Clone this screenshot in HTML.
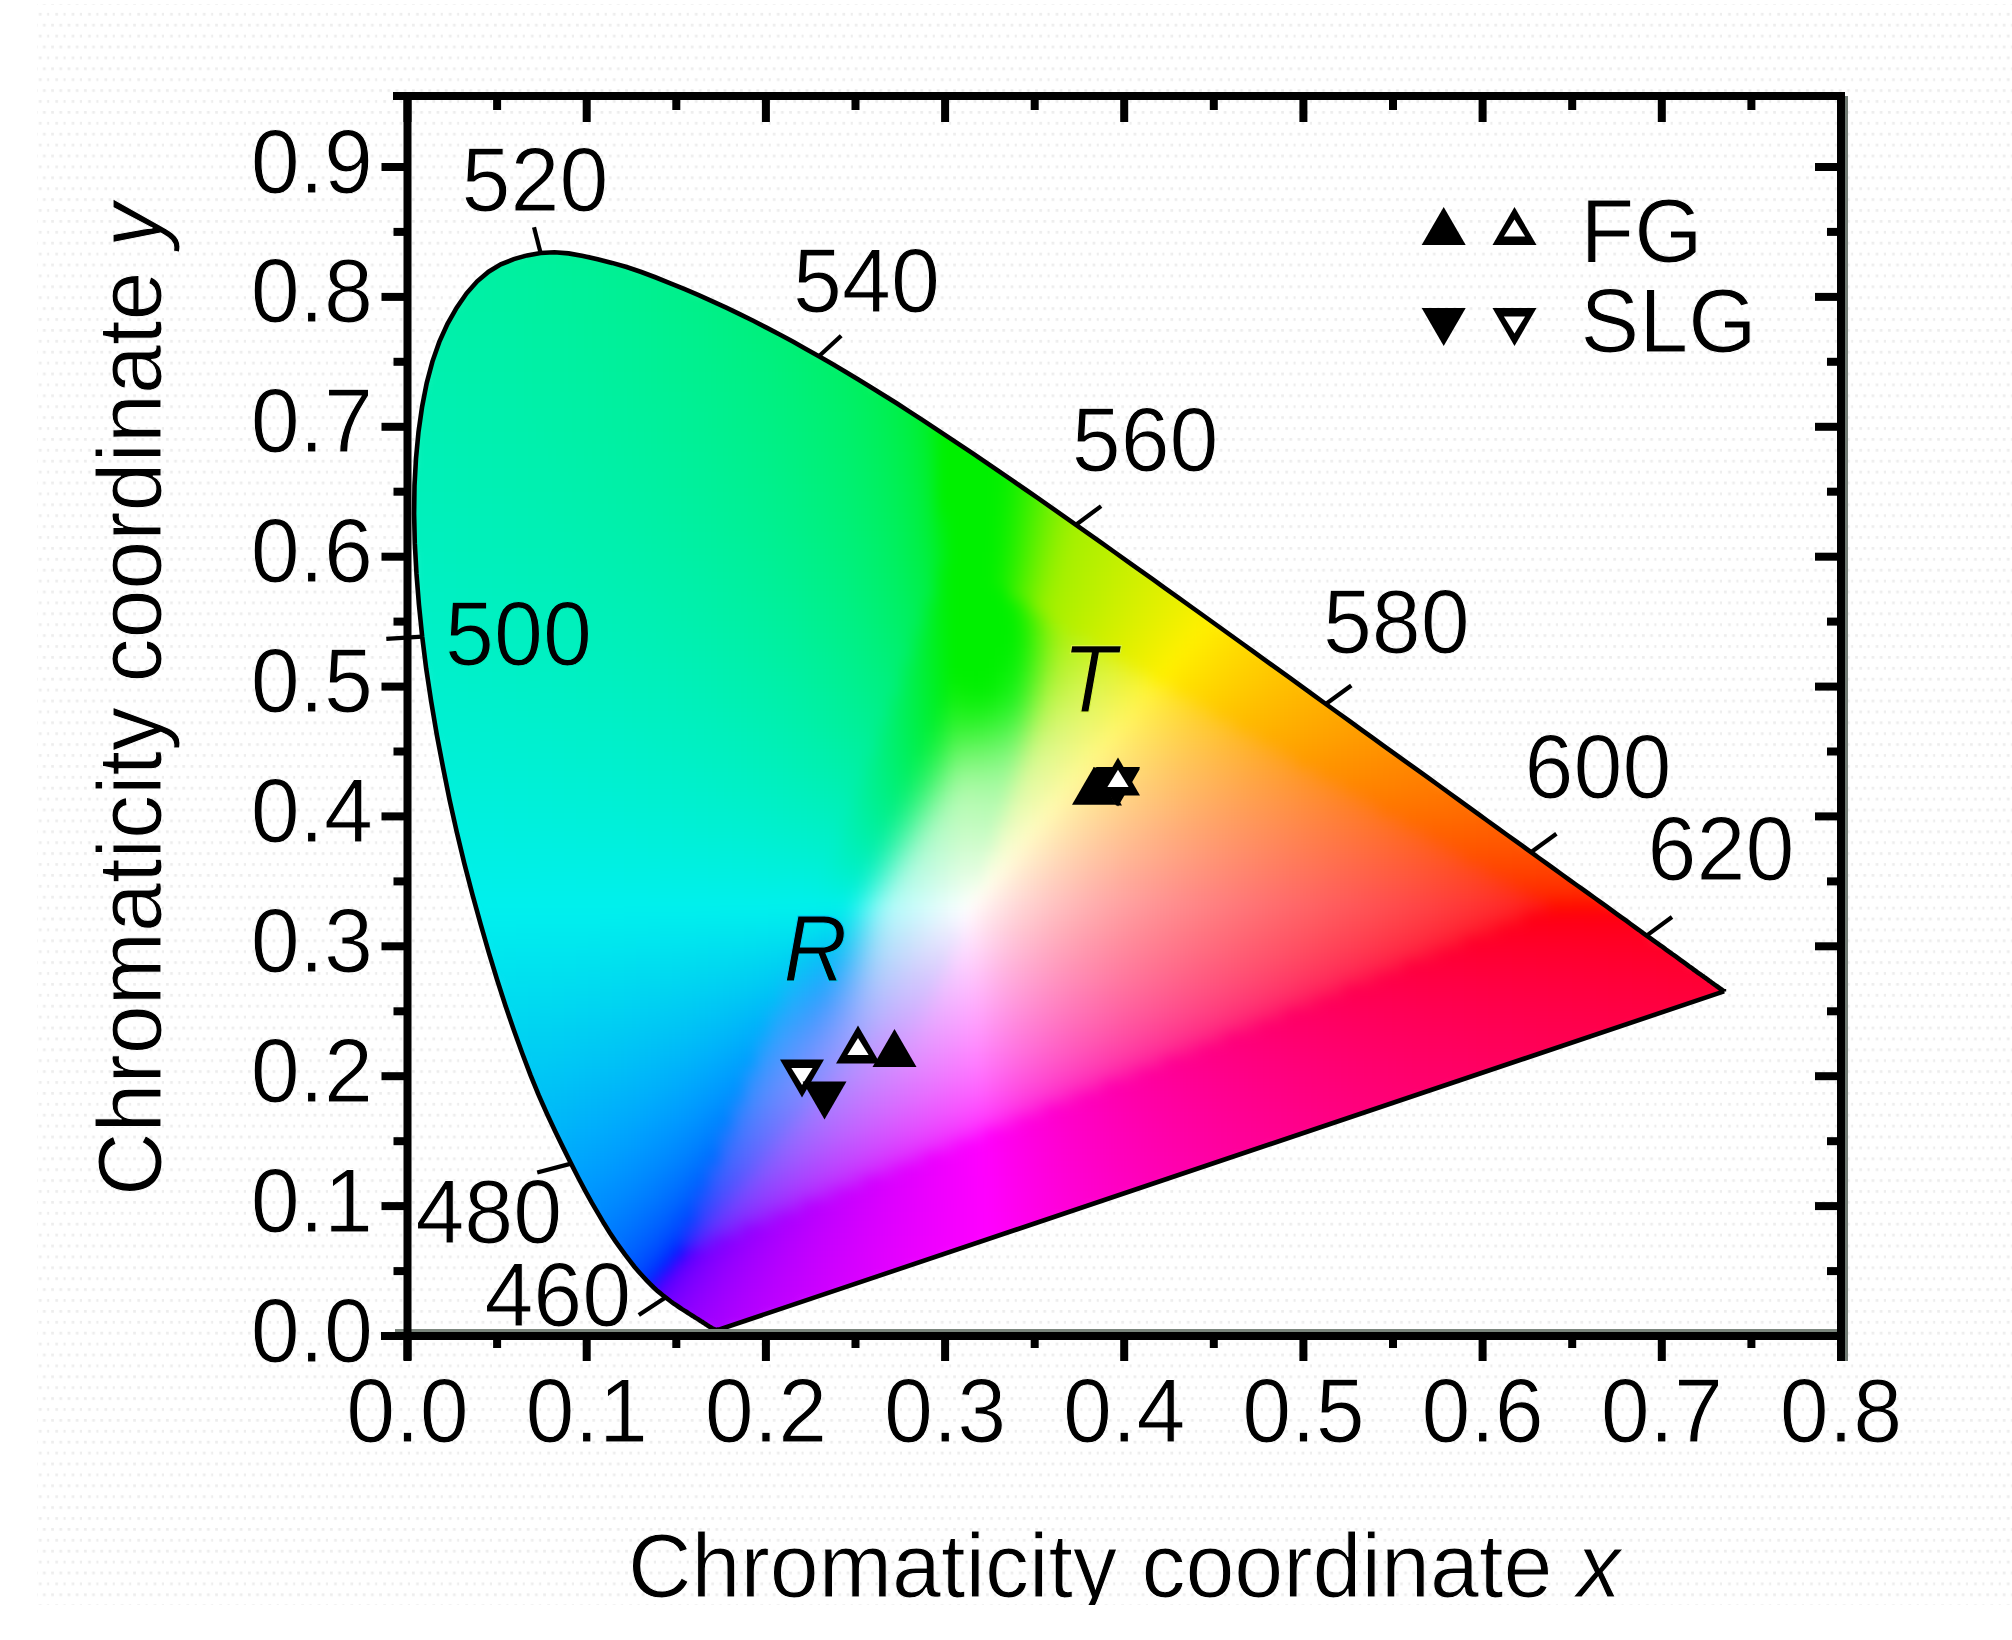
<!DOCTYPE html>
<html><head><meta charset="utf-8"><title>CIE chromaticity diagram</title>
<style>
html,body{margin:0;padding:0;background:#fff}
svg{display:block}
text{font-family:"Liberation Sans",sans-serif;font-size:88px;fill:#000}
.i{font-style:italic}
.t{stroke:#fff;stroke-width:1px}
</style></head><body>
<svg width="2012" height="1640" viewBox="0 0 2012 1640">
<defs>
<pattern id="dots" width="16.4" height="21.8" patternUnits="userSpaceOnUse"><rect x="2" y="2" width="2.7" height="2.7" fill="#ededed"/><rect x="10.2" y="2" width="2.7" height="2.7" fill="#ededed"/><rect x="6.1" y="12.9" width="2.7" height="2.7" fill="#ededed"/><rect x="14.3" y="12.9" width="2.7" height="2.7" fill="#ededed"/></pattern>
<clipPath id="lc"><path d="M719.5 1329.5 719.4 1329.5 719.4 1329.5 719.4 1329.5 719.3 1329.5 719.3 1329.5 719.2 1329.5 719.2 1329.6 719.1 1329.6 719.0 1329.6 718.9 1329.6 718.9 1329.6 718.8 1329.6 718.7 1329.6 718.7 1329.6 718.6 1329.6 718.5 1329.7 718.4 1329.7 718.3 1329.7 718.1 1329.7 718.0 1329.8 717.9 1329.8 717.8 1329.8 717.7 1329.8 717.6 1329.8 717.5 1329.8 717.4 1329.8 717.2 1329.8 717.1 1329.8 716.9 1329.8 716.8 1329.8 716.6 1329.8 716.4 1329.8 716.3 1329.8 716.1 1329.8 715.9 1329.8 715.7 1329.7 715.4 1329.7 715.2 1329.6 714.9 1329.5 714.6 1329.4 714.3 1329.2 713.9 1329.1 713.5 1328.9 713.1 1328.7 712.7 1328.5 712.2 1328.2 711.7 1328.0 711.3 1327.7 710.7 1327.4 710.1 1327.0 709.5 1326.7 708.8 1326.2 708.1 1325.8 707.4 1325.3 706.6 1324.8 705.7 1324.3 704.9 1323.7 704.0 1323.1 703.1 1322.5 702.1 1321.8 701.0 1321.2 699.9 1320.5 698.8 1319.7 697.5 1318.9 696.2 1318.1 694.7 1317.2 693.2 1316.2 691.6 1315.2 689.9 1314.1 688.1 1313.0 686.3 1311.8 684.4 1310.6 682.4 1309.4 680.3 1308.0 678.1 1306.5 675.8 1304.9 673.4 1303.3 670.9 1301.5 668.3 1299.5 665.5 1297.4 662.7 1295.2 659.9 1292.9 656.9 1290.4 653.7 1287.5 650.3 1284.2 646.6 1280.4 642.8 1276.3 638.7 1271.7 634.4 1266.7 629.9 1260.9 625.1 1254.7 620.2 1247.9 615.0 1240.6 609.6 1232.4 603.9 1223.3 597.9 1213.2 591.6 1202.4 585.1 1190.6 578.3 1177.7 571.1 1163.6 563.5 1148.4 555.5 1132.0 547.3 1114.5 538.9 1095.6 530.6 1075.3 522.3 1053.5 513.9 1030.2 505.4 1005.6 497.1 979.8 488.9 952.8 480.7 924.4 472.4 894.4 464.3 863.3 456.7 831.7 449.6 799.9 443.1 767.8 436.8 734.8 431.2 701.6 426.2 668.7 422.2 636.7 419.0 605.2 416.5 574.0 414.8 543.4 414.1 513.8 414.5 485.5 416.0 458.3 418.5 431.9 422.1 406.7 426.7 383.1 432.4 361.6 439.3 341.9 447.5 323.8 456.7 307.6 466.6 293.3 477.2 281.3 488.6 271.7 500.8 264.4 513.8 259.1 527.1 255.4 540.6 253.0 554.4 252.3 568.6 253.4 583.1 255.9 597.6 259.2 612.1 262.9 626.6 267.0 641.3 272.0 655.9 277.5 670.4 283.4 684.7 289.2 698.7 295.1 712.5 301.3 726.2 307.6 739.7 314.1 753.2 320.8 766.5 327.6 779.7 334.5 792.8 341.6 805.9 348.9 818.9 356.2 832.0 363.8 845.0 371.5 857.9 379.3 870.9 387.2 883.8 395.2 896.7 403.3 909.5 411.6 922.3 419.9 935.1 428.3 947.9 436.8 960.7 445.3 973.5 453.9 986.3 462.6 999.1 471.4 1011.9 480.2 1024.7 489.0 1037.6 497.9 1050.4 506.9 1063.2 515.8 1076.0 524.8 1088.8 533.9 1101.6 542.9 1114.4 552.0 1127.1 561.1 1139.8 570.2 1152.6 579.2 1165.3 588.3 1178.0 597.4 1190.7 606.5 1203.3 615.5 1215.8 624.5 1228.3 633.5 1240.8 642.5 1253.1 651.4 1265.4 660.3 1277.7 669.2 1289.9 677.9 1301.9 686.7 1313.9 695.4 1325.8 704.0 1337.6 712.5 1349.3 720.9 1360.9 729.3 1372.4 737.6 1383.7 745.8 1394.9 753.8 1406.0 761.8 1416.9 769.7 1427.7 777.4 1438.2 785.0 1448.5 792.5 1458.7 799.9 1468.7 807.1 1478.4 814.2 1487.8 821.0 1497.0 827.6 1505.8 834.0 1514.4 840.2 1522.8 846.2 1531.0 852.2 1539.0 858.0 1546.9 863.6 1554.5 869.1 1561.9 874.5 1569.0 879.6 1575.8 884.5 1582.4 889.2 1588.7 893.7 1594.7 898.0 1600.5 902.2 1606.1 906.2 1611.5 910.1 1616.6 913.8 1621.5 917.3 1626.2 920.7 1630.6 924.0 1634.9 927.1 1639.0 930.0 1642.8 932.9 1646.6 935.6 1650.2 938.1 1653.6 940.6 1656.8 942.9 1659.9 945.1 1662.9 947.2 1665.7 949.3 1668.5 951.3 1671.0 953.1 1673.5 955.0 1676.0 956.7 1678.3 958.4 1680.6 960.1 1682.8 961.7 1684.9 963.2 1686.9 964.6 1688.8 966.1 1690.7 967.4 1692.5 968.7 1694.2 970.0 1695.9 971.1 1697.4 972.3 1698.9 973.3 1700.4 974.3 1701.7 975.3 1703.0 976.2 1704.2 977.1 1705.4 977.9 1706.4 978.7 1707.4 979.4 1708.4 980.1 1709.3 980.8 1710.2 981.4 1711.0 982.0 1711.8 982.6 1712.5 983.1 1713.2 983.6 1713.9 984.1 1714.5 984.5 1715.0 984.9 1715.6 985.3 1716.0 985.6 1716.5 985.9 1716.8 986.2 1717.2 986.5 1717.5 986.7 1717.9 987.0 1718.2 987.2 1718.6 987.5 1718.9 987.7 1719.2 987.9 1719.4 988.1 1719.7 988.3 1719.9 988.5 1720.2 988.6 1720.4 988.8 1720.7 989.0 1720.9 989.2 1721.2 989.4 1721.4 989.5 1721.7 989.7 1721.9 989.9 1722.1 990.0 1722.3 990.2 1722.5 990.4 1722.7 990.5 1722.9 990.6 1723.1 990.7 1723.2 990.8 1723.3 990.9 1723.5 991.0 1723.6 991.1 1723.6 991.1 1723.7 991.2 1723.8 991.2 1723.8 991.3 1723.9 991.3 1723.9 991.3 1723.9 991.4 1724.0 991.4 1724.0 991.4Z"/></clipPath>
<filter id="bl" x="-5%" y="-5%" width="110%" height="110%" color-interpolation-filters="sRGB"><feGaussianBlur stdDeviation="0.55"/></filter>
</defs>
<rect x="0" y="0" width="2012" height="1640" fill="#fff"/>
<rect x="37" y="4" width="1975" height="1601" fill="url(#dots)"/>
<g clip-path="url(#lc)"><g id="cells" transform="scale(12)" filter="url(#bl)">
<path d="M43 20h1v1h-1z" fill="#00f09d"/>
<path d="M44 20h1v1h-1z" fill="#00f09c"/>
<path d="M45 20h1v1h-1z" fill="#00f09b"/>
<path d="M46 20h1v1h-1z" fill="#00f099"/>
<path d="M47 20h1v1h-1z" fill="#00f098"/>
<path d="M48 20h1v1h-1z" fill="#00f096"/>
<path d="M49 20h1v1h-1z" fill="#00f095"/>
<path d="M40 21h1v1h-1z" fill="#00f0a2"/>
<path d="M41 21h1v1h-1z" fill="#00f0a1"/>
<path d="M42 21h1v1h-1z" fill="#00f0a0"/>
<path d="M43 21h1v1h-1z" fill="#00f09e"/>
<path d="M44 21h1v1h-1z" fill="#00f09d"/>
<path d="M45 21h1v1h-1z" fill="#00f09c"/>
<path d="M46 21h1v1h-1z" fill="#00f09a"/>
<path d="M47 21h1v1h-1z" fill="#00f099"/>
<path d="M48 21h1v1h-1z" fill="#00f097"/>
<path d="M49 21h1v1h-1z" fill="#00f096"/>
<path d="M50 21h1v1h-1z" fill="#00f094"/>
<path d="M51 21h1v1h-1z" fill="#00f093"/>
<path d="M52 21h1v1h-1z" fill="#00f091"/>
<path d="M39 22h1v1h-1z" fill="#00f0a4"/>
<path d="M40 22h1v1h-1z" fill="#00f0a3"/>
<path d="M41 22h1v1h-1z" fill="#00f0a2"/>
<path d="M42 22h1v1h-1z" fill="#00f0a0"/>
<path d="M43 22h1v1h-1z" fill="#00f09f"/>
<path d="M44 22h1v1h-1z" fill="#00f09e"/>
<path d="M45 22h1v1h-1z" fill="#00f09d"/>
<path d="M46 22h1v1h-1z" fill="#00f09b"/>
<path d="M47 22h1v1h-1z" fill="#00f09a"/>
<path d="M48 22h1v1h-1z" fill="#00f098"/>
<path d="M49 22h1v1h-1z" fill="#00f097"/>
<path d="M50 22h1v1h-1z" fill="#00f095"/>
<path d="M51 22h1v1h-1z" fill="#00f093"/>
<path d="M52 22h1v1h-1z" fill="#00f092"/>
<path d="M53 22h1v1h-1z" fill="#00f090"/>
<path d="M54 22h1v1h-1z" fill="#00f08e"/>
<path d="M55 22h1v1h-1z" fill="#00f08c"/>
<path d="M38 23h1v1h-1z" fill="#00f0a6"/>
<path d="M39 23h1v1h-1z" fill="#00f0a5"/>
<path d="M40 23h1v1h-1z" fill="#00f0a4"/>
<path d="M41 23h1v1h-1z" fill="#00f0a2"/>
<path d="M42 23h1v1h-1z" fill="#00f0a1"/>
<path d="M43 23h1v1h-1z" fill="#00f0a0"/>
<path d="M44 23h1v1h-1z" fill="#00f09f"/>
<path d="M45 23h1v1h-1z" fill="#00f09d"/>
<path d="M46 23h1v1h-1z" fill="#00f09c"/>
<path d="M47 23h1v1h-1z" fill="#00f09b"/>
<path d="M48 23h1v1h-1z" fill="#00f099"/>
<path d="M49 23h1v1h-1z" fill="#00f098"/>
<path d="M50 23h1v1h-1z" fill="#00f096"/>
<path d="M51 23h1v1h-1z" fill="#00f094"/>
<path d="M52 23h1v1h-1z" fill="#00f093"/>
<path d="M53 23h1v1h-1z" fill="#00f091"/>
<path d="M54 23h1v1h-1z" fill="#00f08f"/>
<path d="M55 23h1v1h-1z" fill="#00f08d"/>
<path d="M56 23h1v1h-1z" fill="#00f08b"/>
<path d="M57 23h1v1h-1z" fill="#00f089"/>
<path d="M38 24h1v1h-1z" fill="#00f0a7"/>
<path d="M39 24h1v1h-1z" fill="#00f0a6"/>
<path d="M40 24h1v1h-1z" fill="#00f0a4"/>
<path d="M41 24h1v1h-1z" fill="#00f0a3"/>
<path d="M42 24h1v1h-1z" fill="#00f0a2"/>
<path d="M43 24h1v1h-1z" fill="#00f0a1"/>
<path d="M44 24h1v1h-1z" fill="#00f0a0"/>
<path d="M45 24h1v1h-1z" fill="#00f09e"/>
<path d="M46 24h1v1h-1z" fill="#00f09d"/>
<path d="M47 24h1v1h-1z" fill="#00f09c"/>
<path d="M48 24h1v1h-1z" fill="#00f09a"/>
<path d="M49 24h1v1h-1z" fill="#00f099"/>
<path d="M50 24h1v1h-1z" fill="#00f097"/>
<path d="M51 24h1v1h-1z" fill="#00f095"/>
<path d="M52 24h1v1h-1z" fill="#00f094"/>
<path d="M53 24h1v1h-1z" fill="#00f092"/>
<path d="M54 24h1v1h-1z" fill="#00f090"/>
<path d="M55 24h1v1h-1z" fill="#00f08e"/>
<path d="M56 24h1v1h-1z" fill="#00f08c"/>
<path d="M57 24h1v1h-1z" fill="#00f08a"/>
<path d="M58 24h1v1h-1z" fill="#00f088"/>
<path d="M59 24h1v1h-1z" fill="#00f085"/>
<path d="M60 24h1v1h-1z" fill="#00f083"/>
<path d="M37 25h1v1h-1z" fill="#00f0a9"/>
<path d="M38 25h1v1h-1z" fill="#00f0a8"/>
<path d="M39 25h1v1h-1z" fill="#00f0a6"/>
<path d="M40 25h1v1h-1z" fill="#00f0a5"/>
<path d="M41 25h1v1h-1z" fill="#00f0a4"/>
<path d="M42 25h1v1h-1z" fill="#00f0a3"/>
<path d="M43 25h1v1h-1z" fill="#00f0a2"/>
<path d="M44 25h1v1h-1z" fill="#00f0a1"/>
<path d="M45 25h1v1h-1z" fill="#00f09f"/>
<path d="M46 25h1v1h-1z" fill="#00f09e"/>
<path d="M47 25h1v1h-1z" fill="#00f09d"/>
<path d="M48 25h1v1h-1z" fill="#00f09b"/>
<path d="M49 25h1v1h-1z" fill="#00f09a"/>
<path d="M50 25h1v1h-1z" fill="#00f098"/>
<path d="M51 25h1v1h-1z" fill="#00f096"/>
<path d="M52 25h1v1h-1z" fill="#00f095"/>
<path d="M53 25h1v1h-1z" fill="#00f093"/>
<path d="M54 25h1v1h-1z" fill="#00f091"/>
<path d="M55 25h1v1h-1z" fill="#00f08f"/>
<path d="M56 25h1v1h-1z" fill="#00f08d"/>
<path d="M57 25h1v1h-1z" fill="#00f08b"/>
<path d="M58 25h1v1h-1z" fill="#00f089"/>
<path d="M59 25h1v1h-1z" fill="#00f086"/>
<path d="M60 25h1v1h-1z" fill="#00f084"/>
<path d="M61 25h1v1h-1z" fill="#00f081"/>
<path d="M62 25h1v1h-1z" fill="#00f07e"/>
<path d="M36 26h1v1h-1z" fill="#00f0aa"/>
<path d="M37 26h1v1h-1z" fill="#00f0a9"/>
<path d="M38 26h1v1h-1z" fill="#00f0a8"/>
<path d="M39 26h1v1h-1z" fill="#00f0a7"/>
<path d="M40 26h1v1h-1z" fill="#00f0a6"/>
<path d="M41 26h1v1h-1z" fill="#00f0a5"/>
<path d="M42 26h1v1h-1z" fill="#00f0a4"/>
<path d="M43 26h1v1h-1z" fill="#00f0a3"/>
<path d="M44 26h1v1h-1z" fill="#00f0a1"/>
<path d="M45 26h1v1h-1z" fill="#00f0a0"/>
<path d="M46 26h1v1h-1z" fill="#00f09f"/>
<path d="M47 26h1v1h-1z" fill="#00f09d"/>
<path d="M48 26h1v1h-1z" fill="#00f09c"/>
<path d="M49 26h1v1h-1z" fill="#00f09a"/>
<path d="M50 26h1v1h-1z" fill="#00f099"/>
<path d="M51 26h1v1h-1z" fill="#00f097"/>
<path d="M52 26h1v1h-1z" fill="#00f096"/>
<path d="M53 26h1v1h-1z" fill="#00f094"/>
<path d="M54 26h1v1h-1z" fill="#00f092"/>
<path d="M55 26h1v1h-1z" fill="#00f090"/>
<path d="M56 26h1v1h-1z" fill="#00f08e"/>
<path d="M57 26h1v1h-1z" fill="#00f08c"/>
<path d="M58 26h1v1h-1z" fill="#00f08a"/>
<path d="M59 26h1v1h-1z" fill="#00f087"/>
<path d="M60 26h1v1h-1z" fill="#00f085"/>
<path d="M61 26h1v1h-1z" fill="#00f082"/>
<path d="M62 26h1v1h-1z" fill="#00f07f"/>
<path d="M63 26h1v1h-1z" fill="#00f07c"/>
<path d="M64 26h1v1h-1z" fill="#00f079"/>
<path d="M36 27h1v1h-1z" fill="#00f0ab"/>
<path d="M37 27h1v1h-1z" fill="#00f0aa"/>
<path d="M38 27h1v1h-1z" fill="#00f0a9"/>
<path d="M39 27h1v1h-1z" fill="#00f0a8"/>
<path d="M40 27h1v1h-1z" fill="#00f0a7"/>
<path d="M41 27h1v1h-1z" fill="#00f0a6"/>
<path d="M42 27h1v1h-1z" fill="#00f0a5"/>
<path d="M43 27h1v1h-1z" fill="#00f0a4"/>
<path d="M44 27h1v1h-1z" fill="#00f0a2"/>
<path d="M45 27h1v1h-1z" fill="#00f0a1"/>
<path d="M46 27h1v1h-1z" fill="#00f0a0"/>
<path d="M47 27h1v1h-1z" fill="#00f09e"/>
<path d="M48 27h1v1h-1z" fill="#00f09d"/>
<path d="M49 27h1v1h-1z" fill="#00f09b"/>
<path d="M50 27h1v1h-1z" fill="#00f09a"/>
<path d="M51 27h1v1h-1z" fill="#00f098"/>
<path d="M52 27h1v1h-1z" fill="#00f097"/>
<path d="M53 27h1v1h-1z" fill="#00f095"/>
<path d="M54 27h1v1h-1z" fill="#00f093"/>
<path d="M55 27h1v1h-1z" fill="#00f091"/>
<path d="M56 27h1v1h-1z" fill="#00f08f"/>
<path d="M57 27h1v1h-1z" fill="#00f08d"/>
<path d="M58 27h1v1h-1z" fill="#00f08b"/>
<path d="M59 27h1v1h-1z" fill="#00f088"/>
<path d="M60 27h1v1h-1z" fill="#00f086"/>
<path d="M61 27h1v1h-1z" fill="#00f083"/>
<path d="M62 27h1v1h-1z" fill="#00f080"/>
<path d="M63 27h1v1h-1z" fill="#00f07d"/>
<path d="M64 27h1v1h-1z" fill="#00f07a"/>
<path d="M65 27h1v1h-1z" fill="#00f077"/>
<path d="M66 27h1v1h-1z" fill="#00f073"/>
<path d="M35 28h1v1h-1z" fill="#00f0ad"/>
<path d="M36 28h1v1h-1z" fill="#00f0ac"/>
<path d="M37 28h1v1h-1z" fill="#00f0ab"/>
<path d="M38 28h1v1h-1z" fill="#00f0aa"/>
<path d="M39 28h1v1h-1z" fill="#00f0a9"/>
<path d="M40 28h1v1h-1z" fill="#00f0a8"/>
<path d="M41 28h1v1h-1z" fill="#00f0a7"/>
<path d="M42 28h1v1h-1z" fill="#00f0a6"/>
<path d="M43 28h1v1h-1z" fill="#00f0a5"/>
<path d="M44 28h1v1h-1z" fill="#00f0a3"/>
<path d="M45 28h1v1h-1z" fill="#00f0a2"/>
<path d="M46 28h1v1h-1z" fill="#00f0a1"/>
<path d="M47 28h1v1h-1z" fill="#00f09f"/>
<path d="M48 28h1v1h-1z" fill="#00f09e"/>
<path d="M49 28h1v1h-1z" fill="#00f09c"/>
<path d="M50 28h1v1h-1z" fill="#00f09b"/>
<path d="M51 28h1v1h-1z" fill="#00f099"/>
<path d="M52 28h1v1h-1z" fill="#00f098"/>
<path d="M53 28h1v1h-1z" fill="#00f096"/>
<path d="M54 28h1v1h-1z" fill="#00f094"/>
<path d="M55 28h1v1h-1z" fill="#00f092"/>
<path d="M56 28h1v1h-1z" fill="#00f090"/>
<path d="M57 28h1v1h-1z" fill="#00f08e"/>
<path d="M58 28h1v1h-1z" fill="#00f08c"/>
<path d="M59 28h1v1h-1z" fill="#00f089"/>
<path d="M60 28h1v1h-1z" fill="#00f087"/>
<path d="M61 28h1v1h-1z" fill="#00f084"/>
<path d="M62 28h1v1h-1z" fill="#00f081"/>
<path d="M63 28h1v1h-1z" fill="#00f07e"/>
<path d="M64 28h1v1h-1z" fill="#00f07b"/>
<path d="M65 28h1v1h-1z" fill="#00f078"/>
<path d="M66 28h1v1h-1z" fill="#00f074"/>
<path d="M67 28h1v1h-1z" fill="#00f070"/>
<path d="M35 29h1v1h-1z" fill="#00f0ae"/>
<path d="M36 29h1v1h-1z" fill="#00f0ad"/>
<path d="M37 29h1v1h-1z" fill="#00f0ac"/>
<path d="M38 29h1v1h-1z" fill="#00f0ab"/>
<path d="M39 29h1v1h-1z" fill="#00f0aa"/>
<path d="M40 29h1v1h-1z" fill="#00f0a9"/>
<path d="M41 29h1v1h-1z" fill="#00f0a8"/>
<path d="M42 29h1v1h-1z" fill="#00f0a7"/>
<path d="M43 29h1v1h-1z" fill="#00f0a6"/>
<path d="M44 29h1v1h-1z" fill="#00f0a4"/>
<path d="M45 29h1v1h-1z" fill="#00f0a3"/>
<path d="M46 29h1v1h-1z" fill="#00f0a2"/>
<path d="M47 29h1v1h-1z" fill="#00f0a0"/>
<path d="M48 29h1v1h-1z" fill="#00f09f"/>
<path d="M49 29h1v1h-1z" fill="#00f09d"/>
<path d="M50 29h1v1h-1z" fill="#00f09c"/>
<path d="M51 29h1v1h-1z" fill="#00f09a"/>
<path d="M52 29h1v1h-1z" fill="#00f099"/>
<path d="M53 29h1v1h-1z" fill="#00f097"/>
<path d="M54 29h1v1h-1z" fill="#00f095"/>
<path d="M55 29h1v1h-1z" fill="#00f093"/>
<path d="M56 29h1v1h-1z" fill="#00f091"/>
<path d="M57 29h1v1h-1z" fill="#00f08f"/>
<path d="M58 29h1v1h-1z" fill="#00f08d"/>
<path d="M59 29h1v1h-1z" fill="#00f08a"/>
<path d="M60 29h1v1h-1z" fill="#00f088"/>
<path d="M61 29h1v1h-1z" fill="#00f085"/>
<path d="M62 29h1v1h-1z" fill="#00f083"/>
<path d="M63 29h1v1h-1z" fill="#00f080"/>
<path d="M64 29h1v1h-1z" fill="#00f07c"/>
<path d="M65 29h1v1h-1z" fill="#00f079"/>
<path d="M66 29h1v1h-1z" fill="#00f075"/>
<path d="M67 29h1v1h-1z" fill="#00f071"/>
<path d="M68 29h1v1h-1z" fill="#00f06d"/>
<path d="M69 29h1v1h-1z" fill="#00f069"/>
<path d="M35 30h1v1h-1z" fill="#00f0af"/>
<path d="M36 30h1v1h-1z" fill="#00f0ae"/>
<path d="M37 30h1v1h-1z" fill="#00f0ad"/>
<path d="M38 30h1v1h-1z" fill="#00f0ac"/>
<path d="M39 30h1v1h-1z" fill="#00f0ab"/>
<path d="M40 30h1v1h-1z" fill="#00f0aa"/>
<path d="M41 30h1v1h-1z" fill="#00f0a9"/>
<path d="M42 30h1v1h-1z" fill="#00f0a8"/>
<path d="M43 30h1v1h-1z" fill="#00f0a7"/>
<path d="M44 30h1v1h-1z" fill="#00f0a5"/>
<path d="M45 30h1v1h-1z" fill="#00f0a4"/>
<path d="M46 30h1v1h-1z" fill="#00f0a3"/>
<path d="M47 30h1v1h-1z" fill="#00f0a1"/>
<path d="M48 30h1v1h-1z" fill="#00f0a0"/>
<path d="M49 30h1v1h-1z" fill="#00f09f"/>
<path d="M50 30h1v1h-1z" fill="#00f09d"/>
<path d="M51 30h1v1h-1z" fill="#00f09b"/>
<path d="M52 30h1v1h-1z" fill="#00f09a"/>
<path d="M53 30h1v1h-1z" fill="#00f098"/>
<path d="M54 30h1v1h-1z" fill="#00f096"/>
<path d="M55 30h1v1h-1z" fill="#00f094"/>
<path d="M56 30h1v1h-1z" fill="#00f092"/>
<path d="M57 30h1v1h-1z" fill="#00f090"/>
<path d="M58 30h1v1h-1z" fill="#00f08e"/>
<path d="M59 30h1v1h-1z" fill="#00f08c"/>
<path d="M60 30h1v1h-1z" fill="#00f089"/>
<path d="M61 30h1v1h-1z" fill="#00f086"/>
<path d="M62 30h1v1h-1z" fill="#00f084"/>
<path d="M63 30h1v1h-1z" fill="#00f081"/>
<path d="M64 30h1v1h-1z" fill="#00f07e"/>
<path d="M65 30h1v1h-1z" fill="#00f07a"/>
<path d="M66 30h1v1h-1z" fill="#00f077"/>
<path d="M67 30h1v1h-1z" fill="#00f073"/>
<path d="M68 30h1v1h-1z" fill="#00f06e"/>
<path d="M69 30h1v1h-1z" fill="#00f06a"/>
<path d="M70 30h1v1h-1z" fill="#00f065"/>
<path d="M71 30h1v1h-1z" fill="#00f05f"/>
<path d="M35 31h1v1h-1z" fill="#00f0b0"/>
<path d="M36 31h1v1h-1z" fill="#00f0af"/>
<path d="M37 31h1v1h-1z" fill="#00f0ae"/>
<path d="M38 31h1v1h-1z" fill="#00f0ad"/>
<path d="M39 31h1v1h-1z" fill="#00f0ac"/>
<path d="M40 31h1v1h-1z" fill="#00f0ab"/>
<path d="M41 31h1v1h-1z" fill="#00f0aa"/>
<path d="M42 31h1v1h-1z" fill="#00f0a9"/>
<path d="M43 31h1v1h-1z" fill="#00f0a8"/>
<path d="M44 31h1v1h-1z" fill="#00f0a6"/>
<path d="M45 31h1v1h-1z" fill="#00f0a5"/>
<path d="M46 31h1v1h-1z" fill="#00f0a4"/>
<path d="M47 31h1v1h-1z" fill="#00f0a2"/>
<path d="M48 31h1v1h-1z" fill="#00f0a1"/>
<path d="M49 31h1v1h-1z" fill="#00f0a0"/>
<path d="M50 31h1v1h-1z" fill="#00f09e"/>
<path d="M51 31h1v1h-1z" fill="#00f09c"/>
<path d="M52 31h1v1h-1z" fill="#00f09b"/>
<path d="M53 31h1v1h-1z" fill="#00f099"/>
<path d="M54 31h1v1h-1z" fill="#00f097"/>
<path d="M55 31h1v1h-1z" fill="#00f095"/>
<path d="M56 31h1v1h-1z" fill="#00f093"/>
<path d="M57 31h1v1h-1z" fill="#00f091"/>
<path d="M58 31h1v1h-1z" fill="#00f08f"/>
<path d="M59 31h1v1h-1z" fill="#00f08d"/>
<path d="M60 31h1v1h-1z" fill="#00f08a"/>
<path d="M61 31h1v1h-1z" fill="#00f088"/>
<path d="M62 31h1v1h-1z" fill="#00f085"/>
<path d="M63 31h1v1h-1z" fill="#00f082"/>
<path d="M64 31h1v1h-1z" fill="#00f07f"/>
<path d="M65 31h1v1h-1z" fill="#00f07b"/>
<path d="M66 31h1v1h-1z" fill="#00f078"/>
<path d="M67 31h1v1h-1z" fill="#00f074"/>
<path d="M68 31h1v1h-1z" fill="#00f070"/>
<path d="M69 31h1v1h-1z" fill="#00f06b"/>
<path d="M70 31h1v1h-1z" fill="#00f066"/>
<path d="M71 31h1v1h-1z" fill="#00f060"/>
<path d="M72 31h1v1h-1z" fill="#00f05a"/>
<path d="M34 32h1v1h-1z" fill="#00f0b2"/>
<path d="M35 32h1v1h-1z" fill="#00f0b1"/>
<path d="M36 32h1v1h-1z" fill="#00f0b0"/>
<path d="M37 32h1v1h-1z" fill="#00f0af"/>
<path d="M38 32h1v1h-1z" fill="#00f0ae"/>
<path d="M39 32h1v1h-1z" fill="#00f0ad"/>
<path d="M40 32h1v1h-1z" fill="#00f0ac"/>
<path d="M41 32h1v1h-1z" fill="#00f0ab"/>
<path d="M42 32h1v1h-1z" fill="#00f0aa"/>
<path d="M43 32h1v1h-1z" fill="#00f0a9"/>
<path d="M44 32h1v1h-1z" fill="#00f0a7"/>
<path d="M45 32h1v1h-1z" fill="#00f0a6"/>
<path d="M46 32h1v1h-1z" fill="#00f0a5"/>
<path d="M47 32h1v1h-1z" fill="#00f0a3"/>
<path d="M48 32h1v1h-1z" fill="#00f0a2"/>
<path d="M49 32h1v1h-1z" fill="#00f0a1"/>
<path d="M50 32h1v1h-1z" fill="#00f09f"/>
<path d="M51 32h1v1h-1z" fill="#00f09e"/>
<path d="M52 32h1v1h-1z" fill="#00f09c"/>
<path d="M53 32h1v1h-1z" fill="#00f09a"/>
<path d="M54 32h1v1h-1z" fill="#00f098"/>
<path d="M55 32h1v1h-1z" fill="#00f096"/>
<path d="M56 32h1v1h-1z" fill="#00f094"/>
<path d="M57 32h1v1h-1z" fill="#00f092"/>
<path d="M58 32h1v1h-1z" fill="#00f090"/>
<path d="M59 32h1v1h-1z" fill="#00f08e"/>
<path d="M60 32h1v1h-1z" fill="#00f08b"/>
<path d="M61 32h1v1h-1z" fill="#00f089"/>
<path d="M62 32h1v1h-1z" fill="#00f086"/>
<path d="M63 32h1v1h-1z" fill="#00f083"/>
<path d="M64 32h1v1h-1z" fill="#00f080"/>
<path d="M65 32h1v1h-1z" fill="#00f07d"/>
<path d="M66 32h1v1h-1z" fill="#00f079"/>
<path d="M67 32h1v1h-1z" fill="#00f075"/>
<path d="M68 32h1v1h-1z" fill="#00f071"/>
<path d="M69 32h1v1h-1z" fill="#00f06c"/>
<path d="M70 32h1v1h-1z" fill="#00f067"/>
<path d="M71 32h1v1h-1z" fill="#00f061"/>
<path d="M72 32h1v1h-1z" fill="#00f05b"/>
<path d="M73 32h1v1h-1z" fill="#00f054"/>
<path d="M74 32h1v1h-1z" fill="#00f04b"/>
<path d="M34 33h1v1h-1z" fill="#00f0b3"/>
<path d="M35 33h1v1h-1z" fill="#00f0b2"/>
<path d="M36 33h1v1h-1z" fill="#00f0b1"/>
<path d="M37 33h1v1h-1z" fill="#00f0b0"/>
<path d="M38 33h1v1h-1z" fill="#00f0af"/>
<path d="M39 33h1v1h-1z" fill="#00f0ae"/>
<path d="M40 33h1v1h-1z" fill="#00f0ad"/>
<path d="M41 33h1v1h-1z" fill="#00f0ac"/>
<path d="M42 33h1v1h-1z" fill="#00f0ab"/>
<path d="M43 33h1v1h-1z" fill="#00f0aa"/>
<path d="M44 33h1v1h-1z" fill="#00f0a8"/>
<path d="M45 33h1v1h-1z" fill="#00f0a7"/>
<path d="M46 33h1v1h-1z" fill="#00f0a6"/>
<path d="M47 33h1v1h-1z" fill="#00f0a5"/>
<path d="M48 33h1v1h-1z" fill="#00f0a3"/>
<path d="M49 33h1v1h-1z" fill="#00f0a2"/>
<path d="M50 33h1v1h-1z" fill="#00f0a0"/>
<path d="M51 33h1v1h-1z" fill="#00f09f"/>
<path d="M52 33h1v1h-1z" fill="#00f09d"/>
<path d="M53 33h1v1h-1z" fill="#00f09b"/>
<path d="M54 33h1v1h-1z" fill="#00f099"/>
<path d="M55 33h1v1h-1z" fill="#00f098"/>
<path d="M56 33h1v1h-1z" fill="#00f096"/>
<path d="M57 33h1v1h-1z" fill="#00f094"/>
<path d="M58 33h1v1h-1z" fill="#00f091"/>
<path d="M59 33h1v1h-1z" fill="#00f08f"/>
<path d="M60 33h1v1h-1z" fill="#00f08d"/>
<path d="M61 33h1v1h-1z" fill="#00f08a"/>
<path d="M62 33h1v1h-1z" fill="#00f087"/>
<path d="M63 33h1v1h-1z" fill="#00f084"/>
<path d="M64 33h1v1h-1z" fill="#00f081"/>
<path d="M65 33h1v1h-1z" fill="#00f07e"/>
<path d="M66 33h1v1h-1z" fill="#00f07a"/>
<path d="M67 33h1v1h-1z" fill="#00f076"/>
<path d="M68 33h1v1h-1z" fill="#00f072"/>
<path d="M69 33h1v1h-1z" fill="#00f06d"/>
<path d="M70 33h1v1h-1z" fill="#00f068"/>
<path d="M71 33h1v1h-1z" fill="#00f063"/>
<path d="M72 33h1v1h-1z" fill="#00f05c"/>
<path d="M73 33h1v1h-1z" fill="#00f055"/>
<path d="M74 33h1v1h-1z" fill="#00f04d"/>
<path d="M75 33h1v1h-1z" fill="#00f042"/>
<path d="M76 33h1v1h-1z" fill="#00f035"/>
<path d="M34 34h1v1h-1z" fill="#00f0b4"/>
<path d="M35 34h1v1h-1z" fill="#00f0b3"/>
<path d="M36 34h1v1h-1z" fill="#00f0b2"/>
<path d="M37 34h1v1h-1z" fill="#00f0b1"/>
<path d="M38 34h1v1h-1z" fill="#00f0b0"/>
<path d="M39 34h1v1h-1z" fill="#00f0af"/>
<path d="M40 34h1v1h-1z" fill="#00f0ae"/>
<path d="M41 34h1v1h-1z" fill="#00f0ad"/>
<path d="M42 34h1v1h-1z" fill="#00f0ac"/>
<path d="M43 34h1v1h-1z" fill="#00f0ab"/>
<path d="M44 34h1v1h-1z" fill="#00f0a9"/>
<path d="M45 34h1v1h-1z" fill="#00f0a8"/>
<path d="M46 34h1v1h-1z" fill="#00f0a7"/>
<path d="M47 34h1v1h-1z" fill="#00f0a6"/>
<path d="M48 34h1v1h-1z" fill="#00f0a4"/>
<path d="M49 34h1v1h-1z" fill="#00f0a3"/>
<path d="M50 34h1v1h-1z" fill="#00f0a1"/>
<path d="M51 34h1v1h-1z" fill="#00f0a0"/>
<path d="M52 34h1v1h-1z" fill="#00f09e"/>
<path d="M53 34h1v1h-1z" fill="#00f09c"/>
<path d="M54 34h1v1h-1z" fill="#00f09b"/>
<path d="M55 34h1v1h-1z" fill="#00f099"/>
<path d="M56 34h1v1h-1z" fill="#00f097"/>
<path d="M57 34h1v1h-1z" fill="#00f095"/>
<path d="M58 34h1v1h-1z" fill="#00f093"/>
<path d="M59 34h1v1h-1z" fill="#00f090"/>
<path d="M60 34h1v1h-1z" fill="#00f08e"/>
<path d="M61 34h1v1h-1z" fill="#00f08b"/>
<path d="M62 34h1v1h-1z" fill="#00f088"/>
<path d="M63 34h1v1h-1z" fill="#00f086"/>
<path d="M64 34h1v1h-1z" fill="#00f082"/>
<path d="M65 34h1v1h-1z" fill="#00f07f"/>
<path d="M66 34h1v1h-1z" fill="#00f07b"/>
<path d="M67 34h1v1h-1z" fill="#00f078"/>
<path d="M68 34h1v1h-1z" fill="#00f073"/>
<path d="M69 34h1v1h-1z" fill="#00f06f"/>
<path d="M70 34h1v1h-1z" fill="#00f06a"/>
<path d="M71 34h1v1h-1z" fill="#00f064"/>
<path d="M72 34h1v1h-1z" fill="#00f05e"/>
<path d="M73 34h1v1h-1z" fill="#00f056"/>
<path d="M74 34h1v1h-1z" fill="#00f04e"/>
<path d="M75 34h1v1h-1z" fill="#00f044"/>
<path d="M76 34h1v1h-1z" fill="#00f036"/>
<path d="M77 34h1v1h-1z" fill="#00f021"/>
<path d="M34 35h1v1h-1z" fill="#00f0b5"/>
<path d="M35 35h1v1h-1z" fill="#00f0b4"/>
<path d="M36 35h1v1h-1z" fill="#00f0b3"/>
<path d="M37 35h1v1h-1z" fill="#00f0b2"/>
<path d="M38 35h1v1h-1z" fill="#00f0b1"/>
<path d="M39 35h1v1h-1z" fill="#00f0b0"/>
<path d="M40 35h1v1h-1z" fill="#00f0af"/>
<path d="M41 35h1v1h-1z" fill="#00f0ae"/>
<path d="M42 35h1v1h-1z" fill="#00f0ad"/>
<path d="M43 35h1v1h-1z" fill="#00f0ac"/>
<path d="M44 35h1v1h-1z" fill="#00f0ab"/>
<path d="M45 35h1v1h-1z" fill="#00f0a9"/>
<path d="M46 35h1v1h-1z" fill="#00f0a8"/>
<path d="M47 35h1v1h-1z" fill="#00f0a7"/>
<path d="M48 35h1v1h-1z" fill="#00f0a5"/>
<path d="M49 35h1v1h-1z" fill="#00f0a4"/>
<path d="M50 35h1v1h-1z" fill="#00f0a2"/>
<path d="M51 35h1v1h-1z" fill="#00f0a1"/>
<path d="M52 35h1v1h-1z" fill="#00f09f"/>
<path d="M53 35h1v1h-1z" fill="#00f09e"/>
<path d="M54 35h1v1h-1z" fill="#00f09c"/>
<path d="M55 35h1v1h-1z" fill="#00f09a"/>
<path d="M56 35h1v1h-1z" fill="#00f098"/>
<path d="M57 35h1v1h-1z" fill="#00f096"/>
<path d="M58 35h1v1h-1z" fill="#00f094"/>
<path d="M59 35h1v1h-1z" fill="#00f091"/>
<path d="M60 35h1v1h-1z" fill="#00f08f"/>
<path d="M61 35h1v1h-1z" fill="#00f08c"/>
<path d="M62 35h1v1h-1z" fill="#00f08a"/>
<path d="M63 35h1v1h-1z" fill="#00f087"/>
<path d="M64 35h1v1h-1z" fill="#00f084"/>
<path d="M65 35h1v1h-1z" fill="#00f080"/>
<path d="M66 35h1v1h-1z" fill="#00f07d"/>
<path d="M67 35h1v1h-1z" fill="#00f079"/>
<path d="M68 35h1v1h-1z" fill="#00f075"/>
<path d="M69 35h1v1h-1z" fill="#00f070"/>
<path d="M70 35h1v1h-1z" fill="#00f06b"/>
<path d="M71 35h1v1h-1z" fill="#00f065"/>
<path d="M72 35h1v1h-1z" fill="#00f05f"/>
<path d="M73 35h1v1h-1z" fill="#00f058"/>
<path d="M74 35h1v1h-1z" fill="#00f04f"/>
<path d="M75 35h1v1h-1z" fill="#00f045"/>
<path d="M76 35h1v1h-1z" fill="#00f038"/>
<path d="M77 35h1v1h-1z" fill="#00f023"/>
<path d="M78 35h1v1h-1z" fill="#00f000"/>
<path d="M79 35h1v1h-1z" fill="#00f000"/>
<path d="M34 36h1v1h-1z" fill="#00f0b6"/>
<path d="M35 36h1v1h-1z" fill="#00f0b5"/>
<path d="M36 36h1v1h-1z" fill="#00f0b4"/>
<path d="M37 36h1v1h-1z" fill="#00f0b3"/>
<path d="M38 36h1v1h-1z" fill="#00f0b2"/>
<path d="M39 36h1v1h-1z" fill="#00f0b1"/>
<path d="M40 36h1v1h-1z" fill="#00f0b0"/>
<path d="M41 36h1v1h-1z" fill="#00f0af"/>
<path d="M42 36h1v1h-1z" fill="#00f0ae"/>
<path d="M43 36h1v1h-1z" fill="#00f0ad"/>
<path d="M44 36h1v1h-1z" fill="#00f0ac"/>
<path d="M45 36h1v1h-1z" fill="#00f0aa"/>
<path d="M46 36h1v1h-1z" fill="#00f0a9"/>
<path d="M47 36h1v1h-1z" fill="#00f0a8"/>
<path d="M48 36h1v1h-1z" fill="#00f0a6"/>
<path d="M49 36h1v1h-1z" fill="#00f0a5"/>
<path d="M50 36h1v1h-1z" fill="#00f0a4"/>
<path d="M51 36h1v1h-1z" fill="#00f0a2"/>
<path d="M52 36h1v1h-1z" fill="#00f0a0"/>
<path d="M53 36h1v1h-1z" fill="#00f09f"/>
<path d="M54 36h1v1h-1z" fill="#00f09d"/>
<path d="M55 36h1v1h-1z" fill="#00f09b"/>
<path d="M56 36h1v1h-1z" fill="#00f099"/>
<path d="M57 36h1v1h-1z" fill="#00f097"/>
<path d="M58 36h1v1h-1z" fill="#00f095"/>
<path d="M59 36h1v1h-1z" fill="#00f093"/>
<path d="M60 36h1v1h-1z" fill="#00f090"/>
<path d="M61 36h1v1h-1z" fill="#00f08e"/>
<path d="M62 36h1v1h-1z" fill="#00f08b"/>
<path d="M63 36h1v1h-1z" fill="#00f088"/>
<path d="M64 36h1v1h-1z" fill="#00f085"/>
<path d="M65 36h1v1h-1z" fill="#00f082"/>
<path d="M66 36h1v1h-1z" fill="#00f07e"/>
<path d="M67 36h1v1h-1z" fill="#00f07a"/>
<path d="M68 36h1v1h-1z" fill="#00f076"/>
<path d="M69 36h1v1h-1z" fill="#00f071"/>
<path d="M70 36h1v1h-1z" fill="#00f06c"/>
<path d="M71 36h1v1h-1z" fill="#00f067"/>
<path d="M72 36h1v1h-1z" fill="#00f060"/>
<path d="M73 36h1v1h-1z" fill="#00f059"/>
<path d="M74 36h1v1h-1z" fill="#00f051"/>
<path d="M75 36h1v1h-1z" fill="#00f047"/>
<path d="M76 36h1v1h-1z" fill="#00f039"/>
<path d="M77 36h1v1h-1z" fill="#00f025"/>
<path d="M78 36h1v1h-1z" fill="#00f000"/>
<path d="M79 36h1v1h-1z" fill="#00f000"/>
<path d="M80 36h1v1h-1z" fill="#00f000"/>
<path d="M34 37h1v1h-1z" fill="#00f0b7"/>
<path d="M35 37h1v1h-1z" fill="#00f0b6"/>
<path d="M36 37h1v1h-1z" fill="#00f0b5"/>
<path d="M37 37h1v1h-1z" fill="#00f0b4"/>
<path d="M38 37h1v1h-1z" fill="#00f0b3"/>
<path d="M39 37h1v1h-1z" fill="#00f0b2"/>
<path d="M40 37h1v1h-1z" fill="#00f0b1"/>
<path d="M41 37h1v1h-1z" fill="#00f0b0"/>
<path d="M42 37h1v1h-1z" fill="#00f0af"/>
<path d="M43 37h1v1h-1z" fill="#00f0ae"/>
<path d="M44 37h1v1h-1z" fill="#00f0ad"/>
<path d="M45 37h1v1h-1z" fill="#00f0ac"/>
<path d="M46 37h1v1h-1z" fill="#00f0aa"/>
<path d="M47 37h1v1h-1z" fill="#00f0a9"/>
<path d="M48 37h1v1h-1z" fill="#00f0a8"/>
<path d="M49 37h1v1h-1z" fill="#00f0a6"/>
<path d="M50 37h1v1h-1z" fill="#00f0a5"/>
<path d="M51 37h1v1h-1z" fill="#00f0a3"/>
<path d="M52 37h1v1h-1z" fill="#00f0a2"/>
<path d="M53 37h1v1h-1z" fill="#00f0a0"/>
<path d="M54 37h1v1h-1z" fill="#00f09e"/>
<path d="M55 37h1v1h-1z" fill="#00f09c"/>
<path d="M56 37h1v1h-1z" fill="#00f09a"/>
<path d="M57 37h1v1h-1z" fill="#00f098"/>
<path d="M58 37h1v1h-1z" fill="#00f096"/>
<path d="M59 37h1v1h-1z" fill="#00f094"/>
<path d="M60 37h1v1h-1z" fill="#00f092"/>
<path d="M61 37h1v1h-1z" fill="#00f08f"/>
<path d="M62 37h1v1h-1z" fill="#00f08c"/>
<path d="M63 37h1v1h-1z" fill="#00f089"/>
<path d="M64 37h1v1h-1z" fill="#00f086"/>
<path d="M65 37h1v1h-1z" fill="#00f083"/>
<path d="M66 37h1v1h-1z" fill="#00f07f"/>
<path d="M67 37h1v1h-1z" fill="#00f07c"/>
<path d="M68 37h1v1h-1z" fill="#00f077"/>
<path d="M69 37h1v1h-1z" fill="#00f073"/>
<path d="M70 37h1v1h-1z" fill="#00f06e"/>
<path d="M71 37h1v1h-1z" fill="#00f068"/>
<path d="M72 37h1v1h-1z" fill="#00f062"/>
<path d="M73 37h1v1h-1z" fill="#00f05b"/>
<path d="M74 37h1v1h-1z" fill="#00f052"/>
<path d="M75 37h1v1h-1z" fill="#00f048"/>
<path d="M76 37h1v1h-1z" fill="#00f03b"/>
<path d="M77 37h1v1h-1z" fill="#00f028"/>
<path d="M78 37h1v1h-1z" fill="#00f000"/>
<path d="M79 37h1v1h-1z" fill="#00f000"/>
<path d="M80 37h1v1h-1z" fill="#00f000"/>
<path d="M81 37h1v1h-1z" fill="#00f000"/>
<path d="M82 37h1v1h-1z" fill="#00f000"/>
<path d="M34 38h1v1h-1z" fill="#00f0b8"/>
<path d="M35 38h1v1h-1z" fill="#00f0b7"/>
<path d="M36 38h1v1h-1z" fill="#00f0b6"/>
<path d="M37 38h1v1h-1z" fill="#00f0b5"/>
<path d="M38 38h1v1h-1z" fill="#00f0b4"/>
<path d="M39 38h1v1h-1z" fill="#00f0b3"/>
<path d="M40 38h1v1h-1z" fill="#00f0b2"/>
<path d="M41 38h1v1h-1z" fill="#00f0b1"/>
<path d="M42 38h1v1h-1z" fill="#00f0b0"/>
<path d="M43 38h1v1h-1z" fill="#00f0af"/>
<path d="M44 38h1v1h-1z" fill="#00f0ae"/>
<path d="M45 38h1v1h-1z" fill="#00f0ad"/>
<path d="M46 38h1v1h-1z" fill="#00f0ab"/>
<path d="M47 38h1v1h-1z" fill="#00f0aa"/>
<path d="M48 38h1v1h-1z" fill="#00f0a9"/>
<path d="M49 38h1v1h-1z" fill="#00f0a7"/>
<path d="M50 38h1v1h-1z" fill="#00f0a6"/>
<path d="M51 38h1v1h-1z" fill="#00f0a4"/>
<path d="M52 38h1v1h-1z" fill="#00f0a3"/>
<path d="M53 38h1v1h-1z" fill="#00f0a1"/>
<path d="M54 38h1v1h-1z" fill="#00f09f"/>
<path d="M55 38h1v1h-1z" fill="#00f09e"/>
<path d="M56 38h1v1h-1z" fill="#00f09c"/>
<path d="M57 38h1v1h-1z" fill="#00f09a"/>
<path d="M58 38h1v1h-1z" fill="#00f098"/>
<path d="M59 38h1v1h-1z" fill="#00f095"/>
<path d="M60 38h1v1h-1z" fill="#00f093"/>
<path d="M61 38h1v1h-1z" fill="#00f090"/>
<path d="M62 38h1v1h-1z" fill="#00f08e"/>
<path d="M63 38h1v1h-1z" fill="#00f08b"/>
<path d="M64 38h1v1h-1z" fill="#00f088"/>
<path d="M65 38h1v1h-1z" fill="#00f084"/>
<path d="M66 38h1v1h-1z" fill="#00f081"/>
<path d="M67 38h1v1h-1z" fill="#00f07d"/>
<path d="M68 38h1v1h-1z" fill="#00f079"/>
<path d="M69 38h1v1h-1z" fill="#00f074"/>
<path d="M70 38h1v1h-1z" fill="#00f06f"/>
<path d="M71 38h1v1h-1z" fill="#00f06a"/>
<path d="M72 38h1v1h-1z" fill="#00f063"/>
<path d="M73 38h1v1h-1z" fill="#00f05c"/>
<path d="M74 38h1v1h-1z" fill="#00f054"/>
<path d="M75 38h1v1h-1z" fill="#00f04a"/>
<path d="M76 38h1v1h-1z" fill="#00f03d"/>
<path d="M77 38h1v1h-1z" fill="#00f02a"/>
<path d="M78 38h1v1h-1z" fill="#00f000"/>
<path d="M79 38h1v1h-1z" fill="#00f000"/>
<path d="M80 38h1v1h-1z" fill="#00f000"/>
<path d="M81 38h1v1h-1z" fill="#00f000"/>
<path d="M82 38h1v1h-1z" fill="#00f000"/>
<path d="M83 38h1v1h-1z" fill="#04f000"/>
<path d="M33 39h1v1h-1z" fill="#00f0ba"/>
<path d="M34 39h1v1h-1z" fill="#00f0b9"/>
<path d="M35 39h1v1h-1z" fill="#00f0b8"/>
<path d="M36 39h1v1h-1z" fill="#00f0b7"/>
<path d="M37 39h1v1h-1z" fill="#00f0b6"/>
<path d="M38 39h1v1h-1z" fill="#00f0b5"/>
<path d="M39 39h1v1h-1z" fill="#00f0b4"/>
<path d="M40 39h1v1h-1z" fill="#00f0b3"/>
<path d="M41 39h1v1h-1z" fill="#00f0b2"/>
<path d="M42 39h1v1h-1z" fill="#00f0b1"/>
<path d="M43 39h1v1h-1z" fill="#00f0b0"/>
<path d="M44 39h1v1h-1z" fill="#00f0af"/>
<path d="M45 39h1v1h-1z" fill="#00f0ae"/>
<path d="M46 39h1v1h-1z" fill="#00f0ad"/>
<path d="M47 39h1v1h-1z" fill="#00f0ab"/>
<path d="M48 39h1v1h-1z" fill="#00f0aa"/>
<path d="M49 39h1v1h-1z" fill="#00f0a9"/>
<path d="M50 39h1v1h-1z" fill="#00f0a7"/>
<path d="M51 39h1v1h-1z" fill="#00f0a6"/>
<path d="M52 39h1v1h-1z" fill="#00f0a4"/>
<path d="M53 39h1v1h-1z" fill="#00f0a2"/>
<path d="M54 39h1v1h-1z" fill="#00f0a1"/>
<path d="M55 39h1v1h-1z" fill="#00f09f"/>
<path d="M56 39h1v1h-1z" fill="#00f09d"/>
<path d="M57 39h1v1h-1z" fill="#00f09b"/>
<path d="M58 39h1v1h-1z" fill="#00f099"/>
<path d="M59 39h1v1h-1z" fill="#00f097"/>
<path d="M60 39h1v1h-1z" fill="#00f094"/>
<path d="M61 39h1v1h-1z" fill="#00f092"/>
<path d="M62 39h1v1h-1z" fill="#00f08f"/>
<path d="M63 39h1v1h-1z" fill="#00f08c"/>
<path d="M64 39h1v1h-1z" fill="#00f089"/>
<path d="M65 39h1v1h-1z" fill="#00f086"/>
<path d="M66 39h1v1h-1z" fill="#00f082"/>
<path d="M67 39h1v1h-1z" fill="#00f07e"/>
<path d="M68 39h1v1h-1z" fill="#00f07a"/>
<path d="M69 39h1v1h-1z" fill="#00f076"/>
<path d="M70 39h1v1h-1z" fill="#00f071"/>
<path d="M71 39h1v1h-1z" fill="#00f06b"/>
<path d="M72 39h1v1h-1z" fill="#00f065"/>
<path d="M73 39h1v1h-1z" fill="#00f05e"/>
<path d="M74 39h1v1h-1z" fill="#00f055"/>
<path d="M75 39h1v1h-1z" fill="#00f04b"/>
<path d="M76 39h1v1h-1z" fill="#00f03e"/>
<path d="M77 39h1v1h-1z" fill="#00f02c"/>
<path d="M78 39h1v1h-1z" fill="#00f000"/>
<path d="M79 39h1v1h-1z" fill="#00f000"/>
<path d="M80 39h1v1h-1z" fill="#00f000"/>
<path d="M81 39h1v1h-1z" fill="#00f000"/>
<path d="M82 39h1v1h-1z" fill="#00f000"/>
<path d="M83 39h1v1h-1z" fill="#05f000"/>
<path d="M84 39h1v1h-1z" fill="#15f000"/>
<path d="M85 39h1v1h-1z" fill="#2cf000"/>
<path d="M33 40h1v1h-1z" fill="#00f0bb"/>
<path d="M34 40h1v1h-1z" fill="#00f0ba"/>
<path d="M35 40h1v1h-1z" fill="#00f0b9"/>
<path d="M36 40h1v1h-1z" fill="#00f0b8"/>
<path d="M37 40h1v1h-1z" fill="#00f0b7"/>
<path d="M38 40h1v1h-1z" fill="#00f0b6"/>
<path d="M39 40h1v1h-1z" fill="#00f0b5"/>
<path d="M40 40h1v1h-1z" fill="#00f0b4"/>
<path d="M41 40h1v1h-1z" fill="#00f0b3"/>
<path d="M42 40h1v1h-1z" fill="#00f0b2"/>
<path d="M43 40h1v1h-1z" fill="#00f0b1"/>
<path d="M44 40h1v1h-1z" fill="#00f0b0"/>
<path d="M45 40h1v1h-1z" fill="#00f0af"/>
<path d="M46 40h1v1h-1z" fill="#00f0ae"/>
<path d="M47 40h1v1h-1z" fill="#00f0ad"/>
<path d="M48 40h1v1h-1z" fill="#00f0ab"/>
<path d="M49 40h1v1h-1z" fill="#00f0aa"/>
<path d="M50 40h1v1h-1z" fill="#00f0a8"/>
<path d="M51 40h1v1h-1z" fill="#00f0a7"/>
<path d="M52 40h1v1h-1z" fill="#00f0a5"/>
<path d="M53 40h1v1h-1z" fill="#00f0a4"/>
<path d="M54 40h1v1h-1z" fill="#00f0a2"/>
<path d="M55 40h1v1h-1z" fill="#00f0a0"/>
<path d="M56 40h1v1h-1z" fill="#00f09e"/>
<path d="M57 40h1v1h-1z" fill="#00f09c"/>
<path d="M58 40h1v1h-1z" fill="#00f09a"/>
<path d="M59 40h1v1h-1z" fill="#00f098"/>
<path d="M60 40h1v1h-1z" fill="#00f096"/>
<path d="M61 40h1v1h-1z" fill="#00f093"/>
<path d="M62 40h1v1h-1z" fill="#00f090"/>
<path d="M63 40h1v1h-1z" fill="#00f08e"/>
<path d="M64 40h1v1h-1z" fill="#00f08b"/>
<path d="M65 40h1v1h-1z" fill="#00f087"/>
<path d="M66 40h1v1h-1z" fill="#00f084"/>
<path d="M67 40h1v1h-1z" fill="#00f080"/>
<path d="M68 40h1v1h-1z" fill="#00f07c"/>
<path d="M69 40h1v1h-1z" fill="#00f077"/>
<path d="M70 40h1v1h-1z" fill="#00f072"/>
<path d="M71 40h1v1h-1z" fill="#00f06d"/>
<path d="M72 40h1v1h-1z" fill="#00f066"/>
<path d="M73 40h1v1h-1z" fill="#00f05f"/>
<path d="M74 40h1v1h-1z" fill="#00f057"/>
<path d="M75 40h1v1h-1z" fill="#00f04d"/>
<path d="M76 40h1v1h-1z" fill="#00f040"/>
<path d="M77 40h1v1h-1z" fill="#00f02e"/>
<path d="M78 40h1v1h-1z" fill="#00f000"/>
<path d="M79 40h1v1h-1z" fill="#00f000"/>
<path d="M80 40h1v1h-1z" fill="#00f000"/>
<path d="M81 40h1v1h-1z" fill="#00f000"/>
<path d="M82 40h1v1h-1z" fill="#00f000"/>
<path d="M83 40h1v1h-1z" fill="#06f000"/>
<path d="M84 40h1v1h-1z" fill="#18f000"/>
<path d="M85 40h1v1h-1z" fill="#30f000"/>
<path d="M86 40h1v1h-1z" fill="#4bf000"/>
<path d="M33 41h1v1h-1z" fill="#00f0bc"/>
<path d="M34 41h1v1h-1z" fill="#00f0bb"/>
<path d="M35 41h1v1h-1z" fill="#00f0ba"/>
<path d="M36 41h1v1h-1z" fill="#00f0b9"/>
<path d="M37 41h1v1h-1z" fill="#00f0b8"/>
<path d="M38 41h1v1h-1z" fill="#00f0b7"/>
<path d="M39 41h1v1h-1z" fill="#00f0b6"/>
<path d="M40 41h1v1h-1z" fill="#00f0b6"/>
<path d="M41 41h1v1h-1z" fill="#00f0b5"/>
<path d="M42 41h1v1h-1z" fill="#00f0b4"/>
<path d="M43 41h1v1h-1z" fill="#00f0b2"/>
<path d="M44 41h1v1h-1z" fill="#00f0b1"/>
<path d="M45 41h1v1h-1z" fill="#00f0b0"/>
<path d="M46 41h1v1h-1z" fill="#00f0af"/>
<path d="M47 41h1v1h-1z" fill="#00f0ae"/>
<path d="M48 41h1v1h-1z" fill="#00f0ac"/>
<path d="M49 41h1v1h-1z" fill="#00f0ab"/>
<path d="M50 41h1v1h-1z" fill="#00f0aa"/>
<path d="M51 41h1v1h-1z" fill="#00f0a8"/>
<path d="M52 41h1v1h-1z" fill="#00f0a7"/>
<path d="M53 41h1v1h-1z" fill="#00f0a5"/>
<path d="M54 41h1v1h-1z" fill="#00f0a3"/>
<path d="M55 41h1v1h-1z" fill="#00f0a2"/>
<path d="M56 41h1v1h-1z" fill="#00f0a0"/>
<path d="M57 41h1v1h-1z" fill="#00f09e"/>
<path d="M58 41h1v1h-1z" fill="#00f09c"/>
<path d="M59 41h1v1h-1z" fill="#00f099"/>
<path d="M60 41h1v1h-1z" fill="#00f097"/>
<path d="M61 41h1v1h-1z" fill="#00f095"/>
<path d="M62 41h1v1h-1z" fill="#00f092"/>
<path d="M63 41h1v1h-1z" fill="#00f08f"/>
<path d="M64 41h1v1h-1z" fill="#00f08c"/>
<path d="M65 41h1v1h-1z" fill="#00f089"/>
<path d="M66 41h1v1h-1z" fill="#00f085"/>
<path d="M67 41h1v1h-1z" fill="#00f081"/>
<path d="M68 41h1v1h-1z" fill="#00f07d"/>
<path d="M69 41h1v1h-1z" fill="#00f079"/>
<path d="M70 41h1v1h-1z" fill="#00f074"/>
<path d="M71 41h1v1h-1z" fill="#00f06e"/>
<path d="M72 41h1v1h-1z" fill="#00f068"/>
<path d="M73 41h1v1h-1z" fill="#00f061"/>
<path d="M74 41h1v1h-1z" fill="#00f058"/>
<path d="M75 41h1v1h-1z" fill="#00f04e"/>
<path d="M76 41h1v1h-1z" fill="#00f042"/>
<path d="M77 41h1v1h-1z" fill="#00f030"/>
<path d="M78 41h1v1h-1z" fill="#00f000"/>
<path d="M79 41h1v1h-1z" fill="#00f000"/>
<path d="M80 41h1v1h-1z" fill="#00f000"/>
<path d="M81 41h1v1h-1z" fill="#00f000"/>
<path d="M82 41h1v1h-1z" fill="#00f000"/>
<path d="M83 41h1v1h-1z" fill="#07f000"/>
<path d="M84 41h1v1h-1z" fill="#1af000"/>
<path d="M85 41h1v1h-1z" fill="#34f000"/>
<path d="M86 41h1v1h-1z" fill="#50f000"/>
<path d="M87 41h1v1h-1z" fill="#6cf000"/>
<path d="M33 42h1v1h-1z" fill="#00f0bd"/>
<path d="M34 42h1v1h-1z" fill="#00f0bc"/>
<path d="M35 42h1v1h-1z" fill="#00f0bb"/>
<path d="M36 42h1v1h-1z" fill="#00f0ba"/>
<path d="M37 42h1v1h-1z" fill="#00f0b9"/>
<path d="M38 42h1v1h-1z" fill="#00f0b9"/>
<path d="M39 42h1v1h-1z" fill="#00f0b8"/>
<path d="M40 42h1v1h-1z" fill="#00f0b7"/>
<path d="M41 42h1v1h-1z" fill="#00f0b6"/>
<path d="M42 42h1v1h-1z" fill="#00f0b5"/>
<path d="M43 42h1v1h-1z" fill="#00f0b4"/>
<path d="M44 42h1v1h-1z" fill="#00f0b3"/>
<path d="M45 42h1v1h-1z" fill="#00f0b1"/>
<path d="M46 42h1v1h-1z" fill="#00f0b0"/>
<path d="M47 42h1v1h-1z" fill="#00f0af"/>
<path d="M48 42h1v1h-1z" fill="#00f0ae"/>
<path d="M49 42h1v1h-1z" fill="#00f0ac"/>
<path d="M50 42h1v1h-1z" fill="#00f0ab"/>
<path d="M51 42h1v1h-1z" fill="#00f0a9"/>
<path d="M52 42h1v1h-1z" fill="#00f0a8"/>
<path d="M53 42h1v1h-1z" fill="#00f0a6"/>
<path d="M54 42h1v1h-1z" fill="#00f0a5"/>
<path d="M55 42h1v1h-1z" fill="#00f0a3"/>
<path d="M56 42h1v1h-1z" fill="#00f0a1"/>
<path d="M57 42h1v1h-1z" fill="#00f09f"/>
<path d="M58 42h1v1h-1z" fill="#00f09d"/>
<path d="M59 42h1v1h-1z" fill="#00f09b"/>
<path d="M60 42h1v1h-1z" fill="#00f098"/>
<path d="M61 42h1v1h-1z" fill="#00f096"/>
<path d="M62 42h1v1h-1z" fill="#00f093"/>
<path d="M63 42h1v1h-1z" fill="#00f091"/>
<path d="M64 42h1v1h-1z" fill="#00f08d"/>
<path d="M65 42h1v1h-1z" fill="#00f08a"/>
<path d="M66 42h1v1h-1z" fill="#00f087"/>
<path d="M67 42h1v1h-1z" fill="#00f083"/>
<path d="M68 42h1v1h-1z" fill="#00f07f"/>
<path d="M69 42h1v1h-1z" fill="#00f07a"/>
<path d="M70 42h1v1h-1z" fill="#00f075"/>
<path d="M71 42h1v1h-1z" fill="#00f070"/>
<path d="M72 42h1v1h-1z" fill="#00f06a"/>
<path d="M73 42h1v1h-1z" fill="#00f062"/>
<path d="M74 42h1v1h-1z" fill="#00f05a"/>
<path d="M75 42h1v1h-1z" fill="#00f050"/>
<path d="M76 42h1v1h-1z" fill="#00f044"/>
<path d="M77 42h1v1h-1z" fill="#00f032"/>
<path d="M78 42h1v1h-1z" fill="#00f004"/>
<path d="M79 42h1v1h-1z" fill="#00f000"/>
<path d="M80 42h1v1h-1z" fill="#00f000"/>
<path d="M81 42h1v1h-1z" fill="#00f000"/>
<path d="M82 42h1v1h-1z" fill="#00f000"/>
<path d="M83 42h1v1h-1z" fill="#08f000"/>
<path d="M84 42h1v1h-1z" fill="#1df000"/>
<path d="M85 42h1v1h-1z" fill="#38f000"/>
<path d="M86 42h1v1h-1z" fill="#55f000"/>
<path d="M87 42h1v1h-1z" fill="#72f000"/>
<path d="M88 42h1v1h-1z" fill="#8bf000"/>
<path d="M89 42h1v1h-1z" fill="#9df000"/>
<path d="M33 43h1v1h-1z" fill="#00f0be"/>
<path d="M34 43h1v1h-1z" fill="#00f0bd"/>
<path d="M35 43h1v1h-1z" fill="#00f0bc"/>
<path d="M36 43h1v1h-1z" fill="#00f0bb"/>
<path d="M37 43h1v1h-1z" fill="#00f0bb"/>
<path d="M38 43h1v1h-1z" fill="#00f0ba"/>
<path d="M39 43h1v1h-1z" fill="#00f0b9"/>
<path d="M40 43h1v1h-1z" fill="#00f0b8"/>
<path d="M41 43h1v1h-1z" fill="#00f0b7"/>
<path d="M42 43h1v1h-1z" fill="#00f0b6"/>
<path d="M43 43h1v1h-1z" fill="#00f0b5"/>
<path d="M44 43h1v1h-1z" fill="#00f0b4"/>
<path d="M45 43h1v1h-1z" fill="#00f0b3"/>
<path d="M46 43h1v1h-1z" fill="#00f0b1"/>
<path d="M47 43h1v1h-1z" fill="#00f0b0"/>
<path d="M48 43h1v1h-1z" fill="#00f0af"/>
<path d="M49 43h1v1h-1z" fill="#00f0ae"/>
<path d="M50 43h1v1h-1z" fill="#00f0ac"/>
<path d="M51 43h1v1h-1z" fill="#00f0ab"/>
<path d="M52 43h1v1h-1z" fill="#00f0a9"/>
<path d="M53 43h1v1h-1z" fill="#00f0a8"/>
<path d="M54 43h1v1h-1z" fill="#00f0a6"/>
<path d="M55 43h1v1h-1z" fill="#00f0a4"/>
<path d="M56 43h1v1h-1z" fill="#00f0a2"/>
<path d="M57 43h1v1h-1z" fill="#00f0a0"/>
<path d="M58 43h1v1h-1z" fill="#00f09e"/>
<path d="M59 43h1v1h-1z" fill="#00f09c"/>
<path d="M60 43h1v1h-1z" fill="#00f09a"/>
<path d="M61 43h1v1h-1z" fill="#00f097"/>
<path d="M62 43h1v1h-1z" fill="#00f095"/>
<path d="M63 43h1v1h-1z" fill="#00f092"/>
<path d="M64 43h1v1h-1z" fill="#00f08f"/>
<path d="M65 43h1v1h-1z" fill="#00f08c"/>
<path d="M66 43h1v1h-1z" fill="#00f088"/>
<path d="M67 43h1v1h-1z" fill="#00f085"/>
<path d="M68 43h1v1h-1z" fill="#00f080"/>
<path d="M69 43h1v1h-1z" fill="#00f07c"/>
<path d="M70 43h1v1h-1z" fill="#00f077"/>
<path d="M71 43h1v1h-1z" fill="#00f071"/>
<path d="M72 43h1v1h-1z" fill="#00f06b"/>
<path d="M73 43h1v1h-1z" fill="#00f064"/>
<path d="M74 43h1v1h-1z" fill="#00f05c"/>
<path d="M75 43h1v1h-1z" fill="#00f052"/>
<path d="M76 43h1v1h-1z" fill="#00f045"/>
<path d="M77 43h1v1h-1z" fill="#00f034"/>
<path d="M78 43h1v1h-1z" fill="#00f00f"/>
<path d="M79 43h1v1h-1z" fill="#00f000"/>
<path d="M80 43h1v1h-1z" fill="#00f000"/>
<path d="M81 43h1v1h-1z" fill="#00f000"/>
<path d="M82 43h1v1h-1z" fill="#00f000"/>
<path d="M83 43h1v1h-1z" fill="#0af000"/>
<path d="M84 43h1v1h-1z" fill="#20f000"/>
<path d="M85 43h1v1h-1z" fill="#3cf000"/>
<path d="M86 43h1v1h-1z" fill="#5bf000"/>
<path d="M87 43h1v1h-1z" fill="#77f000"/>
<path d="M88 43h1v1h-1z" fill="#90f000"/>
<path d="M89 43h1v1h-1z" fill="#a1f000"/>
<path d="M90 43h1v1h-1z" fill="#aaf000"/>
<path d="M33 44h1v1h-1z" fill="#00f0bf"/>
<path d="M34 44h1v1h-1z" fill="#00f0be"/>
<path d="M35 44h1v1h-1z" fill="#00f0bd"/>
<path d="M36 44h1v1h-1z" fill="#00f0bd"/>
<path d="M37 44h1v1h-1z" fill="#00f0bc"/>
<path d="M38 44h1v1h-1z" fill="#00f0bb"/>
<path d="M39 44h1v1h-1z" fill="#00f0ba"/>
<path d="M40 44h1v1h-1z" fill="#00f0b9"/>
<path d="M41 44h1v1h-1z" fill="#00f0b8"/>
<path d="M42 44h1v1h-1z" fill="#00f0b7"/>
<path d="M43 44h1v1h-1z" fill="#00f0b6"/>
<path d="M44 44h1v1h-1z" fill="#00f0b5"/>
<path d="M45 44h1v1h-1z" fill="#00f0b4"/>
<path d="M46 44h1v1h-1z" fill="#00f0b3"/>
<path d="M47 44h1v1h-1z" fill="#00f0b2"/>
<path d="M48 44h1v1h-1z" fill="#00f0b0"/>
<path d="M49 44h1v1h-1z" fill="#00f0af"/>
<path d="M50 44h1v1h-1z" fill="#00f0ae"/>
<path d="M51 44h1v1h-1z" fill="#00f0ac"/>
<path d="M52 44h1v1h-1z" fill="#00f0ab"/>
<path d="M53 44h1v1h-1z" fill="#00f0a9"/>
<path d="M54 44h1v1h-1z" fill="#00f0a7"/>
<path d="M55 44h1v1h-1z" fill="#00f0a6"/>
<path d="M56 44h1v1h-1z" fill="#00f0a4"/>
<path d="M57 44h1v1h-1z" fill="#00f0a2"/>
<path d="M58 44h1v1h-1z" fill="#00f0a0"/>
<path d="M59 44h1v1h-1z" fill="#00f09e"/>
<path d="M60 44h1v1h-1z" fill="#00f09b"/>
<path d="M61 44h1v1h-1z" fill="#00f099"/>
<path d="M62 44h1v1h-1z" fill="#00f096"/>
<path d="M63 44h1v1h-1z" fill="#00f094"/>
<path d="M64 44h1v1h-1z" fill="#00f091"/>
<path d="M65 44h1v1h-1z" fill="#00f08d"/>
<path d="M66 44h1v1h-1z" fill="#00f08a"/>
<path d="M67 44h1v1h-1z" fill="#00f086"/>
<path d="M68 44h1v1h-1z" fill="#00f082"/>
<path d="M69 44h1v1h-1z" fill="#00f07e"/>
<path d="M70 44h1v1h-1z" fill="#00f079"/>
<path d="M71 44h1v1h-1z" fill="#00f073"/>
<path d="M72 44h1v1h-1z" fill="#00f06d"/>
<path d="M73 44h1v1h-1z" fill="#00f066"/>
<path d="M74 44h1v1h-1z" fill="#00f05e"/>
<path d="M75 44h1v1h-1z" fill="#00f054"/>
<path d="M76 44h1v1h-1z" fill="#00f047"/>
<path d="M77 44h1v1h-1z" fill="#00f036"/>
<path d="M78 44h1v1h-1z" fill="#00f015"/>
<path d="M79 44h1v1h-1z" fill="#00f000"/>
<path d="M80 44h1v1h-1z" fill="#00f000"/>
<path d="M81 44h1v1h-1z" fill="#00f000"/>
<path d="M82 44h1v1h-1z" fill="#00f000"/>
<path d="M83 44h1v1h-1z" fill="#0bf000"/>
<path d="M84 44h1v1h-1z" fill="#23f000"/>
<path d="M85 44h1v1h-1z" fill="#41f000"/>
<path d="M86 44h1v1h-1z" fill="#60f000"/>
<path d="M87 44h1v1h-1z" fill="#7df000"/>
<path d="M88 44h1v1h-1z" fill="#95f000"/>
<path d="M89 44h1v1h-1z" fill="#a5f000"/>
<path d="M90 44h1v1h-1z" fill="#acf000"/>
<path d="M91 44h1v1h-1z" fill="#b3f000"/>
<path d="M92 44h1v1h-1z" fill="#b9f000"/>
<path d="M33 45h1v1h-1z" fill="#00f0c0"/>
<path d="M34 45h1v1h-1z" fill="#00f0bf"/>
<path d="M35 45h1v1h-1z" fill="#00f0be"/>
<path d="M36 45h1v1h-1z" fill="#00f0be"/>
<path d="M37 45h1v1h-1z" fill="#00f0bd"/>
<path d="M38 45h1v1h-1z" fill="#00f0bc"/>
<path d="M39 45h1v1h-1z" fill="#00f0bb"/>
<path d="M40 45h1v1h-1z" fill="#00f0ba"/>
<path d="M41 45h1v1h-1z" fill="#00f0b9"/>
<path d="M42 45h1v1h-1z" fill="#00f0b8"/>
<path d="M43 45h1v1h-1z" fill="#00f0b7"/>
<path d="M44 45h1v1h-1z" fill="#00f0b6"/>
<path d="M45 45h1v1h-1z" fill="#00f0b5"/>
<path d="M46 45h1v1h-1z" fill="#00f0b4"/>
<path d="M47 45h1v1h-1z" fill="#00f0b3"/>
<path d="M48 45h1v1h-1z" fill="#00f0b2"/>
<path d="M49 45h1v1h-1z" fill="#00f0b0"/>
<path d="M50 45h1v1h-1z" fill="#00f0af"/>
<path d="M51 45h1v1h-1z" fill="#00f0ae"/>
<path d="M52 45h1v1h-1z" fill="#00f0ac"/>
<path d="M53 45h1v1h-1z" fill="#00f0ab"/>
<path d="M54 45h1v1h-1z" fill="#00f0a9"/>
<path d="M55 45h1v1h-1z" fill="#00f0a7"/>
<path d="M56 45h1v1h-1z" fill="#00f0a5"/>
<path d="M57 45h1v1h-1z" fill="#00f0a3"/>
<path d="M58 45h1v1h-1z" fill="#00f0a1"/>
<path d="M59 45h1v1h-1z" fill="#00f09f"/>
<path d="M60 45h1v1h-1z" fill="#00f09d"/>
<path d="M61 45h1v1h-1z" fill="#00f09b"/>
<path d="M62 45h1v1h-1z" fill="#00f098"/>
<path d="M63 45h1v1h-1z" fill="#00f095"/>
<path d="M64 45h1v1h-1z" fill="#00f092"/>
<path d="M65 45h1v1h-1z" fill="#00f08f"/>
<path d="M66 45h1v1h-1z" fill="#00f08c"/>
<path d="M67 45h1v1h-1z" fill="#00f088"/>
<path d="M68 45h1v1h-1z" fill="#00f084"/>
<path d="M69 45h1v1h-1z" fill="#00f07f"/>
<path d="M70 45h1v1h-1z" fill="#00f07a"/>
<path d="M71 45h1v1h-1z" fill="#00f075"/>
<path d="M72 45h1v1h-1z" fill="#00f06f"/>
<path d="M73 45h1v1h-1z" fill="#00f068"/>
<path d="M74 45h1v1h-1z" fill="#00f05f"/>
<path d="M75 45h1v1h-1z" fill="#00f055"/>
<path d="M76 45h1v1h-1z" fill="#00f049"/>
<path d="M77 45h1v1h-1z" fill="#00f038"/>
<path d="M78 45h1v1h-1z" fill="#00f019"/>
<path d="M79 45h1v1h-1z" fill="#00f000"/>
<path d="M80 45h1v1h-1z" fill="#00f000"/>
<path d="M81 45h1v1h-1z" fill="#00f000"/>
<path d="M82 45h1v1h-1z" fill="#00f000"/>
<path d="M83 45h1v1h-1z" fill="#0df000"/>
<path d="M84 45h1v1h-1z" fill="#26f000"/>
<path d="M85 45h1v1h-1z" fill="#46f000"/>
<path d="M86 45h1v1h-1z" fill="#66f000"/>
<path d="M87 45h1v1h-1z" fill="#83f000"/>
<path d="M88 45h1v1h-1z" fill="#9af000"/>
<path d="M89 45h1v1h-1z" fill="#a8f000"/>
<path d="M90 45h1v1h-1z" fill="#aef000"/>
<path d="M91 45h1v1h-1z" fill="#b5f000"/>
<path d="M92 45h1v1h-1z" fill="#bbf000"/>
<path d="M93 45h1v1h-1z" fill="#c1f000"/>
<path d="M34 46h1v1h-1z" fill="#00f0c0"/>
<path d="M35 46h1v1h-1z" fill="#00f0c0"/>
<path d="M36 46h1v1h-1z" fill="#00f0bf"/>
<path d="M37 46h1v1h-1z" fill="#00f0be"/>
<path d="M38 46h1v1h-1z" fill="#00f0bd"/>
<path d="M39 46h1v1h-1z" fill="#00f0bc"/>
<path d="M40 46h1v1h-1z" fill="#00f0bb"/>
<path d="M41 46h1v1h-1z" fill="#00f0bb"/>
<path d="M42 46h1v1h-1z" fill="#00f0ba"/>
<path d="M43 46h1v1h-1z" fill="#00f0b9"/>
<path d="M44 46h1v1h-1z" fill="#00f0b8"/>
<path d="M45 46h1v1h-1z" fill="#00f0b7"/>
<path d="M46 46h1v1h-1z" fill="#00f0b5"/>
<path d="M47 46h1v1h-1z" fill="#00f0b4"/>
<path d="M48 46h1v1h-1z" fill="#00f0b3"/>
<path d="M49 46h1v1h-1z" fill="#00f0b2"/>
<path d="M50 46h1v1h-1z" fill="#00f0b0"/>
<path d="M51 46h1v1h-1z" fill="#00f0af"/>
<path d="M52 46h1v1h-1z" fill="#00f0ae"/>
<path d="M53 46h1v1h-1z" fill="#00f0ac"/>
<path d="M54 46h1v1h-1z" fill="#00f0aa"/>
<path d="M55 46h1v1h-1z" fill="#00f0a9"/>
<path d="M56 46h1v1h-1z" fill="#00f0a7"/>
<path d="M57 46h1v1h-1z" fill="#00f0a5"/>
<path d="M58 46h1v1h-1z" fill="#00f0a3"/>
<path d="M59 46h1v1h-1z" fill="#00f0a1"/>
<path d="M60 46h1v1h-1z" fill="#00f09f"/>
<path d="M61 46h1v1h-1z" fill="#00f09c"/>
<path d="M62 46h1v1h-1z" fill="#00f09a"/>
<path d="M63 46h1v1h-1z" fill="#00f097"/>
<path d="M64 46h1v1h-1z" fill="#00f094"/>
<path d="M65 46h1v1h-1z" fill="#00f091"/>
<path d="M66 46h1v1h-1z" fill="#00f08d"/>
<path d="M67 46h1v1h-1z" fill="#00f08a"/>
<path d="M68 46h1v1h-1z" fill="#00f086"/>
<path d="M69 46h1v1h-1z" fill="#00f081"/>
<path d="M70 46h1v1h-1z" fill="#00f07c"/>
<path d="M71 46h1v1h-1z" fill="#00f077"/>
<path d="M72 46h1v1h-1z" fill="#00f070"/>
<path d="M73 46h1v1h-1z" fill="#00f069"/>
<path d="M74 46h1v1h-1z" fill="#00f061"/>
<path d="M75 46h1v1h-1z" fill="#00f057"/>
<path d="M76 46h1v1h-1z" fill="#00f04b"/>
<path d="M77 46h1v1h-1z" fill="#00f03b"/>
<path d="M78 46h1v1h-1z" fill="#00f01d"/>
<path d="M79 46h1v1h-1z" fill="#00f000"/>
<path d="M80 46h1v1h-1z" fill="#00f000"/>
<path d="M81 46h1v1h-1z" fill="#00f000"/>
<path d="M82 46h1v1h-1z" fill="#01f000"/>
<path d="M83 46h1v1h-1z" fill="#0ff000"/>
<path d="M84 46h1v1h-1z" fill="#2af000"/>
<path d="M85 46h1v1h-1z" fill="#4bf000"/>
<path d="M86 46h1v1h-1z" fill="#6cf000"/>
<path d="M87 46h1v1h-1z" fill="#89f000"/>
<path d="M88 46h1v1h-1z" fill="#9ff000"/>
<path d="M89 46h1v1h-1z" fill="#aaf000"/>
<path d="M90 46h1v1h-1z" fill="#b1f000"/>
<path d="M91 46h1v1h-1z" fill="#b7f000"/>
<path d="M92 46h1v1h-1z" fill="#bef000"/>
<path d="M93 46h1v1h-1z" fill="#c4f000"/>
<path d="M94 46h1v1h-1z" fill="#caf000"/>
<path d="M34 47h1v1h-1z" fill="#00f0c2"/>
<path d="M35 47h1v1h-1z" fill="#00f0c1"/>
<path d="M36 47h1v1h-1z" fill="#00f0c0"/>
<path d="M37 47h1v1h-1z" fill="#00f0bf"/>
<path d="M38 47h1v1h-1z" fill="#00f0be"/>
<path d="M39 47h1v1h-1z" fill="#00f0be"/>
<path d="M40 47h1v1h-1z" fill="#00f0bd"/>
<path d="M41 47h1v1h-1z" fill="#00f0bc"/>
<path d="M42 47h1v1h-1z" fill="#00f0bb"/>
<path d="M43 47h1v1h-1z" fill="#00f0ba"/>
<path d="M44 47h1v1h-1z" fill="#00f0b9"/>
<path d="M45 47h1v1h-1z" fill="#00f0b8"/>
<path d="M46 47h1v1h-1z" fill="#00f0b7"/>
<path d="M47 47h1v1h-1z" fill="#00f0b6"/>
<path d="M48 47h1v1h-1z" fill="#00f0b4"/>
<path d="M49 47h1v1h-1z" fill="#00f0b3"/>
<path d="M50 47h1v1h-1z" fill="#00f0b2"/>
<path d="M51 47h1v1h-1z" fill="#00f0b0"/>
<path d="M52 47h1v1h-1z" fill="#00f0af"/>
<path d="M53 47h1v1h-1z" fill="#00f0ad"/>
<path d="M54 47h1v1h-1z" fill="#00f0ac"/>
<path d="M55 47h1v1h-1z" fill="#00f0aa"/>
<path d="M56 47h1v1h-1z" fill="#00f0a8"/>
<path d="M57 47h1v1h-1z" fill="#00f0a7"/>
<path d="M58 47h1v1h-1z" fill="#00f0a5"/>
<path d="M59 47h1v1h-1z" fill="#00f0a2"/>
<path d="M60 47h1v1h-1z" fill="#00f0a0"/>
<path d="M61 47h1v1h-1z" fill="#00f09e"/>
<path d="M62 47h1v1h-1z" fill="#00f09b"/>
<path d="M63 47h1v1h-1z" fill="#00f099"/>
<path d="M64 47h1v1h-1z" fill="#00f096"/>
<path d="M65 47h1v1h-1z" fill="#00f092"/>
<path d="M66 47h1v1h-1z" fill="#00f08f"/>
<path d="M67 47h1v1h-1z" fill="#00f08b"/>
<path d="M68 47h1v1h-1z" fill="#00f087"/>
<path d="M69 47h1v1h-1z" fill="#00f083"/>
<path d="M70 47h1v1h-1z" fill="#00f07e"/>
<path d="M71 47h1v1h-1z" fill="#00f078"/>
<path d="M72 47h1v1h-1z" fill="#00f072"/>
<path d="M73 47h1v1h-1z" fill="#00f06b"/>
<path d="M74 47h1v1h-1z" fill="#00f063"/>
<path d="M75 47h1v1h-1z" fill="#00f059"/>
<path d="M76 47h1v1h-1z" fill="#00f04d"/>
<path d="M77 47h1v1h-1z" fill="#00f03d"/>
<path d="M78 47h1v1h-1z" fill="#00f012"/>
<path d="M79 47h1v1h-1z" fill="#00f000"/>
<path d="M80 47h1v1h-1z" fill="#00f000"/>
<path d="M81 47h1v1h-1z" fill="#00f000"/>
<path d="M82 47h1v1h-1z" fill="#01f000"/>
<path d="M83 47h1v1h-1z" fill="#11f000"/>
<path d="M84 47h1v1h-1z" fill="#2ff000"/>
<path d="M85 47h1v1h-1z" fill="#51f000"/>
<path d="M86 47h1v1h-1z" fill="#73f000"/>
<path d="M87 47h1v1h-1z" fill="#8ff000"/>
<path d="M88 47h1v1h-1z" fill="#a3f000"/>
<path d="M89 47h1v1h-1z" fill="#acf000"/>
<path d="M90 47h1v1h-1z" fill="#b3f000"/>
<path d="M91 47h1v1h-1z" fill="#baf000"/>
<path d="M92 47h1v1h-1z" fill="#c0f000"/>
<path d="M93 47h1v1h-1z" fill="#c7f000"/>
<path d="M94 47h1v1h-1z" fill="#cdf000"/>
<path d="M95 47h1v1h-1z" fill="#d3f000"/>
<path d="M96 47h1v1h-1z" fill="#d8f000"/>
<path d="M34 48h1v1h-1z" fill="#00f0c3"/>
<path d="M35 48h1v1h-1z" fill="#00f0c2"/>
<path d="M36 48h1v1h-1z" fill="#00f0c1"/>
<path d="M37 48h1v1h-1z" fill="#00f0c1"/>
<path d="M38 48h1v1h-1z" fill="#00f0c0"/>
<path d="M39 48h1v1h-1z" fill="#00f0bf"/>
<path d="M40 48h1v1h-1z" fill="#00f0be"/>
<path d="M41 48h1v1h-1z" fill="#00f0bd"/>
<path d="M42 48h1v1h-1z" fill="#00f0bc"/>
<path d="M43 48h1v1h-1z" fill="#00f0bb"/>
<path d="M44 48h1v1h-1z" fill="#00f0ba"/>
<path d="M45 48h1v1h-1z" fill="#00f0b9"/>
<path d="M46 48h1v1h-1z" fill="#00f0b8"/>
<path d="M47 48h1v1h-1z" fill="#00f0b7"/>
<path d="M48 48h1v1h-1z" fill="#00f0b6"/>
<path d="M49 48h1v1h-1z" fill="#00f0b5"/>
<path d="M50 48h1v1h-1z" fill="#00f0b3"/>
<path d="M51 48h1v1h-1z" fill="#00f0b2"/>
<path d="M52 48h1v1h-1z" fill="#00f0b0"/>
<path d="M53 48h1v1h-1z" fill="#00f0af"/>
<path d="M54 48h1v1h-1z" fill="#00f0ad"/>
<path d="M55 48h1v1h-1z" fill="#00f0ac"/>
<path d="M56 48h1v1h-1z" fill="#00f0aa"/>
<path d="M57 48h1v1h-1z" fill="#00f0a8"/>
<path d="M58 48h1v1h-1z" fill="#00f0a6"/>
<path d="M59 48h1v1h-1z" fill="#00f0a4"/>
<path d="M60 48h1v1h-1z" fill="#00f0a2"/>
<path d="M61 48h1v1h-1z" fill="#00f0a0"/>
<path d="M62 48h1v1h-1z" fill="#00f09d"/>
<path d="M63 48h1v1h-1z" fill="#00f09a"/>
<path d="M64 48h1v1h-1z" fill="#00f097"/>
<path d="M65 48h1v1h-1z" fill="#00f094"/>
<path d="M66 48h1v1h-1z" fill="#00f091"/>
<path d="M67 48h1v1h-1z" fill="#00f08d"/>
<path d="M68 48h1v1h-1z" fill="#00f089"/>
<path d="M69 48h1v1h-1z" fill="#00f085"/>
<path d="M70 48h1v1h-1z" fill="#00f080"/>
<path d="M71 48h1v1h-1z" fill="#00f07a"/>
<path d="M72 48h1v1h-1z" fill="#00f074"/>
<path d="M73 48h1v1h-1z" fill="#00f06d"/>
<path d="M74 48h1v1h-1z" fill="#00f065"/>
<path d="M75 48h1v1h-1z" fill="#00f05b"/>
<path d="M76 48h1v1h-1z" fill="#00f04f"/>
<path d="M77 48h1v1h-1z" fill="#00f03f"/>
<path d="M78 48h1v1h-1z" fill="#00f00f"/>
<path d="M79 48h1v1h-1z" fill="#00f000"/>
<path d="M80 48h1v1h-1z" fill="#00f000"/>
<path d="M81 48h1v1h-1z" fill="#00f000"/>
<path d="M82 48h1v1h-1z" fill="#02f000"/>
<path d="M83 48h1v1h-1z" fill="#14f000"/>
<path d="M84 48h1v1h-1z" fill="#33f000"/>
<path d="M85 48h1v1h-1z" fill="#57f000"/>
<path d="M86 48h1v1h-1z" fill="#79f000"/>
<path d="M87 48h1v1h-1z" fill="#95f000"/>
<path d="M88 48h1v1h-1z" fill="#a6f000"/>
<path d="M89 48h1v1h-1z" fill="#aef000"/>
<path d="M90 48h1v1h-1z" fill="#b6f000"/>
<path d="M91 48h1v1h-1z" fill="#bdf000"/>
<path d="M92 48h1v1h-1z" fill="#c3f000"/>
<path d="M93 48h1v1h-1z" fill="#caf000"/>
<path d="M94 48h1v1h-1z" fill="#d0f000"/>
<path d="M95 48h1v1h-1z" fill="#d6f000"/>
<path d="M96 48h1v1h-1z" fill="#dbf000"/>
<path d="M97 48h1v1h-1z" fill="#e1f000"/>
<path d="M34 49h1v1h-1z" fill="#00f0c4"/>
<path d="M35 49h1v1h-1z" fill="#00f0c3"/>
<path d="M36 49h1v1h-1z" fill="#00f0c3"/>
<path d="M37 49h1v1h-1z" fill="#00f0c2"/>
<path d="M38 49h1v1h-1z" fill="#00f0c1"/>
<path d="M39 49h1v1h-1z" fill="#00f0c0"/>
<path d="M40 49h1v1h-1z" fill="#00f0bf"/>
<path d="M41 49h1v1h-1z" fill="#00f0be"/>
<path d="M42 49h1v1h-1z" fill="#00f0be"/>
<path d="M43 49h1v1h-1z" fill="#00f0bd"/>
<path d="M44 49h1v1h-1z" fill="#00f0bc"/>
<path d="M45 49h1v1h-1z" fill="#00f0bb"/>
<path d="M46 49h1v1h-1z" fill="#00f0ba"/>
<path d="M47 49h1v1h-1z" fill="#00f0b8"/>
<path d="M48 49h1v1h-1z" fill="#00f0b7"/>
<path d="M49 49h1v1h-1z" fill="#00f0b6"/>
<path d="M50 49h1v1h-1z" fill="#00f0b5"/>
<path d="M51 49h1v1h-1z" fill="#00f0b3"/>
<path d="M52 49h1v1h-1z" fill="#00f0b2"/>
<path d="M53 49h1v1h-1z" fill="#00f0b1"/>
<path d="M54 49h1v1h-1z" fill="#00f0af"/>
<path d="M55 49h1v1h-1z" fill="#00f0ad"/>
<path d="M56 49h1v1h-1z" fill="#00f0ac"/>
<path d="M57 49h1v1h-1z" fill="#00f0aa"/>
<path d="M58 49h1v1h-1z" fill="#00f0a8"/>
<path d="M59 49h1v1h-1z" fill="#00f0a6"/>
<path d="M60 49h1v1h-1z" fill="#00f0a4"/>
<path d="M61 49h1v1h-1z" fill="#00f0a1"/>
<path d="M62 49h1v1h-1z" fill="#00f09f"/>
<path d="M63 49h1v1h-1z" fill="#00f09c"/>
<path d="M64 49h1v1h-1z" fill="#00f099"/>
<path d="M65 49h1v1h-1z" fill="#00f096"/>
<path d="M66 49h1v1h-1z" fill="#00f093"/>
<path d="M67 49h1v1h-1z" fill="#00f08f"/>
<path d="M68 49h1v1h-1z" fill="#00f08b"/>
<path d="M69 49h1v1h-1z" fill="#00f087"/>
<path d="M70 49h1v1h-1z" fill="#00f082"/>
<path d="M71 49h1v1h-1z" fill="#00f07c"/>
<path d="M72 49h1v1h-1z" fill="#00f076"/>
<path d="M73 49h1v1h-1z" fill="#00f06f"/>
<path d="M74 49h1v1h-1z" fill="#00f067"/>
<path d="M75 49h1v1h-1z" fill="#00f05d"/>
<path d="M76 49h1v1h-1z" fill="#00f051"/>
<path d="M77 49h1v1h-1z" fill="#00f041"/>
<path d="M78 49h1v1h-1z" fill="#00f00f"/>
<path d="M79 49h1v1h-1z" fill="#00f000"/>
<path d="M80 49h1v1h-1z" fill="#00f000"/>
<path d="M81 49h1v1h-1z" fill="#00f000"/>
<path d="M82 49h1v1h-1z" fill="#00f000"/>
<path d="M83 49h1v1h-1z" fill="#02f000"/>
<path d="M84 49h1v1h-1z" fill="#38f000"/>
<path d="M85 49h1v1h-1z" fill="#5ef000"/>
<path d="M86 49h1v1h-1z" fill="#80f000"/>
<path d="M87 49h1v1h-1z" fill="#9bf000"/>
<path d="M88 49h1v1h-1z" fill="#a9f000"/>
<path d="M89 49h1v1h-1z" fill="#b1f000"/>
<path d="M90 49h1v1h-1z" fill="#b8f000"/>
<path d="M91 49h1v1h-1z" fill="#bff000"/>
<path d="M92 49h1v1h-1z" fill="#c6f000"/>
<path d="M93 49h1v1h-1z" fill="#cdf000"/>
<path d="M94 49h1v1h-1z" fill="#d3f000"/>
<path d="M95 49h1v1h-1z" fill="#d9f000"/>
<path d="M96 49h1v1h-1z" fill="#dff000"/>
<path d="M97 49h1v1h-1z" fill="#e5f000"/>
<path d="M98 49h1v1h-1z" fill="#eaf000"/>
<path d="M99 49h1v1h-1z" fill="#eff000"/>
<path d="M34 50h1v1h-1z" fill="#00f0c5"/>
<path d="M35 50h1v1h-1z" fill="#00f0c5"/>
<path d="M36 50h1v1h-1z" fill="#00f0c4"/>
<path d="M37 50h1v1h-1z" fill="#00f0c3"/>
<path d="M38 50h1v1h-1z" fill="#00f0c2"/>
<path d="M39 50h1v1h-1z" fill="#00f0c1"/>
<path d="M40 50h1v1h-1z" fill="#00f0c1"/>
<path d="M41 50h1v1h-1z" fill="#00f0c0"/>
<path d="M42 50h1v1h-1z" fill="#00f0bf"/>
<path d="M43 50h1v1h-1z" fill="#00f0be"/>
<path d="M44 50h1v1h-1z" fill="#00f0bd"/>
<path d="M45 50h1v1h-1z" fill="#00f0bc"/>
<path d="M46 50h1v1h-1z" fill="#00f0bb"/>
<path d="M47 50h1v1h-1z" fill="#00f0ba"/>
<path d="M48 50h1v1h-1z" fill="#00f0b9"/>
<path d="M49 50h1v1h-1z" fill="#00f0b8"/>
<path d="M50 50h1v1h-1z" fill="#00f0b6"/>
<path d="M51 50h1v1h-1z" fill="#00f0b5"/>
<path d="M52 50h1v1h-1z" fill="#00f0b4"/>
<path d="M53 50h1v1h-1z" fill="#00f0b2"/>
<path d="M54 50h1v1h-1z" fill="#00f0b1"/>
<path d="M55 50h1v1h-1z" fill="#00f0af"/>
<path d="M56 50h1v1h-1z" fill="#00f0ad"/>
<path d="M57 50h1v1h-1z" fill="#00f0ab"/>
<path d="M58 50h1v1h-1z" fill="#00f0aa"/>
<path d="M59 50h1v1h-1z" fill="#00f0a7"/>
<path d="M60 50h1v1h-1z" fill="#00f0a5"/>
<path d="M61 50h1v1h-1z" fill="#00f0a3"/>
<path d="M62 50h1v1h-1z" fill="#00f0a1"/>
<path d="M63 50h1v1h-1z" fill="#00f09e"/>
<path d="M64 50h1v1h-1z" fill="#00f09b"/>
<path d="M65 50h1v1h-1z" fill="#00f098"/>
<path d="M66 50h1v1h-1z" fill="#00f095"/>
<path d="M67 50h1v1h-1z" fill="#00f091"/>
<path d="M68 50h1v1h-1z" fill="#00f08d"/>
<path d="M69 50h1v1h-1z" fill="#00f089"/>
<path d="M70 50h1v1h-1z" fill="#00f084"/>
<path d="M71 50h1v1h-1z" fill="#00f07e"/>
<path d="M72 50h1v1h-1z" fill="#00f078"/>
<path d="M73 50h1v1h-1z" fill="#00f071"/>
<path d="M74 50h1v1h-1z" fill="#00f069"/>
<path d="M75 50h1v1h-1z" fill="#00f060"/>
<path d="M76 50h1v1h-1z" fill="#00f054"/>
<path d="M77 50h1v1h-1z" fill="#00f030"/>
<path d="M78 50h1v1h-1z" fill="#00f00f"/>
<path d="M79 50h1v1h-1z" fill="#00f000"/>
<path d="M80 50h1v1h-1z" fill="#00f000"/>
<path d="M81 50h1v1h-1z" fill="#00f000"/>
<path d="M82 50h1v1h-1z" fill="#00f000"/>
<path d="M83 50h1v1h-1z" fill="#00f000"/>
<path d="M84 50h1v1h-1z" fill="#0ff000"/>
<path d="M85 50h1v1h-1z" fill="#45f000"/>
<path d="M86 50h1v1h-1z" fill="#87f000"/>
<path d="M87 50h1v1h-1z" fill="#a0f000"/>
<path d="M88 50h1v1h-1z" fill="#abf000"/>
<path d="M89 50h1v1h-1z" fill="#b3f000"/>
<path d="M90 50h1v1h-1z" fill="#bbf000"/>
<path d="M91 50h1v1h-1z" fill="#c2f000"/>
<path d="M92 50h1v1h-1z" fill="#c9f000"/>
<path d="M93 50h1v1h-1z" fill="#d0f000"/>
<path d="M94 50h1v1h-1z" fill="#d6f000"/>
<path d="M95 50h1v1h-1z" fill="#dcf000"/>
<path d="M96 50h1v1h-1z" fill="#e2f000"/>
<path d="M97 50h1v1h-1z" fill="#e8f000"/>
<path d="M98 50h1v1h-1z" fill="#eef000"/>
<path d="M99 50h1v1h-1z" fill="#f3f000"/>
<path d="M100 50h1v1h-1z" fill="#f9f000"/>
<path d="M34 51h1v1h-1z" fill="#00f0c6"/>
<path d="M35 51h1v1h-1z" fill="#00f0c6"/>
<path d="M36 51h1v1h-1z" fill="#00f0c5"/>
<path d="M37 51h1v1h-1z" fill="#00f0c4"/>
<path d="M38 51h1v1h-1z" fill="#00f0c4"/>
<path d="M39 51h1v1h-1z" fill="#00f0c3"/>
<path d="M40 51h1v1h-1z" fill="#00f0c2"/>
<path d="M41 51h1v1h-1z" fill="#00f0c1"/>
<path d="M42 51h1v1h-1z" fill="#00f0c0"/>
<path d="M43 51h1v1h-1z" fill="#00f0bf"/>
<path d="M44 51h1v1h-1z" fill="#00f0be"/>
<path d="M45 51h1v1h-1z" fill="#00f0bd"/>
<path d="M46 51h1v1h-1z" fill="#00f0bc"/>
<path d="M47 51h1v1h-1z" fill="#00f0bb"/>
<path d="M48 51h1v1h-1z" fill="#00f0ba"/>
<path d="M49 51h1v1h-1z" fill="#00f0b9"/>
<path d="M50 51h1v1h-1z" fill="#00f0b8"/>
<path d="M51 51h1v1h-1z" fill="#00f0b7"/>
<path d="M52 51h1v1h-1z" fill="#00f0b5"/>
<path d="M53 51h1v1h-1z" fill="#00f0b4"/>
<path d="M54 51h1v1h-1z" fill="#00f0b2"/>
<path d="M55 51h1v1h-1z" fill="#00f0b1"/>
<path d="M56 51h1v1h-1z" fill="#00f0af"/>
<path d="M57 51h1v1h-1z" fill="#00f0ad"/>
<path d="M58 51h1v1h-1z" fill="#00f0ab"/>
<path d="M59 51h1v1h-1z" fill="#00f0a9"/>
<path d="M60 51h1v1h-1z" fill="#00f0a7"/>
<path d="M61 51h1v1h-1z" fill="#00f0a5"/>
<path d="M62 51h1v1h-1z" fill="#00f0a2"/>
<path d="M63 51h1v1h-1z" fill="#00f0a0"/>
<path d="M64 51h1v1h-1z" fill="#00f09d"/>
<path d="M65 51h1v1h-1z" fill="#00f09a"/>
<path d="M66 51h1v1h-1z" fill="#00f097"/>
<path d="M67 51h1v1h-1z" fill="#00f093"/>
<path d="M68 51h1v1h-1z" fill="#00f08f"/>
<path d="M69 51h1v1h-1z" fill="#00f08b"/>
<path d="M70 51h1v1h-1z" fill="#00f086"/>
<path d="M71 51h1v1h-1z" fill="#00f081"/>
<path d="M72 51h1v1h-1z" fill="#00f07a"/>
<path d="M73 51h1v1h-1z" fill="#00f073"/>
<path d="M74 51h1v1h-1z" fill="#00f06b"/>
<path d="M75 51h1v1h-1z" fill="#00f062"/>
<path d="M76 51h1v1h-1z" fill="#00f056"/>
<path d="M77 51h1v1h-1z" fill="#00f02c"/>
<path d="M78 51h1v1h-1z" fill="#00f010"/>
<path d="M79 51h1v1h-1z" fill="#00f000"/>
<path d="M80 51h1v1h-1z" fill="#00f000"/>
<path d="M81 51h1v1h-1z" fill="#00f000"/>
<path d="M82 51h1v1h-1z" fill="#00f000"/>
<path d="M83 51h1v1h-1z" fill="#00f000"/>
<path d="M84 51h1v1h-1z" fill="#07f000"/>
<path d="M85 51h1v1h-1z" fill="#2cf001"/>
<path d="M86 51h1v1h-1z" fill="#64f003"/>
<path d="M87 51h1v1h-1z" fill="#9cf002"/>
<path d="M88 51h1v1h-1z" fill="#aef000"/>
<path d="M89 51h1v1h-1z" fill="#b6f000"/>
<path d="M90 51h1v1h-1z" fill="#bef000"/>
<path d="M91 51h1v1h-1z" fill="#c5f000"/>
<path d="M92 51h1v1h-1z" fill="#cdf000"/>
<path d="M93 51h1v1h-1z" fill="#d3f000"/>
<path d="M94 51h1v1h-1z" fill="#daf000"/>
<path d="M95 51h1v1h-1z" fill="#e0f000"/>
<path d="M96 51h1v1h-1z" fill="#e6f000"/>
<path d="M97 51h1v1h-1z" fill="#ecf000"/>
<path d="M98 51h1v1h-1z" fill="#f2f000"/>
<path d="M99 51h1v1h-1z" fill="#f8f000"/>
<path d="M100 51h1v1h-1z" fill="#fdf000"/>
<path d="M101 51h1v1h-1z" fill="#ffed00"/>
<path d="M34 52h1v1h-1z" fill="#00f0c8"/>
<path d="M35 52h1v1h-1z" fill="#00f0c7"/>
<path d="M36 52h1v1h-1z" fill="#00f0c6"/>
<path d="M37 52h1v1h-1z" fill="#00f0c6"/>
<path d="M38 52h1v1h-1z" fill="#00f0c5"/>
<path d="M39 52h1v1h-1z" fill="#00f0c4"/>
<path d="M40 52h1v1h-1z" fill="#00f0c3"/>
<path d="M41 52h1v1h-1z" fill="#00f0c3"/>
<path d="M42 52h1v1h-1z" fill="#00f0c2"/>
<path d="M43 52h1v1h-1z" fill="#00f0c1"/>
<path d="M44 52h1v1h-1z" fill="#00f0c0"/>
<path d="M45 52h1v1h-1z" fill="#00f0bf"/>
<path d="M46 52h1v1h-1z" fill="#00f0be"/>
<path d="M47 52h1v1h-1z" fill="#00f0bd"/>
<path d="M48 52h1v1h-1z" fill="#00f0bc"/>
<path d="M49 52h1v1h-1z" fill="#00f0bb"/>
<path d="M50 52h1v1h-1z" fill="#00f0b9"/>
<path d="M51 52h1v1h-1z" fill="#00f0b8"/>
<path d="M52 52h1v1h-1z" fill="#00f0b7"/>
<path d="M53 52h1v1h-1z" fill="#00f0b5"/>
<path d="M54 52h1v1h-1z" fill="#00f0b4"/>
<path d="M55 52h1v1h-1z" fill="#00f0b2"/>
<path d="M56 52h1v1h-1z" fill="#00f0b1"/>
<path d="M57 52h1v1h-1z" fill="#00f0af"/>
<path d="M58 52h1v1h-1z" fill="#00f0ad"/>
<path d="M59 52h1v1h-1z" fill="#00f0ab"/>
<path d="M60 52h1v1h-1z" fill="#00f0a9"/>
<path d="M61 52h1v1h-1z" fill="#00f0a7"/>
<path d="M62 52h1v1h-1z" fill="#00f0a4"/>
<path d="M63 52h1v1h-1z" fill="#00f0a2"/>
<path d="M64 52h1v1h-1z" fill="#00f09f"/>
<path d="M65 52h1v1h-1z" fill="#00f09c"/>
<path d="M66 52h1v1h-1z" fill="#00f099"/>
<path d="M67 52h1v1h-1z" fill="#00f095"/>
<path d="M68 52h1v1h-1z" fill="#00f091"/>
<path d="M69 52h1v1h-1z" fill="#00f08d"/>
<path d="M70 52h1v1h-1z" fill="#00f088"/>
<path d="M71 52h1v1h-1z" fill="#00f083"/>
<path d="M72 52h1v1h-1z" fill="#00f07d"/>
<path d="M73 52h1v1h-1z" fill="#00f076"/>
<path d="M74 52h1v1h-1z" fill="#00f06e"/>
<path d="M75 52h1v1h-1z" fill="#00f064"/>
<path d="M76 52h1v1h-1z" fill="#00f04e"/>
<path d="M77 52h1v1h-1z" fill="#00f02b"/>
<path d="M78 52h1v1h-1z" fill="#00f011"/>
<path d="M79 52h1v1h-1z" fill="#00f000"/>
<path d="M80 52h1v1h-1z" fill="#00f000"/>
<path d="M81 52h1v1h-1z" fill="#00f000"/>
<path d="M82 52h1v1h-1z" fill="#00f000"/>
<path d="M83 52h1v1h-1z" fill="#00f000"/>
<path d="M84 52h1v1h-1z" fill="#04f001"/>
<path d="M85 52h1v1h-1z" fill="#25f003"/>
<path d="M86 52h1v1h-1z" fill="#58f007"/>
<path d="M87 52h1v1h-1z" fill="#8bf10b"/>
<path d="M88 52h1v1h-1z" fill="#abf10b"/>
<path d="M89 52h1v1h-1z" fill="#b9f000"/>
<path d="M90 52h1v1h-1z" fill="#c1f000"/>
<path d="M91 52h1v1h-1z" fill="#c9f000"/>
<path d="M92 52h1v1h-1z" fill="#d0f000"/>
<path d="M93 52h1v1h-1z" fill="#d7f000"/>
<path d="M94 52h1v1h-1z" fill="#def000"/>
<path d="M95 52h1v1h-1z" fill="#e4f000"/>
<path d="M96 52h1v1h-1z" fill="#eaf000"/>
<path d="M97 52h1v1h-1z" fill="#f0f000"/>
<path d="M98 52h1v1h-1z" fill="#f6f000"/>
<path d="M99 52h1v1h-1z" fill="#fcf000"/>
<path d="M100 52h1v1h-1z" fill="#ffee00"/>
<path d="M101 52h1v1h-1z" fill="#ffe900"/>
<path d="M102 52h1v1h-1z" fill="#ffe400"/>
<path d="M103 52h1v1h-1z" fill="#ffe000"/>
<path d="M34 53h1v1h-1z" fill="#00f0c9"/>
<path d="M35 53h1v1h-1z" fill="#00f0c8"/>
<path d="M36 53h1v1h-1z" fill="#00f0c8"/>
<path d="M37 53h1v1h-1z" fill="#00f0c7"/>
<path d="M38 53h1v1h-1z" fill="#00f0c6"/>
<path d="M39 53h1v1h-1z" fill="#00f0c6"/>
<path d="M40 53h1v1h-1z" fill="#00f0c5"/>
<path d="M41 53h1v1h-1z" fill="#00f0c4"/>
<path d="M42 53h1v1h-1z" fill="#00f0c3"/>
<path d="M43 53h1v1h-1z" fill="#00f0c2"/>
<path d="M44 53h1v1h-1z" fill="#00f0c1"/>
<path d="M45 53h1v1h-1z" fill="#00f0c0"/>
<path d="M46 53h1v1h-1z" fill="#00f0bf"/>
<path d="M47 53h1v1h-1z" fill="#00f0be"/>
<path d="M48 53h1v1h-1z" fill="#00f0bd"/>
<path d="M49 53h1v1h-1z" fill="#00f0bc"/>
<path d="M50 53h1v1h-1z" fill="#00f0bb"/>
<path d="M51 53h1v1h-1z" fill="#00f0ba"/>
<path d="M52 53h1v1h-1z" fill="#00f0b8"/>
<path d="M53 53h1v1h-1z" fill="#00f0b7"/>
<path d="M54 53h1v1h-1z" fill="#00f0b6"/>
<path d="M55 53h1v1h-1z" fill="#00f0b4"/>
<path d="M56 53h1v1h-1z" fill="#00f0b2"/>
<path d="M57 53h1v1h-1z" fill="#00f0b1"/>
<path d="M58 53h1v1h-1z" fill="#00f0af"/>
<path d="M59 53h1v1h-1z" fill="#00f0ad"/>
<path d="M60 53h1v1h-1z" fill="#00f0ab"/>
<path d="M61 53h1v1h-1z" fill="#00f0a9"/>
<path d="M62 53h1v1h-1z" fill="#00f0a6"/>
<path d="M63 53h1v1h-1z" fill="#00f0a4"/>
<path d="M64 53h1v1h-1z" fill="#00f0a1"/>
<path d="M65 53h1v1h-1z" fill="#00f09e"/>
<path d="M66 53h1v1h-1z" fill="#00f09b"/>
<path d="M67 53h1v1h-1z" fill="#00f097"/>
<path d="M68 53h1v1h-1z" fill="#00f093"/>
<path d="M69 53h1v1h-1z" fill="#00f08f"/>
<path d="M70 53h1v1h-1z" fill="#00f08a"/>
<path d="M71 53h1v1h-1z" fill="#00f085"/>
<path d="M72 53h1v1h-1z" fill="#00f07f"/>
<path d="M73 53h1v1h-1z" fill="#00f078"/>
<path d="M74 53h1v1h-1z" fill="#00f070"/>
<path d="M75 53h1v1h-1z" fill="#00f066"/>
<path d="M76 53h1v1h-1z" fill="#00f046"/>
<path d="M77 53h1v1h-1z" fill="#00f02a"/>
<path d="M78 53h1v1h-1z" fill="#00f012"/>
<path d="M79 53h1v1h-1z" fill="#00f000"/>
<path d="M80 53h1v1h-1z" fill="#00f000"/>
<path d="M81 53h1v1h-1z" fill="#00f000"/>
<path d="M82 53h1v1h-1z" fill="#00f000"/>
<path d="M83 53h1v1h-1z" fill="#00f000"/>
<path d="M84 53h1v1h-1z" fill="#05f002"/>
<path d="M85 53h1v1h-1z" fill="#24f007"/>
<path d="M86 53h1v1h-1z" fill="#57f10d"/>
<path d="M87 53h1v1h-1z" fill="#8af112"/>
<path d="M88 53h1v1h-1z" fill="#acf116"/>
<path d="M89 53h1v1h-1z" fill="#b9f117"/>
<path d="M90 53h1v1h-1z" fill="#c3f112"/>
<path d="M91 53h1v1h-1z" fill="#ccf000"/>
<path d="M92 53h1v1h-1z" fill="#d4f000"/>
<path d="M93 53h1v1h-1z" fill="#dbf000"/>
<path d="M94 53h1v1h-1z" fill="#e2f000"/>
<path d="M95 53h1v1h-1z" fill="#e8f000"/>
<path d="M96 53h1v1h-1z" fill="#eff000"/>
<path d="M97 53h1v1h-1z" fill="#f5f000"/>
<path d="M98 53h1v1h-1z" fill="#fbf000"/>
<path d="M99 53h1v1h-1z" fill="#ffee00"/>
<path d="M100 53h1v1h-1z" fill="#ffe900"/>
<path d="M101 53h1v1h-1z" fill="#ffe400"/>
<path d="M102 53h1v1h-1z" fill="#ffe000"/>
<path d="M103 53h1v1h-1z" fill="#ffdc00"/>
<path d="M104 53h1v1h-1z" fill="#ffd800"/>
<path d="M34 54h1v1h-1z" fill="#00f0ca"/>
<path d="M35 54h1v1h-1z" fill="#00f0ca"/>
<path d="M36 54h1v1h-1z" fill="#00f0c9"/>
<path d="M37 54h1v1h-1z" fill="#00f0c8"/>
<path d="M38 54h1v1h-1z" fill="#00f0c8"/>
<path d="M39 54h1v1h-1z" fill="#00f0c7"/>
<path d="M40 54h1v1h-1z" fill="#00f0c6"/>
<path d="M41 54h1v1h-1z" fill="#00f0c5"/>
<path d="M42 54h1v1h-1z" fill="#00f0c5"/>
<path d="M43 54h1v1h-1z" fill="#00f0c4"/>
<path d="M44 54h1v1h-1z" fill="#00f0c3"/>
<path d="M45 54h1v1h-1z" fill="#00f0c2"/>
<path d="M46 54h1v1h-1z" fill="#00f0c1"/>
<path d="M47 54h1v1h-1z" fill="#00f0c0"/>
<path d="M48 54h1v1h-1z" fill="#00f0bf"/>
<path d="M49 54h1v1h-1z" fill="#00f0be"/>
<path d="M50 54h1v1h-1z" fill="#00f0bd"/>
<path d="M51 54h1v1h-1z" fill="#00f0bb"/>
<path d="M52 54h1v1h-1z" fill="#00f0ba"/>
<path d="M53 54h1v1h-1z" fill="#00f0b9"/>
<path d="M54 54h1v1h-1z" fill="#00f0b7"/>
<path d="M55 54h1v1h-1z" fill="#00f0b6"/>
<path d="M56 54h1v1h-1z" fill="#00f0b4"/>
<path d="M57 54h1v1h-1z" fill="#00f0b3"/>
<path d="M58 54h1v1h-1z" fill="#00f0b1"/>
<path d="M59 54h1v1h-1z" fill="#00f0af"/>
<path d="M60 54h1v1h-1z" fill="#00f0ad"/>
<path d="M61 54h1v1h-1z" fill="#00f0ab"/>
<path d="M62 54h1v1h-1z" fill="#00f0a8"/>
<path d="M63 54h1v1h-1z" fill="#00f0a6"/>
<path d="M64 54h1v1h-1z" fill="#00f0a3"/>
<path d="M65 54h1v1h-1z" fill="#00f0a0"/>
<path d="M66 54h1v1h-1z" fill="#00f09d"/>
<path d="M67 54h1v1h-1z" fill="#00f099"/>
<path d="M68 54h1v1h-1z" fill="#00f096"/>
<path d="M69 54h1v1h-1z" fill="#00f091"/>
<path d="M70 54h1v1h-1z" fill="#00f08d"/>
<path d="M71 54h1v1h-1z" fill="#00f087"/>
<path d="M72 54h1v1h-1z" fill="#00f081"/>
<path d="M73 54h1v1h-1z" fill="#00f07b"/>
<path d="M74 54h1v1h-1z" fill="#00f073"/>
<path d="M75 54h1v1h-1z" fill="#00f069"/>
<path d="M76 54h1v1h-1z" fill="#00f043"/>
<path d="M77 54h1v1h-1z" fill="#00f02a"/>
<path d="M78 54h1v1h-1z" fill="#00f013"/>
<path d="M79 54h1v1h-1z" fill="#00f000"/>
<path d="M80 54h1v1h-1z" fill="#00f000"/>
<path d="M81 54h1v1h-1z" fill="#00f000"/>
<path d="M82 54h1v1h-1z" fill="#00f000"/>
<path d="M83 54h1v1h-1z" fill="#01f001"/>
<path d="M84 54h1v1h-1z" fill="#08f006"/>
<path d="M85 54h1v1h-1z" fill="#28f10c"/>
<path d="M86 54h1v1h-1z" fill="#5bf114"/>
<path d="M87 54h1v1h-1z" fill="#8ef21b"/>
<path d="M88 54h1v1h-1z" fill="#b0f221"/>
<path d="M89 54h1v1h-1z" fill="#bdf224"/>
<path d="M90 54h1v1h-1z" fill="#c7f224"/>
<path d="M91 54h1v1h-1z" fill="#d0f220"/>
<path d="M92 54h1v1h-1z" fill="#d8f113"/>
<path d="M93 54h1v1h-1z" fill="#dff000"/>
<path d="M94 54h1v1h-1z" fill="#e6f000"/>
<path d="M95 54h1v1h-1z" fill="#edf000"/>
<path d="M96 54h1v1h-1z" fill="#f3f000"/>
<path d="M97 54h1v1h-1z" fill="#faf000"/>
<path d="M98 54h1v1h-1z" fill="#ffef00"/>
<path d="M99 54h1v1h-1z" fill="#ffea00"/>
<path d="M100 54h1v1h-1z" fill="#ffe500"/>
<path d="M101 54h1v1h-1z" fill="#ffe000"/>
<path d="M102 54h1v1h-1z" fill="#ffdb00"/>
<path d="M103 54h1v1h-1z" fill="#ffd700"/>
<path d="M104 54h1v1h-1z" fill="#ffd300"/>
<path d="M105 54h1v1h-1z" fill="#ffd000"/>
<path d="M106 54h1v1h-1z" fill="#ffcc00"/>
<path d="M34 55h1v1h-1z" fill="#00f0cc"/>
<path d="M35 55h1v1h-1z" fill="#00f0cb"/>
<path d="M36 55h1v1h-1z" fill="#00f0ca"/>
<path d="M37 55h1v1h-1z" fill="#00f0ca"/>
<path d="M38 55h1v1h-1z" fill="#00f0c9"/>
<path d="M39 55h1v1h-1z" fill="#00f0c8"/>
<path d="M40 55h1v1h-1z" fill="#00f0c8"/>
<path d="M41 55h1v1h-1z" fill="#00f0c7"/>
<path d="M42 55h1v1h-1z" fill="#00f0c6"/>
<path d="M43 55h1v1h-1z" fill="#00f0c5"/>
<path d="M44 55h1v1h-1z" fill="#00f0c4"/>
<path d="M45 55h1v1h-1z" fill="#00f0c4"/>
<path d="M46 55h1v1h-1z" fill="#00f0c3"/>
<path d="M47 55h1v1h-1z" fill="#00f0c2"/>
<path d="M48 55h1v1h-1z" fill="#00f0c1"/>
<path d="M49 55h1v1h-1z" fill="#00f0c0"/>
<path d="M50 55h1v1h-1z" fill="#00f0be"/>
<path d="M51 55h1v1h-1z" fill="#00f0bd"/>
<path d="M52 55h1v1h-1z" fill="#00f0bc"/>
<path d="M53 55h1v1h-1z" fill="#00f0bb"/>
<path d="M54 55h1v1h-1z" fill="#00f0b9"/>
<path d="M55 55h1v1h-1z" fill="#00f0b8"/>
<path d="M56 55h1v1h-1z" fill="#00f0b6"/>
<path d="M57 55h1v1h-1z" fill="#00f0b5"/>
<path d="M58 55h1v1h-1z" fill="#00f0b3"/>
<path d="M59 55h1v1h-1z" fill="#00f0b1"/>
<path d="M60 55h1v1h-1z" fill="#00f0af"/>
<path d="M61 55h1v1h-1z" fill="#00f0ad"/>
<path d="M62 55h1v1h-1z" fill="#00f0aa"/>
<path d="M63 55h1v1h-1z" fill="#00f0a8"/>
<path d="M64 55h1v1h-1z" fill="#00f0a5"/>
<path d="M65 55h1v1h-1z" fill="#00f0a2"/>
<path d="M66 55h1v1h-1z" fill="#00f09f"/>
<path d="M67 55h1v1h-1z" fill="#00f09c"/>
<path d="M68 55h1v1h-1z" fill="#00f098"/>
<path d="M69 55h1v1h-1z" fill="#00f094"/>
<path d="M70 55h1v1h-1z" fill="#00f08f"/>
<path d="M71 55h1v1h-1z" fill="#00f08a"/>
<path d="M72 55h1v1h-1z" fill="#00f084"/>
<path d="M73 55h1v1h-1z" fill="#00f07d"/>
<path d="M74 55h1v1h-1z" fill="#00f075"/>
<path d="M75 55h1v1h-1z" fill="#00f05d"/>
<path d="M76 55h1v1h-1z" fill="#00f041"/>
<path d="M77 55h1v1h-1z" fill="#00f02b"/>
<path d="M78 55h1v1h-1z" fill="#00f014"/>
<path d="M79 55h1v1h-1z" fill="#00f000"/>
<path d="M80 55h1v1h-1z" fill="#00f000"/>
<path d="M81 55h1v1h-1z" fill="#00f000"/>
<path d="M82 55h1v1h-1z" fill="#00f000"/>
<path d="M83 55h1v1h-1z" fill="#04f004"/>
<path d="M84 55h1v1h-1z" fill="#0df10b"/>
<path d="M85 55h1v1h-1z" fill="#2ff113"/>
<path d="M86 55h1v1h-1z" fill="#64f21d"/>
<path d="M87 55h1v1h-1z" fill="#96f226"/>
<path d="M88 55h1v1h-1z" fill="#b6f32d"/>
<path d="M89 55h1v1h-1z" fill="#c2f332"/>
<path d="M90 55h1v1h-1z" fill="#ccf334"/>
<path d="M91 55h1v1h-1z" fill="#d5f332"/>
<path d="M92 55h1v1h-1z" fill="#ddf32d"/>
<path d="M93 55h1v1h-1z" fill="#e4f222"/>
<path d="M94 55h1v1h-1z" fill="#ebf10b"/>
<path d="M95 55h1v1h-1z" fill="#f2f000"/>
<path d="M96 55h1v1h-1z" fill="#f8f000"/>
<path d="M97 55h1v1h-1z" fill="#fff000"/>
<path d="M98 55h1v1h-1z" fill="#ffea00"/>
<path d="M99 55h1v1h-1z" fill="#ffe500"/>
<path d="M100 55h1v1h-1z" fill="#ffe000"/>
<path d="M101 55h1v1h-1z" fill="#ffdb00"/>
<path d="M102 55h1v1h-1z" fill="#ffd700"/>
<path d="M103 55h1v1h-1z" fill="#ffd300"/>
<path d="M104 55h1v1h-1z" fill="#ffcf00"/>
<path d="M105 55h1v1h-1z" fill="#ffcb00"/>
<path d="M106 55h1v1h-1z" fill="#ffc800"/>
<path d="M107 55h1v1h-1z" fill="#ffc500"/>
<path d="M35 56h1v1h-1z" fill="#00f0cc"/>
<path d="M36 56h1v1h-1z" fill="#00f0cc"/>
<path d="M37 56h1v1h-1z" fill="#00f0cb"/>
<path d="M38 56h1v1h-1z" fill="#00f0cb"/>
<path d="M39 56h1v1h-1z" fill="#00f0ca"/>
<path d="M40 56h1v1h-1z" fill="#00f0c9"/>
<path d="M41 56h1v1h-1z" fill="#00f0c8"/>
<path d="M42 56h1v1h-1z" fill="#00f0c8"/>
<path d="M43 56h1v1h-1z" fill="#00f0c7"/>
<path d="M44 56h1v1h-1z" fill="#00f0c6"/>
<path d="M45 56h1v1h-1z" fill="#00f0c5"/>
<path d="M46 56h1v1h-1z" fill="#00f0c4"/>
<path d="M47 56h1v1h-1z" fill="#00f0c3"/>
<path d="M48 56h1v1h-1z" fill="#00f0c2"/>
<path d="M49 56h1v1h-1z" fill="#00f0c1"/>
<path d="M50 56h1v1h-1z" fill="#00f0c0"/>
<path d="M51 56h1v1h-1z" fill="#00f0bf"/>
<path d="M52 56h1v1h-1z" fill="#00f0be"/>
<path d="M53 56h1v1h-1z" fill="#00f0bc"/>
<path d="M54 56h1v1h-1z" fill="#00f0bb"/>
<path d="M55 56h1v1h-1z" fill="#00f0ba"/>
<path d="M56 56h1v1h-1z" fill="#00f0b8"/>
<path d="M57 56h1v1h-1z" fill="#00f0b7"/>
<path d="M58 56h1v1h-1z" fill="#00f0b5"/>
<path d="M59 56h1v1h-1z" fill="#00f0b3"/>
<path d="M60 56h1v1h-1z" fill="#00f0b1"/>
<path d="M61 56h1v1h-1z" fill="#00f0af"/>
<path d="M62 56h1v1h-1z" fill="#00f0ad"/>
<path d="M63 56h1v1h-1z" fill="#00f0aa"/>
<path d="M64 56h1v1h-1z" fill="#00f0a8"/>
<path d="M65 56h1v1h-1z" fill="#00f0a5"/>
<path d="M66 56h1v1h-1z" fill="#00f0a2"/>
<path d="M67 56h1v1h-1z" fill="#00f09e"/>
<path d="M68 56h1v1h-1z" fill="#00f09a"/>
<path d="M69 56h1v1h-1z" fill="#00f096"/>
<path d="M70 56h1v1h-1z" fill="#00f092"/>
<path d="M71 56h1v1h-1z" fill="#00f08c"/>
<path d="M72 56h1v1h-1z" fill="#00f087"/>
<path d="M73 56h1v1h-1z" fill="#00f080"/>
<path d="M74 56h1v1h-1z" fill="#00f078"/>
<path d="M75 56h1v1h-1z" fill="#00f059"/>
<path d="M76 56h1v1h-1z" fill="#00f041"/>
<path d="M77 56h1v1h-1z" fill="#00f02c"/>
<path d="M78 56h1v1h-1z" fill="#00f016"/>
<path d="M79 56h1v1h-1z" fill="#03f002"/>
<path d="M80 56h1v1h-1z" fill="#01f001"/>
<path d="M81 56h1v1h-1z" fill="#00f000"/>
<path d="M82 56h1v1h-1z" fill="#02f002"/>
<path d="M83 56h1v1h-1z" fill="#09f108"/>
<path d="M84 56h1v1h-1z" fill="#14f111"/>
<path d="M85 56h1v1h-1z" fill="#3af21c"/>
<path d="M86 56h1v1h-1z" fill="#6ff227"/>
<path d="M87 56h1v1h-1z" fill="#a1f332"/>
<path d="M88 56h1v1h-1z" fill="#bcf33a"/>
<path d="M89 56h1v1h-1z" fill="#c8f43f"/>
<path d="M90 56h1v1h-1z" fill="#d2f442"/>
<path d="M91 56h1v1h-1z" fill="#dbf441"/>
<path d="M92 56h1v1h-1z" fill="#e2f43d"/>
<path d="M93 56h1v1h-1z" fill="#e9f336"/>
<path d="M94 56h1v1h-1z" fill="#f0f32d"/>
<path d="M95 56h1v1h-1z" fill="#f7f21f"/>
<path d="M96 56h1v1h-1z" fill="#fef000"/>
<path d="M97 56h1v1h-1z" fill="#ffeb00"/>
<path d="M98 56h1v1h-1z" fill="#ffe500"/>
<path d="M99 56h1v1h-1z" fill="#ffe000"/>
<path d="M100 56h1v1h-1z" fill="#ffdb00"/>
<path d="M101 56h1v1h-1z" fill="#ffd700"/>
<path d="M102 56h1v1h-1z" fill="#ffd200"/>
<path d="M103 56h1v1h-1z" fill="#ffce00"/>
<path d="M104 56h1v1h-1z" fill="#ffcb00"/>
<path d="M105 56h1v1h-1z" fill="#ffc700"/>
<path d="M106 56h1v1h-1z" fill="#ffc400"/>
<path d="M107 56h1v1h-1z" fill="#ffc000"/>
<path d="M108 56h1v1h-1z" fill="#ffbd00"/>
<path d="M35 57h1v1h-1z" fill="#00f0ce"/>
<path d="M36 57h1v1h-1z" fill="#00f0cd"/>
<path d="M37 57h1v1h-1z" fill="#00f0cd"/>
<path d="M38 57h1v1h-1z" fill="#00f0cc"/>
<path d="M39 57h1v1h-1z" fill="#00f0cb"/>
<path d="M40 57h1v1h-1z" fill="#00f0cb"/>
<path d="M41 57h1v1h-1z" fill="#00f0ca"/>
<path d="M42 57h1v1h-1z" fill="#00f0c9"/>
<path d="M43 57h1v1h-1z" fill="#00f0c8"/>
<path d="M44 57h1v1h-1z" fill="#00f0c8"/>
<path d="M45 57h1v1h-1z" fill="#00f0c7"/>
<path d="M46 57h1v1h-1z" fill="#00f0c6"/>
<path d="M47 57h1v1h-1z" fill="#00f0c5"/>
<path d="M48 57h1v1h-1z" fill="#00f0c4"/>
<path d="M49 57h1v1h-1z" fill="#00f0c3"/>
<path d="M50 57h1v1h-1z" fill="#00f0c2"/>
<path d="M51 57h1v1h-1z" fill="#00f0c1"/>
<path d="M52 57h1v1h-1z" fill="#00f0c0"/>
<path d="M53 57h1v1h-1z" fill="#00f0be"/>
<path d="M54 57h1v1h-1z" fill="#00f0bd"/>
<path d="M55 57h1v1h-1z" fill="#00f0bc"/>
<path d="M56 57h1v1h-1z" fill="#00f0ba"/>
<path d="M57 57h1v1h-1z" fill="#00f0b9"/>
<path d="M58 57h1v1h-1z" fill="#00f0b7"/>
<path d="M59 57h1v1h-1z" fill="#00f0b5"/>
<path d="M60 57h1v1h-1z" fill="#00f0b3"/>
<path d="M61 57h1v1h-1z" fill="#00f0b1"/>
<path d="M62 57h1v1h-1z" fill="#00f0af"/>
<path d="M63 57h1v1h-1z" fill="#00f0ad"/>
<path d="M64 57h1v1h-1z" fill="#00f0aa"/>
<path d="M65 57h1v1h-1z" fill="#00f0a7"/>
<path d="M66 57h1v1h-1z" fill="#00f0a4"/>
<path d="M67 57h1v1h-1z" fill="#00f0a1"/>
<path d="M68 57h1v1h-1z" fill="#00f09d"/>
<path d="M69 57h1v1h-1z" fill="#00f099"/>
<path d="M70 57h1v1h-1z" fill="#00f094"/>
<path d="M71 57h1v1h-1z" fill="#00f08f"/>
<path d="M72 57h1v1h-1z" fill="#00f089"/>
<path d="M73 57h1v1h-1z" fill="#00f083"/>
<path d="M74 57h1v1h-1z" fill="#00f079"/>
<path d="M75 57h1v1h-1z" fill="#00f057"/>
<path d="M76 57h1v1h-1z" fill="#00f042"/>
<path d="M77 57h1v1h-1z" fill="#00f02d"/>
<path d="M78 57h1v1h-1z" fill="#00f017"/>
<path d="M79 57h1v1h-1z" fill="#0af109"/>
<path d="M80 57h1v1h-1z" fill="#07f006"/>
<path d="M81 57h1v1h-1z" fill="#04f004"/>
<path d="M82 57h1v1h-1z" fill="#07f007"/>
<path d="M83 57h1v1h-1z" fill="#10f10f"/>
<path d="M84 57h1v1h-1z" fill="#1ef21a"/>
<path d="M85 57h1v1h-1z" fill="#47f227"/>
<path d="M86 57h1v1h-1z" fill="#7ef333"/>
<path d="M87 57h1v1h-1z" fill="#adf43f"/>
<path d="M88 57h1v1h-1z" fill="#c3f447"/>
<path d="M89 57h1v1h-1z" fill="#cff54d"/>
<path d="M90 57h1v1h-1z" fill="#d8f550"/>
<path d="M91 57h1v1h-1z" fill="#e0f54f"/>
<path d="M92 57h1v1h-1z" fill="#e7f44a"/>
<path d="M93 57h1v1h-1z" fill="#eff444"/>
<path d="M94 57h1v1h-1z" fill="#f6f43d"/>
<path d="M95 57h1v1h-1z" fill="#fdf335"/>
<path d="M96 57h1v1h-1z" fill="#ffee2a"/>
<path d="M97 57h1v1h-1z" fill="#ffe71a"/>
<path d="M98 57h1v1h-1z" fill="#ffe000"/>
<path d="M99 57h1v1h-1z" fill="#ffdb00"/>
<path d="M100 57h1v1h-1z" fill="#ffd600"/>
<path d="M101 57h1v1h-1z" fill="#ffd200"/>
<path d="M102 57h1v1h-1z" fill="#ffce00"/>
<path d="M103 57h1v1h-1z" fill="#ffca00"/>
<path d="M104 57h1v1h-1z" fill="#ffc600"/>
<path d="M105 57h1v1h-1z" fill="#ffc200"/>
<path d="M106 57h1v1h-1z" fill="#ffbf00"/>
<path d="M107 57h1v1h-1z" fill="#ffbc00"/>
<path d="M108 57h1v1h-1z" fill="#ffb900"/>
<path d="M109 57h1v1h-1z" fill="#ffb600"/>
<path d="M110 57h1v1h-1z" fill="#ffb300"/>
<path d="M35 58h1v1h-1z" fill="#00f0cf"/>
<path d="M36 58h1v1h-1z" fill="#00f0cf"/>
<path d="M37 58h1v1h-1z" fill="#00f0ce"/>
<path d="M38 58h1v1h-1z" fill="#00f0ce"/>
<path d="M39 58h1v1h-1z" fill="#00f0cd"/>
<path d="M40 58h1v1h-1z" fill="#00f0cc"/>
<path d="M41 58h1v1h-1z" fill="#00f0cc"/>
<path d="M42 58h1v1h-1z" fill="#00f0cb"/>
<path d="M43 58h1v1h-1z" fill="#00f0ca"/>
<path d="M44 58h1v1h-1z" fill="#00f0c9"/>
<path d="M45 58h1v1h-1z" fill="#00f0c9"/>
<path d="M46 58h1v1h-1z" fill="#00f0c8"/>
<path d="M47 58h1v1h-1z" fill="#00f0c7"/>
<path d="M48 58h1v1h-1z" fill="#00f0c6"/>
<path d="M49 58h1v1h-1z" fill="#00f0c5"/>
<path d="M50 58h1v1h-1z" fill="#00f0c4"/>
<path d="M51 58h1v1h-1z" fill="#00f0c3"/>
<path d="M52 58h1v1h-1z" fill="#00f0c2"/>
<path d="M53 58h1v1h-1z" fill="#00f0c0"/>
<path d="M54 58h1v1h-1z" fill="#00f0bf"/>
<path d="M55 58h1v1h-1z" fill="#00f0be"/>
<path d="M56 58h1v1h-1z" fill="#00f0bc"/>
<path d="M57 58h1v1h-1z" fill="#00f0bb"/>
<path d="M58 58h1v1h-1z" fill="#00f0b9"/>
<path d="M59 58h1v1h-1z" fill="#00f0b7"/>
<path d="M60 58h1v1h-1z" fill="#00f0b5"/>
<path d="M61 58h1v1h-1z" fill="#00f0b3"/>
<path d="M62 58h1v1h-1z" fill="#00f0b1"/>
<path d="M63 58h1v1h-1z" fill="#00f0af"/>
<path d="M64 58h1v1h-1z" fill="#00f0ac"/>
<path d="M65 58h1v1h-1z" fill="#00f0aa"/>
<path d="M66 58h1v1h-1z" fill="#00f0a7"/>
<path d="M67 58h1v1h-1z" fill="#00f0a3"/>
<path d="M68 58h1v1h-1z" fill="#00f0a0"/>
<path d="M69 58h1v1h-1z" fill="#00f09c"/>
<path d="M70 58h1v1h-1z" fill="#00f097"/>
<path d="M71 58h1v1h-1z" fill="#00f092"/>
<path d="M72 58h1v1h-1z" fill="#00f08c"/>
<path d="M73 58h1v1h-1z" fill="#00f085"/>
<path d="M74 58h1v1h-1z" fill="#00f06d"/>
<path d="M75 58h1v1h-1z" fill="#00f057"/>
<path d="M76 58h1v1h-1z" fill="#00f043"/>
<path d="M77 58h1v1h-1z" fill="#00f02e"/>
<path d="M78 58h1v1h-1z" fill="#03f01b"/>
<path d="M79 58h1v1h-1z" fill="#15f114"/>
<path d="M80 58h1v1h-1z" fill="#11f110"/>
<path d="M81 58h1v1h-1z" fill="#0ff10e"/>
<path d="M82 58h1v1h-1z" fill="#14f112"/>
<path d="M83 58h1v1h-1z" fill="#1df21b"/>
<path d="M84 58h1v1h-1z" fill="#2cf227"/>
<path d="M85 58h1v1h-1z" fill="#57f334"/>
<path d="M86 58h1v1h-1z" fill="#8ef441"/>
<path d="M87 58h1v1h-1z" fill="#b9f54d"/>
<path d="M88 58h1v1h-1z" fill="#caf555"/>
<path d="M89 58h1v1h-1z" fill="#d5f55a"/>
<path d="M90 58h1v1h-1z" fill="#def55c"/>
<path d="M91 58h1v1h-1z" fill="#e6f55a"/>
<path d="M92 58h1v1h-1z" fill="#edf555"/>
<path d="M93 58h1v1h-1z" fill="#f4f550"/>
<path d="M94 58h1v1h-1z" fill="#fbf44b"/>
<path d="M95 58h1v1h-1z" fill="#fff144"/>
<path d="M96 58h1v1h-1z" fill="#ffea3b"/>
<path d="M97 58h1v1h-1z" fill="#ffe331"/>
<path d="M98 58h1v1h-1z" fill="#ffdd25"/>
<path d="M99 58h1v1h-1z" fill="#ffd713"/>
<path d="M100 58h1v1h-1z" fill="#ffd100"/>
<path d="M101 58h1v1h-1z" fill="#ffcd00"/>
<path d="M102 58h1v1h-1z" fill="#ffc900"/>
<path d="M103 58h1v1h-1z" fill="#ffc500"/>
<path d="M104 58h1v1h-1z" fill="#ffc100"/>
<path d="M105 58h1v1h-1z" fill="#ffbe00"/>
<path d="M106 58h1v1h-1z" fill="#ffba00"/>
<path d="M107 58h1v1h-1z" fill="#ffb700"/>
<path d="M108 58h1v1h-1z" fill="#ffb400"/>
<path d="M109 58h1v1h-1z" fill="#ffb200"/>
<path d="M110 58h1v1h-1z" fill="#ffaf00"/>
<path d="M111 58h1v1h-1z" fill="#ffac00"/>
<path d="M35 59h1v1h-1z" fill="#00f0d1"/>
<path d="M36 59h1v1h-1z" fill="#00f0d0"/>
<path d="M37 59h1v1h-1z" fill="#00f0d0"/>
<path d="M38 59h1v1h-1z" fill="#00f0cf"/>
<path d="M39 59h1v1h-1z" fill="#00f0cf"/>
<path d="M40 59h1v1h-1z" fill="#00f0ce"/>
<path d="M41 59h1v1h-1z" fill="#00f0cd"/>
<path d="M42 59h1v1h-1z" fill="#00f0cd"/>
<path d="M43 59h1v1h-1z" fill="#00f0cc"/>
<path d="M44 59h1v1h-1z" fill="#00f0cb"/>
<path d="M45 59h1v1h-1z" fill="#00f0ca"/>
<path d="M46 59h1v1h-1z" fill="#00f0c9"/>
<path d="M47 59h1v1h-1z" fill="#00f0c9"/>
<path d="M48 59h1v1h-1z" fill="#00f0c8"/>
<path d="M49 59h1v1h-1z" fill="#00f0c7"/>
<path d="M50 59h1v1h-1z" fill="#00f0c6"/>
<path d="M51 59h1v1h-1z" fill="#00f0c5"/>
<path d="M52 59h1v1h-1z" fill="#00f0c4"/>
<path d="M53 59h1v1h-1z" fill="#00f0c2"/>
<path d="M54 59h1v1h-1z" fill="#00f0c1"/>
<path d="M55 59h1v1h-1z" fill="#00f0c0"/>
<path d="M56 59h1v1h-1z" fill="#00f0be"/>
<path d="M57 59h1v1h-1z" fill="#00f0bd"/>
<path d="M58 59h1v1h-1z" fill="#00f0bb"/>
<path d="M59 59h1v1h-1z" fill="#00f0ba"/>
<path d="M60 59h1v1h-1z" fill="#00f0b8"/>
<path d="M61 59h1v1h-1z" fill="#00f0b6"/>
<path d="M62 59h1v1h-1z" fill="#00f0b4"/>
<path d="M63 59h1v1h-1z" fill="#00f0b1"/>
<path d="M64 59h1v1h-1z" fill="#00f0af"/>
<path d="M65 59h1v1h-1z" fill="#00f0ac"/>
<path d="M66 59h1v1h-1z" fill="#00f0a9"/>
<path d="M67 59h1v1h-1z" fill="#00f0a6"/>
<path d="M68 59h1v1h-1z" fill="#00f0a2"/>
<path d="M69 59h1v1h-1z" fill="#00f09e"/>
<path d="M70 59h1v1h-1z" fill="#00f09a"/>
<path d="M71 59h1v1h-1z" fill="#00f095"/>
<path d="M72 59h1v1h-1z" fill="#00f08f"/>
<path d="M73 59h1v1h-1z" fill="#00f089"/>
<path d="M74 59h1v1h-1z" fill="#00f06b"/>
<path d="M75 59h1v1h-1z" fill="#00f057"/>
<path d="M76 59h1v1h-1z" fill="#00f044"/>
<path d="M77 59h1v1h-1z" fill="#00f030"/>
<path d="M78 59h1v1h-1z" fill="#0af123"/>
<path d="M79 59h1v1h-1z" fill="#22f222"/>
<path d="M80 59h1v1h-1z" fill="#20f21e"/>
<path d="M81 59h1v1h-1z" fill="#20f21e"/>
<path d="M82 59h1v1h-1z" fill="#26f224"/>
<path d="M83 59h1v1h-1z" fill="#2ff32d"/>
<path d="M84 59h1v1h-1z" fill="#40f338"/>
<path d="M85 59h1v1h-1z" fill="#6cf444"/>
<path d="M86 59h1v1h-1z" fill="#a1f551"/>
<path d="M87 59h1v1h-1z" fill="#c5f55c"/>
<path d="M88 59h1v1h-1z" fill="#d2f663"/>
<path d="M89 59h1v1h-1z" fill="#dcf667"/>
<path d="M90 59h1v1h-1z" fill="#e4f667"/>
<path d="M91 59h1v1h-1z" fill="#ebf663"/>
<path d="M92 59h1v1h-1z" fill="#f3f65f"/>
<path d="M93 59h1v1h-1z" fill="#faf55b"/>
<path d="M94 59h1v1h-1z" fill="#fff356"/>
<path d="M95 59h1v1h-1z" fill="#ffec4e"/>
<path d="M96 59h1v1h-1z" fill="#ffe547"/>
<path d="M97 59h1v1h-1z" fill="#ffdf3f"/>
<path d="M98 59h1v1h-1z" fill="#ffd936"/>
<path d="M99 59h1v1h-1z" fill="#ffd32c"/>
<path d="M100 59h1v1h-1z" fill="#ffce20"/>
<path d="M101 59h1v1h-1z" fill="#ffc807"/>
<path d="M102 59h1v1h-1z" fill="#ffc300"/>
<path d="M103 59h1v1h-1z" fill="#ffc000"/>
<path d="M104 59h1v1h-1z" fill="#ffbc00"/>
<path d="M105 59h1v1h-1z" fill="#ffb900"/>
<path d="M106 59h1v1h-1z" fill="#ffb600"/>
<path d="M107 59h1v1h-1z" fill="#ffb300"/>
<path d="M108 59h1v1h-1z" fill="#ffb000"/>
<path d="M109 59h1v1h-1z" fill="#ffad00"/>
<path d="M110 59h1v1h-1z" fill="#ffaa00"/>
<path d="M111 59h1v1h-1z" fill="#ffa800"/>
<path d="M112 59h1v1h-1z" fill="#ffa600"/>
<path d="M113 59h1v1h-1z" fill="#ffa300"/>
<path d="M35 60h1v1h-1z" fill="#00f0d2"/>
<path d="M36 60h1v1h-1z" fill="#00f0d2"/>
<path d="M37 60h1v1h-1z" fill="#00f0d1"/>
<path d="M38 60h1v1h-1z" fill="#00f0d1"/>
<path d="M39 60h1v1h-1z" fill="#00f0d0"/>
<path d="M40 60h1v1h-1z" fill="#00f0d0"/>
<path d="M41 60h1v1h-1z" fill="#00f0cf"/>
<path d="M42 60h1v1h-1z" fill="#00f0ce"/>
<path d="M43 60h1v1h-1z" fill="#00f0ce"/>
<path d="M44 60h1v1h-1z" fill="#00f0cd"/>
<path d="M45 60h1v1h-1z" fill="#00f0cc"/>
<path d="M46 60h1v1h-1z" fill="#00f0cb"/>
<path d="M47 60h1v1h-1z" fill="#00f0ca"/>
<path d="M48 60h1v1h-1z" fill="#00f0ca"/>
<path d="M49 60h1v1h-1z" fill="#00f0c9"/>
<path d="M50 60h1v1h-1z" fill="#00f0c8"/>
<path d="M51 60h1v1h-1z" fill="#00f0c7"/>
<path d="M52 60h1v1h-1z" fill="#00f0c6"/>
<path d="M53 60h1v1h-1z" fill="#00f0c4"/>
<path d="M54 60h1v1h-1z" fill="#00f0c3"/>
<path d="M55 60h1v1h-1z" fill="#00f0c2"/>
<path d="M56 60h1v1h-1z" fill="#00f0c1"/>
<path d="M57 60h1v1h-1z" fill="#00f0bf"/>
<path d="M58 60h1v1h-1z" fill="#00f0be"/>
<path d="M59 60h1v1h-1z" fill="#00f0bc"/>
<path d="M60 60h1v1h-1z" fill="#00f0ba"/>
<path d="M61 60h1v1h-1z" fill="#00f0b8"/>
<path d="M62 60h1v1h-1z" fill="#00f0b6"/>
<path d="M63 60h1v1h-1z" fill="#00f0b4"/>
<path d="M64 60h1v1h-1z" fill="#00f0b2"/>
<path d="M65 60h1v1h-1z" fill="#00f0af"/>
<path d="M66 60h1v1h-1z" fill="#00f0ac"/>
<path d="M67 60h1v1h-1z" fill="#00f0a9"/>
<path d="M68 60h1v1h-1z" fill="#00f0a5"/>
<path d="M69 60h1v1h-1z" fill="#00f0a1"/>
<path d="M70 60h1v1h-1z" fill="#00f09d"/>
<path d="M71 60h1v1h-1z" fill="#00f098"/>
<path d="M72 60h1v1h-1z" fill="#00f092"/>
<path d="M73 60h1v1h-1z" fill="#00f082"/>
<path d="M74 60h1v1h-1z" fill="#00f06b"/>
<path d="M75 60h1v1h-1z" fill="#00f058"/>
<path d="M76 60h1v1h-1z" fill="#00f046"/>
<path d="M77 60h1v1h-1z" fill="#03f034"/>
<path d="M78 60h1v1h-1z" fill="#15f12e"/>
<path d="M79 60h1v1h-1z" fill="#31f332"/>
<path d="M80 60h1v1h-1z" fill="#34f331"/>
<path d="M81 60h1v1h-1z" fill="#36f333"/>
<path d="M82 60h1v1h-1z" fill="#3cf439"/>
<path d="M83 60h1v1h-1z" fill="#45f441"/>
<path d="M84 60h1v1h-1z" fill="#57f54c"/>
<path d="M85 60h1v1h-1z" fill="#83f557"/>
<path d="M86 60h1v1h-1z" fill="#b4f662"/>
<path d="M87 60h1v1h-1z" fill="#cef66b"/>
<path d="M88 60h1v1h-1z" fill="#d9f771"/>
<path d="M89 60h1v1h-1z" fill="#e2f772"/>
<path d="M90 60h1v1h-1z" fill="#eaf770"/>
<path d="M91 60h1v1h-1z" fill="#f1f66c"/>
<path d="M92 60h1v1h-1z" fill="#f9f669"/>
<path d="M93 60h1v1h-1z" fill="#fff565"/>
<path d="M94 60h1v1h-1z" fill="#ffee5e"/>
<path d="M95 60h1v1h-1z" fill="#ffe757"/>
<path d="M96 60h1v1h-1z" fill="#ffe150"/>
<path d="M97 60h1v1h-1z" fill="#ffda49"/>
<path d="M98 60h1v1h-1z" fill="#ffd542"/>
<path d="M99 60h1v1h-1z" fill="#ffcf3a"/>
<path d="M100 60h1v1h-1z" fill="#ffca32"/>
<path d="M101 60h1v1h-1z" fill="#ffc528"/>
<path d="M102 60h1v1h-1z" fill="#ffc01b"/>
<path d="M103 60h1v1h-1z" fill="#ffba00"/>
<path d="M104 60h1v1h-1z" fill="#ffb700"/>
<path d="M105 60h1v1h-1z" fill="#ffb400"/>
<path d="M106 60h1v1h-1z" fill="#ffb100"/>
<path d="M107 60h1v1h-1z" fill="#ffae00"/>
<path d="M108 60h1v1h-1z" fill="#ffab00"/>
<path d="M109 60h1v1h-1z" fill="#ffa800"/>
<path d="M110 60h1v1h-1z" fill="#ffa600"/>
<path d="M111 60h1v1h-1z" fill="#ffa300"/>
<path d="M112 60h1v1h-1z" fill="#ffa100"/>
<path d="M113 60h1v1h-1z" fill="#ff9f00"/>
<path d="M114 60h1v1h-1z" fill="#ff9d00"/>
<path d="M35 61h1v1h-1z" fill="#00f0d4"/>
<path d="M36 61h1v1h-1z" fill="#00f0d3"/>
<path d="M37 61h1v1h-1z" fill="#00f0d3"/>
<path d="M38 61h1v1h-1z" fill="#00f0d2"/>
<path d="M39 61h1v1h-1z" fill="#00f0d2"/>
<path d="M40 61h1v1h-1z" fill="#00f0d1"/>
<path d="M41 61h1v1h-1z" fill="#00f0d1"/>
<path d="M42 61h1v1h-1z" fill="#00f0d0"/>
<path d="M43 61h1v1h-1z" fill="#00f0cf"/>
<path d="M44 61h1v1h-1z" fill="#00f0cf"/>
<path d="M45 61h1v1h-1z" fill="#00f0ce"/>
<path d="M46 61h1v1h-1z" fill="#00f0cd"/>
<path d="M47 61h1v1h-1z" fill="#00f0cc"/>
<path d="M48 61h1v1h-1z" fill="#00f0cb"/>
<path d="M49 61h1v1h-1z" fill="#00f0cb"/>
<path d="M50 61h1v1h-1z" fill="#00f0ca"/>
<path d="M51 61h1v1h-1z" fill="#00f0c9"/>
<path d="M52 61h1v1h-1z" fill="#00f0c8"/>
<path d="M53 61h1v1h-1z" fill="#00f0c7"/>
<path d="M54 61h1v1h-1z" fill="#00f0c5"/>
<path d="M55 61h1v1h-1z" fill="#00f0c4"/>
<path d="M56 61h1v1h-1z" fill="#00f0c3"/>
<path d="M57 61h1v1h-1z" fill="#00f0c1"/>
<path d="M58 61h1v1h-1z" fill="#00f0c0"/>
<path d="M59 61h1v1h-1z" fill="#00f0be"/>
<path d="M60 61h1v1h-1z" fill="#00f0bd"/>
<path d="M61 61h1v1h-1z" fill="#00f0bb"/>
<path d="M62 61h1v1h-1z" fill="#00f0b9"/>
<path d="M63 61h1v1h-1z" fill="#00f0b7"/>
<path d="M64 61h1v1h-1z" fill="#00f0b4"/>
<path d="M65 61h1v1h-1z" fill="#00f0b2"/>
<path d="M66 61h1v1h-1z" fill="#00f0af"/>
<path d="M67 61h1v1h-1z" fill="#00f0ac"/>
<path d="M68 61h1v1h-1z" fill="#00f0a8"/>
<path d="M69 61h1v1h-1z" fill="#00f0a4"/>
<path d="M70 61h1v1h-1z" fill="#00f0a0"/>
<path d="M71 61h1v1h-1z" fill="#00f09b"/>
<path d="M72 61h1v1h-1z" fill="#00f096"/>
<path d="M73 61h1v1h-1z" fill="#00f07f"/>
<path d="M74 61h1v1h-1z" fill="#00f06c"/>
<path d="M75 61h1v1h-1z" fill="#00f05a"/>
<path d="M76 61h1v1h-1z" fill="#00f048"/>
<path d="M77 61h1v1h-1z" fill="#0af13c"/>
<path d="M78 61h1v1h-1z" fill="#22f23b"/>
<path d="M79 61h1v1h-1z" fill="#44f445"/>
<path d="M80 61h1v1h-1z" fill="#4cf448"/>
<path d="M81 61h1v1h-1z" fill="#4ef54a"/>
<path d="M82 61h1v1h-1z" fill="#54f550"/>
<path d="M83 61h1v1h-1z" fill="#5cf558"/>
<path d="M84 61h1v1h-1z" fill="#6ff661"/>
<path d="M85 61h1v1h-1z" fill="#9bf66a"/>
<path d="M86 61h1v1h-1z" fill="#c5f773"/>
<path d="M87 61h1v1h-1z" fill="#d6f77a"/>
<path d="M88 61h1v1h-1z" fill="#e0f77c"/>
<path d="M89 61h1v1h-1z" fill="#e8f77b"/>
<path d="M90 61h1v1h-1z" fill="#f0f778"/>
<path d="M91 61h1v1h-1z" fill="#f7f775"/>
<path d="M92 61h1v1h-1z" fill="#fff772"/>
<path d="M93 61h1v1h-1z" fill="#ffef6c"/>
<path d="M94 61h1v1h-1z" fill="#ffe865"/>
<path d="M95 61h1v1h-1z" fill="#ffe25f"/>
<path d="M96 61h1v1h-1z" fill="#ffdc58"/>
<path d="M97 61h1v1h-1z" fill="#ffd652"/>
<path d="M98 61h1v1h-1z" fill="#ffd04b"/>
<path d="M99 61h1v1h-1z" fill="#ffcb45"/>
<path d="M100 61h1v1h-1z" fill="#ffc63e"/>
<path d="M101 61h1v1h-1z" fill="#ffc136"/>
<path d="M102 61h1v1h-1z" fill="#ffbc2e"/>
<path d="M103 61h1v1h-1z" fill="#ffb724"/>
<path d="M104 61h1v1h-1z" fill="#ffb315"/>
<path d="M105 61h1v1h-1z" fill="#ffae00"/>
<path d="M106 61h1v1h-1z" fill="#ffab00"/>
<path d="M107 61h1v1h-1z" fill="#ffa900"/>
<path d="M108 61h1v1h-1z" fill="#ffa600"/>
<path d="M109 61h1v1h-1z" fill="#ffa300"/>
<path d="M110 61h1v1h-1z" fill="#ffa100"/>
<path d="M111 61h1v1h-1z" fill="#ff9f00"/>
<path d="M112 61h1v1h-1z" fill="#ff9c00"/>
<path d="M113 61h1v1h-1z" fill="#ff9a00"/>
<path d="M114 61h1v1h-1z" fill="#ff9800"/>
<path d="M115 61h1v1h-1z" fill="#ff9600"/>
<path d="M36 62h1v1h-1z" fill="#00f0d5"/>
<path d="M37 62h1v1h-1z" fill="#00f0d4"/>
<path d="M38 62h1v1h-1z" fill="#00f0d4"/>
<path d="M39 62h1v1h-1z" fill="#00f0d3"/>
<path d="M40 62h1v1h-1z" fill="#00f0d3"/>
<path d="M41 62h1v1h-1z" fill="#00f0d2"/>
<path d="M42 62h1v1h-1z" fill="#00f0d2"/>
<path d="M43 62h1v1h-1z" fill="#00f0d1"/>
<path d="M44 62h1v1h-1z" fill="#00f0d0"/>
<path d="M45 62h1v1h-1z" fill="#00f0d0"/>
<path d="M46 62h1v1h-1z" fill="#00f0cf"/>
<path d="M47 62h1v1h-1z" fill="#00f0ce"/>
<path d="M48 62h1v1h-1z" fill="#00f0cd"/>
<path d="M49 62h1v1h-1z" fill="#00f0cd"/>
<path d="M50 62h1v1h-1z" fill="#00f0cc"/>
<path d="M51 62h1v1h-1z" fill="#00f0cb"/>
<path d="M52 62h1v1h-1z" fill="#00f0ca"/>
<path d="M53 62h1v1h-1z" fill="#00f0c9"/>
<path d="M54 62h1v1h-1z" fill="#00f0c8"/>
<path d="M55 62h1v1h-1z" fill="#00f0c6"/>
<path d="M56 62h1v1h-1z" fill="#00f0c5"/>
<path d="M57 62h1v1h-1z" fill="#00f0c4"/>
<path d="M58 62h1v1h-1z" fill="#00f0c2"/>
<path d="M59 62h1v1h-1z" fill="#00f0c1"/>
<path d="M60 62h1v1h-1z" fill="#00f0bf"/>
<path d="M61 62h1v1h-1z" fill="#00f0bd"/>
<path d="M62 62h1v1h-1z" fill="#00f0bb"/>
<path d="M63 62h1v1h-1z" fill="#00f0b9"/>
<path d="M64 62h1v1h-1z" fill="#00f0b7"/>
<path d="M65 62h1v1h-1z" fill="#00f0b5"/>
<path d="M66 62h1v1h-1z" fill="#00f0b2"/>
<path d="M67 62h1v1h-1z" fill="#00f0af"/>
<path d="M68 62h1v1h-1z" fill="#00f0ac"/>
<path d="M69 62h1v1h-1z" fill="#00f0a8"/>
<path d="M70 62h1v1h-1z" fill="#00f0a4"/>
<path d="M71 62h1v1h-1z" fill="#00f09f"/>
<path d="M72 62h1v1h-1z" fill="#00f099"/>
<path d="M73 62h1v1h-1z" fill="#00f07e"/>
<path d="M74 62h1v1h-1z" fill="#00f06d"/>
<path d="M75 62h1v1h-1z" fill="#00f05d"/>
<path d="M76 62h1v1h-1z" fill="#02f04c"/>
<path d="M77 62h1v1h-1z" fill="#15f146"/>
<path d="M78 62h1v1h-1z" fill="#33f34b"/>
<path d="M79 62h1v1h-1z" fill="#59f55a"/>
<path d="M80 62h1v1h-1z" fill="#65f661"/>
<path d="M81 62h1v1h-1z" fill="#67f663"/>
<path d="M82 62h1v1h-1z" fill="#6cf668"/>
<path d="M83 62h1v1h-1z" fill="#72f76e"/>
<path d="M84 62h1v1h-1z" fill="#86f775"/>
<path d="M85 62h1v1h-1z" fill="#b1f77c"/>
<path d="M86 62h1v1h-1z" fill="#d2f883"/>
<path d="M87 62h1v1h-1z" fill="#ddf886"/>
<path d="M88 62h1v1h-1z" fill="#e6f886"/>
<path d="M89 62h1v1h-1z" fill="#eef883"/>
<path d="M90 62h1v1h-1z" fill="#f6f881"/>
<path d="M91 62h1v1h-1z" fill="#fef77e"/>
<path d="M92 62h1v1h-1z" fill="#fff178"/>
<path d="M93 62h1v1h-1z" fill="#ffea72"/>
<path d="M94 62h1v1h-1z" fill="#ffe36c"/>
<path d="M95 62h1v1h-1z" fill="#ffdd65"/>
<path d="M96 62h1v1h-1z" fill="#ffd75f"/>
<path d="M97 62h1v1h-1z" fill="#ffd159"/>
<path d="M98 62h1v1h-1z" fill="#ffcc53"/>
<path d="M99 62h1v1h-1z" fill="#ffc64d"/>
<path d="M100 62h1v1h-1z" fill="#ffc147"/>
<path d="M101 62h1v1h-1z" fill="#ffbd40"/>
<path d="M102 62h1v1h-1z" fill="#ffb83a"/>
<path d="M103 62h1v1h-1z" fill="#ffb432"/>
<path d="M104 62h1v1h-1z" fill="#ffaf2a"/>
<path d="M105 62h1v1h-1z" fill="#ffab20"/>
<path d="M106 62h1v1h-1z" fill="#ffa70f"/>
<path d="M107 62h1v1h-1z" fill="#ffa300"/>
<path d="M108 62h1v1h-1z" fill="#ffa100"/>
<path d="M109 62h1v1h-1z" fill="#ff9e00"/>
<path d="M110 62h1v1h-1z" fill="#ff9c00"/>
<path d="M111 62h1v1h-1z" fill="#ff9900"/>
<path d="M112 62h1v1h-1z" fill="#ff9700"/>
<path d="M113 62h1v1h-1z" fill="#ff9500"/>
<path d="M114 62h1v1h-1z" fill="#ff9300"/>
<path d="M115 62h1v1h-1z" fill="#ff9100"/>
<path d="M116 62h1v1h-1z" fill="#ff9000"/>
<path d="M117 62h1v1h-1z" fill="#ff8e00"/>
<path d="M36 63h1v1h-1z" fill="#00f0d7"/>
<path d="M37 63h1v1h-1z" fill="#00f0d6"/>
<path d="M38 63h1v1h-1z" fill="#00f0d6"/>
<path d="M39 63h1v1h-1z" fill="#00f0d5"/>
<path d="M40 63h1v1h-1z" fill="#00f0d5"/>
<path d="M41 63h1v1h-1z" fill="#00f0d4"/>
<path d="M42 63h1v1h-1z" fill="#00f0d3"/>
<path d="M43 63h1v1h-1z" fill="#00f0d3"/>
<path d="M44 63h1v1h-1z" fill="#00f0d2"/>
<path d="M45 63h1v1h-1z" fill="#00f0d2"/>
<path d="M46 63h1v1h-1z" fill="#00f0d1"/>
<path d="M47 63h1v1h-1z" fill="#00f0d0"/>
<path d="M48 63h1v1h-1z" fill="#00f0cf"/>
<path d="M49 63h1v1h-1z" fill="#00f0cf"/>
<path d="M50 63h1v1h-1z" fill="#00f0ce"/>
<path d="M51 63h1v1h-1z" fill="#00f0cd"/>
<path d="M52 63h1v1h-1z" fill="#00f0cc"/>
<path d="M53 63h1v1h-1z" fill="#00f0cb"/>
<path d="M54 63h1v1h-1z" fill="#00f0ca"/>
<path d="M55 63h1v1h-1z" fill="#00f0c9"/>
<path d="M56 63h1v1h-1z" fill="#00f0c8"/>
<path d="M57 63h1v1h-1z" fill="#00f0c6"/>
<path d="M58 63h1v1h-1z" fill="#00f0c5"/>
<path d="M59 63h1v1h-1z" fill="#00f0c3"/>
<path d="M60 63h1v1h-1z" fill="#00f0c2"/>
<path d="M61 63h1v1h-1z" fill="#00f0c0"/>
<path d="M62 63h1v1h-1z" fill="#00f0be"/>
<path d="M63 63h1v1h-1z" fill="#00f0bc"/>
<path d="M64 63h1v1h-1z" fill="#00f0ba"/>
<path d="M65 63h1v1h-1z" fill="#00f0b8"/>
<path d="M66 63h1v1h-1z" fill="#00f0b5"/>
<path d="M67 63h1v1h-1z" fill="#00f0b2"/>
<path d="M68 63h1v1h-1z" fill="#00f0af"/>
<path d="M69 63h1v1h-1z" fill="#00f0ab"/>
<path d="M70 63h1v1h-1z" fill="#00f0a7"/>
<path d="M71 63h1v1h-1z" fill="#00f0a2"/>
<path d="M72 63h1v1h-1z" fill="#00f092"/>
<path d="M73 63h1v1h-1z" fill="#00f07f"/>
<path d="M74 63h1v1h-1z" fill="#00f070"/>
<path d="M75 63h1v1h-1z" fill="#00f05f"/>
<path d="M76 63h1v1h-1z" fill="#09f154"/>
<path d="M77 63h1v1h-1z" fill="#23f254"/>
<path d="M78 63h1v1h-1z" fill="#46f45e"/>
<path d="M79 63h1v1h-1z" fill="#6ff771"/>
<path d="M80 63h1v1h-1z" fill="#7df779"/>
<path d="M81 63h1v1h-1z" fill="#7ff77a"/>
<path d="M82 63h1v1h-1z" fill="#82f87d"/>
<path d="M83 63h1v1h-1z" fill="#86f882"/>
<path d="M84 63h1v1h-1z" fill="#9df887"/>
<path d="M85 63h1v1h-1z" fill="#c4f88c"/>
<path d="M86 63h1v1h-1z" fill="#dbf98f"/>
<path d="M87 63h1v1h-1z" fill="#e4f990"/>
<path d="M88 63h1v1h-1z" fill="#ecf88e"/>
<path d="M89 63h1v1h-1z" fill="#f4f88c"/>
<path d="M90 63h1v1h-1z" fill="#fcf889"/>
<path d="M91 63h1v1h-1z" fill="#fff384"/>
<path d="M92 63h1v1h-1z" fill="#ffeb7e"/>
<path d="M93 63h1v1h-1z" fill="#ffe477"/>
<path d="M94 63h1v1h-1z" fill="#ffde71"/>
<path d="M95 63h1v1h-1z" fill="#ffd86b"/>
<path d="M96 63h1v1h-1z" fill="#ffd266"/>
<path d="M97 63h1v1h-1z" fill="#ffcc60"/>
<path d="M98 63h1v1h-1z" fill="#ffc75a"/>
<path d="M99 63h1v1h-1z" fill="#ffc255"/>
<path d="M100 63h1v1h-1z" fill="#ffbd4f"/>
<path d="M101 63h1v1h-1z" fill="#ffb849"/>
<path d="M102 63h1v1h-1z" fill="#ffb443"/>
<path d="M103 63h1v1h-1z" fill="#ffb03d"/>
<path d="M104 63h1v1h-1z" fill="#ffab36"/>
<path d="M105 63h1v1h-1z" fill="#ffa72f"/>
<path d="M106 63h1v1h-1z" fill="#ffa326"/>
<path d="M107 63h1v1h-1z" fill="#ff9f1c"/>
<path d="M108 63h1v1h-1z" fill="#ff9b00"/>
<path d="M109 63h1v1h-1z" fill="#ff9900"/>
<path d="M110 63h1v1h-1z" fill="#ff9600"/>
<path d="M111 63h1v1h-1z" fill="#ff9400"/>
<path d="M112 63h1v1h-1z" fill="#ff9200"/>
<path d="M113 63h1v1h-1z" fill="#ff9000"/>
<path d="M114 63h1v1h-1z" fill="#ff8e00"/>
<path d="M115 63h1v1h-1z" fill="#ff8c00"/>
<path d="M116 63h1v1h-1z" fill="#ff8b00"/>
<path d="M117 63h1v1h-1z" fill="#ff8900"/>
<path d="M118 63h1v1h-1z" fill="#ff8700"/>
<path d="M36 64h1v1h-1z" fill="#00f0d8"/>
<path d="M37 64h1v1h-1z" fill="#00f0d8"/>
<path d="M38 64h1v1h-1z" fill="#00f0d7"/>
<path d="M39 64h1v1h-1z" fill="#00f0d7"/>
<path d="M40 64h1v1h-1z" fill="#00f0d6"/>
<path d="M41 64h1v1h-1z" fill="#00f0d6"/>
<path d="M42 64h1v1h-1z" fill="#00f0d5"/>
<path d="M43 64h1v1h-1z" fill="#00f0d5"/>
<path d="M44 64h1v1h-1z" fill="#00f0d4"/>
<path d="M45 64h1v1h-1z" fill="#00f0d4"/>
<path d="M46 64h1v1h-1z" fill="#00f0d3"/>
<path d="M47 64h1v1h-1z" fill="#00f0d2"/>
<path d="M48 64h1v1h-1z" fill="#00f0d2"/>
<path d="M49 64h1v1h-1z" fill="#00f0d1"/>
<path d="M50 64h1v1h-1z" fill="#00f0d0"/>
<path d="M51 64h1v1h-1z" fill="#00f0cf"/>
<path d="M52 64h1v1h-1z" fill="#00f0ce"/>
<path d="M53 64h1v1h-1z" fill="#00f0cd"/>
<path d="M54 64h1v1h-1z" fill="#00f0cc"/>
<path d="M55 64h1v1h-1z" fill="#00f0cb"/>
<path d="M56 64h1v1h-1z" fill="#00f0ca"/>
<path d="M57 64h1v1h-1z" fill="#00f0c9"/>
<path d="M58 64h1v1h-1z" fill="#00f0c8"/>
<path d="M59 64h1v1h-1z" fill="#00f0c6"/>
<path d="M60 64h1v1h-1z" fill="#00f0c5"/>
<path d="M61 64h1v1h-1z" fill="#00f0c3"/>
<path d="M62 64h1v1h-1z" fill="#00f0c1"/>
<path d="M63 64h1v1h-1z" fill="#00f0bf"/>
<path d="M64 64h1v1h-1z" fill="#00f0bd"/>
<path d="M65 64h1v1h-1z" fill="#00f0bb"/>
<path d="M66 64h1v1h-1z" fill="#00f0b8"/>
<path d="M67 64h1v1h-1z" fill="#00f0b5"/>
<path d="M68 64h1v1h-1z" fill="#00f0b2"/>
<path d="M69 64h1v1h-1z" fill="#00f0af"/>
<path d="M70 64h1v1h-1z" fill="#00f0ab"/>
<path d="M71 64h1v1h-1z" fill="#00f0a6"/>
<path d="M72 64h1v1h-1z" fill="#00f091"/>
<path d="M73 64h1v1h-1z" fill="#00f082"/>
<path d="M74 64h1v1h-1z" fill="#00f073"/>
<path d="M75 64h1v1h-1z" fill="#02f064"/>
<path d="M76 64h1v1h-1z" fill="#15f15f"/>
<path d="M77 64h1v1h-1z" fill="#34f364"/>
<path d="M78 64h1v1h-1z" fill="#5df573"/>
<path d="M79 64h1v1h-1z" fill="#85f887"/>
<path d="M80 64h1v1h-1z" fill="#93f98f"/>
<path d="M81 64h1v1h-1z" fill="#93f98f"/>
<path d="M82 64h1v1h-1z" fill="#95f991"/>
<path d="M83 64h1v1h-1z" fill="#97f993"/>
<path d="M84 64h1v1h-1z" fill="#b1f995"/>
<path d="M85 64h1v1h-1z" fill="#d5f998"/>
<path d="M86 64h1v1h-1z" fill="#e2f999"/>
<path d="M87 64h1v1h-1z" fill="#eaf998"/>
<path d="M88 64h1v1h-1z" fill="#f3f996"/>
<path d="M89 64h1v1h-1z" fill="#fbf994"/>
<path d="M90 64h1v1h-1z" fill="#fff590"/>
<path d="M91 64h1v1h-1z" fill="#ffed89"/>
<path d="M92 64h1v1h-1z" fill="#ffe683"/>
<path d="M93 64h1v1h-1z" fill="#ffdf7c"/>
<path d="M94 64h1v1h-1z" fill="#ffd977"/>
<path d="M95 64h1v1h-1z" fill="#ffd371"/>
<path d="M96 64h1v1h-1z" fill="#ffcd6b"/>
<path d="M97 64h1v1h-1z" fill="#ffc766"/>
<path d="M98 64h1v1h-1z" fill="#ffc260"/>
<path d="M99 64h1v1h-1z" fill="#ffbd5b"/>
<path d="M100 64h1v1h-1z" fill="#ffb956"/>
<path d="M101 64h1v1h-1z" fill="#ffb450"/>
<path d="M102 64h1v1h-1z" fill="#ffb04b"/>
<path d="M103 64h1v1h-1z" fill="#ffab45"/>
<path d="M104 64h1v1h-1z" fill="#ffa73f"/>
<path d="M105 64h1v1h-1z" fill="#ffa339"/>
<path d="M106 64h1v1h-1z" fill="#ffa033"/>
<path d="M107 64h1v1h-1z" fill="#ff9c2b"/>
<path d="M108 64h1v1h-1z" fill="#ff9823"/>
<path d="M109 64h1v1h-1z" fill="#ff9417"/>
<path d="M110 64h1v1h-1z" fill="#ff9100"/>
<path d="M111 64h1v1h-1z" fill="#ff8f00"/>
<path d="M112 64h1v1h-1z" fill="#ff8d00"/>
<path d="M113 64h1v1h-1z" fill="#ff8b00"/>
<path d="M114 64h1v1h-1z" fill="#ff8900"/>
<path d="M115 64h1v1h-1z" fill="#ff8700"/>
<path d="M116 64h1v1h-1z" fill="#ff8500"/>
<path d="M117 64h1v1h-1z" fill="#ff8400"/>
<path d="M118 64h1v1h-1z" fill="#ff8200"/>
<path d="M119 64h1v1h-1z" fill="#ff8100"/>
<path d="M36 65h1v1h-1z" fill="#00f0da"/>
<path d="M37 65h1v1h-1z" fill="#00f0da"/>
<path d="M38 65h1v1h-1z" fill="#00f0d9"/>
<path d="M39 65h1v1h-1z" fill="#00f0d9"/>
<path d="M40 65h1v1h-1z" fill="#00f0d8"/>
<path d="M41 65h1v1h-1z" fill="#00f0d8"/>
<path d="M42 65h1v1h-1z" fill="#00f0d7"/>
<path d="M43 65h1v1h-1z" fill="#00f0d7"/>
<path d="M44 65h1v1h-1z" fill="#00f0d6"/>
<path d="M45 65h1v1h-1z" fill="#00f0d6"/>
<path d="M46 65h1v1h-1z" fill="#00f0d5"/>
<path d="M47 65h1v1h-1z" fill="#00f0d4"/>
<path d="M48 65h1v1h-1z" fill="#00f0d4"/>
<path d="M49 65h1v1h-1z" fill="#00f0d3"/>
<path d="M50 65h1v1h-1z" fill="#00f0d2"/>
<path d="M51 65h1v1h-1z" fill="#00f0d1"/>
<path d="M52 65h1v1h-1z" fill="#00f0d1"/>
<path d="M53 65h1v1h-1z" fill="#00f0d0"/>
<path d="M54 65h1v1h-1z" fill="#00f0cf"/>
<path d="M55 65h1v1h-1z" fill="#00f0ce"/>
<path d="M56 65h1v1h-1z" fill="#00f0cd"/>
<path d="M57 65h1v1h-1z" fill="#00f0cb"/>
<path d="M58 65h1v1h-1z" fill="#00f0ca"/>
<path d="M59 65h1v1h-1z" fill="#00f0c9"/>
<path d="M60 65h1v1h-1z" fill="#00f0c7"/>
<path d="M61 65h1v1h-1z" fill="#00f0c6"/>
<path d="M62 65h1v1h-1z" fill="#00f0c4"/>
<path d="M63 65h1v1h-1z" fill="#00f0c2"/>
<path d="M64 65h1v1h-1z" fill="#00f0c0"/>
<path d="M65 65h1v1h-1z" fill="#00f0be"/>
<path d="M66 65h1v1h-1z" fill="#00f0bc"/>
<path d="M67 65h1v1h-1z" fill="#00f0b9"/>
<path d="M68 65h1v1h-1z" fill="#00f0b6"/>
<path d="M69 65h1v1h-1z" fill="#00f0b3"/>
<path d="M70 65h1v1h-1z" fill="#00f0af"/>
<path d="M71 65h1v1h-1z" fill="#00f0a5"/>
<path d="M72 65h1v1h-1z" fill="#00f093"/>
<path d="M73 65h1v1h-1z" fill="#00f085"/>
<path d="M74 65h1v1h-1z" fill="#00f076"/>
<path d="M75 65h1v1h-1z" fill="#09f16c"/>
<path d="M76 65h1v1h-1z" fill="#24f26c"/>
<path d="M77 65h1v1h-1z" fill="#49f476"/>
<path d="M78 65h1v1h-1z" fill="#74f788"/>
<path d="M79 65h1v1h-1z" fill="#98f99b"/>
<path d="M80 65h1v1h-1z" fill="#a5faa1"/>
<path d="M81 65h1v1h-1z" fill="#a4faa0"/>
<path d="M82 65h1v1h-1z" fill="#a4faa0"/>
<path d="M83 65h1v1h-1z" fill="#a7faa0"/>
<path d="M84 65h1v1h-1z" fill="#c4faa1"/>
<path d="M85 65h1v1h-1z" fill="#e0faa2"/>
<path d="M86 65h1v1h-1z" fill="#e8faa1"/>
<path d="M87 65h1v1h-1z" fill="#f1f9a0"/>
<path d="M88 65h1v1h-1z" fill="#f9f99e"/>
<path d="M89 65h1v1h-1z" fill="#fff79b"/>
<path d="M90 65h1v1h-1z" fill="#ffef94"/>
<path d="M91 65h1v1h-1z" fill="#ffe78d"/>
<path d="M92 65h1v1h-1z" fill="#ffe087"/>
<path d="M93 65h1v1h-1z" fill="#ffd981"/>
<path d="M94 65h1v1h-1z" fill="#ffd37b"/>
<path d="M95 65h1v1h-1z" fill="#ffcd76"/>
<path d="M96 65h1v1h-1z" fill="#ffc870"/>
<path d="M97 65h1v1h-1z" fill="#ffc26b"/>
<path d="M98 65h1v1h-1z" fill="#ffbd66"/>
<path d="M99 65h1v1h-1z" fill="#ffb961"/>
<path d="M100 65h1v1h-1z" fill="#ffb45c"/>
<path d="M101 65h1v1h-1z" fill="#ffb057"/>
<path d="M102 65h1v1h-1z" fill="#ffab52"/>
<path d="M103 65h1v1h-1z" fill="#ffa74c"/>
<path d="M104 65h1v1h-1z" fill="#ffa347"/>
<path d="M105 65h1v1h-1z" fill="#ff9f42"/>
<path d="M106 65h1v1h-1z" fill="#ff9c3c"/>
<path d="M107 65h1v1h-1z" fill="#ff9836"/>
<path d="M108 65h1v1h-1z" fill="#ff9430"/>
<path d="M109 65h1v1h-1z" fill="#ff9128"/>
<path d="M110 65h1v1h-1z" fill="#ff8d1f"/>
<path d="M111 65h1v1h-1z" fill="#ff8a12"/>
<path d="M112 65h1v1h-1z" fill="#ff8700"/>
<path d="M113 65h1v1h-1z" fill="#ff8500"/>
<path d="M114 65h1v1h-1z" fill="#ff8300"/>
<path d="M115 65h1v1h-1z" fill="#ff8200"/>
<path d="M116 65h1v1h-1z" fill="#ff8000"/>
<path d="M117 65h1v1h-1z" fill="#ff7e00"/>
<path d="M118 65h1v1h-1z" fill="#ff7d00"/>
<path d="M119 65h1v1h-1z" fill="#ff7b00"/>
<path d="M120 65h1v1h-1z" fill="#ff7a00"/>
<path d="M121 65h1v1h-1z" fill="#ff7900"/>
<path d="M36 66h1v1h-1z" fill="#00f0dc"/>
<path d="M37 66h1v1h-1z" fill="#00f0db"/>
<path d="M38 66h1v1h-1z" fill="#00f0db"/>
<path d="M39 66h1v1h-1z" fill="#00f0db"/>
<path d="M40 66h1v1h-1z" fill="#00f0da"/>
<path d="M41 66h1v1h-1z" fill="#00f0da"/>
<path d="M42 66h1v1h-1z" fill="#00f0d9"/>
<path d="M43 66h1v1h-1z" fill="#00f0d9"/>
<path d="M44 66h1v1h-1z" fill="#00f0d8"/>
<path d="M45 66h1v1h-1z" fill="#00f0d8"/>
<path d="M46 66h1v1h-1z" fill="#00f0d7"/>
<path d="M47 66h1v1h-1z" fill="#00f0d6"/>
<path d="M48 66h1v1h-1z" fill="#00f0d6"/>
<path d="M49 66h1v1h-1z" fill="#00f0d5"/>
<path d="M50 66h1v1h-1z" fill="#00f0d5"/>
<path d="M51 66h1v1h-1z" fill="#00f0d4"/>
<path d="M52 66h1v1h-1z" fill="#00f0d3"/>
<path d="M53 66h1v1h-1z" fill="#00f0d2"/>
<path d="M54 66h1v1h-1z" fill="#00f0d1"/>
<path d="M55 66h1v1h-1z" fill="#00f0d0"/>
<path d="M56 66h1v1h-1z" fill="#00f0cf"/>
<path d="M57 66h1v1h-1z" fill="#00f0ce"/>
<path d="M58 66h1v1h-1z" fill="#00f0cd"/>
<path d="M59 66h1v1h-1z" fill="#00f0cc"/>
<path d="M60 66h1v1h-1z" fill="#00f0ca"/>
<path d="M61 66h1v1h-1z" fill="#00f0c9"/>
<path d="M62 66h1v1h-1z" fill="#00f0c7"/>
<path d="M63 66h1v1h-1z" fill="#00f0c6"/>
<path d="M64 66h1v1h-1z" fill="#00f0c4"/>
<path d="M65 66h1v1h-1z" fill="#00f0c2"/>
<path d="M66 66h1v1h-1z" fill="#00f0bf"/>
<path d="M67 66h1v1h-1z" fill="#00f0bd"/>
<path d="M68 66h1v1h-1z" fill="#00f0ba"/>
<path d="M69 66h1v1h-1z" fill="#00f0b7"/>
<path d="M70 66h1v1h-1z" fill="#00f0b3"/>
<path d="M71 66h1v1h-1z" fill="#00f0a4"/>
<path d="M72 66h1v1h-1z" fill="#00f095"/>
<path d="M73 66h1v1h-1z" fill="#00f088"/>
<path d="M74 66h1v1h-1z" fill="#01f07c"/>
<path d="M75 66h1v1h-1z" fill="#14f177"/>
<path d="M76 66h1v1h-1z" fill="#36f37c"/>
<path d="M77 66h1v1h-1z" fill="#61f68a"/>
<path d="M78 66h1v1h-1z" fill="#8af89d"/>
<path d="M79 66h1v1h-1z" fill="#a8faab"/>
<path d="M80 66h1v1h-1z" fill="#b2faae"/>
<path d="M81 66h1v1h-1z" fill="#b0faad"/>
<path d="M82 66h1v1h-1z" fill="#affaab"/>
<path d="M83 66h1v1h-1z" fill="#b5faab"/>
<path d="M84 66h1v1h-1z" fill="#d5faab"/>
<path d="M85 66h1v1h-1z" fill="#e6faaa"/>
<path d="M86 66h1v1h-1z" fill="#effaa9"/>
<path d="M87 66h1v1h-1z" fill="#f8faa8"/>
<path d="M88 66h1v1h-1z" fill="#fff8a6"/>
<path d="M89 66h1v1h-1z" fill="#fff09e"/>
<path d="M90 66h1v1h-1z" fill="#ffe898"/>
<path d="M91 66h1v1h-1z" fill="#ffe191"/>
<path d="M92 66h1v1h-1z" fill="#ffda8b"/>
<path d="M93 66h1v1h-1z" fill="#ffd486"/>
<path d="M94 66h1v1h-1z" fill="#ffce80"/>
<path d="M95 66h1v1h-1z" fill="#ffc87a"/>
<path d="M96 66h1v1h-1z" fill="#ffc375"/>
<path d="M97 66h1v1h-1z" fill="#ffbe70"/>
<path d="M98 66h1v1h-1z" fill="#ffb96b"/>
<path d="M99 66h1v1h-1z" fill="#ffb466"/>
<path d="M100 66h1v1h-1z" fill="#ffaf61"/>
<path d="M101 66h1v1h-1z" fill="#ffab5c"/>
<path d="M102 66h1v1h-1z" fill="#ffa758"/>
<path d="M103 66h1v1h-1z" fill="#ffa353"/>
<path d="M104 66h1v1h-1z" fill="#ff9f4e"/>
<path d="M105 66h1v1h-1z" fill="#ff9b49"/>
<path d="M106 66h1v1h-1z" fill="#ff9744"/>
<path d="M107 66h1v1h-1z" fill="#ff943f"/>
<path d="M108 66h1v1h-1z" fill="#ff9039"/>
<path d="M109 66h1v1h-1z" fill="#ff8d33"/>
<path d="M110 66h1v1h-1z" fill="#ff8a2d"/>
<path d="M111 66h1v1h-1z" fill="#ff8625"/>
<path d="M112 66h1v1h-1z" fill="#ff831c"/>
<path d="M113 66h1v1h-1z" fill="#ff800c"/>
<path d="M114 66h1v1h-1z" fill="#ff7d00"/>
<path d="M115 66h1v1h-1z" fill="#ff7c00"/>
<path d="M116 66h1v1h-1z" fill="#ff7a00"/>
<path d="M117 66h1v1h-1z" fill="#ff7900"/>
<path d="M118 66h1v1h-1z" fill="#ff7700"/>
<path d="M119 66h1v1h-1z" fill="#ff7600"/>
<path d="M120 66h1v1h-1z" fill="#ff7400"/>
<path d="M121 66h1v1h-1z" fill="#ff7300"/>
<path d="M122 66h1v1h-1z" fill="#ff7200"/>
<path d="M37 67h1v1h-1z" fill="#00f0dd"/>
<path d="M38 67h1v1h-1z" fill="#00f0dd"/>
<path d="M39 67h1v1h-1z" fill="#00f0dc"/>
<path d="M40 67h1v1h-1z" fill="#00f0dc"/>
<path d="M41 67h1v1h-1z" fill="#00f0dc"/>
<path d="M42 67h1v1h-1z" fill="#00f0db"/>
<path d="M43 67h1v1h-1z" fill="#00f0db"/>
<path d="M44 67h1v1h-1z" fill="#00f0da"/>
<path d="M45 67h1v1h-1z" fill="#00f0da"/>
<path d="M46 67h1v1h-1z" fill="#00f0d9"/>
<path d="M47 67h1v1h-1z" fill="#00f0d9"/>
<path d="M48 67h1v1h-1z" fill="#00f0d8"/>
<path d="M49 67h1v1h-1z" fill="#00f0d8"/>
<path d="M50 67h1v1h-1z" fill="#00f0d7"/>
<path d="M51 67h1v1h-1z" fill="#00f0d6"/>
<path d="M52 67h1v1h-1z" fill="#00f0d5"/>
<path d="M53 67h1v1h-1z" fill="#00f0d5"/>
<path d="M54 67h1v1h-1z" fill="#00f0d4"/>
<path d="M55 67h1v1h-1z" fill="#00f0d3"/>
<path d="M56 67h1v1h-1z" fill="#00f0d2"/>
<path d="M57 67h1v1h-1z" fill="#00f0d1"/>
<path d="M58 67h1v1h-1z" fill="#00f0d0"/>
<path d="M59 67h1v1h-1z" fill="#00f0cf"/>
<path d="M60 67h1v1h-1z" fill="#00f0ce"/>
<path d="M61 67h1v1h-1z" fill="#00f0cc"/>
<path d="M62 67h1v1h-1z" fill="#00f0cb"/>
<path d="M63 67h1v1h-1z" fill="#00f0c9"/>
<path d="M64 67h1v1h-1z" fill="#00f0c7"/>
<path d="M65 67h1v1h-1z" fill="#00f0c5"/>
<path d="M66 67h1v1h-1z" fill="#00f0c3"/>
<path d="M67 67h1v1h-1z" fill="#00f0c1"/>
<path d="M68 67h1v1h-1z" fill="#00f0be"/>
<path d="M69 67h1v1h-1z" fill="#00f0bb"/>
<path d="M70 67h1v1h-1z" fill="#00f0b8"/>
<path d="M71 67h1v1h-1z" fill="#00f0a6"/>
<path d="M72 67h1v1h-1z" fill="#00f099"/>
<path d="M73 67h1v1h-1z" fill="#00f08d"/>
<path d="M74 67h1v1h-1z" fill="#08f084"/>
<path d="M75 67h1v1h-1z" fill="#25f285"/>
<path d="M76 67h1v1h-1z" fill="#4df58e"/>
<path d="M77 67h1v1h-1z" fill="#79f79f"/>
<path d="M78 67h1v1h-1z" fill="#9ef9af"/>
<path d="M79 67h1v1h-1z" fill="#b3fbb7"/>
<path d="M80 67h1v1h-1z" fill="#bafbb7"/>
<path d="M81 67h1v1h-1z" fill="#b9fbb5"/>
<path d="M82 67h1v1h-1z" fill="#b7fbb4"/>
<path d="M83 67h1v1h-1z" fill="#c4fbb3"/>
<path d="M84 67h1v1h-1z" fill="#e3fbb3"/>
<path d="M85 67h1v1h-1z" fill="#edfbb2"/>
<path d="M86 67h1v1h-1z" fill="#f6fab1"/>
<path d="M87 67h1v1h-1z" fill="#fffab0"/>
<path d="M88 67h1v1h-1z" fill="#fff2a9"/>
<path d="M89 67h1v1h-1z" fill="#ffeaa2"/>
<path d="M90 67h1v1h-1z" fill="#ffe29b"/>
<path d="M91 67h1v1h-1z" fill="#ffdb95"/>
<path d="M92 67h1v1h-1z" fill="#ffd58f"/>
<path d="M93 67h1v1h-1z" fill="#ffce8a"/>
<path d="M94 67h1v1h-1z" fill="#ffc984"/>
<path d="M95 67h1v1h-1z" fill="#ffc37f"/>
<path d="M96 67h1v1h-1z" fill="#ffbe7a"/>
<path d="M97 67h1v1h-1z" fill="#ffb975"/>
<path d="M98 67h1v1h-1z" fill="#ffb470"/>
<path d="M99 67h1v1h-1z" fill="#ffaf6b"/>
<path d="M100 67h1v1h-1z" fill="#ffab66"/>
<path d="M101 67h1v1h-1z" fill="#ffa662"/>
<path d="M102 67h1v1h-1z" fill="#ffa25d"/>
<path d="M103 67h1v1h-1z" fill="#ff9e58"/>
<path d="M104 67h1v1h-1z" fill="#ff9a54"/>
<path d="M105 67h1v1h-1z" fill="#ff974f"/>
<path d="M106 67h1v1h-1z" fill="#ff934b"/>
<path d="M107 67h1v1h-1z" fill="#ff9046"/>
<path d="M108 67h1v1h-1z" fill="#ff8c41"/>
<path d="M109 67h1v1h-1z" fill="#ff893c"/>
<path d="M110 67h1v1h-1z" fill="#ff8536"/>
<path d="M111 67h1v1h-1z" fill="#ff8230"/>
<path d="M112 67h1v1h-1z" fill="#ff7f2a"/>
<path d="M113 67h1v1h-1z" fill="#ff7c22"/>
<path d="M114 67h1v1h-1z" fill="#ff7918"/>
<path d="M115 67h1v1h-1z" fill="#ff7500"/>
<path d="M116 67h1v1h-1z" fill="#ff7400"/>
<path d="M117 67h1v1h-1z" fill="#ff7200"/>
<path d="M118 67h1v1h-1z" fill="#ff7100"/>
<path d="M119 67h1v1h-1z" fill="#ff7000"/>
<path d="M120 67h1v1h-1z" fill="#ff6f00"/>
<path d="M121 67h1v1h-1z" fill="#ff6d00"/>
<path d="M122 67h1v1h-1z" fill="#ff6c00"/>
<path d="M123 67h1v1h-1z" fill="#ff6b00"/>
<path d="M124 67h1v1h-1z" fill="#ff6a00"/>
<path d="M37 68h1v1h-1z" fill="#00f0df"/>
<path d="M38 68h1v1h-1z" fill="#00f0df"/>
<path d="M39 68h1v1h-1z" fill="#00f0de"/>
<path d="M40 68h1v1h-1z" fill="#00f0de"/>
<path d="M41 68h1v1h-1z" fill="#00f0de"/>
<path d="M42 68h1v1h-1z" fill="#00f0dd"/>
<path d="M43 68h1v1h-1z" fill="#00f0dd"/>
<path d="M44 68h1v1h-1z" fill="#00f0dc"/>
<path d="M45 68h1v1h-1z" fill="#00f0dc"/>
<path d="M46 68h1v1h-1z" fill="#00f0db"/>
<path d="M47 68h1v1h-1z" fill="#00f0db"/>
<path d="M48 68h1v1h-1z" fill="#00f0da"/>
<path d="M49 68h1v1h-1z" fill="#00f0da"/>
<path d="M50 68h1v1h-1z" fill="#00f0d9"/>
<path d="M51 68h1v1h-1z" fill="#00f0d9"/>
<path d="M52 68h1v1h-1z" fill="#00f0d8"/>
<path d="M53 68h1v1h-1z" fill="#00f0d7"/>
<path d="M54 68h1v1h-1z" fill="#00f0d7"/>
<path d="M55 68h1v1h-1z" fill="#00f0d6"/>
<path d="M56 68h1v1h-1z" fill="#00f0d5"/>
<path d="M57 68h1v1h-1z" fill="#00f0d4"/>
<path d="M58 68h1v1h-1z" fill="#00f0d3"/>
<path d="M59 68h1v1h-1z" fill="#00f0d2"/>
<path d="M60 68h1v1h-1z" fill="#00f0d1"/>
<path d="M61 68h1v1h-1z" fill="#00f0d0"/>
<path d="M62 68h1v1h-1z" fill="#00f0ce"/>
<path d="M63 68h1v1h-1z" fill="#00f0cd"/>
<path d="M64 68h1v1h-1z" fill="#00f0cb"/>
<path d="M65 68h1v1h-1z" fill="#00f0c9"/>
<path d="M66 68h1v1h-1z" fill="#00f0c7"/>
<path d="M67 68h1v1h-1z" fill="#00f0c5"/>
<path d="M68 68h1v1h-1z" fill="#00f0c3"/>
<path d="M69 68h1v1h-1z" fill="#00f0c0"/>
<path d="M70 68h1v1h-1z" fill="#00f0b6"/>
<path d="M71 68h1v1h-1z" fill="#00f0a9"/>
<path d="M72 68h1v1h-1z" fill="#00f09e"/>
<path d="M73 68h1v1h-1z" fill="#01f093"/>
<path d="M74 68h1v1h-1z" fill="#14f190"/>
<path d="M75 68h1v1h-1z" fill="#38f395"/>
<path d="M76 68h1v1h-1z" fill="#66f6a2"/>
<path d="M77 68h1v1h-1z" fill="#90f8b2"/>
<path d="M78 68h1v1h-1z" fill="#adfabd"/>
<path d="M79 68h1v1h-1z" fill="#bbfbbf"/>
<path d="M80 68h1v1h-1z" fill="#c1fbbe"/>
<path d="M81 68h1v1h-1z" fill="#c0fbbd"/>
<path d="M82 68h1v1h-1z" fill="#bffbbc"/>
<path d="M83 68h1v1h-1z" fill="#d5fbbc"/>
<path d="M84 68h1v1h-1z" fill="#ebfbbc"/>
<path d="M85 68h1v1h-1z" fill="#f4fbbb"/>
<path d="M86 68h1v1h-1z" fill="#fdfbba"/>
<path d="M87 68h1v1h-1z" fill="#fff4b3"/>
<path d="M88 68h1v1h-1z" fill="#ffebac"/>
<path d="M89 68h1v1h-1z" fill="#ffe3a5"/>
<path d="M90 68h1v1h-1z" fill="#ffdc9f"/>
<path d="M91 68h1v1h-1z" fill="#ffd599"/>
<path d="M92 68h1v1h-1z" fill="#ffcf93"/>
<path d="M93 68h1v1h-1z" fill="#ffc98d"/>
<path d="M94 68h1v1h-1z" fill="#ffc388"/>
<path d="M95 68h1v1h-1z" fill="#ffbe83"/>
<path d="M96 68h1v1h-1z" fill="#ffb87e"/>
<path d="M97 68h1v1h-1z" fill="#ffb479"/>
<path d="M98 68h1v1h-1z" fill="#ffaf74"/>
<path d="M99 68h1v1h-1z" fill="#ffaa6f"/>
<path d="M100 68h1v1h-1z" fill="#ffa66b"/>
<path d="M101 68h1v1h-1z" fill="#ffa266"/>
<path d="M102 68h1v1h-1z" fill="#ff9e62"/>
<path d="M103 68h1v1h-1z" fill="#ff9a5e"/>
<path d="M104 68h1v1h-1z" fill="#ff9659"/>
<path d="M105 68h1v1h-1z" fill="#ff9255"/>
<path d="M106 68h1v1h-1z" fill="#ff8f50"/>
<path d="M107 68h1v1h-1z" fill="#ff8b4c"/>
<path d="M108 68h1v1h-1z" fill="#ff8847"/>
<path d="M109 68h1v1h-1z" fill="#ff8443"/>
<path d="M110 68h1v1h-1z" fill="#ff813e"/>
<path d="M111 68h1v1h-1z" fill="#ff7e39"/>
<path d="M112 68h1v1h-1z" fill="#ff7b34"/>
<path d="M113 68h1v1h-1z" fill="#ff782e"/>
<path d="M114 68h1v1h-1z" fill="#ff7527"/>
<path d="M115 68h1v1h-1z" fill="#ff721f"/>
<path d="M116 68h1v1h-1z" fill="#ff6f14"/>
<path d="M117 68h1v1h-1z" fill="#ff6c00"/>
<path d="M118 68h1v1h-1z" fill="#ff6b00"/>
<path d="M119 68h1v1h-1z" fill="#ff6900"/>
<path d="M120 68h1v1h-1z" fill="#ff6800"/>
<path d="M121 68h1v1h-1z" fill="#ff6700"/>
<path d="M122 68h1v1h-1z" fill="#ff6600"/>
<path d="M123 68h1v1h-1z" fill="#ff6500"/>
<path d="M124 68h1v1h-1z" fill="#ff6400"/>
<path d="M125 68h1v1h-1z" fill="#ff6300"/>
<path d="M37 69h1v1h-1z" fill="#00f0e1"/>
<path d="M38 69h1v1h-1z" fill="#00f0e1"/>
<path d="M39 69h1v1h-1z" fill="#00f0e0"/>
<path d="M40 69h1v1h-1z" fill="#00f0e0"/>
<path d="M41 69h1v1h-1z" fill="#00f0e0"/>
<path d="M42 69h1v1h-1z" fill="#00f0df"/>
<path d="M43 69h1v1h-1z" fill="#00f0df"/>
<path d="M44 69h1v1h-1z" fill="#00f0df"/>
<path d="M45 69h1v1h-1z" fill="#00f0de"/>
<path d="M46 69h1v1h-1z" fill="#00f0de"/>
<path d="M47 69h1v1h-1z" fill="#00f0dd"/>
<path d="M48 69h1v1h-1z" fill="#00f0dd"/>
<path d="M49 69h1v1h-1z" fill="#00f0dc"/>
<path d="M50 69h1v1h-1z" fill="#00f0dc"/>
<path d="M51 69h1v1h-1z" fill="#00f0db"/>
<path d="M52 69h1v1h-1z" fill="#00f0db"/>
<path d="M53 69h1v1h-1z" fill="#00f0da"/>
<path d="M54 69h1v1h-1z" fill="#00f0d9"/>
<path d="M55 69h1v1h-1z" fill="#00f0d9"/>
<path d="M56 69h1v1h-1z" fill="#00f0d8"/>
<path d="M57 69h1v1h-1z" fill="#00f0d7"/>
<path d="M58 69h1v1h-1z" fill="#00f0d6"/>
<path d="M59 69h1v1h-1z" fill="#00f0d5"/>
<path d="M60 69h1v1h-1z" fill="#00f0d4"/>
<path d="M61 69h1v1h-1z" fill="#00f0d3"/>
<path d="M62 69h1v1h-1z" fill="#00f0d2"/>
<path d="M63 69h1v1h-1z" fill="#00f0d1"/>
<path d="M64 69h1v1h-1z" fill="#00f0cf"/>
<path d="M65 69h1v1h-1z" fill="#00f0cd"/>
<path d="M66 69h1v1h-1z" fill="#00f0cc"/>
<path d="M67 69h1v1h-1z" fill="#00f0ca"/>
<path d="M68 69h1v1h-1z" fill="#00f0c7"/>
<path d="M69 69h1v1h-1z" fill="#00f0c5"/>
<path d="M70 69h1v1h-1z" fill="#00f0b8"/>
<path d="M71 69h1v1h-1z" fill="#00f0ae"/>
<path d="M72 69h1v1h-1z" fill="#00f0a4"/>
<path d="M73 69h1v1h-1z" fill="#08f09d"/>
<path d="M74 69h1v1h-1z" fill="#26f29e"/>
<path d="M75 69h1v1h-1z" fill="#50f5a6"/>
<path d="M76 69h1v1h-1z" fill="#7ff7b5"/>
<path d="M77 69h1v1h-1z" fill="#a3fac2"/>
<path d="M78 69h1v1h-1z" fill="#b7fbc7"/>
<path d="M79 69h1v1h-1z" fill="#c1fbc7"/>
<path d="M80 69h1v1h-1z" fill="#c9fcc6"/>
<path d="M81 69h1v1h-1z" fill="#c8fcc5"/>
<path d="M82 69h1v1h-1z" fill="#c8fcc4"/>
<path d="M83 69h1v1h-1z" fill="#e6fcc5"/>
<path d="M84 69h1v1h-1z" fill="#f2fcc4"/>
<path d="M85 69h1v1h-1z" fill="#fcfcc3"/>
<path d="M86 69h1v1h-1z" fill="#fff5be"/>
<path d="M87 69h1v1h-1z" fill="#ffedb6"/>
<path d="M88 69h1v1h-1z" fill="#ffe5af"/>
<path d="M89 69h1v1h-1z" fill="#ffdda8"/>
<path d="M90 69h1v1h-1z" fill="#ffd6a2"/>
<path d="M91 69h1v1h-1z" fill="#ffcf9c"/>
<path d="M92 69h1v1h-1z" fill="#ffc996"/>
<path d="M93 69h1v1h-1z" fill="#ffc391"/>
<path d="M94 69h1v1h-1z" fill="#ffbe8c"/>
<path d="M95 69h1v1h-1z" fill="#ffb887"/>
<path d="M96 69h1v1h-1z" fill="#ffb382"/>
<path d="M97 69h1v1h-1z" fill="#ffae7d"/>
<path d="M98 69h1v1h-1z" fill="#ffaa78"/>
<path d="M99 69h1v1h-1z" fill="#ffa574"/>
<path d="M100 69h1v1h-1z" fill="#ffa16f"/>
<path d="M101 69h1v1h-1z" fill="#ff9d6b"/>
<path d="M102 69h1v1h-1z" fill="#ff9967"/>
<path d="M103 69h1v1h-1z" fill="#ff9562"/>
<path d="M104 69h1v1h-1z" fill="#ff915e"/>
<path d="M105 69h1v1h-1z" fill="#ff8e5a"/>
<path d="M106 69h1v1h-1z" fill="#ff8a56"/>
<path d="M107 69h1v1h-1z" fill="#ff8751"/>
<path d="M108 69h1v1h-1z" fill="#ff834d"/>
<path d="M109 69h1v1h-1z" fill="#ff8049"/>
<path d="M110 69h1v1h-1z" fill="#ff7d44"/>
<path d="M111 69h1v1h-1z" fill="#ff7a40"/>
<path d="M112 69h1v1h-1z" fill="#ff773b"/>
<path d="M113 69h1v1h-1z" fill="#ff7436"/>
<path d="M114 69h1v1h-1z" fill="#ff7131"/>
<path d="M115 69h1v1h-1z" fill="#ff6e2b"/>
<path d="M116 69h1v1h-1z" fill="#ff6b24"/>
<path d="M117 69h1v1h-1z" fill="#ff681c"/>
<path d="M118 69h1v1h-1z" fill="#ff6510"/>
<path d="M119 69h1v1h-1z" fill="#ff6200"/>
<path d="M120 69h1v1h-1z" fill="#ff6100"/>
<path d="M121 69h1v1h-1z" fill="#ff6000"/>
<path d="M122 69h1v1h-1z" fill="#ff5f00"/>
<path d="M123 69h1v1h-1z" fill="#ff5e00"/>
<path d="M124 69h1v1h-1z" fill="#ff5d00"/>
<path d="M125 69h1v1h-1z" fill="#ff5c00"/>
<path d="M126 69h1v1h-1z" fill="#ff5b00"/>
<path d="M37 70h1v1h-1z" fill="#00f0e3"/>
<path d="M38 70h1v1h-1z" fill="#00f0e3"/>
<path d="M39 70h1v1h-1z" fill="#00f0e2"/>
<path d="M40 70h1v1h-1z" fill="#00f0e2"/>
<path d="M41 70h1v1h-1z" fill="#00f0e2"/>
<path d="M42 70h1v1h-1z" fill="#00f0e1"/>
<path d="M43 70h1v1h-1z" fill="#00f0e1"/>
<path d="M44 70h1v1h-1z" fill="#00f0e1"/>
<path d="M45 70h1v1h-1z" fill="#00f0e1"/>
<path d="M46 70h1v1h-1z" fill="#00f0e0"/>
<path d="M47 70h1v1h-1z" fill="#00f0e0"/>
<path d="M48 70h1v1h-1z" fill="#00f0df"/>
<path d="M49 70h1v1h-1z" fill="#00f0df"/>
<path d="M50 70h1v1h-1z" fill="#00f0de"/>
<path d="M51 70h1v1h-1z" fill="#00f0de"/>
<path d="M52 70h1v1h-1z" fill="#00f0de"/>
<path d="M53 70h1v1h-1z" fill="#00f0dd"/>
<path d="M54 70h1v1h-1z" fill="#00f0dc"/>
<path d="M55 70h1v1h-1z" fill="#00f0dc"/>
<path d="M56 70h1v1h-1z" fill="#00f0db"/>
<path d="M57 70h1v1h-1z" fill="#00f0da"/>
<path d="M58 70h1v1h-1z" fill="#00f0da"/>
<path d="M59 70h1v1h-1z" fill="#00f0d9"/>
<path d="M60 70h1v1h-1z" fill="#00f0d8"/>
<path d="M61 70h1v1h-1z" fill="#00f0d7"/>
<path d="M62 70h1v1h-1z" fill="#00f0d6"/>
<path d="M63 70h1v1h-1z" fill="#00f0d5"/>
<path d="M64 70h1v1h-1z" fill="#00f0d3"/>
<path d="M65 70h1v1h-1z" fill="#00f0d2"/>
<path d="M66 70h1v1h-1z" fill="#00f0d0"/>
<path d="M67 70h1v1h-1z" fill="#00f0ce"/>
<path d="M68 70h1v1h-1z" fill="#00f0cc"/>
<path d="M69 70h1v1h-1z" fill="#00f0ca"/>
<path d="M70 70h1v1h-1z" fill="#00f0bd"/>
<path d="M71 70h1v1h-1z" fill="#00f0b4"/>
<path d="M72 70h1v1h-1z" fill="#01f0ab"/>
<path d="M73 70h1v1h-1z" fill="#14f1a9"/>
<path d="M74 70h1v1h-1z" fill="#3bf3ad"/>
<path d="M75 70h1v1h-1z" fill="#6bf6b9"/>
<path d="M76 70h1v1h-1z" fill="#96f9c6"/>
<path d="M77 70h1v1h-1z" fill="#b1face"/>
<path d="M78 70h1v1h-1z" fill="#befbcf"/>
<path d="M79 70h1v1h-1z" fill="#c8fcce"/>
<path d="M80 70h1v1h-1z" fill="#d1fcce"/>
<path d="M81 70h1v1h-1z" fill="#d0fccd"/>
<path d="M82 70h1v1h-1z" fill="#d6fccd"/>
<path d="M83 70h1v1h-1z" fill="#f1fccd"/>
<path d="M84 70h1v1h-1z" fill="#fafccd"/>
<path d="M85 70h1v1h-1z" fill="#fff7c8"/>
<path d="M86 70h1v1h-1z" fill="#ffeec0"/>
<path d="M87 70h1v1h-1z" fill="#ffe6b9"/>
<path d="M88 70h1v1h-1z" fill="#ffdeb2"/>
<path d="M89 70h1v1h-1z" fill="#ffd7ab"/>
<path d="M90 70h1v1h-1z" fill="#ffd0a5"/>
<path d="M91 70h1v1h-1z" fill="#ffc99f"/>
<path d="M92 70h1v1h-1z" fill="#ffc39a"/>
<path d="M93 70h1v1h-1z" fill="#ffbe94"/>
<path d="M94 70h1v1h-1z" fill="#ffb88f"/>
<path d="M95 70h1v1h-1z" fill="#ffb38a"/>
<path d="M96 70h1v1h-1z" fill="#ffae85"/>
<path d="M97 70h1v1h-1z" fill="#ffa981"/>
<path d="M98 70h1v1h-1z" fill="#ffa57c"/>
<path d="M99 70h1v1h-1z" fill="#ffa078"/>
<path d="M100 70h1v1h-1z" fill="#ff9c73"/>
<path d="M101 70h1v1h-1z" fill="#ff986f"/>
<path d="M102 70h1v1h-1z" fill="#ff946b"/>
<path d="M103 70h1v1h-1z" fill="#ff9067"/>
<path d="M104 70h1v1h-1z" fill="#ff8d63"/>
<path d="M105 70h1v1h-1z" fill="#ff895f"/>
<path d="M106 70h1v1h-1z" fill="#ff855b"/>
<path d="M107 70h1v1h-1z" fill="#ff8256"/>
<path d="M108 70h1v1h-1z" fill="#ff7f52"/>
<path d="M109 70h1v1h-1z" fill="#ff7b4e"/>
<path d="M110 70h1v1h-1z" fill="#ff784a"/>
<path d="M111 70h1v1h-1z" fill="#ff7546"/>
<path d="M112 70h1v1h-1z" fill="#ff7242"/>
<path d="M113 70h1v1h-1z" fill="#ff6f3d"/>
<path d="M114 70h1v1h-1z" fill="#ff6c39"/>
<path d="M115 70h1v1h-1z" fill="#ff6934"/>
<path d="M116 70h1v1h-1z" fill="#ff662e"/>
<path d="M117 70h1v1h-1z" fill="#ff6329"/>
<path d="M118 70h1v1h-1z" fill="#ff6022"/>
<path d="M119 70h1v1h-1z" fill="#ff5d19"/>
<path d="M120 70h1v1h-1z" fill="#ff5a0a"/>
<path d="M121 70h1v1h-1z" fill="#ff5900"/>
<path d="M122 70h1v1h-1z" fill="#ff5800"/>
<path d="M123 70h1v1h-1z" fill="#ff5700"/>
<path d="M124 70h1v1h-1z" fill="#ff5600"/>
<path d="M125 70h1v1h-1z" fill="#ff5500"/>
<path d="M126 70h1v1h-1z" fill="#ff5400"/>
<path d="M127 70h1v1h-1z" fill="#ff5300"/>
<path d="M128 70h1v1h-1z" fill="#ff5300"/>
<path d="M37 71h1v1h-1z" fill="#00f0e5"/>
<path d="M38 71h1v1h-1z" fill="#00f0e5"/>
<path d="M39 71h1v1h-1z" fill="#00f0e4"/>
<path d="M40 71h1v1h-1z" fill="#00f0e4"/>
<path d="M41 71h1v1h-1z" fill="#00f0e4"/>
<path d="M42 71h1v1h-1z" fill="#00f0e4"/>
<path d="M43 71h1v1h-1z" fill="#00f0e3"/>
<path d="M44 71h1v1h-1z" fill="#00f0e3"/>
<path d="M45 71h1v1h-1z" fill="#00f0e3"/>
<path d="M46 71h1v1h-1z" fill="#00f0e3"/>
<path d="M47 71h1v1h-1z" fill="#00f0e2"/>
<path d="M48 71h1v1h-1z" fill="#00f0e2"/>
<path d="M49 71h1v1h-1z" fill="#00f0e2"/>
<path d="M50 71h1v1h-1z" fill="#00f0e1"/>
<path d="M51 71h1v1h-1z" fill="#00f0e1"/>
<path d="M52 71h1v1h-1z" fill="#00f0e0"/>
<path d="M53 71h1v1h-1z" fill="#00f0e0"/>
<path d="M54 71h1v1h-1z" fill="#00f0df"/>
<path d="M55 71h1v1h-1z" fill="#00f0df"/>
<path d="M56 71h1v1h-1z" fill="#00f0de"/>
<path d="M57 71h1v1h-1z" fill="#00f0de"/>
<path d="M58 71h1v1h-1z" fill="#00f0dd"/>
<path d="M59 71h1v1h-1z" fill="#00f0dc"/>
<path d="M60 71h1v1h-1z" fill="#00f0dc"/>
<path d="M61 71h1v1h-1z" fill="#00f0db"/>
<path d="M62 71h1v1h-1z" fill="#00f0da"/>
<path d="M63 71h1v1h-1z" fill="#00f0d9"/>
<path d="M64 71h1v1h-1z" fill="#00f0d8"/>
<path d="M65 71h1v1h-1z" fill="#00f0d6"/>
<path d="M66 71h1v1h-1z" fill="#00f0d5"/>
<path d="M67 71h1v1h-1z" fill="#00f0d3"/>
<path d="M68 71h1v1h-1z" fill="#00f0d2"/>
<path d="M69 71h1v1h-1z" fill="#00f0ca"/>
<path d="M70 71h1v1h-1z" fill="#00f0c2"/>
<path d="M71 71h1v1h-1z" fill="#00f0bb"/>
<path d="M72 71h1v1h-1z" fill="#07f0b6"/>
<path d="M73 71h1v1h-1z" fill="#27f2b7"/>
<path d="M74 71h1v1h-1z" fill="#55f5bf"/>
<path d="M75 71h1v1h-1z" fill="#86f8cb"/>
<path d="M76 71h1v1h-1z" fill="#a8fad4"/>
<path d="M77 71h1v1h-1z" fill="#bafbd7"/>
<path d="M78 71h1v1h-1z" fill="#c5fcd7"/>
<path d="M79 71h1v1h-1z" fill="#d0fcd7"/>
<path d="M80 71h1v1h-1z" fill="#d9fdd7"/>
<path d="M81 71h1v1h-1z" fill="#d8fdd6"/>
<path d="M82 71h1v1h-1z" fill="#e9fdd6"/>
<path d="M83 71h1v1h-1z" fill="#f8fdd6"/>
<path d="M84 71h1v1h-1z" fill="#fff9d3"/>
<path d="M85 71h1v1h-1z" fill="#fff0cb"/>
<path d="M86 71h1v1h-1z" fill="#ffe7c3"/>
<path d="M87 71h1v1h-1z" fill="#ffdfbc"/>
<path d="M88 71h1v1h-1z" fill="#ffd7b5"/>
<path d="M89 71h1v1h-1z" fill="#ffd0ae"/>
<path d="M90 71h1v1h-1z" fill="#ffcaa8"/>
<path d="M91 71h1v1h-1z" fill="#ffc3a2"/>
<path d="M92 71h1v1h-1z" fill="#ffbe9d"/>
<path d="M93 71h1v1h-1z" fill="#ffb897"/>
<path d="M94 71h1v1h-1z" fill="#ffb392"/>
<path d="M95 71h1v1h-1z" fill="#ffae8d"/>
<path d="M96 71h1v1h-1z" fill="#ffa989"/>
<path d="M97 71h1v1h-1z" fill="#ffa484"/>
<path d="M98 71h1v1h-1z" fill="#ffa080"/>
<path d="M99 71h1v1h-1z" fill="#ff9b7b"/>
<path d="M100 71h1v1h-1z" fill="#ff9777"/>
<path d="M101 71h1v1h-1z" fill="#ff9373"/>
<path d="M102 71h1v1h-1z" fill="#ff8f6f"/>
<path d="M103 71h1v1h-1z" fill="#ff8b6b"/>
<path d="M104 71h1v1h-1z" fill="#ff8867"/>
<path d="M105 71h1v1h-1z" fill="#ff8463"/>
<path d="M106 71h1v1h-1z" fill="#ff815f"/>
<path d="M107 71h1v1h-1z" fill="#ff7d5b"/>
<path d="M108 71h1v1h-1z" fill="#ff7a57"/>
<path d="M109 71h1v1h-1z" fill="#ff7753"/>
<path d="M110 71h1v1h-1z" fill="#ff734f"/>
<path d="M111 71h1v1h-1z" fill="#ff704c"/>
<path d="M112 71h1v1h-1z" fill="#ff6d48"/>
<path d="M113 71h1v1h-1z" fill="#ff6a43"/>
<path d="M114 71h1v1h-1z" fill="#ff673f"/>
<path d="M115 71h1v1h-1z" fill="#ff643b"/>
<path d="M116 71h1v1h-1z" fill="#ff6136"/>
<path d="M117 71h1v1h-1z" fill="#ff5e31"/>
<path d="M118 71h1v1h-1z" fill="#ff5b2c"/>
<path d="M119 71h1v1h-1z" fill="#ff5926"/>
<path d="M120 71h1v1h-1z" fill="#ff561f"/>
<path d="M121 71h1v1h-1z" fill="#ff5316"/>
<path d="M122 71h1v1h-1z" fill="#ff5000"/>
<path d="M123 71h1v1h-1z" fill="#ff4f00"/>
<path d="M124 71h1v1h-1z" fill="#ff4e00"/>
<path d="M125 71h1v1h-1z" fill="#ff4d00"/>
<path d="M126 71h1v1h-1z" fill="#ff4c00"/>
<path d="M127 71h1v1h-1z" fill="#ff4c00"/>
<path d="M128 71h1v1h-1z" fill="#ff4b00"/>
<path d="M129 71h1v1h-1z" fill="#ff4a00"/>
<path d="M38 72h1v1h-1z" fill="#00f0e7"/>
<path d="M39 72h1v1h-1z" fill="#00f0e7"/>
<path d="M40 72h1v1h-1z" fill="#00f0e6"/>
<path d="M41 72h1v1h-1z" fill="#00f0e6"/>
<path d="M42 72h1v1h-1z" fill="#00f0e6"/>
<path d="M43 72h1v1h-1z" fill="#00f0e6"/>
<path d="M44 72h1v1h-1z" fill="#00f0e6"/>
<path d="M45 72h1v1h-1z" fill="#00f0e5"/>
<path d="M46 72h1v1h-1z" fill="#00f0e5"/>
<path d="M47 72h1v1h-1z" fill="#00f0e5"/>
<path d="M48 72h1v1h-1z" fill="#00f0e5"/>
<path d="M49 72h1v1h-1z" fill="#00f0e4"/>
<path d="M50 72h1v1h-1z" fill="#00f0e4"/>
<path d="M51 72h1v1h-1z" fill="#00f0e4"/>
<path d="M52 72h1v1h-1z" fill="#00f0e3"/>
<path d="M53 72h1v1h-1z" fill="#00f0e3"/>
<path d="M54 72h1v1h-1z" fill="#00f0e3"/>
<path d="M55 72h1v1h-1z" fill="#00f0e2"/>
<path d="M56 72h1v1h-1z" fill="#00f0e2"/>
<path d="M57 72h1v1h-1z" fill="#00f0e1"/>
<path d="M58 72h1v1h-1z" fill="#00f0e1"/>
<path d="M59 72h1v1h-1z" fill="#00f0e0"/>
<path d="M60 72h1v1h-1z" fill="#00f0e0"/>
<path d="M61 72h1v1h-1z" fill="#00f0df"/>
<path d="M62 72h1v1h-1z" fill="#00f0de"/>
<path d="M63 72h1v1h-1z" fill="#00f0dd"/>
<path d="M64 72h1v1h-1z" fill="#00f0dc"/>
<path d="M65 72h1v1h-1z" fill="#00f0db"/>
<path d="M66 72h1v1h-1z" fill="#00f0da"/>
<path d="M67 72h1v1h-1z" fill="#00f0d9"/>
<path d="M68 72h1v1h-1z" fill="#00f0d7"/>
<path d="M69 72h1v1h-1z" fill="#00f0d0"/>
<path d="M70 72h1v1h-1z" fill="#00f0ca"/>
<path d="M71 72h1v1h-1z" fill="#00f0c4"/>
<path d="M72 72h1v1h-1z" fill="#14f1c3"/>
<path d="M73 72h1v1h-1z" fill="#3df4c7"/>
<path d="M74 72h1v1h-1z" fill="#71f7d0"/>
<path d="M75 72h1v1h-1z" fill="#9cf9da"/>
<path d="M76 72h1v1h-1z" fill="#b5fbdf"/>
<path d="M77 72h1v1h-1z" fill="#c1fbdf"/>
<path d="M78 72h1v1h-1z" fill="#ccfcdf"/>
<path d="M79 72h1v1h-1z" fill="#d7fddf"/>
<path d="M80 72h1v1h-1z" fill="#e1fddf"/>
<path d="M81 72h1v1h-1z" fill="#e1fddf"/>
<path d="M82 72h1v1h-1z" fill="#f6fde0"/>
<path d="M83 72h1v1h-1z" fill="#fffbde"/>
<path d="M84 72h1v1h-1z" fill="#fff2d5"/>
<path d="M85 72h1v1h-1z" fill="#ffe8cd"/>
<path d="M86 72h1v1h-1z" fill="#ffe0c5"/>
<path d="M87 72h1v1h-1z" fill="#ffd8be"/>
<path d="M88 72h1v1h-1z" fill="#ffd1b7"/>
<path d="M89 72h1v1h-1z" fill="#ffcab1"/>
<path d="M90 72h1v1h-1z" fill="#ffc4ab"/>
<path d="M91 72h1v1h-1z" fill="#ffbda5"/>
<path d="M92 72h1v1h-1z" fill="#ffb8a0"/>
<path d="M93 72h1v1h-1z" fill="#ffb29a"/>
<path d="M94 72h1v1h-1z" fill="#ffad95"/>
<path d="M95 72h1v1h-1z" fill="#ffa890"/>
<path d="M96 72h1v1h-1z" fill="#ffa38c"/>
<path d="M97 72h1v1h-1z" fill="#ff9f87"/>
<path d="M98 72h1v1h-1z" fill="#ff9a83"/>
<path d="M99 72h1v1h-1z" fill="#ff967f"/>
<path d="M100 72h1v1h-1z" fill="#ff927a"/>
<path d="M101 72h1v1h-1z" fill="#ff8e76"/>
<path d="M102 72h1v1h-1z" fill="#ff8a72"/>
<path d="M103 72h1v1h-1z" fill="#ff866f"/>
<path d="M104 72h1v1h-1z" fill="#ff836b"/>
<path d="M105 72h1v1h-1z" fill="#ff7f67"/>
<path d="M106 72h1v1h-1z" fill="#ff7c63"/>
<path d="M107 72h1v1h-1z" fill="#ff785f"/>
<path d="M108 72h1v1h-1z" fill="#ff755c"/>
<path d="M109 72h1v1h-1z" fill="#ff7258"/>
<path d="M110 72h1v1h-1z" fill="#ff6f54"/>
<path d="M111 72h1v1h-1z" fill="#ff6b50"/>
<path d="M112 72h1v1h-1z" fill="#ff684d"/>
<path d="M113 72h1v1h-1z" fill="#ff6549"/>
<path d="M114 72h1v1h-1z" fill="#ff6245"/>
<path d="M115 72h1v1h-1z" fill="#ff5f41"/>
<path d="M116 72h1v1h-1z" fill="#ff5c3d"/>
<path d="M117 72h1v1h-1z" fill="#ff5939"/>
<path d="M118 72h1v1h-1z" fill="#ff5634"/>
<path d="M119 72h1v1h-1z" fill="#ff532f"/>
<path d="M120 72h1v1h-1z" fill="#ff502a"/>
<path d="M121 72h1v1h-1z" fill="#ff4d24"/>
<path d="M122 72h1v1h-1z" fill="#ff4a1d"/>
<path d="M123 72h1v1h-1z" fill="#ff4712"/>
<path d="M124 72h1v1h-1z" fill="#ff4500"/>
<path d="M125 72h1v1h-1z" fill="#ff4400"/>
<path d="M126 72h1v1h-1z" fill="#ff4300"/>
<path d="M127 72h1v1h-1z" fill="#ff4300"/>
<path d="M128 72h1v1h-1z" fill="#ff4200"/>
<path d="M129 72h1v1h-1z" fill="#ff4100"/>
<path d="M130 72h1v1h-1z" fill="#ff4100"/>
<path d="M131 72h1v1h-1z" fill="#ff4000"/>
<path d="M38 73h1v1h-1z" fill="#00f0e9"/>
<path d="M39 73h1v1h-1z" fill="#00f0e9"/>
<path d="M40 73h1v1h-1z" fill="#00f0e9"/>
<path d="M41 73h1v1h-1z" fill="#00f0e8"/>
<path d="M42 73h1v1h-1z" fill="#00f0e8"/>
<path d="M43 73h1v1h-1z" fill="#00f0e8"/>
<path d="M44 73h1v1h-1z" fill="#00f0e8"/>
<path d="M45 73h1v1h-1z" fill="#00f0e8"/>
<path d="M46 73h1v1h-1z" fill="#00f0e8"/>
<path d="M47 73h1v1h-1z" fill="#00f0e8"/>
<path d="M48 73h1v1h-1z" fill="#00f0e7"/>
<path d="M49 73h1v1h-1z" fill="#00f0e7"/>
<path d="M50 73h1v1h-1z" fill="#00f0e7"/>
<path d="M51 73h1v1h-1z" fill="#00f0e7"/>
<path d="M52 73h1v1h-1z" fill="#00f0e6"/>
<path d="M53 73h1v1h-1z" fill="#00f0e6"/>
<path d="M54 73h1v1h-1z" fill="#00f0e6"/>
<path d="M55 73h1v1h-1z" fill="#00f0e6"/>
<path d="M56 73h1v1h-1z" fill="#00f0e5"/>
<path d="M57 73h1v1h-1z" fill="#00f0e5"/>
<path d="M58 73h1v1h-1z" fill="#00f0e5"/>
<path d="M59 73h1v1h-1z" fill="#00f0e4"/>
<path d="M60 73h1v1h-1z" fill="#00f0e4"/>
<path d="M61 73h1v1h-1z" fill="#00f0e3"/>
<path d="M62 73h1v1h-1z" fill="#00f0e3"/>
<path d="M63 73h1v1h-1z" fill="#00f0e2"/>
<path d="M64 73h1v1h-1z" fill="#00f0e1"/>
<path d="M65 73h1v1h-1z" fill="#00f0e1"/>
<path d="M66 73h1v1h-1z" fill="#00f0e0"/>
<path d="M67 73h1v1h-1z" fill="#00f0df"/>
<path d="M68 73h1v1h-1z" fill="#00f0dc"/>
<path d="M69 73h1v1h-1z" fill="#00f0d7"/>
<path d="M70 73h1v1h-1z" fill="#00f0d3"/>
<path d="M71 73h1v1h-1z" fill="#06f0d0"/>
<path d="M72 73h1v1h-1z" fill="#28f2d2"/>
<path d="M73 73h1v1h-1z" fill="#59f5d8"/>
<path d="M74 73h1v1h-1z" fill="#8cf8e0"/>
<path d="M75 73h1v1h-1z" fill="#aefae6"/>
<path d="M76 73h1v1h-1z" fill="#bdfbe7"/>
<path d="M77 73h1v1h-1z" fill="#c9fce8"/>
<path d="M78 73h1v1h-1z" fill="#d4fce8"/>
<path d="M79 73h1v1h-1z" fill="#dffde8"/>
<path d="M80 73h1v1h-1z" fill="#eafee9"/>
<path d="M81 73h1v1h-1z" fill="#eefee8"/>
<path d="M82 73h1v1h-1z" fill="#fffee9"/>
<path d="M83 73h1v1h-1z" fill="#fff3e0"/>
<path d="M84 73h1v1h-1z" fill="#ffead7"/>
<path d="M85 73h1v1h-1z" fill="#ffe1cf"/>
<path d="M86 73h1v1h-1z" fill="#ffd9c7"/>
<path d="M87 73h1v1h-1z" fill="#ffd1c0"/>
<path d="M88 73h1v1h-1z" fill="#ffcaba"/>
<path d="M89 73h1v1h-1z" fill="#ffc4b3"/>
<path d="M90 73h1v1h-1z" fill="#ffbdad"/>
<path d="M91 73h1v1h-1z" fill="#ffb7a8"/>
<path d="M92 73h1v1h-1z" fill="#ffb2a2"/>
<path d="M93 73h1v1h-1z" fill="#ffac9d"/>
<path d="M94 73h1v1h-1z" fill="#ffa798"/>
<path d="M95 73h1v1h-1z" fill="#ffa293"/>
<path d="M96 73h1v1h-1z" fill="#ff9e8f"/>
<path d="M97 73h1v1h-1z" fill="#ff998a"/>
<path d="M98 73h1v1h-1z" fill="#ff9586"/>
<path d="M99 73h1v1h-1z" fill="#ff9182"/>
<path d="M100 73h1v1h-1z" fill="#ff8d7e"/>
<path d="M101 73h1v1h-1z" fill="#ff897a"/>
<path d="M102 73h1v1h-1z" fill="#ff8576"/>
<path d="M103 73h1v1h-1z" fill="#ff8172"/>
<path d="M104 73h1v1h-1z" fill="#ff7e6e"/>
<path d="M105 73h1v1h-1z" fill="#ff7a6b"/>
<path d="M106 73h1v1h-1z" fill="#ff7767"/>
<path d="M107 73h1v1h-1z" fill="#ff7363"/>
<path d="M108 73h1v1h-1z" fill="#ff7060"/>
<path d="M109 73h1v1h-1z" fill="#ff6d5c"/>
<path d="M110 73h1v1h-1z" fill="#ff6959"/>
<path d="M111 73h1v1h-1z" fill="#ff6655"/>
<path d="M112 73h1v1h-1z" fill="#ff6351"/>
<path d="M113 73h1v1h-1z" fill="#ff604e"/>
<path d="M114 73h1v1h-1z" fill="#ff5d4a"/>
<path d="M115 73h1v1h-1z" fill="#ff5a46"/>
<path d="M116 73h1v1h-1z" fill="#ff5743"/>
<path d="M117 73h1v1h-1z" fill="#ff543f"/>
<path d="M118 73h1v1h-1z" fill="#ff513b"/>
<path d="M119 73h1v1h-1z" fill="#ff4e36"/>
<path d="M120 73h1v1h-1z" fill="#ff4b32"/>
<path d="M121 73h1v1h-1z" fill="#ff472d"/>
<path d="M122 73h1v1h-1z" fill="#ff4428"/>
<path d="M123 73h1v1h-1z" fill="#ff4121"/>
<path d="M124 73h1v1h-1z" fill="#ff3e1a"/>
<path d="M125 73h1v1h-1z" fill="#ff3a0e"/>
<path d="M126 73h1v1h-1z" fill="#ff3900"/>
<path d="M127 73h1v1h-1z" fill="#ff3800"/>
<path d="M128 73h1v1h-1z" fill="#ff3700"/>
<path d="M129 73h1v1h-1z" fill="#ff3700"/>
<path d="M130 73h1v1h-1z" fill="#ff3600"/>
<path d="M131 73h1v1h-1z" fill="#ff3600"/>
<path d="M132 73h1v1h-1z" fill="#ff3500"/>
<path d="M38 74h1v1h-1z" fill="#00f0eb"/>
<path d="M39 74h1v1h-1z" fill="#00f0eb"/>
<path d="M40 74h1v1h-1z" fill="#00f0eb"/>
<path d="M41 74h1v1h-1z" fill="#00f0eb"/>
<path d="M42 74h1v1h-1z" fill="#00f0eb"/>
<path d="M43 74h1v1h-1z" fill="#00f0eb"/>
<path d="M44 74h1v1h-1z" fill="#00f0eb"/>
<path d="M45 74h1v1h-1z" fill="#00f0ea"/>
<path d="M46 74h1v1h-1z" fill="#00f0ea"/>
<path d="M47 74h1v1h-1z" fill="#00f0ea"/>
<path d="M48 74h1v1h-1z" fill="#00f0ea"/>
<path d="M49 74h1v1h-1z" fill="#00f0ea"/>
<path d="M50 74h1v1h-1z" fill="#00f0ea"/>
<path d="M51 74h1v1h-1z" fill="#00f0ea"/>
<path d="M52 74h1v1h-1z" fill="#00f0ea"/>
<path d="M53 74h1v1h-1z" fill="#00f0ea"/>
<path d="M54 74h1v1h-1z" fill="#00f0e9"/>
<path d="M55 74h1v1h-1z" fill="#00f0e9"/>
<path d="M56 74h1v1h-1z" fill="#00f0e9"/>
<path d="M57 74h1v1h-1z" fill="#00f0e9"/>
<path d="M58 74h1v1h-1z" fill="#00f0e9"/>
<path d="M59 74h1v1h-1z" fill="#00f0e8"/>
<path d="M60 74h1v1h-1z" fill="#00f0e8"/>
<path d="M61 74h1v1h-1z" fill="#00f0e8"/>
<path d="M62 74h1v1h-1z" fill="#00f0e7"/>
<path d="M63 74h1v1h-1z" fill="#00f0e7"/>
<path d="M64 74h1v1h-1z" fill="#00f0e7"/>
<path d="M65 74h1v1h-1z" fill="#00f0e6"/>
<path d="M66 74h1v1h-1z" fill="#00f0e6"/>
<path d="M67 74h1v1h-1z" fill="#00f0e5"/>
<path d="M68 74h1v1h-1z" fill="#00f0e3"/>
<path d="M69 74h1v1h-1z" fill="#00f0e0"/>
<path d="M70 74h1v1h-1z" fill="#00f0de"/>
<path d="M71 74h1v1h-1z" fill="#14f1de"/>
<path d="M72 74h1v1h-1z" fill="#41f4e2"/>
<path d="M73 74h1v1h-1z" fill="#78f7e8"/>
<path d="M74 74h1v1h-1z" fill="#a3faed"/>
<path d="M75 74h1v1h-1z" fill="#b8fbf0"/>
<path d="M76 74h1v1h-1z" fill="#c5fcf0"/>
<path d="M77 74h1v1h-1z" fill="#d1fcf1"/>
<path d="M78 74h1v1h-1z" fill="#dcfdf1"/>
<path d="M79 74h1v1h-1z" fill="#e7fef2"/>
<path d="M80 74h1v1h-1z" fill="#f2fef2"/>
<path d="M81 74h1v1h-1z" fill="#fdfef3"/>
<path d="M82 74h1v1h-1z" fill="#fff5eb"/>
<path d="M83 74h1v1h-1z" fill="#ffebe1"/>
<path d="M84 74h1v1h-1z" fill="#ffe2d9"/>
<path d="M85 74h1v1h-1z" fill="#ffdad1"/>
<path d="M86 74h1v1h-1z" fill="#ffd2c9"/>
<path d="M87 74h1v1h-1z" fill="#ffcac2"/>
<path d="M88 74h1v1h-1z" fill="#ffc4bc"/>
<path d="M89 74h1v1h-1z" fill="#ffbdb6"/>
<path d="M90 74h1v1h-1z" fill="#ffb7b0"/>
<path d="M91 74h1v1h-1z" fill="#ffb1aa"/>
<path d="M92 74h1v1h-1z" fill="#ffaca5"/>
<path d="M93 74h1v1h-1z" fill="#ffa7a0"/>
<path d="M94 74h1v1h-1z" fill="#ffa29b"/>
<path d="M95 74h1v1h-1z" fill="#ff9d96"/>
<path d="M96 74h1v1h-1z" fill="#ff9892"/>
<path d="M97 74h1v1h-1z" fill="#ff948d"/>
<path d="M98 74h1v1h-1z" fill="#ff8f89"/>
<path d="M99 74h1v1h-1z" fill="#ff8b85"/>
<path d="M100 74h1v1h-1z" fill="#ff8781"/>
<path d="M101 74h1v1h-1z" fill="#ff837d"/>
<path d="M102 74h1v1h-1z" fill="#ff8079"/>
<path d="M103 74h1v1h-1z" fill="#ff7c75"/>
<path d="M104 74h1v1h-1z" fill="#ff7872"/>
<path d="M105 74h1v1h-1z" fill="#ff756e"/>
<path d="M106 74h1v1h-1z" fill="#ff716b"/>
<path d="M107 74h1v1h-1z" fill="#ff6e67"/>
<path d="M108 74h1v1h-1z" fill="#ff6b64"/>
<path d="M109 74h1v1h-1z" fill="#ff6760"/>
<path d="M110 74h1v1h-1z" fill="#ff645d"/>
<path d="M111 74h1v1h-1z" fill="#ff6159"/>
<path d="M112 74h1v1h-1z" fill="#ff5e56"/>
<path d="M113 74h1v1h-1z" fill="#ff5a52"/>
<path d="M114 74h1v1h-1z" fill="#ff574f"/>
<path d="M115 74h1v1h-1z" fill="#ff544b"/>
<path d="M116 74h1v1h-1z" fill="#ff5148"/>
<path d="M117 74h1v1h-1z" fill="#ff4e44"/>
<path d="M118 74h1v1h-1z" fill="#ff4b40"/>
<path d="M119 74h1v1h-1z" fill="#ff473c"/>
<path d="M120 74h1v1h-1z" fill="#ff4438"/>
<path d="M121 74h1v1h-1z" fill="#ff4134"/>
<path d="M122 74h1v1h-1z" fill="#ff3e30"/>
<path d="M123 74h1v1h-1z" fill="#ff3a2b"/>
<path d="M124 74h1v1h-1z" fill="#ff3625"/>
<path d="M125 74h1v1h-1z" fill="#ff331f"/>
<path d="M126 74h1v1h-1z" fill="#ff2f17"/>
<path d="M127 74h1v1h-1z" fill="#ff2a08"/>
<path d="M128 74h1v1h-1z" fill="#ff2a00"/>
<path d="M129 74h1v1h-1z" fill="#ff2900"/>
<path d="M130 74h1v1h-1z" fill="#ff2900"/>
<path d="M131 74h1v1h-1z" fill="#ff2800"/>
<path d="M132 74h1v1h-1z" fill="#ff2800"/>
<path d="M133 74h1v1h-1z" fill="#ff2800"/>
<path d="M38 75h1v1h-1z" fill="#00f0ed"/>
<path d="M39 75h1v1h-1z" fill="#00f0ed"/>
<path d="M40 75h1v1h-1z" fill="#00f0ed"/>
<path d="M41 75h1v1h-1z" fill="#00f0ed"/>
<path d="M42 75h1v1h-1z" fill="#00f0ed"/>
<path d="M43 75h1v1h-1z" fill="#00f0ed"/>
<path d="M44 75h1v1h-1z" fill="#00f0ed"/>
<path d="M45 75h1v1h-1z" fill="#00f0ed"/>
<path d="M46 75h1v1h-1z" fill="#00f0ed"/>
<path d="M47 75h1v1h-1z" fill="#00f0ed"/>
<path d="M48 75h1v1h-1z" fill="#00f0ed"/>
<path d="M49 75h1v1h-1z" fill="#00f0ed"/>
<path d="M50 75h1v1h-1z" fill="#00f0ed"/>
<path d="M51 75h1v1h-1z" fill="#00f0ed"/>
<path d="M52 75h1v1h-1z" fill="#00f0ed"/>
<path d="M53 75h1v1h-1z" fill="#00f0ed"/>
<path d="M54 75h1v1h-1z" fill="#00f0ed"/>
<path d="M55 75h1v1h-1z" fill="#00f0ed"/>
<path d="M56 75h1v1h-1z" fill="#00f0ed"/>
<path d="M57 75h1v1h-1z" fill="#00f0ed"/>
<path d="M58 75h1v1h-1z" fill="#00f0ed"/>
<path d="M59 75h1v1h-1z" fill="#00f0ed"/>
<path d="M60 75h1v1h-1z" fill="#00f0ed"/>
<path d="M61 75h1v1h-1z" fill="#00f0ed"/>
<path d="M62 75h1v1h-1z" fill="#00f0ed"/>
<path d="M63 75h1v1h-1z" fill="#00f0ed"/>
<path d="M64 75h1v1h-1z" fill="#00f0ec"/>
<path d="M65 75h1v1h-1z" fill="#00f0ec"/>
<path d="M66 75h1v1h-1z" fill="#00f0ec"/>
<path d="M67 75h1v1h-1z" fill="#00f0ec"/>
<path d="M68 75h1v1h-1z" fill="#00f0eb"/>
<path d="M69 75h1v1h-1z" fill="#00f0eb"/>
<path d="M70 75h1v1h-1z" fill="#06f0eb"/>
<path d="M71 75h1v1h-1z" fill="#29f2ed"/>
<path d="M72 75h1v1h-1z" fill="#5ff6f1"/>
<path d="M73 75h1v1h-1z" fill="#93f9f5"/>
<path d="M74 75h1v1h-1z" fill="#b3fbf8"/>
<path d="M75 75h1v1h-1z" fill="#c0fbf9"/>
<path d="M76 75h1v1h-1z" fill="#cdfcfa"/>
<path d="M77 75h1v1h-1z" fill="#d9fdfa"/>
<path d="M78 75h1v1h-1z" fill="#e5fdfb"/>
<path d="M79 75h1v1h-1z" fill="#f0fefc"/>
<path d="M80 75h1v1h-1z" fill="#fbfffd"/>
<path d="M81 75h1v1h-1z" fill="#fff7f6"/>
<path d="M82 75h1v1h-1z" fill="#ffedec"/>
<path d="M83 75h1v1h-1z" fill="#ffe3e3"/>
<path d="M84 75h1v1h-1z" fill="#ffdada"/>
<path d="M85 75h1v1h-1z" fill="#ffd2d2"/>
<path d="M86 75h1v1h-1z" fill="#ffcbcb"/>
<path d="M87 75h1v1h-1z" fill="#ffc4c4"/>
<path d="M88 75h1v1h-1z" fill="#ffbdbe"/>
<path d="M89 75h1v1h-1z" fill="#ffb7b8"/>
<path d="M90 75h1v1h-1z" fill="#ffb1b2"/>
<path d="M91 75h1v1h-1z" fill="#ffabad"/>
<path d="M92 75h1v1h-1z" fill="#ffa6a7"/>
<path d="M93 75h1v1h-1z" fill="#ffa1a2"/>
<path d="M94 75h1v1h-1z" fill="#ff9c9e"/>
<path d="M95 75h1v1h-1z" fill="#ff9799"/>
<path d="M96 75h1v1h-1z" fill="#ff9294"/>
<path d="M97 75h1v1h-1z" fill="#ff8e90"/>
<path d="M98 75h1v1h-1z" fill="#ff8a8c"/>
<path d="M99 75h1v1h-1z" fill="#ff8688"/>
<path d="M100 75h1v1h-1z" fill="#ff8284"/>
<path d="M101 75h1v1h-1z" fill="#ff7e80"/>
<path d="M102 75h1v1h-1z" fill="#ff7a7c"/>
<path d="M103 75h1v1h-1z" fill="#ff7679"/>
<path d="M104 75h1v1h-1z" fill="#ff7375"/>
<path d="M105 75h1v1h-1z" fill="#ff6f71"/>
<path d="M106 75h1v1h-1z" fill="#ff6c6e"/>
<path d="M107 75h1v1h-1z" fill="#ff686b"/>
<path d="M108 75h1v1h-1z" fill="#ff6567"/>
<path d="M109 75h1v1h-1z" fill="#ff6264"/>
<path d="M110 75h1v1h-1z" fill="#ff5e60"/>
<path d="M111 75h1v1h-1z" fill="#ff5b5d"/>
<path d="M112 75h1v1h-1z" fill="#ff585a"/>
<path d="M113 75h1v1h-1z" fill="#ff5556"/>
<path d="M114 75h1v1h-1z" fill="#ff5153"/>
<path d="M115 75h1v1h-1z" fill="#ff4e50"/>
<path d="M116 75h1v1h-1z" fill="#ff4b4c"/>
<path d="M117 75h1v1h-1z" fill="#ff4749"/>
<path d="M118 75h1v1h-1z" fill="#ff4445"/>
<path d="M119 75h1v1h-1z" fill="#ff4142"/>
<path d="M120 75h1v1h-1z" fill="#ff3d3e"/>
<path d="M121 75h1v1h-1z" fill="#ff393a"/>
<path d="M122 75h1v1h-1z" fill="#ff3636"/>
<path d="M123 75h1v1h-1z" fill="#ff3232"/>
<path d="M124 75h1v1h-1z" fill="#ff2e2e"/>
<path d="M125 75h1v1h-1z" fill="#ff2929"/>
<path d="M126 75h1v1h-1z" fill="#ff2423"/>
<path d="M127 75h1v1h-1z" fill="#ff1f1d"/>
<path d="M128 75h1v1h-1z" fill="#ff1714"/>
<path d="M129 75h1v1h-1z" fill="#ff0f00"/>
<path d="M130 75h1v1h-1z" fill="#ff0f00"/>
<path d="M131 75h1v1h-1z" fill="#ff0e00"/>
<path d="M132 75h1v1h-1z" fill="#ff0e00"/>
<path d="M133 75h1v1h-1z" fill="#ff0e00"/>
<path d="M134 75h1v1h-1z" fill="#ff0e00"/>
<path d="M135 75h1v1h-1z" fill="#ff0d00"/>
<path d="M39 76h1v1h-1z" fill="#00eeee"/>
<path d="M40 76h1v1h-1z" fill="#00eeee"/>
<path d="M41 76h1v1h-1z" fill="#00eeee"/>
<path d="M42 76h1v1h-1z" fill="#00eeee"/>
<path d="M43 76h1v1h-1z" fill="#00eeee"/>
<path d="M44 76h1v1h-1z" fill="#00eeee"/>
<path d="M45 76h1v1h-1z" fill="#00eeee"/>
<path d="M46 76h1v1h-1z" fill="#00eeee"/>
<path d="M47 76h1v1h-1z" fill="#00eeee"/>
<path d="M48 76h1v1h-1z" fill="#00eeee"/>
<path d="M49 76h1v1h-1z" fill="#00eeee"/>
<path d="M50 76h1v1h-1z" fill="#00eeee"/>
<path d="M51 76h1v1h-1z" fill="#00eeee"/>
<path d="M52 76h1v1h-1z" fill="#00edee"/>
<path d="M53 76h1v1h-1z" fill="#00edee"/>
<path d="M54 76h1v1h-1z" fill="#00edee"/>
<path d="M55 76h1v1h-1z" fill="#00edee"/>
<path d="M56 76h1v1h-1z" fill="#00edee"/>
<path d="M57 76h1v1h-1z" fill="#00edee"/>
<path d="M58 76h1v1h-1z" fill="#00edee"/>
<path d="M59 76h1v1h-1z" fill="#00edee"/>
<path d="M60 76h1v1h-1z" fill="#00ecee"/>
<path d="M61 76h1v1h-1z" fill="#00ecee"/>
<path d="M62 76h1v1h-1z" fill="#00ecee"/>
<path d="M63 76h1v1h-1z" fill="#00ecee"/>
<path d="M64 76h1v1h-1z" fill="#00ebee"/>
<path d="M65 76h1v1h-1z" fill="#00ebee"/>
<path d="M66 76h1v1h-1z" fill="#00ebee"/>
<path d="M67 76h1v1h-1z" fill="#00e9ee"/>
<path d="M68 76h1v1h-1z" fill="#00e8ee"/>
<path d="M69 76h1v1h-1z" fill="#00e6ee"/>
<path d="M70 76h1v1h-1z" fill="#0ee6f0"/>
<path d="M71 76h1v1h-1z" fill="#38e9f2"/>
<path d="M72 76h1v1h-1z" fill="#70edf6"/>
<path d="M73 76h1v1h-1z" fill="#9ef2f9"/>
<path d="M74 76h1v1h-1z" fill="#b7f4fa"/>
<path d="M75 76h1v1h-1z" fill="#c3f5fb"/>
<path d="M76 76h1v1h-1z" fill="#cff5fc"/>
<path d="M77 76h1v1h-1z" fill="#dbf6fd"/>
<path d="M78 76h1v1h-1z" fill="#e7f6fd"/>
<path d="M79 76h1v1h-1z" fill="#f2f7fe"/>
<path d="M80 76h1v1h-1z" fill="#fdf7ff"/>
<path d="M81 76h1v1h-1z" fill="#ffeef5"/>
<path d="M82 76h1v1h-1z" fill="#ffe4ea"/>
<path d="M83 76h1v1h-1z" fill="#ffdbe1"/>
<path d="M84 76h1v1h-1z" fill="#ffd2d8"/>
<path d="M85 76h1v1h-1z" fill="#ffcbd0"/>
<path d="M86 76h1v1h-1z" fill="#ffc3c9"/>
<path d="M87 76h1v1h-1z" fill="#ffbcc2"/>
<path d="M88 76h1v1h-1z" fill="#ffb6bc"/>
<path d="M89 76h1v1h-1z" fill="#ffb0b6"/>
<path d="M90 76h1v1h-1z" fill="#ffaab0"/>
<path d="M91 76h1v1h-1z" fill="#ffa5aa"/>
<path d="M92 76h1v1h-1z" fill="#ff9fa5"/>
<path d="M93 76h1v1h-1z" fill="#ff9aa0"/>
<path d="M94 76h1v1h-1z" fill="#ff959b"/>
<path d="M95 76h1v1h-1z" fill="#ff9197"/>
<path d="M96 76h1v1h-1z" fill="#ff8c92"/>
<path d="M97 76h1v1h-1z" fill="#ff888e"/>
<path d="M98 76h1v1h-1z" fill="#ff848a"/>
<path d="M99 76h1v1h-1z" fill="#ff8086"/>
<path d="M100 76h1v1h-1z" fill="#ff7c82"/>
<path d="M101 76h1v1h-1z" fill="#ff787e"/>
<path d="M102 76h1v1h-1z" fill="#ff747a"/>
<path d="M103 76h1v1h-1z" fill="#ff7077"/>
<path d="M104 76h1v1h-1z" fill="#ff6d73"/>
<path d="M105 76h1v1h-1z" fill="#ff696f"/>
<path d="M106 76h1v1h-1z" fill="#ff666c"/>
<path d="M107 76h1v1h-1z" fill="#ff6268"/>
<path d="M108 76h1v1h-1z" fill="#ff5f65"/>
<path d="M109 76h1v1h-1z" fill="#ff5c61"/>
<path d="M110 76h1v1h-1z" fill="#ff585e"/>
<path d="M111 76h1v1h-1z" fill="#ff555b"/>
<path d="M112 76h1v1h-1z" fill="#ff5157"/>
<path d="M113 76h1v1h-1z" fill="#ff4e54"/>
<path d="M114 76h1v1h-1z" fill="#ff4b51"/>
<path d="M115 76h1v1h-1z" fill="#ff474d"/>
<path d="M116 76h1v1h-1z" fill="#ff444a"/>
<path d="M117 76h1v1h-1z" fill="#ff4046"/>
<path d="M118 76h1v1h-1z" fill="#ff3c43"/>
<path d="M119 76h1v1h-1z" fill="#ff393f"/>
<path d="M120 76h1v1h-1z" fill="#ff353b"/>
<path d="M121 76h1v1h-1z" fill="#ff3137"/>
<path d="M122 76h1v1h-1z" fill="#ff2c33"/>
<path d="M123 76h1v1h-1z" fill="#ff272f"/>
<path d="M124 76h1v1h-1z" fill="#ff222a"/>
<path d="M125 76h1v1h-1z" fill="#ff1c24"/>
<path d="M126 76h1v1h-1z" fill="#ff131e"/>
<path d="M127 76h1v1h-1z" fill="#ff0013"/>
<path d="M128 76h1v1h-1z" fill="#ff0013"/>
<path d="M129 76h1v1h-1z" fill="#ff0012"/>
<path d="M130 76h1v1h-1z" fill="#ff0012"/>
<path d="M131 76h1v1h-1z" fill="#ff0012"/>
<path d="M132 76h1v1h-1z" fill="#ff0012"/>
<path d="M133 76h1v1h-1z" fill="#ff0012"/>
<path d="M134 76h1v1h-1z" fill="#ff0011"/>
<path d="M135 76h1v1h-1z" fill="#ff0011"/>
<path d="M136 76h1v1h-1z" fill="#ff0011"/>
<path d="M39 77h1v1h-1z" fill="#00ecee"/>
<path d="M40 77h1v1h-1z" fill="#00ecee"/>
<path d="M41 77h1v1h-1z" fill="#00ecee"/>
<path d="M42 77h1v1h-1z" fill="#00ecee"/>
<path d="M43 77h1v1h-1z" fill="#00ebee"/>
<path d="M44 77h1v1h-1z" fill="#00ebee"/>
<path d="M45 77h1v1h-1z" fill="#00ebee"/>
<path d="M46 77h1v1h-1z" fill="#00ebee"/>
<path d="M47 77h1v1h-1z" fill="#00ebee"/>
<path d="M48 77h1v1h-1z" fill="#00ebee"/>
<path d="M49 77h1v1h-1z" fill="#00ebee"/>
<path d="M50 77h1v1h-1z" fill="#00eaee"/>
<path d="M51 77h1v1h-1z" fill="#00eaee"/>
<path d="M52 77h1v1h-1z" fill="#00eaee"/>
<path d="M53 77h1v1h-1z" fill="#00eaee"/>
<path d="M54 77h1v1h-1z" fill="#00e9ee"/>
<path d="M55 77h1v1h-1z" fill="#00e9ee"/>
<path d="M56 77h1v1h-1z" fill="#00e9ee"/>
<path d="M57 77h1v1h-1z" fill="#00e9ee"/>
<path d="M58 77h1v1h-1z" fill="#00e8ee"/>
<path d="M59 77h1v1h-1z" fill="#00e8ee"/>
<path d="M60 77h1v1h-1z" fill="#00e7ee"/>
<path d="M61 77h1v1h-1z" fill="#00e7ee"/>
<path d="M62 77h1v1h-1z" fill="#00e6ee"/>
<path d="M63 77h1v1h-1z" fill="#00e6ef"/>
<path d="M64 77h1v1h-1z" fill="#00e5ef"/>
<path d="M65 77h1v1h-1z" fill="#00e4ef"/>
<path d="M66 77h1v1h-1z" fill="#00e4ef"/>
<path d="M67 77h1v1h-1z" fill="#00dfef"/>
<path d="M68 77h1v1h-1z" fill="#00dcf0"/>
<path d="M69 77h1v1h-1z" fill="#01d9f1"/>
<path d="M70 77h1v1h-1z" fill="#18d9f2"/>
<path d="M71 77h1v1h-1z" fill="#44dcf4"/>
<path d="M72 77h1v1h-1z" fill="#7be3f7"/>
<path d="M73 77h1v1h-1z" fill="#a4e9f9"/>
<path d="M74 77h1v1h-1z" fill="#b9ecfb"/>
<path d="M75 77h1v1h-1z" fill="#c5ecfb"/>
<path d="M76 77h1v1h-1z" fill="#d0ecfc"/>
<path d="M77 77h1v1h-1z" fill="#dcedfd"/>
<path d="M78 77h1v1h-1z" fill="#e7edfd"/>
<path d="M79 77h1v1h-1z" fill="#eeedfe"/>
<path d="M80 77h1v1h-1z" fill="#fdedff"/>
<path d="M81 77h1v1h-1z" fill="#ffe5f5"/>
<path d="M82 77h1v1h-1z" fill="#ffdbea"/>
<path d="M83 77h1v1h-1z" fill="#ffd2e0"/>
<path d="M84 77h1v1h-1z" fill="#ffcad7"/>
<path d="M85 77h1v1h-1z" fill="#ffc3cf"/>
<path d="M86 77h1v1h-1z" fill="#ffbcc8"/>
<path d="M87 77h1v1h-1z" fill="#ffb5c1"/>
<path d="M88 77h1v1h-1z" fill="#ffafba"/>
<path d="M89 77h1v1h-1z" fill="#ffa9b4"/>
<path d="M90 77h1v1h-1z" fill="#ffa3af"/>
<path d="M91 77h1v1h-1z" fill="#ff9ea9"/>
<path d="M92 77h1v1h-1z" fill="#ff99a4"/>
<path d="M93 77h1v1h-1z" fill="#ff949f"/>
<path d="M94 77h1v1h-1z" fill="#ff8f9a"/>
<path d="M95 77h1v1h-1z" fill="#ff8a95"/>
<path d="M96 77h1v1h-1z" fill="#ff8691"/>
<path d="M97 77h1v1h-1z" fill="#ff828d"/>
<path d="M98 77h1v1h-1z" fill="#ff7e88"/>
<path d="M99 77h1v1h-1z" fill="#ff7a84"/>
<path d="M100 77h1v1h-1z" fill="#ff7680"/>
<path d="M101 77h1v1h-1z" fill="#ff727c"/>
<path d="M102 77h1v1h-1z" fill="#ff6e79"/>
<path d="M103 77h1v1h-1z" fill="#ff6a75"/>
<path d="M104 77h1v1h-1z" fill="#ff6771"/>
<path d="M105 77h1v1h-1z" fill="#ff636e"/>
<path d="M106 77h1v1h-1z" fill="#ff5f6a"/>
<path d="M107 77h1v1h-1z" fill="#ff5c67"/>
<path d="M108 77h1v1h-1z" fill="#ff5863"/>
<path d="M109 77h1v1h-1z" fill="#ff5560"/>
<path d="M110 77h1v1h-1z" fill="#ff515c"/>
<path d="M111 77h1v1h-1z" fill="#ff4e59"/>
<path d="M112 77h1v1h-1z" fill="#ff4a56"/>
<path d="M113 77h1v1h-1z" fill="#ff4752"/>
<path d="M114 77h1v1h-1z" fill="#ff434f"/>
<path d="M115 77h1v1h-1z" fill="#ff3f4b"/>
<path d="M116 77h1v1h-1z" fill="#ff3c48"/>
<path d="M117 77h1v1h-1z" fill="#ff3844"/>
<path d="M118 77h1v1h-1z" fill="#ff3440"/>
<path d="M119 77h1v1h-1z" fill="#ff2f3d"/>
<path d="M120 77h1v1h-1z" fill="#ff2b39"/>
<path d="M121 77h1v1h-1z" fill="#ff2534"/>
<path d="M122 77h1v1h-1z" fill="#ff2030"/>
<path d="M123 77h1v1h-1z" fill="#ff182b"/>
<path d="M124 77h1v1h-1z" fill="#ff0d24"/>
<path d="M125 77h1v1h-1z" fill="#ff001f"/>
<path d="M126 77h1v1h-1z" fill="#ff001f"/>
<path d="M127 77h1v1h-1z" fill="#ff001e"/>
<path d="M128 77h1v1h-1z" fill="#ff001e"/>
<path d="M129 77h1v1h-1z" fill="#ff001d"/>
<path d="M130 77h1v1h-1z" fill="#ff001d"/>
<path d="M131 77h1v1h-1z" fill="#ff001d"/>
<path d="M132 77h1v1h-1z" fill="#ff001c"/>
<path d="M133 77h1v1h-1z" fill="#ff001c"/>
<path d="M134 77h1v1h-1z" fill="#ff001c"/>
<path d="M135 77h1v1h-1z" fill="#ff001c"/>
<path d="M136 77h1v1h-1z" fill="#ff001b"/>
<path d="M137 77h1v1h-1z" fill="#ff001b"/>
<path d="M39 78h1v1h-1z" fill="#00e9ee"/>
<path d="M40 78h1v1h-1z" fill="#00e9ee"/>
<path d="M41 78h1v1h-1z" fill="#00e9ee"/>
<path d="M42 78h1v1h-1z" fill="#00e9ee"/>
<path d="M43 78h1v1h-1z" fill="#00e9ee"/>
<path d="M44 78h1v1h-1z" fill="#00e9ee"/>
<path d="M45 78h1v1h-1z" fill="#00e8ee"/>
<path d="M46 78h1v1h-1z" fill="#00e8ee"/>
<path d="M47 78h1v1h-1z" fill="#00e8ee"/>
<path d="M48 78h1v1h-1z" fill="#00e8ee"/>
<path d="M49 78h1v1h-1z" fill="#00e7ee"/>
<path d="M50 78h1v1h-1z" fill="#00e7ee"/>
<path d="M51 78h1v1h-1z" fill="#00e7ee"/>
<path d="M52 78h1v1h-1z" fill="#00e6ee"/>
<path d="M53 78h1v1h-1z" fill="#00e6ef"/>
<path d="M54 78h1v1h-1z" fill="#00e6ef"/>
<path d="M55 78h1v1h-1z" fill="#00e5ef"/>
<path d="M56 78h1v1h-1z" fill="#00e5ef"/>
<path d="M57 78h1v1h-1z" fill="#00e4ef"/>
<path d="M58 78h1v1h-1z" fill="#00e4ef"/>
<path d="M59 78h1v1h-1z" fill="#00e3ef"/>
<path d="M60 78h1v1h-1z" fill="#00e2ef"/>
<path d="M61 78h1v1h-1z" fill="#00e2ef"/>
<path d="M62 78h1v1h-1z" fill="#00e1ef"/>
<path d="M63 78h1v1h-1z" fill="#00e0ef"/>
<path d="M64 78h1v1h-1z" fill="#00dfef"/>
<path d="M65 78h1v1h-1z" fill="#00def0"/>
<path d="M66 78h1v1h-1z" fill="#00dbf0"/>
<path d="M67 78h1v1h-1z" fill="#01d5f1"/>
<path d="M68 78h1v1h-1z" fill="#02d0f3"/>
<path d="M69 78h1v1h-1z" fill="#06cbf4"/>
<path d="M70 78h1v1h-1z" fill="#24ccf5"/>
<path d="M71 78h1v1h-1z" fill="#52d2f7"/>
<path d="M72 78h1v1h-1z" fill="#85daf9"/>
<path d="M73 78h1v1h-1z" fill="#a9e1fa"/>
<path d="M74 78h1v1h-1z" fill="#bae3fb"/>
<path d="M75 78h1v1h-1z" fill="#c6e3fc"/>
<path d="M76 78h1v1h-1z" fill="#d1e4fc"/>
<path d="M77 78h1v1h-1z" fill="#dce4fd"/>
<path d="M78 78h1v1h-1z" fill="#e5e4fe"/>
<path d="M79 78h1v1h-1z" fill="#ebe3fe"/>
<path d="M80 78h1v1h-1z" fill="#fde2ff"/>
<path d="M81 78h1v1h-1z" fill="#ffdcf6"/>
<path d="M82 78h1v1h-1z" fill="#ffd3eb"/>
<path d="M83 78h1v1h-1z" fill="#ffcae1"/>
<path d="M84 78h1v1h-1z" fill="#ffc2d8"/>
<path d="M85 78h1v1h-1z" fill="#ffbbcf"/>
<path d="M86 78h1v1h-1z" fill="#ffb4c8"/>
<path d="M87 78h1v1h-1z" fill="#ffaec1"/>
<path d="M88 78h1v1h-1z" fill="#ffa8ba"/>
<path d="M89 78h1v1h-1z" fill="#ffa2b4"/>
<path d="M90 78h1v1h-1z" fill="#ff9cae"/>
<path d="M91 78h1v1h-1z" fill="#ff97a9"/>
<path d="M92 78h1v1h-1z" fill="#ff92a3"/>
<path d="M93 78h1v1h-1z" fill="#ff8d9e"/>
<path d="M94 78h1v1h-1z" fill="#ff8899"/>
<path d="M95 78h1v1h-1z" fill="#ff8495"/>
<path d="M96 78h1v1h-1z" fill="#ff8090"/>
<path d="M97 78h1v1h-1z" fill="#ff7b8c"/>
<path d="M98 78h1v1h-1z" fill="#ff7788"/>
<path d="M99 78h1v1h-1z" fill="#ff7384"/>
<path d="M100 78h1v1h-1z" fill="#ff6f80"/>
<path d="M101 78h1v1h-1z" fill="#ff6b7c"/>
<path d="M102 78h1v1h-1z" fill="#ff6878"/>
<path d="M103 78h1v1h-1z" fill="#ff6474"/>
<path d="M104 78h1v1h-1z" fill="#ff6071"/>
<path d="M105 78h1v1h-1z" fill="#ff5c6d"/>
<path d="M106 78h1v1h-1z" fill="#ff5969"/>
<path d="M107 78h1v1h-1z" fill="#ff5566"/>
<path d="M108 78h1v1h-1z" fill="#ff5262"/>
<path d="M109 78h1v1h-1z" fill="#ff4e5f"/>
<path d="M110 78h1v1h-1z" fill="#ff4a5b"/>
<path d="M111 78h1v1h-1z" fill="#ff4658"/>
<path d="M112 78h1v1h-1z" fill="#ff4355"/>
<path d="M113 78h1v1h-1z" fill="#ff3f51"/>
<path d="M114 78h1v1h-1z" fill="#ff3b4e"/>
<path d="M115 78h1v1h-1z" fill="#ff374a"/>
<path d="M116 78h1v1h-1z" fill="#ff3246"/>
<path d="M117 78h1v1h-1z" fill="#ff2e43"/>
<path d="M118 78h1v1h-1z" fill="#ff293f"/>
<path d="M119 78h1v1h-1z" fill="#ff233b"/>
<path d="M120 78h1v1h-1z" fill="#ff1d36"/>
<path d="M121 78h1v1h-1z" fill="#ff1431"/>
<path d="M122 78h1v1h-1z" fill="#ff002a"/>
<path d="M123 78h1v1h-1z" fill="#ff0029"/>
<path d="M124 78h1v1h-1z" fill="#ff0029"/>
<path d="M125 78h1v1h-1z" fill="#ff0028"/>
<path d="M126 78h1v1h-1z" fill="#ff0028"/>
<path d="M127 78h1v1h-1z" fill="#ff0027"/>
<path d="M128 78h1v1h-1z" fill="#ff0027"/>
<path d="M129 78h1v1h-1z" fill="#ff0026"/>
<path d="M130 78h1v1h-1z" fill="#ff0026"/>
<path d="M131 78h1v1h-1z" fill="#ff0025"/>
<path d="M132 78h1v1h-1z" fill="#ff0025"/>
<path d="M133 78h1v1h-1z" fill="#ff0024"/>
<path d="M134 78h1v1h-1z" fill="#ff0024"/>
<path d="M135 78h1v1h-1z" fill="#ff0024"/>
<path d="M136 78h1v1h-1z" fill="#ff0023"/>
<path d="M137 78h1v1h-1z" fill="#ff0023"/>
<path d="M138 78h1v1h-1z" fill="#ff0023"/>
<path d="M139 78h1v1h-1z" fill="#ff0022"/>
<path d="M40 79h1v1h-1z" fill="#00e7ee"/>
<path d="M41 79h1v1h-1z" fill="#00e7ee"/>
<path d="M42 79h1v1h-1z" fill="#00e6ee"/>
<path d="M43 79h1v1h-1z" fill="#00e6ef"/>
<path d="M44 79h1v1h-1z" fill="#00e6ef"/>
<path d="M45 79h1v1h-1z" fill="#00e5ef"/>
<path d="M46 79h1v1h-1z" fill="#00e5ef"/>
<path d="M47 79h1v1h-1z" fill="#00e5ef"/>
<path d="M48 79h1v1h-1z" fill="#00e4ef"/>
<path d="M49 79h1v1h-1z" fill="#00e4ef"/>
<path d="M50 79h1v1h-1z" fill="#00e4ef"/>
<path d="M51 79h1v1h-1z" fill="#00e3ef"/>
<path d="M52 79h1v1h-1z" fill="#00e3ef"/>
<path d="M53 79h1v1h-1z" fill="#00e2ef"/>
<path d="M54 79h1v1h-1z" fill="#00e2ef"/>
<path d="M55 79h1v1h-1z" fill="#00e1ef"/>
<path d="M56 79h1v1h-1z" fill="#00e0ef"/>
<path d="M57 79h1v1h-1z" fill="#00e0ef"/>
<path d="M58 79h1v1h-1z" fill="#00dfef"/>
<path d="M59 79h1v1h-1z" fill="#00def0"/>
<path d="M60 79h1v1h-1z" fill="#00ddf0"/>
<path d="M61 79h1v1h-1z" fill="#00dcf0"/>
<path d="M62 79h1v1h-1z" fill="#00dbf0"/>
<path d="M63 79h1v1h-1z" fill="#00daf0"/>
<path d="M64 79h1v1h-1z" fill="#00d8f1"/>
<path d="M65 79h1v1h-1z" fill="#00d6f1"/>
<path d="M66 79h1v1h-1z" fill="#03d0f3"/>
<path d="M67 79h1v1h-1z" fill="#05caf4"/>
<path d="M68 79h1v1h-1z" fill="#07c4f6"/>
<path d="M69 79h1v1h-1z" fill="#12bff7"/>
<path d="M70 79h1v1h-1z" fill="#33c1f8"/>
<path d="M71 79h1v1h-1z" fill="#61c9f9"/>
<path d="M72 79h1v1h-1z" fill="#8fd3fa"/>
<path d="M73 79h1v1h-1z" fill="#addafb"/>
<path d="M74 79h1v1h-1z" fill="#bcdbfc"/>
<path d="M75 79h1v1h-1z" fill="#c7dbfc"/>
<path d="M76 79h1v1h-1z" fill="#d2dbfd"/>
<path d="M77 79h1v1h-1z" fill="#dcdbfd"/>
<path d="M78 79h1v1h-1z" fill="#dfdafd"/>
<path d="M79 79h1v1h-1z" fill="#f3d9fe"/>
<path d="M80 79h1v1h-1z" fill="#fcd9ff"/>
<path d="M81 79h1v1h-1z" fill="#ffd3f7"/>
<path d="M82 79h1v1h-1z" fill="#ffcaec"/>
<path d="M83 79h1v1h-1z" fill="#ffc2e1"/>
<path d="M84 79h1v1h-1z" fill="#ffbad8"/>
<path d="M85 79h1v1h-1z" fill="#ffb3d0"/>
<path d="M86 79h1v1h-1z" fill="#ffacc8"/>
<path d="M87 79h1v1h-1z" fill="#ffa6c1"/>
<path d="M88 79h1v1h-1z" fill="#ffa0ba"/>
<path d="M89 79h1v1h-1z" fill="#ff9bb4"/>
<path d="M90 79h1v1h-1z" fill="#ff95ae"/>
<path d="M91 79h1v1h-1z" fill="#ff90a9"/>
<path d="M92 79h1v1h-1z" fill="#ff8ba3"/>
<path d="M93 79h1v1h-1z" fill="#ff869e"/>
<path d="M94 79h1v1h-1z" fill="#ff8299"/>
<path d="M95 79h1v1h-1z" fill="#ff7d95"/>
<path d="M96 79h1v1h-1z" fill="#ff7990"/>
<path d="M97 79h1v1h-1z" fill="#ff758c"/>
<path d="M98 79h1v1h-1z" fill="#ff7188"/>
<path d="M99 79h1v1h-1z" fill="#ff6c83"/>
<path d="M100 79h1v1h-1z" fill="#ff697f"/>
<path d="M101 79h1v1h-1z" fill="#ff657c"/>
<path d="M102 79h1v1h-1z" fill="#ff6178"/>
<path d="M103 79h1v1h-1z" fill="#ff5d74"/>
<path d="M104 79h1v1h-1z" fill="#ff5970"/>
<path d="M105 79h1v1h-1z" fill="#ff556d"/>
<path d="M106 79h1v1h-1z" fill="#ff5269"/>
<path d="M107 79h1v1h-1z" fill="#ff4e65"/>
<path d="M108 79h1v1h-1z" fill="#ff4a62"/>
<path d="M109 79h1v1h-1z" fill="#ff465e"/>
<path d="M110 79h1v1h-1z" fill="#ff425b"/>
<path d="M111 79h1v1h-1z" fill="#ff3e57"/>
<path d="M112 79h1v1h-1z" fill="#ff3a54"/>
<path d="M113 79h1v1h-1z" fill="#ff3650"/>
<path d="M114 79h1v1h-1z" fill="#ff314d"/>
<path d="M115 79h1v1h-1z" fill="#ff2c49"/>
<path d="M116 79h1v1h-1z" fill="#ff2745"/>
<path d="M117 79h1v1h-1z" fill="#ff2141"/>
<path d="M118 79h1v1h-1z" fill="#ff193d"/>
<path d="M119 79h1v1h-1z" fill="#ff0d38"/>
<path d="M120 79h1v1h-1z" fill="#ff0033"/>
<path d="M121 79h1v1h-1z" fill="#ff0033"/>
<path d="M122 79h1v1h-1z" fill="#ff0032"/>
<path d="M123 79h1v1h-1z" fill="#ff0031"/>
<path d="M124 79h1v1h-1z" fill="#ff0031"/>
<path d="M125 79h1v1h-1z" fill="#ff0030"/>
<path d="M126 79h1v1h-1z" fill="#ff002f"/>
<path d="M127 79h1v1h-1z" fill="#ff002f"/>
<path d="M128 79h1v1h-1z" fill="#ff002e"/>
<path d="M129 79h1v1h-1z" fill="#ff002e"/>
<path d="M130 79h1v1h-1z" fill="#ff002d"/>
<path d="M131 79h1v1h-1z" fill="#ff002d"/>
<path d="M132 79h1v1h-1z" fill="#ff002c"/>
<path d="M133 79h1v1h-1z" fill="#ff002c"/>
<path d="M134 79h1v1h-1z" fill="#ff002b"/>
<path d="M135 79h1v1h-1z" fill="#ff002b"/>
<path d="M136 79h1v1h-1z" fill="#ff002a"/>
<path d="M137 79h1v1h-1z" fill="#ff002a"/>
<path d="M138 79h1v1h-1z" fill="#ff0029"/>
<path d="M139 79h1v1h-1z" fill="#ff0029"/>
<path d="M140 79h1v1h-1z" fill="#ff0029"/>
<path d="M40 80h1v1h-1z" fill="#00e4ef"/>
<path d="M41 80h1v1h-1z" fill="#00e4ef"/>
<path d="M42 80h1v1h-1z" fill="#00e4ef"/>
<path d="M43 80h1v1h-1z" fill="#00e3ef"/>
<path d="M44 80h1v1h-1z" fill="#00e3ef"/>
<path d="M45 80h1v1h-1z" fill="#00e3ef"/>
<path d="M46 80h1v1h-1z" fill="#00e2ef"/>
<path d="M47 80h1v1h-1z" fill="#00e2ef"/>
<path d="M48 80h1v1h-1z" fill="#00e1ef"/>
<path d="M49 80h1v1h-1z" fill="#00e1ef"/>
<path d="M50 80h1v1h-1z" fill="#00e0ef"/>
<path d="M51 80h1v1h-1z" fill="#00e0ef"/>
<path d="M52 80h1v1h-1z" fill="#00dfef"/>
<path d="M53 80h1v1h-1z" fill="#00def0"/>
<path d="M54 80h1v1h-1z" fill="#00def0"/>
<path d="M55 80h1v1h-1z" fill="#00ddf0"/>
<path d="M56 80h1v1h-1z" fill="#00dcf0"/>
<path d="M57 80h1v1h-1z" fill="#00dbf0"/>
<path d="M58 80h1v1h-1z" fill="#00daf0"/>
<path d="M59 80h1v1h-1z" fill="#00d9f0"/>
<path d="M60 80h1v1h-1z" fill="#00d8f1"/>
<path d="M61 80h1v1h-1z" fill="#00d6f1"/>
<path d="M62 80h1v1h-1z" fill="#00d5f1"/>
<path d="M63 80h1v1h-1z" fill="#00d3f2"/>
<path d="M64 80h1v1h-1z" fill="#00d1f2"/>
<path d="M65 80h1v1h-1z" fill="#00cff3"/>
<path d="M66 80h1v1h-1z" fill="#08c6f5"/>
<path d="M67 80h1v1h-1z" fill="#0cbff7"/>
<path d="M68 80h1v1h-1z" fill="#0fb8f9"/>
<path d="M69 80h1v1h-1z" fill="#21b5fa"/>
<path d="M70 80h1v1h-1z" fill="#44b9fb"/>
<path d="M71 80h1v1h-1z" fill="#6fc2fb"/>
<path d="M72 80h1v1h-1z" fill="#97ccfb"/>
<path d="M73 80h1v1h-1z" fill="#b0d2fc"/>
<path d="M74 80h1v1h-1z" fill="#bdd3fc"/>
<path d="M75 80h1v1h-1z" fill="#c8d3fd"/>
<path d="M76 80h1v1h-1z" fill="#d3d2fd"/>
<path d="M77 80h1v1h-1z" fill="#d9d2fd"/>
<path d="M78 80h1v1h-1z" fill="#ded1fe"/>
<path d="M79 80h1v1h-1z" fill="#f5d0ff"/>
<path d="M80 80h1v1h-1z" fill="#fccfff"/>
<path d="M81 80h1v1h-1z" fill="#ffcaf8"/>
<path d="M82 80h1v1h-1z" fill="#ffc1ed"/>
<path d="M83 80h1v1h-1z" fill="#ffb9e2"/>
<path d="M84 80h1v1h-1z" fill="#ffb2d9"/>
<path d="M85 80h1v1h-1z" fill="#ffabd1"/>
<path d="M86 80h1v1h-1z" fill="#ffa5c9"/>
<path d="M87 80h1v1h-1z" fill="#ff9fc2"/>
<path d="M88 80h1v1h-1z" fill="#ff99bb"/>
<path d="M89 80h1v1h-1z" fill="#ff93b5"/>
<path d="M90 80h1v1h-1z" fill="#ff8eaf"/>
<path d="M91 80h1v1h-1z" fill="#ff89a9"/>
<path d="M92 80h1v1h-1z" fill="#ff84a4"/>
<path d="M93 80h1v1h-1z" fill="#ff7f9f"/>
<path d="M94 80h1v1h-1z" fill="#ff7b9a"/>
<path d="M95 80h1v1h-1z" fill="#ff7695"/>
<path d="M96 80h1v1h-1z" fill="#ff7290"/>
<path d="M97 80h1v1h-1z" fill="#ff6e8c"/>
<path d="M98 80h1v1h-1z" fill="#ff6a88"/>
<path d="M99 80h1v1h-1z" fill="#ff6584"/>
<path d="M100 80h1v1h-1z" fill="#ff6180"/>
<path d="M101 80h1v1h-1z" fill="#ff5d7c"/>
<path d="M102 80h1v1h-1z" fill="#ff5a78"/>
<path d="M103 80h1v1h-1z" fill="#ff5674"/>
<path d="M104 80h1v1h-1z" fill="#ff5270"/>
<path d="M105 80h1v1h-1z" fill="#ff4e6d"/>
<path d="M106 80h1v1h-1z" fill="#ff4a69"/>
<path d="M107 80h1v1h-1z" fill="#ff4665"/>
<path d="M108 80h1v1h-1z" fill="#ff4262"/>
<path d="M109 80h1v1h-1z" fill="#ff3d5e"/>
<path d="M110 80h1v1h-1z" fill="#ff395b"/>
<path d="M111 80h1v1h-1z" fill="#ff3457"/>
<path d="M112 80h1v1h-1z" fill="#ff3054"/>
<path d="M113 80h1v1h-1z" fill="#ff2a50"/>
<path d="M114 80h1v1h-1z" fill="#ff254c"/>
<path d="M115 80h1v1h-1z" fill="#ff1e48"/>
<path d="M116 80h1v1h-1z" fill="#ff1444"/>
<path d="M117 80h1v1h-1z" fill="#ff003d"/>
<path d="M118 80h1v1h-1z" fill="#ff003d"/>
<path d="M119 80h1v1h-1z" fill="#ff003c"/>
<path d="M120 80h1v1h-1z" fill="#ff003b"/>
<path d="M121 80h1v1h-1z" fill="#ff003a"/>
<path d="M122 80h1v1h-1z" fill="#ff0039"/>
<path d="M123 80h1v1h-1z" fill="#ff0038"/>
<path d="M124 80h1v1h-1z" fill="#ff0038"/>
<path d="M125 80h1v1h-1z" fill="#ff0037"/>
<path d="M126 80h1v1h-1z" fill="#ff0036"/>
<path d="M127 80h1v1h-1z" fill="#ff0036"/>
<path d="M128 80h1v1h-1z" fill="#ff0035"/>
<path d="M129 80h1v1h-1z" fill="#ff0034"/>
<path d="M130 80h1v1h-1z" fill="#ff0034"/>
<path d="M131 80h1v1h-1z" fill="#ff0033"/>
<path d="M132 80h1v1h-1z" fill="#ff0033"/>
<path d="M133 80h1v1h-1z" fill="#ff0032"/>
<path d="M134 80h1v1h-1z" fill="#ff0031"/>
<path d="M135 80h1v1h-1z" fill="#ff0031"/>
<path d="M136 80h1v1h-1z" fill="#ff0030"/>
<path d="M137 80h1v1h-1z" fill="#ff0030"/>
<path d="M138 80h1v1h-1z" fill="#ff002f"/>
<path d="M139 80h1v1h-1z" fill="#ff002f"/>
<path d="M140 80h1v1h-1z" fill="#ff002f"/>
<path d="M141 80h1v1h-1z" fill="#ff002e"/>
<path d="M142 80h1v1h-1z" fill="#ff002e"/>
<path d="M40 81h1v1h-1z" fill="#00e2ef"/>
<path d="M41 81h1v1h-1z" fill="#00e1ef"/>
<path d="M42 81h1v1h-1z" fill="#00e1ef"/>
<path d="M43 81h1v1h-1z" fill="#00e0ef"/>
<path d="M44 81h1v1h-1z" fill="#00e0ef"/>
<path d="M45 81h1v1h-1z" fill="#00e0ef"/>
<path d="M46 81h1v1h-1z" fill="#00dfef"/>
<path d="M47 81h1v1h-1z" fill="#00dfef"/>
<path d="M48 81h1v1h-1z" fill="#00def0"/>
<path d="M49 81h1v1h-1z" fill="#00ddf0"/>
<path d="M50 81h1v1h-1z" fill="#00ddf0"/>
<path d="M51 81h1v1h-1z" fill="#00dcf0"/>
<path d="M52 81h1v1h-1z" fill="#00dbf0"/>
<path d="M53 81h1v1h-1z" fill="#00daf0"/>
<path d="M54 81h1v1h-1z" fill="#00daf0"/>
<path d="M55 81h1v1h-1z" fill="#00d9f1"/>
<path d="M56 81h1v1h-1z" fill="#00d8f1"/>
<path d="M57 81h1v1h-1z" fill="#00d6f1"/>
<path d="M58 81h1v1h-1z" fill="#00d5f1"/>
<path d="M59 81h1v1h-1z" fill="#00d4f2"/>
<path d="M60 81h1v1h-1z" fill="#00d2f2"/>
<path d="M61 81h1v1h-1z" fill="#00d1f2"/>
<path d="M62 81h1v1h-1z" fill="#00cff3"/>
<path d="M63 81h1v1h-1z" fill="#00cdf3"/>
<path d="M64 81h1v1h-1z" fill="#00caf4"/>
<path d="M65 81h1v1h-1z" fill="#06c4f6"/>
<path d="M66 81h1v1h-1z" fill="#0fbcf8"/>
<path d="M67 81h1v1h-1z" fill="#15b5fa"/>
<path d="M68 81h1v1h-1z" fill="#1caefc"/>
<path d="M69 81h1v1h-1z" fill="#32adfc"/>
<path d="M70 81h1v1h-1z" fill="#55b2fc"/>
<path d="M71 81h1v1h-1z" fill="#7dbcfc"/>
<path d="M72 81h1v1h-1z" fill="#9ec5fc"/>
<path d="M73 81h1v1h-1z" fill="#b3cbfc"/>
<path d="M74 81h1v1h-1z" fill="#becbfd"/>
<path d="M75 81h1v1h-1z" fill="#c9cafd"/>
<path d="M76 81h1v1h-1z" fill="#d2c9fd"/>
<path d="M77 81h1v1h-1z" fill="#d6c8fe"/>
<path d="M78 81h1v1h-1z" fill="#e6c7fe"/>
<path d="M79 81h1v1h-1z" fill="#f4c6ff"/>
<path d="M80 81h1v1h-1z" fill="#fbc5ff"/>
<path d="M81 81h1v1h-1z" fill="#ffc1f9"/>
<path d="M82 81h1v1h-1z" fill="#ffb8ee"/>
<path d="M83 81h1v1h-1z" fill="#ffb1e3"/>
<path d="M84 81h1v1h-1z" fill="#ffaada"/>
<path d="M85 81h1v1h-1z" fill="#ffa3d2"/>
<path d="M86 81h1v1h-1z" fill="#ff9dca"/>
<path d="M87 81h1v1h-1z" fill="#ff97c3"/>
<path d="M88 81h1v1h-1z" fill="#ff91bc"/>
<path d="M89 81h1v1h-1z" fill="#ff8cb6"/>
<path d="M90 81h1v1h-1z" fill="#ff87b0"/>
<path d="M91 81h1v1h-1z" fill="#ff82aa"/>
<path d="M92 81h1v1h-1z" fill="#ff7da5"/>
<path d="M93 81h1v1h-1z" fill="#ff789f"/>
<path d="M94 81h1v1h-1z" fill="#ff749a"/>
<path d="M95 81h1v1h-1z" fill="#ff6f96"/>
<path d="M96 81h1v1h-1z" fill="#ff6b91"/>
<path d="M97 81h1v1h-1z" fill="#ff668d"/>
<path d="M98 81h1v1h-1z" fill="#ff6288"/>
<path d="M99 81h1v1h-1z" fill="#ff5e84"/>
<path d="M100 81h1v1h-1z" fill="#ff5a80"/>
<path d="M101 81h1v1h-1z" fill="#ff567c"/>
<path d="M102 81h1v1h-1z" fill="#ff5278"/>
<path d="M103 81h1v1h-1z" fill="#ff4e74"/>
<path d="M104 81h1v1h-1z" fill="#ff4a71"/>
<path d="M105 81h1v1h-1z" fill="#ff456d"/>
<path d="M106 81h1v1h-1z" fill="#ff4169"/>
<path d="M107 81h1v1h-1z" fill="#ff3d66"/>
<path d="M108 81h1v1h-1z" fill="#ff3862"/>
<path d="M109 81h1v1h-1z" fill="#ff335e"/>
<path d="M110 81h1v1h-1z" fill="#ff2e5b"/>
<path d="M111 81h1v1h-1z" fill="#ff2857"/>
<path d="M112 81h1v1h-1z" fill="#ff2253"/>
<path d="M113 81h1v1h-1z" fill="#ff1a4f"/>
<path d="M114 81h1v1h-1z" fill="#ff0d4a"/>
<path d="M115 81h1v1h-1z" fill="#ff0047"/>
<path d="M116 81h1v1h-1z" fill="#ff0045"/>
<path d="M117 81h1v1h-1z" fill="#ff0044"/>
<path d="M118 81h1v1h-1z" fill="#ff0043"/>
<path d="M119 81h1v1h-1z" fill="#ff0042"/>
<path d="M120 81h1v1h-1z" fill="#ff0041"/>
<path d="M121 81h1v1h-1z" fill="#ff0041"/>
<path d="M122 81h1v1h-1z" fill="#ff0040"/>
<path d="M123 81h1v1h-1z" fill="#ff003f"/>
<path d="M124 81h1v1h-1z" fill="#ff003e"/>
<path d="M125 81h1v1h-1z" fill="#ff003d"/>
<path d="M126 81h1v1h-1z" fill="#ff003c"/>
<path d="M127 81h1v1h-1z" fill="#ff003c"/>
<path d="M128 81h1v1h-1z" fill="#ff003b"/>
<path d="M129 81h1v1h-1z" fill="#ff003a"/>
<path d="M130 81h1v1h-1z" fill="#ff003a"/>
<path d="M131 81h1v1h-1z" fill="#ff0039"/>
<path d="M132 81h1v1h-1z" fill="#ff0038"/>
<path d="M133 81h1v1h-1z" fill="#ff0038"/>
<path d="M134 81h1v1h-1z" fill="#ff0037"/>
<path d="M135 81h1v1h-1z" fill="#ff0037"/>
<path d="M136 81h1v1h-1z" fill="#ff0036"/>
<path d="M137 81h1v1h-1z" fill="#ff0036"/>
<path d="M138 81h1v1h-1z" fill="#ff0035"/>
<path d="M139 81h1v1h-1z" fill="#ff0034"/>
<path d="M140 81h1v1h-1z" fill="#ff0034"/>
<path d="M141 81h1v1h-1z" fill="#ff0033"/>
<path d="M142 81h1v1h-1z" fill="#ff0033"/>
<path d="M143 81h1v1h-1z" fill="#ff0033"/>
<path d="M41 82h1v1h-1z" fill="#00dfef"/>
<path d="M42 82h1v1h-1z" fill="#00def0"/>
<path d="M43 82h1v1h-1z" fill="#00def0"/>
<path d="M44 82h1v1h-1z" fill="#00ddf0"/>
<path d="M45 82h1v1h-1z" fill="#00ddf0"/>
<path d="M46 82h1v1h-1z" fill="#00dcf0"/>
<path d="M47 82h1v1h-1z" fill="#00dbf0"/>
<path d="M48 82h1v1h-1z" fill="#00dbf0"/>
<path d="M49 82h1v1h-1z" fill="#00daf0"/>
<path d="M50 82h1v1h-1z" fill="#00d9f0"/>
<path d="M51 82h1v1h-1z" fill="#00d8f1"/>
<path d="M52 82h1v1h-1z" fill="#00d7f1"/>
<path d="M53 82h1v1h-1z" fill="#00d6f1"/>
<path d="M54 82h1v1h-1z" fill="#00d5f1"/>
<path d="M55 82h1v1h-1z" fill="#00d4f1"/>
<path d="M56 82h1v1h-1z" fill="#00d3f2"/>
<path d="M57 82h1v1h-1z" fill="#00d2f2"/>
<path d="M58 82h1v1h-1z" fill="#00d0f2"/>
<path d="M59 82h1v1h-1z" fill="#00cff3"/>
<path d="M60 82h1v1h-1z" fill="#00cdf3"/>
<path d="M61 82h1v1h-1z" fill="#00cbf4"/>
<path d="M62 82h1v1h-1z" fill="#00c9f4"/>
<path d="M63 82h1v1h-1z" fill="#00c6f5"/>
<path d="M64 82h1v1h-1z" fill="#00c3f6"/>
<path d="M65 82h1v1h-1z" fill="#0fbaf9"/>
<path d="M66 82h1v1h-1z" fill="#19b3fb"/>
<path d="M67 82h1v1h-1z" fill="#20acfc"/>
<path d="M68 82h1v1h-1z" fill="#2ba6fd"/>
<path d="M69 82h1v1h-1z" fill="#44a7fe"/>
<path d="M70 82h1v1h-1z" fill="#65adfd"/>
<path d="M71 82h1v1h-1z" fill="#88b6fd"/>
<path d="M72 82h1v1h-1z" fill="#a4bffd"/>
<path d="M73 82h1v1h-1z" fill="#b5c3fd"/>
<path d="M74 82h1v1h-1z" fill="#c0c3fd"/>
<path d="M75 82h1v1h-1z" fill="#cbc2fe"/>
<path d="M76 82h1v1h-1z" fill="#d1c1fe"/>
<path d="M77 82h1v1h-1z" fill="#d8bffe"/>
<path d="M78 82h1v1h-1z" fill="#ecbeff"/>
<path d="M79 82h1v1h-1z" fill="#f4bdff"/>
<path d="M80 82h1v1h-1z" fill="#fbbcff"/>
<path d="M81 82h1v1h-1z" fill="#ffb7fa"/>
<path d="M82 82h1v1h-1z" fill="#ffb0ef"/>
<path d="M83 82h1v1h-1z" fill="#ffa8e4"/>
<path d="M84 82h1v1h-1z" fill="#ffa2db"/>
<path d="M85 82h1v1h-1z" fill="#ff9bd3"/>
<path d="M86 82h1v1h-1z" fill="#ff95cb"/>
<path d="M87 82h1v1h-1z" fill="#ff8fc4"/>
<path d="M88 82h1v1h-1z" fill="#ff8abd"/>
<path d="M89 82h1v1h-1z" fill="#ff84b7"/>
<path d="M90 82h1v1h-1z" fill="#ff7fb1"/>
<path d="M91 82h1v1h-1z" fill="#ff7aab"/>
<path d="M92 82h1v1h-1z" fill="#ff75a5"/>
<path d="M93 82h1v1h-1z" fill="#ff71a0"/>
<path d="M94 82h1v1h-1z" fill="#ff6c9b"/>
<path d="M95 82h1v1h-1z" fill="#ff6896"/>
<path d="M96 82h1v1h-1z" fill="#ff6392"/>
<path d="M97 82h1v1h-1z" fill="#ff5f8d"/>
<path d="M98 82h1v1h-1z" fill="#ff5a89"/>
<path d="M99 82h1v1h-1z" fill="#ff5685"/>
<path d="M100 82h1v1h-1z" fill="#ff5281"/>
<path d="M101 82h1v1h-1z" fill="#ff4e7d"/>
<path d="M102 82h1v1h-1z" fill="#ff4979"/>
<path d="M103 82h1v1h-1z" fill="#ff4575"/>
<path d="M104 82h1v1h-1z" fill="#ff4071"/>
<path d="M105 82h1v1h-1z" fill="#ff3c6d"/>
<path d="M106 82h1v1h-1z" fill="#ff376a"/>
<path d="M107 82h1v1h-1z" fill="#ff3266"/>
<path d="M108 82h1v1h-1z" fill="#ff2c62"/>
<path d="M109 82h1v1h-1z" fill="#ff265e"/>
<path d="M110 82h1v1h-1z" fill="#ff1f5a"/>
<path d="M111 82h1v1h-1z" fill="#ff1556"/>
<path d="M112 82h1v1h-1z" fill="#ff0051"/>
<path d="M113 82h1v1h-1z" fill="#ff004f"/>
<path d="M114 82h1v1h-1z" fill="#ff004e"/>
<path d="M115 82h1v1h-1z" fill="#ff004d"/>
<path d="M116 82h1v1h-1z" fill="#ff004c"/>
<path d="M117 82h1v1h-1z" fill="#ff004b"/>
<path d="M118 82h1v1h-1z" fill="#ff004a"/>
<path d="M119 82h1v1h-1z" fill="#ff0049"/>
<path d="M120 82h1v1h-1z" fill="#ff0048"/>
<path d="M121 82h1v1h-1z" fill="#ff0047"/>
<path d="M122 82h1v1h-1z" fill="#ff0046"/>
<path d="M123 82h1v1h-1z" fill="#ff0045"/>
<path d="M124 82h1v1h-1z" fill="#ff0044"/>
<path d="M125 82h1v1h-1z" fill="#ff0043"/>
<path d="M126 82h1v1h-1z" fill="#ff0042"/>
<path d="M127 82h1v1h-1z" fill="#ff0041"/>
<path d="M128 82h1v1h-1z" fill="#ff0041"/>
<path d="M129 82h1v1h-1z" fill="#ff0040"/>
<path d="M130 82h1v1h-1z" fill="#ff003f"/>
<path d="M131 82h1v1h-1z" fill="#ff003e"/>
<path d="M132 82h1v1h-1z" fill="#ff003e"/>
<path d="M133 82h1v1h-1z" fill="#ff003d"/>
<path d="M134 82h1v1h-1z" fill="#ff003c"/>
<path d="M135 82h1v1h-1z" fill="#ff003c"/>
<path d="M136 82h1v1h-1z" fill="#ff003b"/>
<path d="M137 82h1v1h-1z" fill="#ff003b"/>
<path d="M138 82h1v1h-1z" fill="#ff003a"/>
<path d="M139 82h1v1h-1z" fill="#ff0039"/>
<path d="M140 82h1v1h-1z" fill="#ff0039"/>
<path d="M141 82h1v1h-1z" fill="#ff0038"/>
<path d="M142 82h1v1h-1z" fill="#ff0038"/>
<path d="M143 82h1v1h-1z" fill="#ff0037"/>
<path d="M144 82h1v1h-1z" fill="#ff0037"/>
<path d="M41 83h1v1h-1z" fill="#00dcf0"/>
<path d="M42 83h1v1h-1z" fill="#00dbf0"/>
<path d="M43 83h1v1h-1z" fill="#00dbf0"/>
<path d="M44 83h1v1h-1z" fill="#00daf0"/>
<path d="M45 83h1v1h-1z" fill="#00daf0"/>
<path d="M46 83h1v1h-1z" fill="#00d9f0"/>
<path d="M47 83h1v1h-1z" fill="#00d8f1"/>
<path d="M48 83h1v1h-1z" fill="#00d7f1"/>
<path d="M49 83h1v1h-1z" fill="#00d6f1"/>
<path d="M50 83h1v1h-1z" fill="#00d6f1"/>
<path d="M51 83h1v1h-1z" fill="#00d5f1"/>
<path d="M52 83h1v1h-1z" fill="#00d4f2"/>
<path d="M53 83h1v1h-1z" fill="#00d2f2"/>
<path d="M54 83h1v1h-1z" fill="#00d1f2"/>
<path d="M55 83h1v1h-1z" fill="#00d0f2"/>
<path d="M56 83h1v1h-1z" fill="#00cef3"/>
<path d="M57 83h1v1h-1z" fill="#00cdf3"/>
<path d="M58 83h1v1h-1z" fill="#00cbf4"/>
<path d="M59 83h1v1h-1z" fill="#00c9f4"/>
<path d="M60 83h1v1h-1z" fill="#00c7f5"/>
<path d="M61 83h1v1h-1z" fill="#00c5f5"/>
<path d="M62 83h1v1h-1z" fill="#00c2f6"/>
<path d="M63 83h1v1h-1z" fill="#00bff7"/>
<path d="M64 83h1v1h-1z" fill="#00bcf8"/>
<path d="M65 83h1v1h-1z" fill="#19b1fb"/>
<path d="M66 83h1v1h-1z" fill="#24abfd"/>
<path d="M67 83h1v1h-1z" fill="#2da4fe"/>
<path d="M68 83h1v1h-1z" fill="#3ca0fe"/>
<path d="M69 83h1v1h-1z" fill="#56a2fe"/>
<path d="M70 83h1v1h-1z" fill="#74a9fe"/>
<path d="M71 83h1v1h-1z" fill="#91b2fe"/>
<path d="M72 83h1v1h-1z" fill="#a8b9fd"/>
<path d="M73 83h1v1h-1z" fill="#b7bbfe"/>
<path d="M74 83h1v1h-1z" fill="#c3bafe"/>
<path d="M75 83h1v1h-1z" fill="#cbb9fe"/>
<path d="M76 83h1v1h-1z" fill="#d2b8fe"/>
<path d="M77 83h1v1h-1z" fill="#dfb6fe"/>
<path d="M78 83h1v1h-1z" fill="#edb5ff"/>
<path d="M79 83h1v1h-1z" fill="#f4b4ff"/>
<path d="M80 83h1v1h-1z" fill="#fbb2ff"/>
<path d="M81 83h1v1h-1z" fill="#ffaefb"/>
<path d="M82 83h1v1h-1z" fill="#ffa7f0"/>
<path d="M83 83h1v1h-1z" fill="#ffa0e6"/>
<path d="M84 83h1v1h-1z" fill="#ff99dc"/>
<path d="M85 83h1v1h-1z" fill="#ff93d4"/>
<path d="M86 83h1v1h-1z" fill="#ff8dcc"/>
<path d="M87 83h1v1h-1z" fill="#ff87c5"/>
<path d="M88 83h1v1h-1z" fill="#ff82be"/>
<path d="M89 83h1v1h-1z" fill="#ff7cb8"/>
<path d="M90 83h1v1h-1z" fill="#ff77b2"/>
<path d="M91 83h1v1h-1z" fill="#ff72ac"/>
<path d="M92 83h1v1h-1z" fill="#ff6da6"/>
<path d="M93 83h1v1h-1z" fill="#ff69a1"/>
<path d="M94 83h1v1h-1z" fill="#ff649c"/>
<path d="M95 83h1v1h-1z" fill="#ff5f97"/>
<path d="M96 83h1v1h-1z" fill="#ff5b93"/>
<path d="M97 83h1v1h-1z" fill="#ff568e"/>
<path d="M98 83h1v1h-1z" fill="#ff528a"/>
<path d="M99 83h1v1h-1z" fill="#ff4d86"/>
<path d="M100 83h1v1h-1z" fill="#ff4981"/>
<path d="M101 83h1v1h-1z" fill="#ff447d"/>
<path d="M102 83h1v1h-1z" fill="#ff4079"/>
<path d="M103 83h1v1h-1z" fill="#ff3b76"/>
<path d="M104 83h1v1h-1z" fill="#ff3672"/>
<path d="M105 83h1v1h-1z" fill="#ff306e"/>
<path d="M106 83h1v1h-1z" fill="#ff2a6a"/>
<path d="M107 83h1v1h-1z" fill="#ff2366"/>
<path d="M108 83h1v1h-1z" fill="#ff1b62"/>
<path d="M109 83h1v1h-1z" fill="#ff0e5d"/>
<path d="M110 83h1v1h-1z" fill="#ff005a"/>
<path d="M111 83h1v1h-1z" fill="#ff0058"/>
<path d="M112 83h1v1h-1z" fill="#ff0057"/>
<path d="M113 83h1v1h-1z" fill="#ff0055"/>
<path d="M114 83h1v1h-1z" fill="#ff0054"/>
<path d="M115 83h1v1h-1z" fill="#ff0053"/>
<path d="M116 83h1v1h-1z" fill="#ff0052"/>
<path d="M117 83h1v1h-1z" fill="#ff0050"/>
<path d="M118 83h1v1h-1z" fill="#ff004f"/>
<path d="M119 83h1v1h-1z" fill="#ff004e"/>
<path d="M120 83h1v1h-1z" fill="#ff004d"/>
<path d="M121 83h1v1h-1z" fill="#ff004c"/>
<path d="M122 83h1v1h-1z" fill="#ff004b"/>
<path d="M123 83h1v1h-1z" fill="#ff004a"/>
<path d="M124 83h1v1h-1z" fill="#ff0049"/>
<path d="M125 83h1v1h-1z" fill="#ff0048"/>
<path d="M126 83h1v1h-1z" fill="#ff0047"/>
<path d="M127 83h1v1h-1z" fill="#ff0047"/>
<path d="M128 83h1v1h-1z" fill="#ff0046"/>
<path d="M129 83h1v1h-1z" fill="#ff0045"/>
<path d="M130 83h1v1h-1z" fill="#ff0044"/>
<path d="M131 83h1v1h-1z" fill="#ff0043"/>
<path d="M132 83h1v1h-1z" fill="#ff0043"/>
<path d="M133 83h1v1h-1z" fill="#ff0042"/>
<path d="M134 83h1v1h-1z" fill="#ff0041"/>
<path d="M135 83h1v1h-1z" fill="#ff0041"/>
<path d="M136 83h1v1h-1z" fill="#ff0040"/>
<path d="M137 83h1v1h-1z" fill="#ff003f"/>
<path d="M138 83h1v1h-1z" fill="#ff003f"/>
<path d="M139 83h1v1h-1z" fill="#ff003e"/>
<path d="M140 83h1v1h-1z" fill="#ff003e"/>
<path d="M141 83h1v1h-1z" fill="#ff003d"/>
<path d="M142 83h1v1h-1z" fill="#ff003c"/>
<path d="M143 83h1v1h-1z" fill="#ff003c"/>
<path d="M41 84h1v1h-1z" fill="#00d9f0"/>
<path d="M42 84h1v1h-1z" fill="#00d9f1"/>
<path d="M43 84h1v1h-1z" fill="#00d8f1"/>
<path d="M44 84h1v1h-1z" fill="#00d7f1"/>
<path d="M45 84h1v1h-1z" fill="#00d6f1"/>
<path d="M46 84h1v1h-1z" fill="#00d6f1"/>
<path d="M47 84h1v1h-1z" fill="#00d5f1"/>
<path d="M48 84h1v1h-1z" fill="#00d4f2"/>
<path d="M49 84h1v1h-1z" fill="#00d3f2"/>
<path d="M50 84h1v1h-1z" fill="#00d2f2"/>
<path d="M51 84h1v1h-1z" fill="#00d1f2"/>
<path d="M52 84h1v1h-1z" fill="#00d0f3"/>
<path d="M53 84h1v1h-1z" fill="#00cef3"/>
<path d="M54 84h1v1h-1z" fill="#00cdf3"/>
<path d="M55 84h1v1h-1z" fill="#00cbf4"/>
<path d="M56 84h1v1h-1z" fill="#00caf4"/>
<path d="M57 84h1v1h-1z" fill="#00c8f4"/>
<path d="M58 84h1v1h-1z" fill="#00c6f5"/>
<path d="M59 84h1v1h-1z" fill="#00c4f6"/>
<path d="M60 84h1v1h-1z" fill="#00c1f6"/>
<path d="M61 84h1v1h-1z" fill="#00bef7"/>
<path d="M62 84h1v1h-1z" fill="#00bbf8"/>
<path d="M63 84h1v1h-1z" fill="#00b8f9"/>
<path d="M64 84h1v1h-1z" fill="#13b0fb"/>
<path d="M65 84h1v1h-1z" fill="#24a9fd"/>
<path d="M66 84h1v1h-1z" fill="#31a4fe"/>
<path d="M67 84h1v1h-1z" fill="#3c9efe"/>
<path d="M68 84h1v1h-1z" fill="#4e9cff"/>
<path d="M69 84h1v1h-1z" fill="#669fff"/>
<path d="M70 84h1v1h-1z" fill="#80a5fe"/>
<path d="M71 84h1v1h-1z" fill="#99adfe"/>
<path d="M72 84h1v1h-1z" fill="#acb2fe"/>
<path d="M73 84h1v1h-1z" fill="#bab3fe"/>
<path d="M74 84h1v1h-1z" fill="#c5b2fe"/>
<path d="M75 84h1v1h-1z" fill="#cdb0fe"/>
<path d="M76 84h1v1h-1z" fill="#d5afff"/>
<path d="M77 84h1v1h-1z" fill="#e4adff"/>
<path d="M78 84h1v1h-1z" fill="#edacff"/>
<path d="M79 84h1v1h-1z" fill="#f4aaff"/>
<path d="M80 84h1v1h-1z" fill="#fba8ff"/>
<path d="M81 84h1v1h-1z" fill="#ffa5fc"/>
<path d="M82 84h1v1h-1z" fill="#ff9ef1"/>
<path d="M83 84h1v1h-1z" fill="#ff97e7"/>
<path d="M84 84h1v1h-1z" fill="#ff90de"/>
<path d="M85 84h1v1h-1z" fill="#ff8ad5"/>
<path d="M86 84h1v1h-1z" fill="#ff84cd"/>
<path d="M87 84h1v1h-1z" fill="#ff7fc6"/>
<path d="M88 84h1v1h-1z" fill="#ff79bf"/>
<path d="M89 84h1v1h-1z" fill="#ff74b9"/>
<path d="M90 84h1v1h-1z" fill="#ff6fb3"/>
<path d="M91 84h1v1h-1z" fill="#ff6aad"/>
<path d="M92 84h1v1h-1z" fill="#ff65a8"/>
<path d="M93 84h1v1h-1z" fill="#ff60a2"/>
<path d="M94 84h1v1h-1z" fill="#ff5b9d"/>
<path d="M95 84h1v1h-1z" fill="#ff5798"/>
<path d="M96 84h1v1h-1z" fill="#ff5294"/>
<path d="M97 84h1v1h-1z" fill="#ff4d8f"/>
<path d="M98 84h1v1h-1z" fill="#ff498b"/>
<path d="M99 84h1v1h-1z" fill="#ff4487"/>
<path d="M100 84h1v1h-1z" fill="#ff3f82"/>
<path d="M101 84h1v1h-1z" fill="#ff3a7e"/>
<path d="M102 84h1v1h-1z" fill="#ff347a"/>
<path d="M103 84h1v1h-1z" fill="#ff2e76"/>
<path d="M104 84h1v1h-1z" fill="#ff2872"/>
<path d="M105 84h1v1h-1z" fill="#ff206e"/>
<path d="M106 84h1v1h-1z" fill="#ff166a"/>
<path d="M107 84h1v1h-1z" fill="#ff0065"/>
<path d="M108 84h1v1h-1z" fill="#ff0063"/>
<path d="M109 84h1v1h-1z" fill="#ff0061"/>
<path d="M110 84h1v1h-1z" fill="#ff0060"/>
<path d="M111 84h1v1h-1z" fill="#ff005e"/>
<path d="M112 84h1v1h-1z" fill="#ff005c"/>
<path d="M113 84h1v1h-1z" fill="#ff005b"/>
<path d="M114 84h1v1h-1z" fill="#ff005a"/>
<path d="M115 84h1v1h-1z" fill="#ff0058"/>
<path d="M116 84h1v1h-1z" fill="#ff0057"/>
<path d="M117 84h1v1h-1z" fill="#ff0056"/>
<path d="M118 84h1v1h-1z" fill="#ff0055"/>
<path d="M119 84h1v1h-1z" fill="#ff0053"/>
<path d="M120 84h1v1h-1z" fill="#ff0052"/>
<path d="M121 84h1v1h-1z" fill="#ff0051"/>
<path d="M122 84h1v1h-1z" fill="#ff0050"/>
<path d="M123 84h1v1h-1z" fill="#ff004f"/>
<path d="M124 84h1v1h-1z" fill="#ff004e"/>
<path d="M125 84h1v1h-1z" fill="#ff004d"/>
<path d="M126 84h1v1h-1z" fill="#ff004c"/>
<path d="M127 84h1v1h-1z" fill="#ff004b"/>
<path d="M128 84h1v1h-1z" fill="#ff004b"/>
<path d="M129 84h1v1h-1z" fill="#ff004a"/>
<path d="M130 84h1v1h-1z" fill="#ff0049"/>
<path d="M131 84h1v1h-1z" fill="#ff0048"/>
<path d="M132 84h1v1h-1z" fill="#ff0047"/>
<path d="M133 84h1v1h-1z" fill="#ff0047"/>
<path d="M134 84h1v1h-1z" fill="#ff0046"/>
<path d="M135 84h1v1h-1z" fill="#ff0045"/>
<path d="M136 84h1v1h-1z" fill="#ff0044"/>
<path d="M137 84h1v1h-1z" fill="#ff0044"/>
<path d="M138 84h1v1h-1z" fill="#ff0043"/>
<path d="M139 84h1v1h-1z" fill="#ff0042"/>
<path d="M140 84h1v1h-1z" fill="#ff0042"/>
<path d="M141 84h1v1h-1z" fill="#ff0041"/>
<path d="M42 85h1v1h-1z" fill="#00d6f1"/>
<path d="M43 85h1v1h-1z" fill="#00d5f1"/>
<path d="M44 85h1v1h-1z" fill="#00d4f1"/>
<path d="M45 85h1v1h-1z" fill="#00d3f2"/>
<path d="M46 85h1v1h-1z" fill="#00d2f2"/>
<path d="M47 85h1v1h-1z" fill="#00d1f2"/>
<path d="M48 85h1v1h-1z" fill="#00d0f2"/>
<path d="M49 85h1v1h-1z" fill="#00cff3"/>
<path d="M50 85h1v1h-1z" fill="#00cef3"/>
<path d="M51 85h1v1h-1z" fill="#00cdf3"/>
<path d="M52 85h1v1h-1z" fill="#00ccf3"/>
<path d="M53 85h1v1h-1z" fill="#00caf4"/>
<path d="M54 85h1v1h-1z" fill="#00c8f4"/>
<path d="M55 85h1v1h-1z" fill="#00c7f5"/>
<path d="M56 85h1v1h-1z" fill="#00c5f5"/>
<path d="M57 85h1v1h-1z" fill="#00c3f6"/>
<path d="M58 85h1v1h-1z" fill="#00c0f6"/>
<path d="M59 85h1v1h-1z" fill="#00bef7"/>
<path d="M60 85h1v1h-1z" fill="#00bbf8"/>
<path d="M61 85h1v1h-1z" fill="#00b8f9"/>
<path d="M62 85h1v1h-1z" fill="#00b4fa"/>
<path d="M63 85h1v1h-1z" fill="#00b0fb"/>
<path d="M64 85h1v1h-1z" fill="#20a8fd"/>
<path d="M65 85h1v1h-1z" fill="#31a3fe"/>
<path d="M66 85h1v1h-1z" fill="#3e9efe"/>
<path d="M67 85h1v1h-1z" fill="#4b9aff"/>
<path d="M68 85h1v1h-1z" fill="#5e9aff"/>
<path d="M69 85h1v1h-1z" fill="#749dff"/>
<path d="M70 85h1v1h-1z" fill="#8ba2ff"/>
<path d="M71 85h1v1h-1z" fill="#9fa8fe"/>
<path d="M72 85h1v1h-1z" fill="#afabfe"/>
<path d="M73 85h1v1h-1z" fill="#beaaff"/>
<path d="M74 85h1v1h-1z" fill="#c8a8ff"/>
<path d="M75 85h1v1h-1z" fill="#d0a7ff"/>
<path d="M76 85h1v1h-1z" fill="#dba6ff"/>
<path d="M77 85h1v1h-1z" fill="#e6a4ff"/>
<path d="M78 85h1v1h-1z" fill="#eea3ff"/>
<path d="M79 85h1v1h-1z" fill="#f4a1ff"/>
<path d="M80 85h1v1h-1z" fill="#fa9fff"/>
<path d="M81 85h1v1h-1z" fill="#ff9cfd"/>
<path d="M82 85h1v1h-1z" fill="#ff95f2"/>
<path d="M83 85h1v1h-1z" fill="#ff8ee8"/>
<path d="M84 85h1v1h-1z" fill="#ff88df"/>
<path d="M85 85h1v1h-1z" fill="#ff82d6"/>
<path d="M86 85h1v1h-1z" fill="#ff7ccf"/>
<path d="M87 85h1v1h-1z" fill="#ff76c7"/>
<path d="M88 85h1v1h-1z" fill="#ff71c1"/>
<path d="M89 85h1v1h-1z" fill="#ff6bba"/>
<path d="M90 85h1v1h-1z" fill="#ff66b4"/>
<path d="M91 85h1v1h-1z" fill="#ff61ae"/>
<path d="M92 85h1v1h-1z" fill="#ff5ca9"/>
<path d="M93 85h1v1h-1z" fill="#ff57a3"/>
<path d="M94 85h1v1h-1z" fill="#ff529e"/>
<path d="M95 85h1v1h-1z" fill="#ff4d9a"/>
<path d="M96 85h1v1h-1z" fill="#ff4895"/>
<path d="M97 85h1v1h-1z" fill="#ff4390"/>
<path d="M98 85h1v1h-1z" fill="#ff3e8c"/>
<path d="M99 85h1v1h-1z" fill="#ff3887"/>
<path d="M100 85h1v1h-1z" fill="#ff3383"/>
<path d="M101 85h1v1h-1z" fill="#ff2c7f"/>
<path d="M102 85h1v1h-1z" fill="#ff257b"/>
<path d="M103 85h1v1h-1z" fill="#ff1c76"/>
<path d="M104 85h1v1h-1z" fill="#ff0e72"/>
<path d="M105 85h1v1h-1z" fill="#ff006e"/>
<path d="M106 85h1v1h-1z" fill="#ff006c"/>
<path d="M107 85h1v1h-1z" fill="#ff006a"/>
<path d="M108 85h1v1h-1z" fill="#ff0068"/>
<path d="M109 85h1v1h-1z" fill="#ff0067"/>
<path d="M110 85h1v1h-1z" fill="#ff0065"/>
<path d="M111 85h1v1h-1z" fill="#ff0063"/>
<path d="M112 85h1v1h-1z" fill="#ff0062"/>
<path d="M113 85h1v1h-1z" fill="#ff0060"/>
<path d="M114 85h1v1h-1z" fill="#ff005f"/>
<path d="M115 85h1v1h-1z" fill="#ff005d"/>
<path d="M116 85h1v1h-1z" fill="#ff005c"/>
<path d="M117 85h1v1h-1z" fill="#ff005b"/>
<path d="M118 85h1v1h-1z" fill="#ff0059"/>
<path d="M119 85h1v1h-1z" fill="#ff0058"/>
<path d="M120 85h1v1h-1z" fill="#ff0057"/>
<path d="M121 85h1v1h-1z" fill="#ff0056"/>
<path d="M122 85h1v1h-1z" fill="#ff0055"/>
<path d="M123 85h1v1h-1z" fill="#ff0054"/>
<path d="M124 85h1v1h-1z" fill="#ff0053"/>
<path d="M125 85h1v1h-1z" fill="#ff0052"/>
<path d="M126 85h1v1h-1z" fill="#ff0051"/>
<path d="M127 85h1v1h-1z" fill="#ff0050"/>
<path d="M128 85h1v1h-1z" fill="#ff004f"/>
<path d="M129 85h1v1h-1z" fill="#ff004e"/>
<path d="M130 85h1v1h-1z" fill="#ff004d"/>
<path d="M131 85h1v1h-1z" fill="#ff004c"/>
<path d="M132 85h1v1h-1z" fill="#ff004c"/>
<path d="M133 85h1v1h-1z" fill="#ff004b"/>
<path d="M134 85h1v1h-1z" fill="#ff004a"/>
<path d="M135 85h1v1h-1z" fill="#ff0049"/>
<path d="M136 85h1v1h-1z" fill="#ff0049"/>
<path d="M137 85h1v1h-1z" fill="#ff0048"/>
<path d="M138 85h1v1h-1z" fill="#ff0047"/>
<path d="M42 86h1v1h-1z" fill="#00d3f2"/>
<path d="M43 86h1v1h-1z" fill="#00d2f2"/>
<path d="M44 86h1v1h-1z" fill="#00d1f2"/>
<path d="M45 86h1v1h-1z" fill="#00d0f2"/>
<path d="M46 86h1v1h-1z" fill="#00cff3"/>
<path d="M47 86h1v1h-1z" fill="#00cef3"/>
<path d="M48 86h1v1h-1z" fill="#00cdf3"/>
<path d="M49 86h1v1h-1z" fill="#00ccf3"/>
<path d="M50 86h1v1h-1z" fill="#00caf4"/>
<path d="M51 86h1v1h-1z" fill="#00c9f4"/>
<path d="M52 86h1v1h-1z" fill="#00c7f5"/>
<path d="M53 86h1v1h-1z" fill="#00c6f5"/>
<path d="M54 86h1v1h-1z" fill="#00c4f5"/>
<path d="M55 86h1v1h-1z" fill="#00c2f6"/>
<path d="M56 86h1v1h-1z" fill="#00c0f7"/>
<path d="M57 86h1v1h-1z" fill="#00bef7"/>
<path d="M58 86h1v1h-1z" fill="#00bbf8"/>
<path d="M59 86h1v1h-1z" fill="#00b8f9"/>
<path d="M60 86h1v1h-1z" fill="#00b5f9"/>
<path d="M61 86h1v1h-1z" fill="#00b1fa"/>
<path d="M62 86h1v1h-1z" fill="#00adfb"/>
<path d="M63 86h1v1h-1z" fill="#0fa7fd"/>
<path d="M64 86h1v1h-1z" fill="#2da2fe"/>
<path d="M65 86h1v1h-1z" fill="#3e9eff"/>
<path d="M66 86h1v1h-1z" fill="#4c9aff"/>
<path d="M67 86h1v1h-1z" fill="#5b97ff"/>
<path d="M68 86h1v1h-1z" fill="#6d98ff"/>
<path d="M69 86h1v1h-1z" fill="#819bff"/>
<path d="M70 86h1v1h-1z" fill="#949fff"/>
<path d="M71 86h1v1h-1z" fill="#a4a2ff"/>
<path d="M72 86h1v1h-1z" fill="#b6a2ff"/>
<path d="M73 86h1v1h-1z" fill="#c1a1ff"/>
<path d="M74 86h1v1h-1z" fill="#cb9fff"/>
<path d="M75 86h1v1h-1z" fill="#d49eff"/>
<path d="M76 86h1v1h-1z" fill="#df9dff"/>
<path d="M77 86h1v1h-1z" fill="#e79bff"/>
<path d="M78 86h1v1h-1z" fill="#ee99ff"/>
<path d="M79 86h1v1h-1z" fill="#f497ff"/>
<path d="M80 86h1v1h-1z" fill="#fa95ff"/>
<path d="M81 86h1v1h-1z" fill="#ff92fd"/>
<path d="M82 86h1v1h-1z" fill="#ff8bf3"/>
<path d="M83 86h1v1h-1z" fill="#ff85e9"/>
<path d="M84 86h1v1h-1z" fill="#ff7ee0"/>
<path d="M85 86h1v1h-1z" fill="#ff78d8"/>
<path d="M86 86h1v1h-1z" fill="#ff73d0"/>
<path d="M87 86h1v1h-1z" fill="#ff6dc9"/>
<path d="M88 86h1v1h-1z" fill="#ff67c2"/>
<path d="M89 86h1v1h-1z" fill="#ff62bb"/>
<path d="M90 86h1v1h-1z" fill="#ff5db5"/>
<path d="M91 86h1v1h-1z" fill="#ff58af"/>
<path d="M92 86h1v1h-1z" fill="#ff52aa"/>
<path d="M93 86h1v1h-1z" fill="#ff4da5"/>
<path d="M94 86h1v1h-1z" fill="#ff48a0"/>
<path d="M95 86h1v1h-1z" fill="#ff429b"/>
<path d="M96 86h1v1h-1z" fill="#ff3d96"/>
<path d="M97 86h1v1h-1z" fill="#ff3791"/>
<path d="M98 86h1v1h-1z" fill="#ff318d"/>
<path d="M99 86h1v1h-1z" fill="#ff2a88"/>
<path d="M100 86h1v1h-1z" fill="#ff2284"/>
<path d="M101 86h1v1h-1z" fill="#ff177f"/>
<path d="M102 86h1v1h-1z" fill="#ff007a"/>
<path d="M103 86h1v1h-1z" fill="#ff0078"/>
<path d="M104 86h1v1h-1z" fill="#ff0076"/>
<path d="M105 86h1v1h-1z" fill="#ff0073"/>
<path d="M106 86h1v1h-1z" fill="#ff0071"/>
<path d="M107 86h1v1h-1z" fill="#ff006f"/>
<path d="M108 86h1v1h-1z" fill="#ff006d"/>
<path d="M109 86h1v1h-1z" fill="#ff006c"/>
<path d="M110 86h1v1h-1z" fill="#ff006a"/>
<path d="M111 86h1v1h-1z" fill="#ff0068"/>
<path d="M112 86h1v1h-1z" fill="#ff0066"/>
<path d="M113 86h1v1h-1z" fill="#ff0065"/>
<path d="M114 86h1v1h-1z" fill="#ff0063"/>
<path d="M115 86h1v1h-1z" fill="#ff0062"/>
<path d="M116 86h1v1h-1z" fill="#ff0061"/>
<path d="M117 86h1v1h-1z" fill="#ff005f"/>
<path d="M118 86h1v1h-1z" fill="#ff005e"/>
<path d="M119 86h1v1h-1z" fill="#ff005d"/>
<path d="M120 86h1v1h-1z" fill="#ff005c"/>
<path d="M121 86h1v1h-1z" fill="#ff005a"/>
<path d="M122 86h1v1h-1z" fill="#ff0059"/>
<path d="M123 86h1v1h-1z" fill="#ff0058"/>
<path d="M124 86h1v1h-1z" fill="#ff0057"/>
<path d="M125 86h1v1h-1z" fill="#ff0056"/>
<path d="M126 86h1v1h-1z" fill="#ff0055"/>
<path d="M127 86h1v1h-1z" fill="#ff0054"/>
<path d="M128 86h1v1h-1z" fill="#ff0053"/>
<path d="M129 86h1v1h-1z" fill="#ff0052"/>
<path d="M130 86h1v1h-1z" fill="#ff0051"/>
<path d="M131 86h1v1h-1z" fill="#ff0051"/>
<path d="M132 86h1v1h-1z" fill="#ff0050"/>
<path d="M133 86h1v1h-1z" fill="#ff004f"/>
<path d="M134 86h1v1h-1z" fill="#ff004e"/>
<path d="M135 86h1v1h-1z" fill="#ff004d"/>
<path d="M42 87h1v1h-1z" fill="#00d0f2"/>
<path d="M43 87h1v1h-1z" fill="#00cff3"/>
<path d="M44 87h1v1h-1z" fill="#00cef3"/>
<path d="M45 87h1v1h-1z" fill="#00cdf3"/>
<path d="M46 87h1v1h-1z" fill="#00ccf3"/>
<path d="M47 87h1v1h-1z" fill="#00cbf4"/>
<path d="M48 87h1v1h-1z" fill="#00c9f4"/>
<path d="M49 87h1v1h-1z" fill="#00c8f4"/>
<path d="M50 87h1v1h-1z" fill="#00c7f5"/>
<path d="M51 87h1v1h-1z" fill="#00c5f5"/>
<path d="M52 87h1v1h-1z" fill="#00c3f6"/>
<path d="M53 87h1v1h-1z" fill="#00c1f6"/>
<path d="M54 87h1v1h-1z" fill="#00bff7"/>
<path d="M55 87h1v1h-1z" fill="#00bdf7"/>
<path d="M56 87h1v1h-1z" fill="#00bbf8"/>
<path d="M57 87h1v1h-1z" fill="#00b8f9"/>
<path d="M58 87h1v1h-1z" fill="#00b5f9"/>
<path d="M59 87h1v1h-1z" fill="#00b2fa"/>
<path d="M60 87h1v1h-1z" fill="#00aefb"/>
<path d="M61 87h1v1h-1z" fill="#00aafc"/>
<path d="M62 87h1v1h-1z" fill="#00a5fd"/>
<path d="M63 87h1v1h-1z" fill="#22a0fe"/>
<path d="M64 87h1v1h-1z" fill="#3a9cff"/>
<path d="M65 87h1v1h-1z" fill="#4b99ff"/>
<path d="M66 87h1v1h-1z" fill="#5996ff"/>
<path d="M67 87h1v1h-1z" fill="#6995ff"/>
<path d="M68 87h1v1h-1z" fill="#7a96ff"/>
<path d="M69 87h1v1h-1z" fill="#8b98ff"/>
<path d="M70 87h1v1h-1z" fill="#9a9bff"/>
<path d="M71 87h1v1h-1z" fill="#ae9bff"/>
<path d="M72 87h1v1h-1z" fill="#bb99ff"/>
<path d="M73 87h1v1h-1z" fill="#c698ff"/>
<path d="M74 87h1v1h-1z" fill="#cf97ff"/>
<path d="M75 87h1v1h-1z" fill="#d896ff"/>
<path d="M76 87h1v1h-1z" fill="#e094ff"/>
<path d="M77 87h1v1h-1z" fill="#e792ff"/>
<path d="M78 87h1v1h-1z" fill="#ee90ff"/>
<path d="M79 87h1v1h-1z" fill="#f48dff"/>
<path d="M80 87h1v1h-1z" fill="#fa8bff"/>
<path d="M81 87h1v1h-1z" fill="#ff88fe"/>
<path d="M82 87h1v1h-1z" fill="#ff81f3"/>
<path d="M83 87h1v1h-1z" fill="#ff7bea"/>
<path d="M84 87h1v1h-1z" fill="#ff75e1"/>
<path d="M85 87h1v1h-1z" fill="#ff6fd9"/>
<path d="M86 87h1v1h-1z" fill="#ff69d1"/>
<path d="M87 87h1v1h-1z" fill="#ff63ca"/>
<path d="M88 87h1v1h-1z" fill="#ff5ec3"/>
<path d="M89 87h1v1h-1z" fill="#ff58bd"/>
<path d="M90 87h1v1h-1z" fill="#ff53b6"/>
<path d="M91 87h1v1h-1z" fill="#ff4db1"/>
<path d="M92 87h1v1h-1z" fill="#ff47ab"/>
<path d="M93 87h1v1h-1z" fill="#ff42a6"/>
<path d="M94 87h1v1h-1z" fill="#ff3ca1"/>
<path d="M95 87h1v1h-1z" fill="#ff359c"/>
<path d="M96 87h1v1h-1z" fill="#ff2f97"/>
<path d="M97 87h1v1h-1z" fill="#ff2792"/>
<path d="M98 87h1v1h-1z" fill="#ff1d8d"/>
<path d="M99 87h1v1h-1z" fill="#ff0f89"/>
<path d="M100 87h1v1h-1z" fill="#ff0085"/>
<path d="M101 87h1v1h-1z" fill="#ff0082"/>
<path d="M102 87h1v1h-1z" fill="#ff007f"/>
<path d="M103 87h1v1h-1z" fill="#ff007d"/>
<path d="M104 87h1v1h-1z" fill="#ff007a"/>
<path d="M105 87h1v1h-1z" fill="#ff0078"/>
<path d="M106 87h1v1h-1z" fill="#ff0076"/>
<path d="M107 87h1v1h-1z" fill="#ff0074"/>
<path d="M108 87h1v1h-1z" fill="#ff0072"/>
<path d="M109 87h1v1h-1z" fill="#ff0070"/>
<path d="M110 87h1v1h-1z" fill="#ff006e"/>
<path d="M111 87h1v1h-1z" fill="#ff006d"/>
<path d="M112 87h1v1h-1z" fill="#ff006b"/>
<path d="M113 87h1v1h-1z" fill="#ff0069"/>
<path d="M114 87h1v1h-1z" fill="#ff0068"/>
<path d="M115 87h1v1h-1z" fill="#ff0066"/>
<path d="M116 87h1v1h-1z" fill="#ff0065"/>
<path d="M117 87h1v1h-1z" fill="#ff0064"/>
<path d="M118 87h1v1h-1z" fill="#ff0062"/>
<path d="M119 87h1v1h-1z" fill="#ff0061"/>
<path d="M120 87h1v1h-1z" fill="#ff0060"/>
<path d="M121 87h1v1h-1z" fill="#ff005f"/>
<path d="M122 87h1v1h-1z" fill="#ff005d"/>
<path d="M123 87h1v1h-1z" fill="#ff005c"/>
<path d="M124 87h1v1h-1z" fill="#ff005b"/>
<path d="M125 87h1v1h-1z" fill="#ff005a"/>
<path d="M126 87h1v1h-1z" fill="#ff0059"/>
<path d="M127 87h1v1h-1z" fill="#ff0058"/>
<path d="M128 87h1v1h-1z" fill="#ff0057"/>
<path d="M129 87h1v1h-1z" fill="#ff0056"/>
<path d="M130 87h1v1h-1z" fill="#ff0055"/>
<path d="M131 87h1v1h-1z" fill="#ff0054"/>
<path d="M132 87h1v1h-1z" fill="#ff0054"/>
<path d="M43 88h1v1h-1z" fill="#00ccf3"/>
<path d="M44 88h1v1h-1z" fill="#00cbf4"/>
<path d="M45 88h1v1h-1z" fill="#00caf4"/>
<path d="M46 88h1v1h-1z" fill="#00c8f4"/>
<path d="M47 88h1v1h-1z" fill="#00c7f5"/>
<path d="M48 88h1v1h-1z" fill="#00c6f5"/>
<path d="M49 88h1v1h-1z" fill="#00c4f5"/>
<path d="M50 88h1v1h-1z" fill="#00c3f6"/>
<path d="M51 88h1v1h-1z" fill="#00c1f6"/>
<path d="M52 88h1v1h-1z" fill="#00bff7"/>
<path d="M53 88h1v1h-1z" fill="#00bdf7"/>
<path d="M54 88h1v1h-1z" fill="#00bbf8"/>
<path d="M55 88h1v1h-1z" fill="#00b8f9"/>
<path d="M56 88h1v1h-1z" fill="#00b6f9"/>
<path d="M57 88h1v1h-1z" fill="#00b3fa"/>
<path d="M58 88h1v1h-1z" fill="#00affb"/>
<path d="M59 88h1v1h-1z" fill="#00acfc"/>
<path d="M60 88h1v1h-1z" fill="#00a7fc"/>
<path d="M61 88h1v1h-1z" fill="#00a3fd"/>
<path d="M62 88h1v1h-1z" fill="#009dfe"/>
<path d="M63 88h1v1h-1z" fill="#309aff"/>
<path d="M64 88h1v1h-1z" fill="#4697ff"/>
<path d="M65 88h1v1h-1z" fill="#5795ff"/>
<path d="M66 88h1v1h-1z" fill="#6694ff"/>
<path d="M67 88h1v1h-1z" fill="#7593ff"/>
<path d="M68 88h1v1h-1z" fill="#8494ff"/>
<path d="M69 88h1v1h-1z" fill="#9295ff"/>
<path d="M70 88h1v1h-1z" fill="#a695ff"/>
<path d="M71 88h1v1h-1z" fill="#b593ff"/>
<path d="M72 88h1v1h-1z" fill="#c092ff"/>
<path d="M73 88h1v1h-1z" fill="#ca91ff"/>
<path d="M74 88h1v1h-1z" fill="#d28fff"/>
<path d="M75 88h1v1h-1z" fill="#da8dff"/>
<path d="M76 88h1v1h-1z" fill="#e18bff"/>
<path d="M77 88h1v1h-1z" fill="#e888ff"/>
<path d="M78 88h1v1h-1z" fill="#ee86ff"/>
<path d="M79 88h1v1h-1z" fill="#f483ff"/>
<path d="M80 88h1v1h-1z" fill="#fa81ff"/>
<path d="M81 88h1v1h-1z" fill="#ff7eff"/>
<path d="M82 88h1v1h-1z" fill="#ff77f4"/>
<path d="M83 88h1v1h-1z" fill="#ff71eb"/>
<path d="M84 88h1v1h-1z" fill="#ff6ae2"/>
<path d="M85 88h1v1h-1z" fill="#ff64da"/>
<path d="M86 88h1v1h-1z" fill="#ff5ed2"/>
<path d="M87 88h1v1h-1z" fill="#ff59cb"/>
<path d="M88 88h1v1h-1z" fill="#ff53c4"/>
<path d="M89 88h1v1h-1z" fill="#ff4dbe"/>
<path d="M90 88h1v1h-1z" fill="#ff47b8"/>
<path d="M91 88h1v1h-1z" fill="#ff41b2"/>
<path d="M92 88h1v1h-1z" fill="#ff3aac"/>
<path d="M93 88h1v1h-1z" fill="#ff34a7"/>
<path d="M94 88h1v1h-1z" fill="#ff2ca2"/>
<path d="M95 88h1v1h-1z" fill="#ff239d"/>
<path d="M96 88h1v1h-1z" fill="#ff1898"/>
<path d="M97 88h1v1h-1z" fill="#ff0093"/>
<path d="M98 88h1v1h-1z" fill="#ff008f"/>
<path d="M99 88h1v1h-1z" fill="#ff008c"/>
<path d="M100 88h1v1h-1z" fill="#ff0089"/>
<path d="M101 88h1v1h-1z" fill="#ff0086"/>
<path d="M102 88h1v1h-1z" fill="#ff0084"/>
<path d="M103 88h1v1h-1z" fill="#ff0081"/>
<path d="M104 88h1v1h-1z" fill="#ff007f"/>
<path d="M105 88h1v1h-1z" fill="#ff007d"/>
<path d="M106 88h1v1h-1z" fill="#ff007b"/>
<path d="M107 88h1v1h-1z" fill="#ff0078"/>
<path d="M108 88h1v1h-1z" fill="#ff0076"/>
<path d="M109 88h1v1h-1z" fill="#ff0075"/>
<path d="M110 88h1v1h-1z" fill="#ff0073"/>
<path d="M111 88h1v1h-1z" fill="#ff0071"/>
<path d="M112 88h1v1h-1z" fill="#ff006f"/>
<path d="M113 88h1v1h-1z" fill="#ff006e"/>
<path d="M114 88h1v1h-1z" fill="#ff006c"/>
<path d="M115 88h1v1h-1z" fill="#ff006b"/>
<path d="M116 88h1v1h-1z" fill="#ff0069"/>
<path d="M117 88h1v1h-1z" fill="#ff0068"/>
<path d="M118 88h1v1h-1z" fill="#ff0066"/>
<path d="M119 88h1v1h-1z" fill="#ff0065"/>
<path d="M120 88h1v1h-1z" fill="#ff0064"/>
<path d="M121 88h1v1h-1z" fill="#ff0063"/>
<path d="M122 88h1v1h-1z" fill="#ff0061"/>
<path d="M123 88h1v1h-1z" fill="#ff0060"/>
<path d="M124 88h1v1h-1z" fill="#ff005f"/>
<path d="M125 88h1v1h-1z" fill="#ff005e"/>
<path d="M126 88h1v1h-1z" fill="#ff005d"/>
<path d="M127 88h1v1h-1z" fill="#ff005c"/>
<path d="M128 88h1v1h-1z" fill="#ff005b"/>
<path d="M129 88h1v1h-1z" fill="#ff005a"/>
<path d="M43 89h1v1h-1z" fill="#00c9f4"/>
<path d="M44 89h1v1h-1z" fill="#00c8f4"/>
<path d="M45 89h1v1h-1z" fill="#00c6f5"/>
<path d="M46 89h1v1h-1z" fill="#00c5f5"/>
<path d="M47 89h1v1h-1z" fill="#00c4f6"/>
<path d="M48 89h1v1h-1z" fill="#00c2f6"/>
<path d="M49 89h1v1h-1z" fill="#00c0f6"/>
<path d="M50 89h1v1h-1z" fill="#00bff7"/>
<path d="M51 89h1v1h-1z" fill="#00bdf7"/>
<path d="M52 89h1v1h-1z" fill="#00bbf8"/>
<path d="M53 89h1v1h-1z" fill="#00b8f9"/>
<path d="M54 89h1v1h-1z" fill="#00b6f9"/>
<path d="M55 89h1v1h-1z" fill="#00b3fa"/>
<path d="M56 89h1v1h-1z" fill="#00b0fb"/>
<path d="M57 89h1v1h-1z" fill="#00adfb"/>
<path d="M58 89h1v1h-1z" fill="#00a9fc"/>
<path d="M59 89h1v1h-1z" fill="#00a5fd"/>
<path d="M60 89h1v1h-1z" fill="#00a0fe"/>
<path d="M61 89h1v1h-1z" fill="#009bfe"/>
<path d="M62 89h1v1h-1z" fill="#1d96ff"/>
<path d="M63 89h1v1h-1z" fill="#3d94ff"/>
<path d="M64 89h1v1h-1z" fill="#5193ff"/>
<path d="M65 89h1v1h-1z" fill="#6292ff"/>
<path d="M66 89h1v1h-1z" fill="#7191ff"/>
<path d="M67 89h1v1h-1z" fill="#7f90ff"/>
<path d="M68 89h1v1h-1z" fill="#8c90ff"/>
<path d="M69 89h1v1h-1z" fill="#9e8fff"/>
<path d="M70 89h1v1h-1z" fill="#ae8eff"/>
<path d="M71 89h1v1h-1z" fill="#ba8cff"/>
<path d="M72 89h1v1h-1z" fill="#c48bff"/>
<path d="M73 89h1v1h-1z" fill="#cc88ff"/>
<path d="M74 89h1v1h-1z" fill="#d486ff"/>
<path d="M75 89h1v1h-1z" fill="#db84ff"/>
<path d="M76 89h1v1h-1z" fill="#e281ff"/>
<path d="M77 89h1v1h-1z" fill="#e87fff"/>
<path d="M78 89h1v1h-1z" fill="#ee7cff"/>
<path d="M79 89h1v1h-1z" fill="#f479ff"/>
<path d="M80 89h1v1h-1z" fill="#f976ff"/>
<path d="M81 89h1v1h-1z" fill="#ff73ff"/>
<path d="M82 89h1v1h-1z" fill="#ff6cf5"/>
<path d="M83 89h1v1h-1z" fill="#ff66ec"/>
<path d="M84 89h1v1h-1z" fill="#ff5fe3"/>
<path d="M85 89h1v1h-1z" fill="#ff59db"/>
<path d="M86 89h1v1h-1z" fill="#ff53d3"/>
<path d="M87 89h1v1h-1z" fill="#ff4dcc"/>
<path d="M88 89h1v1h-1z" fill="#ff46c5"/>
<path d="M89 89h1v1h-1z" fill="#ff40bf"/>
<path d="M90 89h1v1h-1z" fill="#ff39b9"/>
<path d="M91 89h1v1h-1z" fill="#ff32b3"/>
<path d="M92 89h1v1h-1z" fill="#ff29ad"/>
<path d="M93 89h1v1h-1z" fill="#ff1fa8"/>
<path d="M94 89h1v1h-1z" fill="#ff0fa3"/>
<path d="M95 89h1v1h-1z" fill="#ff009e"/>
<path d="M96 89h1v1h-1z" fill="#ff009a"/>
<path d="M97 89h1v1h-1z" fill="#ff0097"/>
<path d="M98 89h1v1h-1z" fill="#ff0094"/>
<path d="M99 89h1v1h-1z" fill="#ff0090"/>
<path d="M100 89h1v1h-1z" fill="#ff008e"/>
<path d="M101 89h1v1h-1z" fill="#ff008b"/>
<path d="M102 89h1v1h-1z" fill="#ff0088"/>
<path d="M103 89h1v1h-1z" fill="#ff0086"/>
<path d="M104 89h1v1h-1z" fill="#ff0083"/>
<path d="M105 89h1v1h-1z" fill="#ff0081"/>
<path d="M106 89h1v1h-1z" fill="#ff007f"/>
<path d="M107 89h1v1h-1z" fill="#ff007d"/>
<path d="M108 89h1v1h-1z" fill="#ff007b"/>
<path d="M109 89h1v1h-1z" fill="#ff0079"/>
<path d="M110 89h1v1h-1z" fill="#ff0077"/>
<path d="M111 89h1v1h-1z" fill="#ff0075"/>
<path d="M112 89h1v1h-1z" fill="#ff0073"/>
<path d="M113 89h1v1h-1z" fill="#ff0072"/>
<path d="M114 89h1v1h-1z" fill="#ff0070"/>
<path d="M115 89h1v1h-1z" fill="#ff006f"/>
<path d="M116 89h1v1h-1z" fill="#ff006d"/>
<path d="M117 89h1v1h-1z" fill="#ff006c"/>
<path d="M118 89h1v1h-1z" fill="#ff006a"/>
<path d="M119 89h1v1h-1z" fill="#ff0069"/>
<path d="M120 89h1v1h-1z" fill="#ff0068"/>
<path d="M121 89h1v1h-1z" fill="#ff0066"/>
<path d="M122 89h1v1h-1z" fill="#ff0065"/>
<path d="M123 89h1v1h-1z" fill="#ff0064"/>
<path d="M124 89h1v1h-1z" fill="#ff0063"/>
<path d="M125 89h1v1h-1z" fill="#ff0062"/>
<path d="M126 89h1v1h-1z" fill="#ff0061"/>
<path d="M43 90h1v1h-1z" fill="#00c6f5"/>
<path d="M44 90h1v1h-1z" fill="#00c4f5"/>
<path d="M45 90h1v1h-1z" fill="#00c3f6"/>
<path d="M46 90h1v1h-1z" fill="#00c2f6"/>
<path d="M47 90h1v1h-1z" fill="#00c0f7"/>
<path d="M48 90h1v1h-1z" fill="#00bef7"/>
<path d="M49 90h1v1h-1z" fill="#00bcf7"/>
<path d="M50 90h1v1h-1z" fill="#00baf8"/>
<path d="M51 90h1v1h-1z" fill="#00b8f9"/>
<path d="M52 90h1v1h-1z" fill="#00b6f9"/>
<path d="M53 90h1v1h-1z" fill="#00b4fa"/>
<path d="M54 90h1v1h-1z" fill="#00b1fa"/>
<path d="M55 90h1v1h-1z" fill="#00aefb"/>
<path d="M56 90h1v1h-1z" fill="#00abfc"/>
<path d="M57 90h1v1h-1z" fill="#00a7fd"/>
<path d="M58 90h1v1h-1z" fill="#00a3fd"/>
<path d="M59 90h1v1h-1z" fill="#009efe"/>
<path d="M60 90h1v1h-1z" fill="#0099ff"/>
<path d="M61 90h1v1h-1z" fill="#0093ff"/>
<path d="M62 90h1v1h-1z" fill="#2f90ff"/>
<path d="M63 90h1v1h-1z" fill="#488fff"/>
<path d="M64 90h1v1h-1z" fill="#5b8eff"/>
<path d="M65 90h1v1h-1z" fill="#6b8dff"/>
<path d="M66 90h1v1h-1z" fill="#788dff"/>
<path d="M67 90h1v1h-1z" fill="#858cff"/>
<path d="M68 90h1v1h-1z" fill="#958aff"/>
<path d="M69 90h1v1h-1z" fill="#a788ff"/>
<path d="M70 90h1v1h-1z" fill="#b386ff"/>
<path d="M71 90h1v1h-1z" fill="#bd84ff"/>
<path d="M72 90h1v1h-1z" fill="#c682ff"/>
<path d="M73 90h1v1h-1z" fill="#ce7fff"/>
<path d="M74 90h1v1h-1z" fill="#d57dff"/>
<path d="M75 90h1v1h-1z" fill="#dc7aff"/>
<path d="M76 90h1v1h-1z" fill="#e277ff"/>
<path d="M77 90h1v1h-1z" fill="#e875ff"/>
<path d="M78 90h1v1h-1z" fill="#ee71ff"/>
<path d="M79 90h1v1h-1z" fill="#f46eff"/>
<path d="M80 90h1v1h-1z" fill="#f96bff"/>
<path d="M81 90h1v1h-1z" fill="#fe67ff"/>
<path d="M82 90h1v1h-1z" fill="#ff61f6"/>
<path d="M83 90h1v1h-1z" fill="#ff5aed"/>
<path d="M84 90h1v1h-1z" fill="#ff53e4"/>
<path d="M85 90h1v1h-1z" fill="#ff4cdc"/>
<path d="M86 90h1v1h-1z" fill="#ff46d5"/>
<path d="M87 90h1v1h-1z" fill="#ff3fcd"/>
<path d="M88 90h1v1h-1z" fill="#ff37c7"/>
<path d="M89 90h1v1h-1z" fill="#ff2fc0"/>
<path d="M90 90h1v1h-1z" fill="#ff26ba"/>
<path d="M91 90h1v1h-1z" fill="#ff19b4"/>
<path d="M92 90h1v1h-1z" fill="#ff00ae"/>
<path d="M93 90h1v1h-1z" fill="#ff00aa"/>
<path d="M94 90h1v1h-1z" fill="#ff00a6"/>
<path d="M95 90h1v1h-1z" fill="#ff00a2"/>
<path d="M96 90h1v1h-1z" fill="#ff009e"/>
<path d="M97 90h1v1h-1z" fill="#ff009b"/>
<path d="M98 90h1v1h-1z" fill="#ff0098"/>
<path d="M99 90h1v1h-1z" fill="#ff0094"/>
<path d="M100 90h1v1h-1z" fill="#ff0092"/>
<path d="M101 90h1v1h-1z" fill="#ff008f"/>
<path d="M102 90h1v1h-1z" fill="#ff008c"/>
<path d="M103 90h1v1h-1z" fill="#ff008a"/>
<path d="M104 90h1v1h-1z" fill="#ff0087"/>
<path d="M105 90h1v1h-1z" fill="#ff0085"/>
<path d="M106 90h1v1h-1z" fill="#ff0083"/>
<path d="M107 90h1v1h-1z" fill="#ff0080"/>
<path d="M108 90h1v1h-1z" fill="#ff007e"/>
<path d="M109 90h1v1h-1z" fill="#ff007c"/>
<path d="M110 90h1v1h-1z" fill="#ff007b"/>
<path d="M111 90h1v1h-1z" fill="#ff0079"/>
<path d="M112 90h1v1h-1z" fill="#ff0077"/>
<path d="M113 90h1v1h-1z" fill="#ff0075"/>
<path d="M114 90h1v1h-1z" fill="#ff0074"/>
<path d="M115 90h1v1h-1z" fill="#ff0072"/>
<path d="M116 90h1v1h-1z" fill="#ff0071"/>
<path d="M117 90h1v1h-1z" fill="#ff006f"/>
<path d="M118 90h1v1h-1z" fill="#ff006e"/>
<path d="M119 90h1v1h-1z" fill="#ff006c"/>
<path d="M120 90h1v1h-1z" fill="#ff006b"/>
<path d="M121 90h1v1h-1z" fill="#ff006a"/>
<path d="M122 90h1v1h-1z" fill="#ff0069"/>
<path d="M123 90h1v1h-1z" fill="#ff0067"/>
<path d="M44 91h1v1h-1z" fill="#00c1f6"/>
<path d="M45 91h1v1h-1z" fill="#00c0f7"/>
<path d="M46 91h1v1h-1z" fill="#00bef7"/>
<path d="M47 91h1v1h-1z" fill="#00bcf7"/>
<path d="M48 91h1v1h-1z" fill="#00baf8"/>
<path d="M49 91h1v1h-1z" fill="#00b8f8"/>
<path d="M50 91h1v1h-1z" fill="#00b6f9"/>
<path d="M51 91h1v1h-1z" fill="#00b4fa"/>
<path d="M52 91h1v1h-1z" fill="#00b1fa"/>
<path d="M53 91h1v1h-1z" fill="#00affb"/>
<path d="M54 91h1v1h-1z" fill="#00acfc"/>
<path d="M55 91h1v1h-1z" fill="#00a8fc"/>
<path d="M56 91h1v1h-1z" fill="#00a5fd"/>
<path d="M57 91h1v1h-1z" fill="#00a1fe"/>
<path d="M58 91h1v1h-1z" fill="#009cfe"/>
<path d="M59 91h1v1h-1z" fill="#0097ff"/>
<path d="M60 91h1v1h-1z" fill="#0091ff"/>
<path d="M61 91h1v1h-1z" fill="#0c8bff"/>
<path d="M62 91h1v1h-1z" fill="#3b8bff"/>
<path d="M63 91h1v1h-1z" fill="#518aff"/>
<path d="M64 91h1v1h-1z" fill="#6289ff"/>
<path d="M65 91h1v1h-1z" fill="#7087ff"/>
<path d="M66 91h1v1h-1z" fill="#7d86ff"/>
<path d="M67 91h1v1h-1z" fill="#8984ff"/>
<path d="M68 91h1v1h-1z" fill="#9f82ff"/>
<path d="M69 91h1v1h-1z" fill="#ac80ff"/>
<path d="M70 91h1v1h-1z" fill="#b67eff"/>
<path d="M71 91h1v1h-1z" fill="#c07bff"/>
<path d="M72 91h1v1h-1z" fill="#c879ff"/>
<path d="M73 91h1v1h-1z" fill="#cf76ff"/>
<path d="M74 91h1v1h-1z" fill="#d673ff"/>
<path d="M75 91h1v1h-1z" fill="#dc70ff"/>
<path d="M76 91h1v1h-1z" fill="#e36dff"/>
<path d="M77 91h1v1h-1z" fill="#e96aff"/>
<path d="M78 91h1v1h-1z" fill="#ee66ff"/>
<path d="M79 91h1v1h-1z" fill="#f462ff"/>
<path d="M80 91h1v1h-1z" fill="#f95eff"/>
<path d="M81 91h1v1h-1z" fill="#fe5aff"/>
<path d="M82 91h1v1h-1z" fill="#ff53f7"/>
<path d="M83 91h1v1h-1z" fill="#ff4cee"/>
<path d="M84 91h1v1h-1z" fill="#ff45e5"/>
<path d="M85 91h1v1h-1z" fill="#ff3ddd"/>
<path d="M86 91h1v1h-1z" fill="#ff35d6"/>
<path d="M87 91h1v1h-1z" fill="#ff2ccf"/>
<path d="M88 91h1v1h-1z" fill="#ff21c8"/>
<path d="M89 91h1v1h-1z" fill="#ff10c1"/>
<path d="M90 91h1v1h-1z" fill="#ff00bc"/>
<path d="M91 91h1v1h-1z" fill="#ff00b7"/>
<path d="M92 91h1v1h-1z" fill="#ff00b2"/>
<path d="M93 91h1v1h-1z" fill="#ff00ae"/>
<path d="M94 91h1v1h-1z" fill="#ff00a9"/>
<path d="M95 91h1v1h-1z" fill="#ff00a6"/>
<path d="M96 91h1v1h-1z" fill="#ff00a2"/>
<path d="M97 91h1v1h-1z" fill="#ff009f"/>
<path d="M98 91h1v1h-1z" fill="#ff009b"/>
<path d="M99 91h1v1h-1z" fill="#ff0098"/>
<path d="M100 91h1v1h-1z" fill="#ff0095"/>
<path d="M101 91h1v1h-1z" fill="#ff0092"/>
<path d="M102 91h1v1h-1z" fill="#ff0090"/>
<path d="M103 91h1v1h-1z" fill="#ff008d"/>
<path d="M104 91h1v1h-1z" fill="#ff008b"/>
<path d="M105 91h1v1h-1z" fill="#ff0088"/>
<path d="M106 91h1v1h-1z" fill="#ff0086"/>
<path d="M107 91h1v1h-1z" fill="#ff0084"/>
<path d="M108 91h1v1h-1z" fill="#ff0082"/>
<path d="M109 91h1v1h-1z" fill="#ff0080"/>
<path d="M110 91h1v1h-1z" fill="#ff007e"/>
<path d="M111 91h1v1h-1z" fill="#ff007c"/>
<path d="M112 91h1v1h-1z" fill="#ff007b"/>
<path d="M113 91h1v1h-1z" fill="#ff0079"/>
<path d="M114 91h1v1h-1z" fill="#ff0077"/>
<path d="M115 91h1v1h-1z" fill="#ff0076"/>
<path d="M116 91h1v1h-1z" fill="#ff0074"/>
<path d="M117 91h1v1h-1z" fill="#ff0073"/>
<path d="M118 91h1v1h-1z" fill="#ff0071"/>
<path d="M119 91h1v1h-1z" fill="#ff0070"/>
<path d="M120 91h1v1h-1z" fill="#ff006f"/>
<path d="M44 92h1v1h-1z" fill="#00bef7"/>
<path d="M45 92h1v1h-1z" fill="#00bcf8"/>
<path d="M46 92h1v1h-1z" fill="#00baf8"/>
<path d="M47 92h1v1h-1z" fill="#00b8f8"/>
<path d="M48 92h1v1h-1z" fill="#00b6f9"/>
<path d="M49 92h1v1h-1z" fill="#00b4fa"/>
<path d="M50 92h1v1h-1z" fill="#00b2fa"/>
<path d="M51 92h1v1h-1z" fill="#00affb"/>
<path d="M52 92h1v1h-1z" fill="#00adfb"/>
<path d="M53 92h1v1h-1z" fill="#00aafc"/>
<path d="M54 92h1v1h-1z" fill="#00a6fd"/>
<path d="M55 92h1v1h-1z" fill="#00a3fd"/>
<path d="M56 92h1v1h-1z" fill="#009ffe"/>
<path d="M57 92h1v1h-1z" fill="#009afe"/>
<path d="M58 92h1v1h-1z" fill="#0095ff"/>
<path d="M59 92h1v1h-1z" fill="#008fff"/>
<path d="M60 92h1v1h-1z" fill="#0089ff"/>
<path d="M61 92h1v1h-1z" fill="#2785ff"/>
<path d="M62 92h1v1h-1z" fill="#4484ff"/>
<path d="M63 92h1v1h-1z" fill="#5783ff"/>
<path d="M64 92h1v1h-1z" fill="#6781ff"/>
<path d="M65 92h1v1h-1z" fill="#7480ff"/>
<path d="M66 92h1v1h-1z" fill="#807eff"/>
<path d="M67 92h1v1h-1z" fill="#977cff"/>
<path d="M68 92h1v1h-1z" fill="#a57aff"/>
<path d="M69 92h1v1h-1z" fill="#b077ff"/>
<path d="M70 92h1v1h-1z" fill="#b975ff"/>
<path d="M71 92h1v1h-1z" fill="#c272ff"/>
<path d="M72 92h1v1h-1z" fill="#c96fff"/>
<path d="M73 92h1v1h-1z" fill="#d06cff"/>
<path d="M74 92h1v1h-1z" fill="#d769ff"/>
<path d="M75 92h1v1h-1z" fill="#dd65ff"/>
<path d="M76 92h1v1h-1z" fill="#e362ff"/>
<path d="M77 92h1v1h-1z" fill="#e95eff"/>
<path d="M78 92h1v1h-1z" fill="#ee5aff"/>
<path d="M79 92h1v1h-1z" fill="#f456ff"/>
<path d="M80 92h1v1h-1z" fill="#f951ff"/>
<path d="M81 92h1v1h-1z" fill="#fe4bff"/>
<path d="M82 92h1v1h-1z" fill="#ff44f8"/>
<path d="M83 92h1v1h-1z" fill="#ff3cef"/>
<path d="M84 92h1v1h-1z" fill="#ff33e6"/>
<path d="M85 92h1v1h-1z" fill="#ff28de"/>
<path d="M86 92h1v1h-1z" fill="#ff1bd7"/>
<path d="M87 92h1v1h-1z" fill="#ff00d0"/>
<path d="M88 92h1v1h-1z" fill="#ff00ca"/>
<path d="M89 92h1v1h-1z" fill="#ff00c4"/>
<path d="M90 92h1v1h-1z" fill="#ff00bf"/>
<path d="M91 92h1v1h-1z" fill="#ff00ba"/>
<path d="M92 92h1v1h-1z" fill="#ff00b5"/>
<path d="M93 92h1v1h-1z" fill="#ff00b1"/>
<path d="M94 92h1v1h-1z" fill="#ff00ad"/>
<path d="M95 92h1v1h-1z" fill="#ff00a9"/>
<path d="M96 92h1v1h-1z" fill="#ff00a5"/>
<path d="M97 92h1v1h-1z" fill="#ff00a2"/>
<path d="M98 92h1v1h-1z" fill="#ff009f"/>
<path d="M99 92h1v1h-1z" fill="#ff009c"/>
<path d="M100 92h1v1h-1z" fill="#ff0099"/>
<path d="M101 92h1v1h-1z" fill="#ff0096"/>
<path d="M102 92h1v1h-1z" fill="#ff0093"/>
<path d="M103 92h1v1h-1z" fill="#ff0091"/>
<path d="M104 92h1v1h-1z" fill="#ff008e"/>
<path d="M105 92h1v1h-1z" fill="#ff008c"/>
<path d="M106 92h1v1h-1z" fill="#ff008a"/>
<path d="M107 92h1v1h-1z" fill="#ff0088"/>
<path d="M108 92h1v1h-1z" fill="#ff0086"/>
<path d="M109 92h1v1h-1z" fill="#ff0084"/>
<path d="M110 92h1v1h-1z" fill="#ff0082"/>
<path d="M111 92h1v1h-1z" fill="#ff0080"/>
<path d="M112 92h1v1h-1z" fill="#ff007e"/>
<path d="M113 92h1v1h-1z" fill="#ff007c"/>
<path d="M114 92h1v1h-1z" fill="#ff007b"/>
<path d="M115 92h1v1h-1z" fill="#ff0079"/>
<path d="M116 92h1v1h-1z" fill="#ff0078"/>
<path d="M117 92h1v1h-1z" fill="#ff0076"/>
<path d="M45 93h1v1h-1z" fill="#00b9f8"/>
<path d="M46 93h1v1h-1z" fill="#00b7f9"/>
<path d="M47 93h1v1h-1z" fill="#00b5f9"/>
<path d="M48 93h1v1h-1z" fill="#00b2fa"/>
<path d="M49 93h1v1h-1z" fill="#00b0fb"/>
<path d="M50 93h1v1h-1z" fill="#00aefb"/>
<path d="M51 93h1v1h-1z" fill="#00abfc"/>
<path d="M52 93h1v1h-1z" fill="#00a8fc"/>
<path d="M53 93h1v1h-1z" fill="#00a5fd"/>
<path d="M54 93h1v1h-1z" fill="#00a1fe"/>
<path d="M55 93h1v1h-1z" fill="#009dfe"/>
<path d="M56 93h1v1h-1z" fill="#0099ff"/>
<path d="M57 93h1v1h-1z" fill="#0094ff"/>
<path d="M58 93h1v1h-1z" fill="#008eff"/>
<path d="M59 93h1v1h-1z" fill="#0087ff"/>
<path d="M60 93h1v1h-1z" fill="#0080ff"/>
<path d="M61 93h1v1h-1z" fill="#347eff"/>
<path d="M62 93h1v1h-1z" fill="#4b7dff"/>
<path d="M63 93h1v1h-1z" fill="#5d7cff"/>
<path d="M64 93h1v1h-1z" fill="#6b7aff"/>
<path d="M65 93h1v1h-1z" fill="#7778ff"/>
<path d="M66 93h1v1h-1z" fill="#8e76ff"/>
<path d="M67 93h1v1h-1z" fill="#9d73ff"/>
<path d="M68 93h1v1h-1z" fill="#a971ff"/>
<path d="M69 93h1v1h-1z" fill="#b36eff"/>
<path d="M70 93h1v1h-1z" fill="#bb6bff"/>
<path d="M71 93h1v1h-1z" fill="#c368ff"/>
<path d="M72 93h1v1h-1z" fill="#cb65ff"/>
<path d="M73 93h1v1h-1z" fill="#d161ff"/>
<path d="M74 93h1v1h-1z" fill="#d85eff"/>
<path d="M75 93h1v1h-1z" fill="#de5aff"/>
<path d="M76 93h1v1h-1z" fill="#e356ff"/>
<path d="M77 93h1v1h-1z" fill="#e951ff"/>
<path d="M78 93h1v1h-1z" fill="#ee4cff"/>
<path d="M79 93h1v1h-1z" fill="#f347ff"/>
<path d="M80 93h1v1h-1z" fill="#f941ff"/>
<path d="M81 93h1v1h-1z" fill="#fe39ff"/>
<path d="M82 93h1v1h-1z" fill="#ff30f8"/>
<path d="M83 93h1v1h-1z" fill="#ff24ef"/>
<path d="M84 93h1v1h-1z" fill="#ff11e7"/>
<path d="M85 93h1v1h-1z" fill="#ff00df"/>
<path d="M86 93h1v1h-1z" fill="#ff00d9"/>
<path d="M87 93h1v1h-1z" fill="#ff00d2"/>
<path d="M88 93h1v1h-1z" fill="#ff00cc"/>
<path d="M89 93h1v1h-1z" fill="#ff00c7"/>
<path d="M90 93h1v1h-1z" fill="#ff00c2"/>
<path d="M91 93h1v1h-1z" fill="#ff00bd"/>
<path d="M92 93h1v1h-1z" fill="#ff00b8"/>
<path d="M93 93h1v1h-1z" fill="#ff00b4"/>
<path d="M94 93h1v1h-1z" fill="#ff00b0"/>
<path d="M95 93h1v1h-1z" fill="#ff00ac"/>
<path d="M96 93h1v1h-1z" fill="#ff00a9"/>
<path d="M97 93h1v1h-1z" fill="#ff00a5"/>
<path d="M98 93h1v1h-1z" fill="#ff00a2"/>
<path d="M99 93h1v1h-1z" fill="#ff009f"/>
<path d="M100 93h1v1h-1z" fill="#ff009c"/>
<path d="M101 93h1v1h-1z" fill="#ff0099"/>
<path d="M102 93h1v1h-1z" fill="#ff0097"/>
<path d="M103 93h1v1h-1z" fill="#ff0094"/>
<path d="M104 93h1v1h-1z" fill="#ff0092"/>
<path d="M105 93h1v1h-1z" fill="#ff008f"/>
<path d="M106 93h1v1h-1z" fill="#ff008d"/>
<path d="M107 93h1v1h-1z" fill="#ff008b"/>
<path d="M108 93h1v1h-1z" fill="#ff0089"/>
<path d="M109 93h1v1h-1z" fill="#ff0087"/>
<path d="M110 93h1v1h-1z" fill="#ff0085"/>
<path d="M111 93h1v1h-1z" fill="#ff0083"/>
<path d="M112 93h1v1h-1z" fill="#ff0081"/>
<path d="M113 93h1v1h-1z" fill="#ff0080"/>
<path d="M114 93h1v1h-1z" fill="#ff007e"/>
<path d="M45 94h1v1h-1z" fill="#00b5f9"/>
<path d="M46 94h1v1h-1z" fill="#00b3fa"/>
<path d="M47 94h1v1h-1z" fill="#00b1fa"/>
<path d="M48 94h1v1h-1z" fill="#00aefb"/>
<path d="M49 94h1v1h-1z" fill="#00acfc"/>
<path d="M50 94h1v1h-1z" fill="#00a9fc"/>
<path d="M51 94h1v1h-1z" fill="#00a6fd"/>
<path d="M52 94h1v1h-1z" fill="#00a3fd"/>
<path d="M53 94h1v1h-1z" fill="#009ffe"/>
<path d="M54 94h1v1h-1z" fill="#009bfe"/>
<path d="M55 94h1v1h-1z" fill="#0097ff"/>
<path d="M56 94h1v1h-1z" fill="#0092ff"/>
<path d="M57 94h1v1h-1z" fill="#008cff"/>
<path d="M58 94h1v1h-1z" fill="#0086ff"/>
<path d="M59 94h1v1h-1z" fill="#007fff"/>
<path d="M60 94h1v1h-1z" fill="#1a78ff"/>
<path d="M61 94h1v1h-1z" fill="#3d77ff"/>
<path d="M62 94h1v1h-1z" fill="#5276ff"/>
<path d="M63 94h1v1h-1z" fill="#6174ff"/>
<path d="M64 94h1v1h-1z" fill="#6f72ff"/>
<path d="M65 94h1v1h-1z" fill="#8570ff"/>
<path d="M66 94h1v1h-1z" fill="#966dff"/>
<path d="M67 94h1v1h-1z" fill="#a26aff"/>
<path d="M68 94h1v1h-1z" fill="#ac67ff"/>
<path d="M69 94h1v1h-1z" fill="#b564ff"/>
<path d="M70 94h1v1h-1z" fill="#be61ff"/>
<path d="M71 94h1v1h-1z" fill="#c55eff"/>
<path d="M72 94h1v1h-1z" fill="#cc5aff"/>
<path d="M73 94h1v1h-1z" fill="#d256ff"/>
<path d="M74 94h1v1h-1z" fill="#d852ff"/>
<path d="M75 94h1v1h-1z" fill="#de4dff"/>
<path d="M76 94h1v1h-1z" fill="#e448ff"/>
<path d="M77 94h1v1h-1z" fill="#e942ff"/>
<path d="M78 94h1v1h-1z" fill="#ee3cff"/>
<path d="M79 94h1v1h-1z" fill="#f334ff"/>
<path d="M80 94h1v1h-1z" fill="#f82aff"/>
<path d="M81 94h1v1h-1z" fill="#fd1dff"/>
<path d="M82 94h1v1h-1z" fill="#ff00f9"/>
<path d="M83 94h1v1h-1z" fill="#ff00f0"/>
<path d="M84 94h1v1h-1z" fill="#ff00e9"/>
<path d="M85 94h1v1h-1z" fill="#ff00e1"/>
<path d="M86 94h1v1h-1z" fill="#ff00db"/>
<path d="M87 94h1v1h-1z" fill="#ff00d4"/>
<path d="M88 94h1v1h-1z" fill="#ff00cf"/>
<path d="M89 94h1v1h-1z" fill="#ff00c9"/>
<path d="M90 94h1v1h-1z" fill="#ff00c4"/>
<path d="M91 94h1v1h-1z" fill="#ff00bf"/>
<path d="M92 94h1v1h-1z" fill="#ff00bb"/>
<path d="M93 94h1v1h-1z" fill="#ff00b7"/>
<path d="M94 94h1v1h-1z" fill="#ff00b3"/>
<path d="M95 94h1v1h-1z" fill="#ff00af"/>
<path d="M96 94h1v1h-1z" fill="#ff00ac"/>
<path d="M97 94h1v1h-1z" fill="#ff00a8"/>
<path d="M98 94h1v1h-1z" fill="#ff00a5"/>
<path d="M99 94h1v1h-1z" fill="#ff00a2"/>
<path d="M100 94h1v1h-1z" fill="#ff009f"/>
<path d="M101 94h1v1h-1z" fill="#ff009c"/>
<path d="M102 94h1v1h-1z" fill="#ff009a"/>
<path d="M103 94h1v1h-1z" fill="#ff0097"/>
<path d="M104 94h1v1h-1z" fill="#ff0095"/>
<path d="M105 94h1v1h-1z" fill="#ff0092"/>
<path d="M106 94h1v1h-1z" fill="#ff0090"/>
<path d="M107 94h1v1h-1z" fill="#ff008e"/>
<path d="M108 94h1v1h-1z" fill="#ff008c"/>
<path d="M109 94h1v1h-1z" fill="#ff008a"/>
<path d="M110 94h1v1h-1z" fill="#ff0088"/>
<path d="M111 94h1v1h-1z" fill="#ff0086"/>
<path d="M46 95h1v1h-1z" fill="#00affb"/>
<path d="M47 95h1v1h-1z" fill="#00adfb"/>
<path d="M48 95h1v1h-1z" fill="#00aafc"/>
<path d="M49 95h1v1h-1z" fill="#00a7fc"/>
<path d="M50 95h1v1h-1z" fill="#00a4fd"/>
<path d="M51 95h1v1h-1z" fill="#00a1fe"/>
<path d="M52 95h1v1h-1z" fill="#009efe"/>
<path d="M53 95h1v1h-1z" fill="#009aff"/>
<path d="M54 95h1v1h-1z" fill="#0095ff"/>
<path d="M55 95h1v1h-1z" fill="#0091ff"/>
<path d="M56 95h1v1h-1z" fill="#008bff"/>
<path d="M57 95h1v1h-1z" fill="#0085ff"/>
<path d="M58 95h1v1h-1z" fill="#007eff"/>
<path d="M59 95h1v1h-1z" fill="#0075ff"/>
<path d="M60 95h1v1h-1z" fill="#2b71ff"/>
<path d="M61 95h1v1h-1z" fill="#4570ff"/>
<path d="M62 95h1v1h-1z" fill="#576eff"/>
<path d="M63 95h1v1h-1z" fill="#666cff"/>
<path d="M64 95h1v1h-1z" fill="#7b69ff"/>
<path d="M65 95h1v1h-1z" fill="#8e67ff"/>
<path d="M66 95h1v1h-1z" fill="#9b64ff"/>
<path d="M67 95h1v1h-1z" fill="#a661ff"/>
<path d="M68 95h1v1h-1z" fill="#af5dff"/>
<path d="M69 95h1v1h-1z" fill="#b85aff"/>
<path d="M70 95h1v1h-1z" fill="#bf56ff"/>
<path d="M71 95h1v1h-1z" fill="#c652ff"/>
<path d="M72 95h1v1h-1z" fill="#cd4eff"/>
<path d="M73 95h1v1h-1z" fill="#d349ff"/>
<path d="M74 95h1v1h-1z" fill="#d943ff"/>
<path d="M75 95h1v1h-1z" fill="#df3eff"/>
<path d="M76 95h1v1h-1z" fill="#e437ff"/>
<path d="M77 95h1v1h-1z" fill="#e92eff"/>
<path d="M78 95h1v1h-1z" fill="#ee24ff"/>
<path d="M79 95h1v1h-1z" fill="#f311ff"/>
<path d="M80 95h1v1h-1z" fill="#f800ff"/>
<path d="M81 95h1v1h-1z" fill="#fd00ff"/>
<path d="M82 95h1v1h-1z" fill="#ff00fa"/>
<path d="M83 95h1v1h-1z" fill="#ff00f2"/>
<path d="M84 95h1v1h-1z" fill="#ff00ea"/>
<path d="M85 95h1v1h-1z" fill="#ff00e3"/>
<path d="M86 95h1v1h-1z" fill="#ff00dd"/>
<path d="M87 95h1v1h-1z" fill="#ff00d7"/>
<path d="M88 95h1v1h-1z" fill="#ff00d1"/>
<path d="M89 95h1v1h-1z" fill="#ff00cc"/>
<path d="M90 95h1v1h-1z" fill="#ff00c7"/>
<path d="M91 95h1v1h-1z" fill="#ff00c2"/>
<path d="M92 95h1v1h-1z" fill="#ff00be"/>
<path d="M93 95h1v1h-1z" fill="#ff00ba"/>
<path d="M94 95h1v1h-1z" fill="#ff00b6"/>
<path d="M95 95h1v1h-1z" fill="#ff00b2"/>
<path d="M96 95h1v1h-1z" fill="#ff00ae"/>
<path d="M97 95h1v1h-1z" fill="#ff00ab"/>
<path d="M98 95h1v1h-1z" fill="#ff00a8"/>
<path d="M99 95h1v1h-1z" fill="#ff00a5"/>
<path d="M100 95h1v1h-1z" fill="#ff00a2"/>
<path d="M101 95h1v1h-1z" fill="#ff009f"/>
<path d="M102 95h1v1h-1z" fill="#ff009d"/>
<path d="M103 95h1v1h-1z" fill="#ff009a"/>
<path d="M104 95h1v1h-1z" fill="#ff0098"/>
<path d="M105 95h1v1h-1z" fill="#ff0095"/>
<path d="M106 95h1v1h-1z" fill="#ff0093"/>
<path d="M107 95h1v1h-1z" fill="#ff0091"/>
<path d="M108 95h1v1h-1z" fill="#ff008f"/>
<path d="M46 96h1v1h-1z" fill="#00abfc"/>
<path d="M47 96h1v1h-1z" fill="#00a9fc"/>
<path d="M48 96h1v1h-1z" fill="#00a6fd"/>
<path d="M49 96h1v1h-1z" fill="#00a3fd"/>
<path d="M50 96h1v1h-1z" fill="#00a0fe"/>
<path d="M51 96h1v1h-1z" fill="#009cfe"/>
<path d="M52 96h1v1h-1z" fill="#0098ff"/>
<path d="M53 96h1v1h-1z" fill="#0094ff"/>
<path d="M54 96h1v1h-1z" fill="#008fff"/>
<path d="M55 96h1v1h-1z" fill="#008aff"/>
<path d="M56 96h1v1h-1z" fill="#0084ff"/>
<path d="M57 96h1v1h-1z" fill="#007dff"/>
<path d="M58 96h1v1h-1z" fill="#0075ff"/>
<path d="M59 96h1v1h-1z" fill="#006bff"/>
<path d="M60 96h1v1h-1z" fill="#376aff"/>
<path d="M61 96h1v1h-1z" fill="#4c68ff"/>
<path d="M62 96h1v1h-1z" fill="#5c66ff"/>
<path d="M63 96h1v1h-1z" fill="#7063ff"/>
<path d="M64 96h1v1h-1z" fill="#8660ff"/>
<path d="M65 96h1v1h-1z" fill="#945dff"/>
<path d="M66 96h1v1h-1z" fill="#a05aff"/>
<path d="M67 96h1v1h-1z" fill="#a956ff"/>
<path d="M68 96h1v1h-1z" fill="#b252ff"/>
<path d="M69 96h1v1h-1z" fill="#ba4eff"/>
<path d="M70 96h1v1h-1z" fill="#c14aff"/>
<path d="M71 96h1v1h-1z" fill="#c845ff"/>
<path d="M72 96h1v1h-1z" fill="#ce3fff"/>
<path d="M73 96h1v1h-1z" fill="#d439ff"/>
<path d="M74 96h1v1h-1z" fill="#da32ff"/>
<path d="M75 96h1v1h-1z" fill="#df28ff"/>
<path d="M76 96h1v1h-1z" fill="#e41bff"/>
<path d="M77 96h1v1h-1z" fill="#ea00ff"/>
<path d="M78 96h1v1h-1z" fill="#ef00ff"/>
<path d="M79 96h1v1h-1z" fill="#f400ff"/>
<path d="M80 96h1v1h-1z" fill="#f800ff"/>
<path d="M81 96h1v1h-1z" fill="#fd00ff"/>
<path d="M82 96h1v1h-1z" fill="#ff00fb"/>
<path d="M83 96h1v1h-1z" fill="#ff00f3"/>
<path d="M84 96h1v1h-1z" fill="#ff00eb"/>
<path d="M85 96h1v1h-1z" fill="#ff00e5"/>
<path d="M86 96h1v1h-1z" fill="#ff00de"/>
<path d="M87 96h1v1h-1z" fill="#ff00d8"/>
<path d="M88 96h1v1h-1z" fill="#ff00d3"/>
<path d="M89 96h1v1h-1z" fill="#ff00ce"/>
<path d="M90 96h1v1h-1z" fill="#ff00c9"/>
<path d="M91 96h1v1h-1z" fill="#ff00c4"/>
<path d="M92 96h1v1h-1z" fill="#ff00c0"/>
<path d="M93 96h1v1h-1z" fill="#ff00bc"/>
<path d="M94 96h1v1h-1z" fill="#ff00b8"/>
<path d="M95 96h1v1h-1z" fill="#ff00b5"/>
<path d="M96 96h1v1h-1z" fill="#ff00b1"/>
<path d="M97 96h1v1h-1z" fill="#ff00ae"/>
<path d="M98 96h1v1h-1z" fill="#ff00ab"/>
<path d="M99 96h1v1h-1z" fill="#ff00a8"/>
<path d="M100 96h1v1h-1z" fill="#ff00a5"/>
<path d="M101 96h1v1h-1z" fill="#ff00a2"/>
<path d="M102 96h1v1h-1z" fill="#ff009f"/>
<path d="M103 96h1v1h-1z" fill="#ff009d"/>
<path d="M104 96h1v1h-1z" fill="#ff009a"/>
<path d="M105 96h1v1h-1z" fill="#ff0098"/>
<path d="M47 97h1v1h-1z" fill="#00a4fd"/>
<path d="M48 97h1v1h-1z" fill="#00a1fe"/>
<path d="M49 97h1v1h-1z" fill="#009efe"/>
<path d="M50 97h1v1h-1z" fill="#009bfe"/>
<path d="M51 97h1v1h-1z" fill="#0097ff"/>
<path d="M52 97h1v1h-1z" fill="#0093ff"/>
<path d="M53 97h1v1h-1z" fill="#008eff"/>
<path d="M54 97h1v1h-1z" fill="#0089ff"/>
<path d="M55 97h1v1h-1z" fill="#0083ff"/>
<path d="M56 97h1v1h-1z" fill="#007cff"/>
<path d="M57 97h1v1h-1z" fill="#0074ff"/>
<path d="M58 97h1v1h-1z" fill="#006bff"/>
<path d="M59 97h1v1h-1z" fill="#2164ff"/>
<path d="M60 97h1v1h-1z" fill="#3f62ff"/>
<path d="M61 97h1v1h-1z" fill="#525fff"/>
<path d="M62 97h1v1h-1z" fill="#625dff"/>
<path d="M63 97h1v1h-1z" fill="#7e5aff"/>
<path d="M64 97h1v1h-1z" fill="#8d56ff"/>
<path d="M65 97h1v1h-1z" fill="#9953ff"/>
<path d="M66 97h1v1h-1z" fill="#a34fff"/>
<path d="M67 97h1v1h-1z" fill="#ac4aff"/>
<path d="M68 97h1v1h-1z" fill="#b446ff"/>
<path d="M69 97h1v1h-1z" fill="#bc41ff"/>
<path d="M70 97h1v1h-1z" fill="#c33bff"/>
<path d="M71 97h1v1h-1z" fill="#c934ff"/>
<path d="M72 97h1v1h-1z" fill="#cf2cff"/>
<path d="M73 97h1v1h-1z" fill="#d522ff"/>
<path d="M74 97h1v1h-1z" fill="#da10ff"/>
<path d="M75 97h1v1h-1z" fill="#e000ff"/>
<path d="M76 97h1v1h-1z" fill="#e500ff"/>
<path d="M77 97h1v1h-1z" fill="#ea00ff"/>
<path d="M78 97h1v1h-1z" fill="#ef00ff"/>
<path d="M79 97h1v1h-1z" fill="#f400ff"/>
<path d="M80 97h1v1h-1z" fill="#f800ff"/>
<path d="M81 97h1v1h-1z" fill="#fd00ff"/>
<path d="M82 97h1v1h-1z" fill="#ff00fb"/>
<path d="M83 97h1v1h-1z" fill="#ff00f4"/>
<path d="M84 97h1v1h-1z" fill="#ff00ed"/>
<path d="M85 97h1v1h-1z" fill="#ff00e6"/>
<path d="M86 97h1v1h-1z" fill="#ff00e0"/>
<path d="M87 97h1v1h-1z" fill="#ff00da"/>
<path d="M88 97h1v1h-1z" fill="#ff00d5"/>
<path d="M89 97h1v1h-1z" fill="#ff00d0"/>
<path d="M90 97h1v1h-1z" fill="#ff00cb"/>
<path d="M91 97h1v1h-1z" fill="#ff00c7"/>
<path d="M92 97h1v1h-1z" fill="#ff00c2"/>
<path d="M93 97h1v1h-1z" fill="#ff00be"/>
<path d="M94 97h1v1h-1z" fill="#ff00bb"/>
<path d="M95 97h1v1h-1z" fill="#ff00b7"/>
<path d="M96 97h1v1h-1z" fill="#ff00b4"/>
<path d="M97 97h1v1h-1z" fill="#ff00b0"/>
<path d="M98 97h1v1h-1z" fill="#ff00ad"/>
<path d="M99 97h1v1h-1z" fill="#ff00aa"/>
<path d="M100 97h1v1h-1z" fill="#ff00a7"/>
<path d="M101 97h1v1h-1z" fill="#ff00a5"/>
<path d="M102 97h1v1h-1z" fill="#ff00a2"/>
<path d="M47 98h1v1h-1z" fill="#00a0fe"/>
<path d="M48 98h1v1h-1z" fill="#009dfe"/>
<path d="M49 98h1v1h-1z" fill="#0099ff"/>
<path d="M50 98h1v1h-1z" fill="#0096ff"/>
<path d="M51 98h1v1h-1z" fill="#0091ff"/>
<path d="M52 98h1v1h-1z" fill="#008dff"/>
<path d="M53 98h1v1h-1z" fill="#0088ff"/>
<path d="M54 98h1v1h-1z" fill="#0082ff"/>
<path d="M55 98h1v1h-1z" fill="#007bff"/>
<path d="M56 98h1v1h-1z" fill="#0074ff"/>
<path d="M57 98h1v1h-1z" fill="#006bff"/>
<path d="M58 98h1v1h-1z" fill="#0060ff"/>
<path d="M59 98h1v1h-1z" fill="#2f5cff"/>
<path d="M60 98h1v1h-1z" fill="#4659ff"/>
<path d="M61 98h1v1h-1z" fill="#5756ff"/>
<path d="M62 98h1v1h-1z" fill="#7553ff"/>
<path d="M63 98h1v1h-1z" fill="#864fff"/>
<path d="M64 98h1v1h-1z" fill="#934bff"/>
<path d="M65 98h1v1h-1z" fill="#9d47ff"/>
<path d="M66 98h1v1h-1z" fill="#a742ff"/>
<path d="M67 98h1v1h-1z" fill="#af3dff"/>
<path d="M68 98h1v1h-1z" fill="#b737ff"/>
<path d="M69 98h1v1h-1z" fill="#be30ff"/>
<path d="M70 98h1v1h-1z" fill="#c427ff"/>
<path d="M71 98h1v1h-1z" fill="#ca1aff"/>
<path d="M72 98h1v1h-1z" fill="#d000ff"/>
<path d="M73 98h1v1h-1z" fill="#d600ff"/>
<path d="M74 98h1v1h-1z" fill="#dc00ff"/>
<path d="M75 98h1v1h-1z" fill="#e100ff"/>
<path d="M76 98h1v1h-1z" fill="#e600ff"/>
<path d="M77 98h1v1h-1z" fill="#eb00ff"/>
<path d="M78 98h1v1h-1z" fill="#f000ff"/>
<path d="M79 98h1v1h-1z" fill="#f400ff"/>
<path d="M80 98h1v1h-1z" fill="#f800ff"/>
<path d="M81 98h1v1h-1z" fill="#fc00ff"/>
<path d="M82 98h1v1h-1z" fill="#ff00fc"/>
<path d="M83 98h1v1h-1z" fill="#ff00f5"/>
<path d="M84 98h1v1h-1z" fill="#ff00ee"/>
<path d="M85 98h1v1h-1z" fill="#ff00e7"/>
<path d="M86 98h1v1h-1z" fill="#ff00e2"/>
<path d="M87 98h1v1h-1z" fill="#ff00dc"/>
<path d="M88 98h1v1h-1z" fill="#ff00d7"/>
<path d="M89 98h1v1h-1z" fill="#ff00d2"/>
<path d="M90 98h1v1h-1z" fill="#ff00cd"/>
<path d="M91 98h1v1h-1z" fill="#ff00c9"/>
<path d="M92 98h1v1h-1z" fill="#ff00c5"/>
<path d="M93 98h1v1h-1z" fill="#ff00c1"/>
<path d="M94 98h1v1h-1z" fill="#ff00bd"/>
<path d="M95 98h1v1h-1z" fill="#ff00b9"/>
<path d="M96 98h1v1h-1z" fill="#ff00b6"/>
<path d="M97 98h1v1h-1z" fill="#ff00b3"/>
<path d="M98 98h1v1h-1z" fill="#ff00b0"/>
<path d="M99 98h1v1h-1z" fill="#ff00ad"/>
<path d="M48 99h1v1h-1z" fill="#0098ff"/>
<path d="M49 99h1v1h-1z" fill="#0094ff"/>
<path d="M50 99h1v1h-1z" fill="#0090ff"/>
<path d="M51 99h1v1h-1z" fill="#008cff"/>
<path d="M52 99h1v1h-1z" fill="#0087ff"/>
<path d="M53 99h1v1h-1z" fill="#0081ff"/>
<path d="M54 99h1v1h-1z" fill="#007bff"/>
<path d="M55 99h1v1h-1z" fill="#0073ff"/>
<path d="M56 99h1v1h-1z" fill="#006bff"/>
<path d="M57 99h1v1h-1z" fill="#0060ff"/>
<path d="M58 99h1v1h-1z" fill="#1355ff"/>
<path d="M59 99h1v1h-1z" fill="#3952ff"/>
<path d="M60 99h1v1h-1z" fill="#4d4fff"/>
<path d="M61 99h1v1h-1z" fill="#6b4cff"/>
<path d="M62 99h1v1h-1z" fill="#7e48ff"/>
<path d="M63 99h1v1h-1z" fill="#8c43ff"/>
<path d="M64 99h1v1h-1z" fill="#973eff"/>
<path d="M65 99h1v1h-1z" fill="#a139ff"/>
<path d="M66 99h1v1h-1z" fill="#aa32ff"/>
<path d="M67 99h1v1h-1z" fill="#b12bff"/>
<path d="M68 99h1v1h-1z" fill="#b921ff"/>
<path d="M69 99h1v1h-1z" fill="#bf0fff"/>
<path d="M70 99h1v1h-1z" fill="#c600ff"/>
<path d="M71 99h1v1h-1z" fill="#cd00ff"/>
<path d="M72 99h1v1h-1z" fill="#d200ff"/>
<path d="M73 99h1v1h-1z" fill="#d800ff"/>
<path d="M74 99h1v1h-1z" fill="#dd00ff"/>
<path d="M75 99h1v1h-1z" fill="#e200ff"/>
<path d="M76 99h1v1h-1z" fill="#e700ff"/>
<path d="M77 99h1v1h-1z" fill="#ec00ff"/>
<path d="M78 99h1v1h-1z" fill="#f000ff"/>
<path d="M79 99h1v1h-1z" fill="#f400ff"/>
<path d="M80 99h1v1h-1z" fill="#f800ff"/>
<path d="M81 99h1v1h-1z" fill="#fc00ff"/>
<path d="M82 99h1v1h-1z" fill="#ff00fd"/>
<path d="M83 99h1v1h-1z" fill="#ff00f6"/>
<path d="M84 99h1v1h-1z" fill="#ff00ef"/>
<path d="M85 99h1v1h-1z" fill="#ff00e9"/>
<path d="M86 99h1v1h-1z" fill="#ff00e3"/>
<path d="M87 99h1v1h-1z" fill="#ff00de"/>
<path d="M88 99h1v1h-1z" fill="#ff00d8"/>
<path d="M89 99h1v1h-1z" fill="#ff00d4"/>
<path d="M90 99h1v1h-1z" fill="#ff00cf"/>
<path d="M91 99h1v1h-1z" fill="#ff00cb"/>
<path d="M92 99h1v1h-1z" fill="#ff00c7"/>
<path d="M93 99h1v1h-1z" fill="#ff00c3"/>
<path d="M94 99h1v1h-1z" fill="#ff00bf"/>
<path d="M95 99h1v1h-1z" fill="#ff00bc"/>
<path d="M96 99h1v1h-1z" fill="#ff00b8"/>
<path d="M48 100h1v1h-1z" fill="#0093ff"/>
<path d="M49 100h1v1h-1z" fill="#008fff"/>
<path d="M50 100h1v1h-1z" fill="#008bff"/>
<path d="M51 100h1v1h-1z" fill="#0086ff"/>
<path d="M52 100h1v1h-1z" fill="#0080ff"/>
<path d="M53 100h1v1h-1z" fill="#007aff"/>
<path d="M54 100h1v1h-1z" fill="#0073ff"/>
<path d="M55 100h1v1h-1z" fill="#006bff"/>
<path d="M56 100h1v1h-1z" fill="#0061ff"/>
<path d="M57 100h1v1h-1z" fill="#0054ff"/>
<path d="M58 100h1v1h-1z" fill="#274cff"/>
<path d="M59 100h1v1h-1z" fill="#4148ff"/>
<path d="M60 100h1v1h-1z" fill="#6144ff"/>
<path d="M61 100h1v1h-1z" fill="#7640ff"/>
<path d="M62 100h1v1h-1z" fill="#853aff"/>
<path d="M63 100h1v1h-1z" fill="#9135ff"/>
<path d="M64 100h1v1h-1z" fill="#9b2eff"/>
<path d="M65 100h1v1h-1z" fill="#a425ff"/>
<path d="M66 100h1v1h-1z" fill="#ad19ff"/>
<path d="M67 100h1v1h-1z" fill="#b500ff"/>
<path d="M68 100h1v1h-1z" fill="#bc00ff"/>
<path d="M69 100h1v1h-1z" fill="#c300ff"/>
<path d="M70 100h1v1h-1z" fill="#c900ff"/>
<path d="M71 100h1v1h-1z" fill="#cf00ff"/>
<path d="M72 100h1v1h-1z" fill="#d400ff"/>
<path d="M73 100h1v1h-1z" fill="#da00ff"/>
<path d="M74 100h1v1h-1z" fill="#df00ff"/>
<path d="M75 100h1v1h-1z" fill="#e300ff"/>
<path d="M76 100h1v1h-1z" fill="#e800ff"/>
<path d="M77 100h1v1h-1z" fill="#ec00ff"/>
<path d="M78 100h1v1h-1z" fill="#f000ff"/>
<path d="M79 100h1v1h-1z" fill="#f500ff"/>
<path d="M80 100h1v1h-1z" fill="#f800ff"/>
<path d="M81 100h1v1h-1z" fill="#fc00ff"/>
<path d="M82 100h1v1h-1z" fill="#ff00fd"/>
<path d="M83 100h1v1h-1z" fill="#ff00f6"/>
<path d="M84 100h1v1h-1z" fill="#ff00f0"/>
<path d="M85 100h1v1h-1z" fill="#ff00ea"/>
<path d="M86 100h1v1h-1z" fill="#ff00e4"/>
<path d="M87 100h1v1h-1z" fill="#ff00df"/>
<path d="M88 100h1v1h-1z" fill="#ff00da"/>
<path d="M89 100h1v1h-1z" fill="#ff00d5"/>
<path d="M90 100h1v1h-1z" fill="#ff00d1"/>
<path d="M91 100h1v1h-1z" fill="#ff00cd"/>
<path d="M92 100h1v1h-1z" fill="#ff00c9"/>
<path d="M93 100h1v1h-1z" fill="#ff00c5"/>
<path d="M49 101h1v1h-1z" fill="#008aff"/>
<path d="M50 101h1v1h-1z" fill="#0085ff"/>
<path d="M51 101h1v1h-1z" fill="#007fff"/>
<path d="M52 101h1v1h-1z" fill="#0079ff"/>
<path d="M53 101h1v1h-1z" fill="#0072ff"/>
<path d="M54 101h1v1h-1z" fill="#006aff"/>
<path d="M55 101h1v1h-1z" fill="#0061ff"/>
<path d="M56 101h1v1h-1z" fill="#0055ff"/>
<path d="M57 101h1v1h-1z" fill="#0046ff"/>
<path d="M58 101h1v1h-1z" fill="#3241ff"/>
<path d="M59 101h1v1h-1z" fill="#543cff"/>
<path d="M60 101h1v1h-1z" fill="#6e37ff"/>
<path d="M61 101h1v1h-1z" fill="#7e30ff"/>
<path d="M62 101h1v1h-1z" fill="#8b29ff"/>
<path d="M63 101h1v1h-1z" fill="#961fff"/>
<path d="M64 101h1v1h-1z" fill="#a00eff"/>
<path d="M65 101h1v1h-1z" fill="#a900ff"/>
<path d="M66 101h1v1h-1z" fill="#b100ff"/>
<path d="M67 101h1v1h-1z" fill="#b800ff"/>
<path d="M68 101h1v1h-1z" fill="#bf00ff"/>
<path d="M69 101h1v1h-1z" fill="#c500ff"/>
<path d="M70 101h1v1h-1z" fill="#cb00ff"/>
<path d="M71 101h1v1h-1z" fill="#d100ff"/>
<path d="M72 101h1v1h-1z" fill="#d600ff"/>
<path d="M73 101h1v1h-1z" fill="#db00ff"/>
<path d="M74 101h1v1h-1z" fill="#e000ff"/>
<path d="M75 101h1v1h-1z" fill="#e400ff"/>
<path d="M76 101h1v1h-1z" fill="#e900ff"/>
<path d="M77 101h1v1h-1z" fill="#ed00ff"/>
<path d="M78 101h1v1h-1z" fill="#f100ff"/>
<path d="M79 101h1v1h-1z" fill="#f500ff"/>
<path d="M80 101h1v1h-1z" fill="#f800ff"/>
<path d="M81 101h1v1h-1z" fill="#fc00ff"/>
<path d="M82 101h1v1h-1z" fill="#ff00fe"/>
<path d="M83 101h1v1h-1z" fill="#ff00f7"/>
<path d="M84 101h1v1h-1z" fill="#ff00f1"/>
<path d="M85 101h1v1h-1z" fill="#ff00eb"/>
<path d="M86 101h1v1h-1z" fill="#ff00e6"/>
<path d="M87 101h1v1h-1z" fill="#ff00e0"/>
<path d="M88 101h1v1h-1z" fill="#ff00db"/>
<path d="M89 101h1v1h-1z" fill="#ff00d7"/>
<path d="M90 101h1v1h-1z" fill="#ff00d2"/>
<path d="M49 102h1v1h-1z" fill="#0084ff"/>
<path d="M50 102h1v1h-1z" fill="#007fff"/>
<path d="M51 102h1v1h-1z" fill="#0079ff"/>
<path d="M52 102h1v1h-1z" fill="#0072ff"/>
<path d="M53 102h1v1h-1z" fill="#006aff"/>
<path d="M54 102h1v1h-1z" fill="#0061ff"/>
<path d="M55 102h1v1h-1z" fill="#0056ff"/>
<path d="M56 102h1v1h-1z" fill="#0048ff"/>
<path d="M57 102h1v1h-1z" fill="#1c38ff"/>
<path d="M58 102h1v1h-1z" fill="#4533ff"/>
<path d="M59 102h1v1h-1z" fill="#652cff"/>
<path d="M60 102h1v1h-1z" fill="#7724ff"/>
<path d="M61 102h1v1h-1z" fill="#8618ff"/>
<path d="M62 102h1v1h-1z" fill="#9200ff"/>
<path d="M63 102h1v1h-1z" fill="#9d00ff"/>
<path d="M64 102h1v1h-1z" fill="#a600ff"/>
<path d="M65 102h1v1h-1z" fill="#ae00ff"/>
<path d="M66 102h1v1h-1z" fill="#b500ff"/>
<path d="M67 102h1v1h-1z" fill="#bc00ff"/>
<path d="M68 102h1v1h-1z" fill="#c200ff"/>
<path d="M69 102h1v1h-1z" fill="#c800ff"/>
<path d="M70 102h1v1h-1z" fill="#cd00ff"/>
<path d="M71 102h1v1h-1z" fill="#d300ff"/>
<path d="M72 102h1v1h-1z" fill="#d800ff"/>
<path d="M73 102h1v1h-1z" fill="#dc00ff"/>
<path d="M74 102h1v1h-1z" fill="#e100ff"/>
<path d="M75 102h1v1h-1z" fill="#e500ff"/>
<path d="M76 102h1v1h-1z" fill="#e900ff"/>
<path d="M77 102h1v1h-1z" fill="#ed00ff"/>
<path d="M78 102h1v1h-1z" fill="#f100ff"/>
<path d="M79 102h1v1h-1z" fill="#f500ff"/>
<path d="M80 102h1v1h-1z" fill="#f800ff"/>
<path d="M81 102h1v1h-1z" fill="#fc00ff"/>
<path d="M82 102h1v1h-1z" fill="#ff00fe"/>
<path d="M83 102h1v1h-1z" fill="#ff00f8"/>
<path d="M84 102h1v1h-1z" fill="#ff00f2"/>
<path d="M85 102h1v1h-1z" fill="#ff00ec"/>
<path d="M86 102h1v1h-1z" fill="#ff00e7"/>
<path d="M87 102h1v1h-1z" fill="#ff00e2"/>
<path d="M50 103h1v1h-1z" fill="#0078ff"/>
<path d="M51 103h1v1h-1z" fill="#0072ff"/>
<path d="M52 103h1v1h-1z" fill="#006aff"/>
<path d="M53 103h1v1h-1z" fill="#0061ff"/>
<path d="M54 103h1v1h-1z" fill="#0057ff"/>
<path d="M55 103h1v1h-1z" fill="#0049ff"/>
<path d="M56 103h1v1h-1z" fill="#0036ff"/>
<path d="M57 103h1v1h-1z" fill="#2f28ff"/>
<path d="M58 103h1v1h-1z" fill="#5c1eff"/>
<path d="M59 103h1v1h-1z" fill="#720eff"/>
<path d="M60 103h1v1h-1z" fill="#8200ff"/>
<path d="M61 103h1v1h-1z" fill="#8f00ff"/>
<path d="M62 103h1v1h-1z" fill="#9900ff"/>
<path d="M63 103h1v1h-1z" fill="#a200ff"/>
<path d="M64 103h1v1h-1z" fill="#aa00ff"/>
<path d="M65 103h1v1h-1z" fill="#b200ff"/>
<path d="M66 103h1v1h-1z" fill="#b900ff"/>
<path d="M67 103h1v1h-1z" fill="#bf00ff"/>
<path d="M68 103h1v1h-1z" fill="#c500ff"/>
<path d="M69 103h1v1h-1z" fill="#ca00ff"/>
<path d="M70 103h1v1h-1z" fill="#cf00ff"/>
<path d="M71 103h1v1h-1z" fill="#d400ff"/>
<path d="M72 103h1v1h-1z" fill="#d900ff"/>
<path d="M73 103h1v1h-1z" fill="#dd00ff"/>
<path d="M74 103h1v1h-1z" fill="#e200ff"/>
<path d="M75 103h1v1h-1z" fill="#e600ff"/>
<path d="M76 103h1v1h-1z" fill="#ea00ff"/>
<path d="M77 103h1v1h-1z" fill="#ee00ff"/>
<path d="M78 103h1v1h-1z" fill="#f100ff"/>
<path d="M79 103h1v1h-1z" fill="#f500ff"/>
<path d="M80 103h1v1h-1z" fill="#f800ff"/>
<path d="M81 103h1v1h-1z" fill="#fc00ff"/>
<path d="M82 103h1v1h-1z" fill="#ff00ff"/>
<path d="M83 103h1v1h-1z" fill="#ff00f8"/>
<path d="M84 103h1v1h-1z" fill="#ff00f3"/>
<path d="M51 104h1v1h-1z" fill="#006aff"/>
<path d="M52 104h1v1h-1z" fill="#0062ff"/>
<path d="M53 104h1v1h-1z" fill="#0057ff"/>
<path d="M54 104h1v1h-1z" fill="#004bff"/>
<path d="M55 104h1v1h-1z" fill="#0039ff"/>
<path d="M56 104h1v1h-1z" fill="#0717ff"/>
<path d="M57 104h1v1h-1z" fill="#5600ff"/>
<path d="M58 104h1v1h-1z" fill="#6e00ff"/>
<path d="M59 104h1v1h-1z" fill="#7f00ff"/>
<path d="M60 104h1v1h-1z" fill="#8b00ff"/>
<path d="M61 104h1v1h-1z" fill="#9600ff"/>
<path d="M62 104h1v1h-1z" fill="#9f00ff"/>
<path d="M63 104h1v1h-1z" fill="#a700ff"/>
<path d="M64 104h1v1h-1z" fill="#af00ff"/>
<path d="M65 104h1v1h-1z" fill="#b500ff"/>
<path d="M66 104h1v1h-1z" fill="#bc00ff"/>
<path d="M67 104h1v1h-1z" fill="#c200ff"/>
<path d="M68 104h1v1h-1z" fill="#c700ff"/>
<path d="M69 104h1v1h-1z" fill="#cc00ff"/>
<path d="M70 104h1v1h-1z" fill="#d100ff"/>
<path d="M71 104h1v1h-1z" fill="#d600ff"/>
<path d="M72 104h1v1h-1z" fill="#da00ff"/>
<path d="M73 104h1v1h-1z" fill="#df00ff"/>
<path d="M74 104h1v1h-1z" fill="#e300ff"/>
<path d="M75 104h1v1h-1z" fill="#e700ff"/>
<path d="M76 104h1v1h-1z" fill="#ea00ff"/>
<path d="M77 104h1v1h-1z" fill="#ee00ff"/>
<path d="M78 104h1v1h-1z" fill="#f200ff"/>
<path d="M79 104h1v1h-1z" fill="#f500ff"/>
<path d="M80 104h1v1h-1z" fill="#f900ff"/>
<path d="M81 104h1v1h-1z" fill="#fc00ff"/>
<path d="M51 105h1v1h-1z" fill="#0062ff"/>
<path d="M52 105h1v1h-1z" fill="#0058ff"/>
<path d="M53 105h1v1h-1z" fill="#004cff"/>
<path d="M54 105h1v1h-1z" fill="#003cff"/>
<path d="M55 105h1v1h-1z" fill="#001fff"/>
<path d="M56 105h1v1h-1z" fill="#5000ff"/>
<path d="M57 105h1v1h-1z" fill="#6a00ff"/>
<path d="M58 105h1v1h-1z" fill="#7b00ff"/>
<path d="M59 105h1v1h-1z" fill="#8800ff"/>
<path d="M60 105h1v1h-1z" fill="#9300ff"/>
<path d="M61 105h1v1h-1z" fill="#9c00ff"/>
<path d="M62 105h1v1h-1z" fill="#a400ff"/>
<path d="M63 105h1v1h-1z" fill="#ac00ff"/>
<path d="M64 105h1v1h-1z" fill="#b200ff"/>
<path d="M65 105h1v1h-1z" fill="#b900ff"/>
<path d="M66 105h1v1h-1z" fill="#be00ff"/>
<path d="M67 105h1v1h-1z" fill="#c400ff"/>
<path d="M68 105h1v1h-1z" fill="#c900ff"/>
<path d="M69 105h1v1h-1z" fill="#ce00ff"/>
<path d="M70 105h1v1h-1z" fill="#d300ff"/>
<path d="M71 105h1v1h-1z" fill="#d700ff"/>
<path d="M72 105h1v1h-1z" fill="#db00ff"/>
<path d="M73 105h1v1h-1z" fill="#e000ff"/>
<path d="M74 105h1v1h-1z" fill="#e300ff"/>
<path d="M75 105h1v1h-1z" fill="#e700ff"/>
<path d="M76 105h1v1h-1z" fill="#eb00ff"/>
<path d="M77 105h1v1h-1z" fill="#ef00ff"/>
<path d="M78 105h1v1h-1z" fill="#f200ff"/>
<path d="M52 106h1v1h-1z" fill="#004dff"/>
<path d="M53 106h1v1h-1z" fill="#003eff"/>
<path d="M54 106h1v1h-1z" fill="#0025ff"/>
<path d="M55 106h1v1h-1z" fill="#4800ff"/>
<path d="M56 106h1v1h-1z" fill="#6600ff"/>
<path d="M57 106h1v1h-1z" fill="#7700ff"/>
<path d="M58 106h1v1h-1z" fill="#8400ff"/>
<path d="M59 106h1v1h-1z" fill="#8f00ff"/>
<path d="M60 106h1v1h-1z" fill="#9900ff"/>
<path d="M61 106h1v1h-1z" fill="#a100ff"/>
<path d="M62 106h1v1h-1z" fill="#a900ff"/>
<path d="M63 106h1v1h-1z" fill="#af00ff"/>
<path d="M64 106h1v1h-1z" fill="#b600ff"/>
<path d="M65 106h1v1h-1z" fill="#bc00ff"/>
<path d="M66 106h1v1h-1z" fill="#c100ff"/>
<path d="M67 106h1v1h-1z" fill="#c600ff"/>
<path d="M68 106h1v1h-1z" fill="#cb00ff"/>
<path d="M69 106h1v1h-1z" fill="#d000ff"/>
<path d="M70 106h1v1h-1z" fill="#d400ff"/>
<path d="M71 106h1v1h-1z" fill="#d800ff"/>
<path d="M72 106h1v1h-1z" fill="#dd00ff"/>
<path d="M73 106h1v1h-1z" fill="#e000ff"/>
<path d="M74 106h1v1h-1z" fill="#e400ff"/>
<path d="M75 106h1v1h-1z" fill="#e800ff"/>
<path d="M53 107h1v1h-1z" fill="#002aff"/>
<path d="M54 107h1v1h-1z" fill="#4000ff"/>
<path d="M55 107h1v1h-1z" fill="#6100ff"/>
<path d="M56 107h1v1h-1z" fill="#7300ff"/>
<path d="M57 107h1v1h-1z" fill="#8100ff"/>
<path d="M58 107h1v1h-1z" fill="#8c00ff"/>
<path d="M59 107h1v1h-1z" fill="#9600ff"/>
<path d="M60 107h1v1h-1z" fill="#9e00ff"/>
<path d="M61 107h1v1h-1z" fill="#a600ff"/>
<path d="M62 107h1v1h-1z" fill="#ad00ff"/>
<path d="M63 107h1v1h-1z" fill="#b300ff"/>
<path d="M64 107h1v1h-1z" fill="#b900ff"/>
<path d="M65 107h1v1h-1z" fill="#be00ff"/>
<path d="M66 107h1v1h-1z" fill="#c300ff"/>
<path d="M67 107h1v1h-1z" fill="#c800ff"/>
<path d="M68 107h1v1h-1z" fill="#cd00ff"/>
<path d="M69 107h1v1h-1z" fill="#d100ff"/>
<path d="M70 107h1v1h-1z" fill="#d600ff"/>
<path d="M71 107h1v1h-1z" fill="#da00ff"/>
<path d="M72 107h1v1h-1z" fill="#de00ff"/>
<path d="M54 108h1v1h-1z" fill="#5c00ff"/>
<path d="M55 108h1v1h-1z" fill="#7000ff"/>
<path d="M56 108h1v1h-1z" fill="#7e00ff"/>
<path d="M57 108h1v1h-1z" fill="#8900ff"/>
<path d="M58 108h1v1h-1z" fill="#9300ff"/>
<path d="M59 108h1v1h-1z" fill="#9b00ff"/>
<path d="M60 108h1v1h-1z" fill="#a300ff"/>
<path d="M61 108h1v1h-1z" fill="#aa00ff"/>
<path d="M62 108h1v1h-1z" fill="#b000ff"/>
<path d="M63 108h1v1h-1z" fill="#b600ff"/>
<path d="M64 108h1v1h-1z" fill="#bb00ff"/>
<path d="M65 108h1v1h-1z" fill="#c100ff"/>
<path d="M66 108h1v1h-1z" fill="#c600ff"/>
<path d="M67 108h1v1h-1z" fill="#ca00ff"/>
<path d="M68 108h1v1h-1z" fill="#cf00ff"/>
<path d="M69 108h1v1h-1z" fill="#d300ff"/>
<path d="M55 109h1v1h-1z" fill="#7b00ff"/>
<path d="M56 109h1v1h-1z" fill="#8600ff"/>
<path d="M57 109h1v1h-1z" fill="#9000ff"/>
<path d="M58 109h1v1h-1z" fill="#9900ff"/>
<path d="M59 109h1v1h-1z" fill="#a000ff"/>
<path d="M60 109h1v1h-1z" fill="#a700ff"/>
<path d="M61 109h1v1h-1z" fill="#ad00ff"/>
<path d="M62 109h1v1h-1z" fill="#b300ff"/>
<path d="M63 109h1v1h-1z" fill="#b900ff"/>
<path d="M64 109h1v1h-1z" fill="#be00ff"/>
<path d="M65 109h1v1h-1z" fill="#c300ff"/>
<path d="M66 109h1v1h-1z" fill="#c800ff"/>
<path d="M57 110h1v1h-1z" fill="#9600ff"/>
<path d="M58 110h1v1h-1z" fill="#9d00ff"/>
<path d="M59 110h1v1h-1z" fill="#a400ff"/>
<path d="M60 110h1v1h-1z" fill="#ab00ff"/>
<path d="M61 110h1v1h-1z" fill="#b100ff"/>
<path d="M62 110h1v1h-1z" fill="#b600ff"/>
<path d="M63 110h1v1h-1z" fill="#bb00ff"/>
<path d="M59 111h1v1h-1z" fill="#a800ff"/>
<path d="M60 111h1v1h-1z" fill="#ae00ff"/>
</g></g>
<path d="M719.5 1329.5 719.4 1329.5 719.4 1329.5 719.4 1329.5 719.3 1329.5 719.3 1329.5 719.2 1329.5 719.2 1329.6 719.1 1329.6 719.0 1329.6 718.9 1329.6 718.9 1329.6 718.8 1329.6 718.7 1329.6 718.7 1329.6 718.6 1329.6 718.5 1329.7 718.4 1329.7 718.3 1329.7 718.1 1329.7 718.0 1329.8 717.9 1329.8 717.8 1329.8 717.7 1329.8 717.6 1329.8 717.5 1329.8 717.4 1329.8 717.2 1329.8 717.1 1329.8 716.9 1329.8 716.8 1329.8 716.6 1329.8 716.4 1329.8 716.3 1329.8 716.1 1329.8 715.9 1329.8 715.7 1329.7 715.4 1329.7 715.2 1329.6 714.9 1329.5 714.6 1329.4 714.3 1329.2 713.9 1329.1 713.5 1328.9 713.1 1328.7 712.7 1328.5 712.2 1328.2 711.7 1328.0 711.3 1327.7 710.7 1327.4 710.1 1327.0 709.5 1326.7 708.8 1326.2 708.1 1325.8 707.4 1325.3 706.6 1324.8 705.7 1324.3 704.9 1323.7 704.0 1323.1 703.1 1322.5 702.1 1321.8 701.0 1321.2 699.9 1320.5 698.8 1319.7 697.5 1318.9 696.2 1318.1 694.7 1317.2 693.2 1316.2 691.6 1315.2 689.9 1314.1 688.1 1313.0 686.3 1311.8 684.4 1310.6 682.4 1309.4 680.3 1308.0 678.1 1306.5 675.8 1304.9 673.4 1303.3 670.9 1301.5 668.3 1299.5 665.5 1297.4 662.7 1295.2 659.9 1292.9 656.9 1290.4 653.7 1287.5 650.3 1284.2 646.6 1280.4 642.8 1276.3 638.7 1271.7 634.4 1266.7 629.9 1260.9 625.1 1254.7 620.2 1247.9 615.0 1240.6 609.6 1232.4 603.9 1223.3 597.9 1213.2 591.6 1202.4 585.1 1190.6 578.3 1177.7 571.1 1163.6 563.5 1148.4 555.5 1132.0 547.3 1114.5 538.9 1095.6 530.6 1075.3 522.3 1053.5 513.9 1030.2 505.4 1005.6 497.1 979.8 488.9 952.8 480.7 924.4 472.4 894.4 464.3 863.3 456.7 831.7 449.6 799.9 443.1 767.8 436.8 734.8 431.2 701.6 426.2 668.7 422.2 636.7 419.0 605.2 416.5 574.0 414.8 543.4 414.1 513.8 414.5 485.5 416.0 458.3 418.5 431.9 422.1 406.7 426.7 383.1 432.4 361.6 439.3 341.9 447.5 323.8 456.7 307.6 466.6 293.3 477.2 281.3 488.6 271.7 500.8 264.4 513.8 259.1 527.1 255.4 540.6 253.0 554.4 252.3 568.6 253.4 583.1 255.9 597.6 259.2 612.1 262.9 626.6 267.0 641.3 272.0 655.9 277.5 670.4 283.4 684.7 289.2 698.7 295.1 712.5 301.3 726.2 307.6 739.7 314.1 753.2 320.8 766.5 327.6 779.7 334.5 792.8 341.6 805.9 348.9 818.9 356.2 832.0 363.8 845.0 371.5 857.9 379.3 870.9 387.2 883.8 395.2 896.7 403.3 909.5 411.6 922.3 419.9 935.1 428.3 947.9 436.8 960.7 445.3 973.5 453.9 986.3 462.6 999.1 471.4 1011.9 480.2 1024.7 489.0 1037.6 497.9 1050.4 506.9 1063.2 515.8 1076.0 524.8 1088.8 533.9 1101.6 542.9 1114.4 552.0 1127.1 561.1 1139.8 570.2 1152.6 579.2 1165.3 588.3 1178.0 597.4 1190.7 606.5 1203.3 615.5 1215.8 624.5 1228.3 633.5 1240.8 642.5 1253.1 651.4 1265.4 660.3 1277.7 669.2 1289.9 677.9 1301.9 686.7 1313.9 695.4 1325.8 704.0 1337.6 712.5 1349.3 720.9 1360.9 729.3 1372.4 737.6 1383.7 745.8 1394.9 753.8 1406.0 761.8 1416.9 769.7 1427.7 777.4 1438.2 785.0 1448.5 792.5 1458.7 799.9 1468.7 807.1 1478.4 814.2 1487.8 821.0 1497.0 827.6 1505.8 834.0 1514.4 840.2 1522.8 846.2 1531.0 852.2 1539.0 858.0 1546.9 863.6 1554.5 869.1 1561.9 874.5 1569.0 879.6 1575.8 884.5 1582.4 889.2 1588.7 893.7 1594.7 898.0 1600.5 902.2 1606.1 906.2 1611.5 910.1 1616.6 913.8 1621.5 917.3 1626.2 920.7 1630.6 924.0 1634.9 927.1 1639.0 930.0 1642.8 932.9 1646.6 935.6 1650.2 938.1 1653.6 940.6 1656.8 942.9 1659.9 945.1 1662.9 947.2 1665.7 949.3 1668.5 951.3 1671.0 953.1 1673.5 955.0 1676.0 956.7 1678.3 958.4 1680.6 960.1 1682.8 961.7 1684.9 963.2 1686.9 964.6 1688.8 966.1 1690.7 967.4 1692.5 968.7 1694.2 970.0 1695.9 971.1 1697.4 972.3 1698.9 973.3 1700.4 974.3 1701.7 975.3 1703.0 976.2 1704.2 977.1 1705.4 977.9 1706.4 978.7 1707.4 979.4 1708.4 980.1 1709.3 980.8 1710.2 981.4 1711.0 982.0 1711.8 982.6 1712.5 983.1 1713.2 983.6 1713.9 984.1 1714.5 984.5 1715.0 984.9 1715.6 985.3 1716.0 985.6 1716.5 985.9 1716.8 986.2 1717.2 986.5 1717.5 986.7 1717.9 987.0 1718.2 987.2 1718.6 987.5 1718.9 987.7 1719.2 987.9 1719.4 988.1 1719.7 988.3 1719.9 988.5 1720.2 988.6 1720.4 988.8 1720.7 989.0 1720.9 989.2 1721.2 989.4 1721.4 989.5 1721.7 989.7 1721.9 989.9 1722.1 990.0 1722.3 990.2 1722.5 990.4 1722.7 990.5 1722.9 990.6 1723.1 990.7 1723.2 990.8 1723.3 990.9 1723.5 991.0 1723.6 991.1 1723.6 991.1 1723.7 991.2 1723.8 991.2 1723.8 991.3 1723.9 991.3 1723.9 991.3 1723.9 991.4 1724.0 991.4 1724.0 991.4Z" fill="none" stroke="#000" stroke-width="4.6" stroke-linejoin="miter"/>
<line x1="665.5" y1="1297.4" x2="638.8" y2="1314.9" stroke="#000" stroke-width="4.2"/>
<line x1="571.1" y1="1163.6" x2="537.2" y2="1172.5" stroke="#000" stroke-width="4.2"/>
<line x1="422.2" y1="636.7" x2="386.3" y2="638.8" stroke="#000" stroke-width="4.2"/>
<line x1="540.6" y1="253.0" x2="534.0" y2="227.3" stroke="#000" stroke-width="4.2"/>
<line x1="818.9" y1="356.2" x2="841.2" y2="335.7" stroke="#000" stroke-width="4.2"/>
<line x1="1076.0" y1="524.8" x2="1101.1" y2="506.1" stroke="#000" stroke-width="4.2"/>
<line x1="1325.8" y1="704.0" x2="1351.3" y2="685.5" stroke="#000" stroke-width="4.2"/>
<line x1="1531.0" y1="852.2" x2="1556.4" y2="833.7" stroke="#000" stroke-width="4.2"/>
<line x1="1646.6" y1="935.6" x2="1672.0" y2="917.0" stroke="#000" stroke-width="4.2"/>
<g fill="#000">
<rect x="395" y="1329" width="1442" height="3.5" fill="#7a857c"/>
<rect x="1845" y="96" width="3" height="1265" fill="#707a73"/>
<rect x="403.5" y="92" width="8" height="1268"/>
<rect x="1837" y="92" width="8" height="1266"/>
<rect x="393" y="92" width="1452" height="8"/>
<rect x="381" y="1332" width="1464" height="8"/>
<rect x="403.5" y="1336" width="8" height="25"/><rect x="403.5" y="96" width="8" height="26"/>
<rect x="493.1" y="1336" width="8" height="12"/><rect x="493.1" y="96" width="8" height="14"/>
<rect x="582.7" y="1336" width="8" height="25"/><rect x="582.7" y="96" width="8" height="26"/>
<rect x="672.3" y="1336" width="8" height="12"/><rect x="672.3" y="96" width="8" height="14"/>
<rect x="761.9" y="1336" width="8" height="25"/><rect x="761.9" y="96" width="8" height="26"/>
<rect x="851.5" y="1336" width="8" height="12"/><rect x="851.5" y="96" width="8" height="14"/>
<rect x="941.1" y="1336" width="8" height="25"/><rect x="941.1" y="96" width="8" height="26"/>
<rect x="1030.7" y="1336" width="8" height="12"/><rect x="1030.7" y="96" width="8" height="14"/>
<rect x="1120.2" y="1336" width="8" height="25"/><rect x="1120.2" y="96" width="8" height="26"/>
<rect x="1209.8" y="1336" width="8" height="12"/><rect x="1209.8" y="96" width="8" height="14"/>
<rect x="1299.4" y="1336" width="8" height="25"/><rect x="1299.4" y="96" width="8" height="26"/>
<rect x="1389.0" y="1336" width="8" height="12"/><rect x="1389.0" y="96" width="8" height="14"/>
<rect x="1478.6" y="1336" width="8" height="25"/><rect x="1478.6" y="96" width="8" height="26"/>
<rect x="1568.2" y="1336" width="8" height="12"/><rect x="1568.2" y="96" width="8" height="14"/>
<rect x="1657.8" y="1336" width="8" height="25"/><rect x="1657.8" y="96" width="8" height="26"/>
<rect x="1747.4" y="1336" width="8" height="12"/><rect x="1747.4" y="96" width="8" height="14"/>
<rect x="1837.0" y="1336" width="8" height="25"/><rect x="1837.0" y="96" width="8" height="26"/>
<rect x="381.5" y="1332.0" width="26" height="8"/><rect x="1815.0" y="1332.0" width="26" height="8"/>
<rect x="393.5" y="1267.1" width="14" height="8"/><rect x="1827.0" y="1267.1" width="14" height="8"/>
<rect x="381.5" y="1202.1" width="26" height="8"/><rect x="1815.0" y="1202.1" width="26" height="8"/>
<rect x="393.5" y="1137.2" width="14" height="8"/><rect x="1827.0" y="1137.2" width="14" height="8"/>
<rect x="381.5" y="1072.2" width="26" height="8"/><rect x="1815.0" y="1072.2" width="26" height="8"/>
<rect x="393.5" y="1007.3" width="14" height="8"/><rect x="1827.0" y="1007.3" width="14" height="8"/>
<rect x="381.5" y="942.3" width="26" height="8"/><rect x="1815.0" y="942.3" width="26" height="8"/>
<rect x="393.5" y="877.4" width="14" height="8"/><rect x="1827.0" y="877.4" width="14" height="8"/>
<rect x="381.5" y="812.4" width="26" height="8"/><rect x="1815.0" y="812.4" width="26" height="8"/>
<rect x="393.5" y="747.5" width="14" height="8"/><rect x="1827.0" y="747.5" width="14" height="8"/>
<rect x="381.5" y="682.6" width="26" height="8"/><rect x="1815.0" y="682.6" width="26" height="8"/>
<rect x="393.5" y="617.6" width="14" height="8"/><rect x="1827.0" y="617.6" width="14" height="8"/>
<rect x="381.5" y="552.7" width="26" height="8"/><rect x="1815.0" y="552.7" width="26" height="8"/>
<rect x="393.5" y="487.7" width="14" height="8"/><rect x="1827.0" y="487.7" width="14" height="8"/>
<rect x="381.5" y="422.8" width="26" height="8"/><rect x="1815.0" y="422.8" width="26" height="8"/>
<rect x="393.5" y="357.8" width="14" height="8"/><rect x="1827.0" y="357.8" width="14" height="8"/>
<rect x="381.5" y="292.9" width="26" height="8"/><rect x="1815.0" y="292.9" width="26" height="8"/>
<rect x="393.5" y="227.9" width="14" height="8"/><rect x="1827.0" y="227.9" width="14" height="8"/>
<rect x="381.5" y="163.0" width="26" height="8"/><rect x="1815.0" y="163.0" width="26" height="8"/>
</g>
<text transform="translate(407.5,1441.5) scale(1,1.035)" text-anchor="middle" class="t">0.0</text>
<text transform="translate(586.7,1441.5) scale(1,1.035)" text-anchor="middle" class="t">0.1</text>
<text transform="translate(765.9,1441.5) scale(1,1.035)" text-anchor="middle" class="t">0.2</text>
<text transform="translate(945.1,1441.5) scale(1,1.035)" text-anchor="middle" class="t">0.3</text>
<text transform="translate(1124.2,1441.5) scale(1,1.035)" text-anchor="middle" class="t">0.4</text>
<text transform="translate(1303.4,1441.5) scale(1,1.035)" text-anchor="middle" class="t">0.5</text>
<text transform="translate(1482.6,1441.5) scale(1,1.035)" text-anchor="middle" class="t">0.6</text>
<text transform="translate(1661.8,1441.5) scale(1,1.035)" text-anchor="middle" class="t">0.7</text>
<text transform="translate(1841.0,1441.5) scale(1,1.035)" text-anchor="middle" class="t">0.8</text>
<text transform="translate(373.0,1361.5) scale(1,1.035)" text-anchor="end" class="t">0.0</text>
<text transform="translate(373.0,1231.6) scale(1,1.035)" text-anchor="end" class="t">0.1</text>
<text transform="translate(373.0,1101.7) scale(1,1.035)" text-anchor="end" class="t">0.2</text>
<text transform="translate(373.0,971.8) scale(1,1.035)" text-anchor="end" class="t">0.3</text>
<text transform="translate(373.0,841.9) scale(1,1.035)" text-anchor="end" class="t">0.4</text>
<text transform="translate(373.0,712.1) scale(1,1.035)" text-anchor="end" class="t">0.5</text>
<text transform="translate(373.0,582.2) scale(1,1.035)" text-anchor="end" class="t">0.6</text>
<text transform="translate(373.0,452.3) scale(1,1.035)" text-anchor="end" class="t">0.7</text>
<text transform="translate(373.0,322.4) scale(1,1.035)" text-anchor="end" class="t">0.8</text>
<text transform="translate(373.0,192.5) scale(1,1.035)" text-anchor="end" class="t">0.9</text>
<text transform="translate(461.5,210.5) scale(1,1.035)" class="t">520</text>
<text transform="translate(793.0,311.5) scale(1,1.035)" class="t">540</text>
<text transform="translate(1071.7,470.5) scale(1,1.035)" class="t">560</text>
<text transform="translate(1322.9,653.0) scale(1,1.035)" class="t">580</text>
<text transform="translate(1524.5,798.0) scale(1,1.035)" class="t">600</text>
<text transform="translate(1647.5,880.0) scale(1,1.035)" class="t">620</text>
<text transform="translate(445.0,664.5) scale(1,1.035)" style="stroke:#00f0c1;stroke-width:1.1px">500</text>
<text transform="translate(415.4,1243.0) scale(1,1.035)" class="t">480</text>
<text transform="translate(484.4,1326.0) scale(1,1.035)" class="t">460</text>
<text transform="translate(1062.5,712.0) scale(1,1.100)" class="i" style="stroke:#daf444;stroke-width:1.1px">T</text>
<text transform="translate(783.5,980.5) scale(1,1.070)" class="i" style="stroke:#04cbf4;stroke-width:1.1px">R</text>
<text transform="translate(1580.5,261.5) scale(1,1.035)" class="t">FG</text>
<text transform="translate(1580.5,351.5) scale(1,1.035)" class="t">SLG</text>
<polygon points="1421.7,245.0 1465.7,245.0 1443.7,207.0" fill="#000"/>
<polygon points="1492.5,245.0 1536.5,245.0 1514.5,207.0" fill="#000"/><polygon points="1503.9,236.6 1525.1,236.6 1514.5,219.4" fill="#fff"/>
<polygon points="1421.7,308.0 1465.7,308.0 1443.7,346.0" fill="#000"/>
<polygon points="1492.5,308.0 1536.5,308.0 1514.5,346.0" fill="#000"/><polygon points="1503.9,316.4 1525.1,316.4 1514.5,333.6" fill="#fff"/>
<polygon points="780.0,1059.5 824.0,1059.5 802.0,1097.5" fill="#000"/><polygon points="791.4,1067.9 812.6,1067.9 802.0,1085.1" fill="#fff"/>
<polygon points="802.5,1081.5 846.5,1081.5 824.5,1119.5" fill="#000"/>
<polygon points="872.5,1067.0 916.5,1067.0 894.5,1029.0" fill="#000"/>
<polygon points="836.0,1063.5 880.0,1063.5 858.0,1025.5" fill="#000"/><polygon points="847.4,1055.1 868.6,1055.1 858.0,1037.9" fill="#fff"/>
<polygon points="1096.0,767.0 1140.0,767.0 1118.0,805.0" fill="#000"/><polygon points="1107.4,775.4 1128.6,775.4 1118.0,792.6" fill="#fff"/>
<polygon points="1096.0,768.5 1140.0,768.5 1118.0,806.5" fill="#000"/>
<polygon points="1072.0,804.8 1116.0,804.8 1094.0,766.8" fill="#000"/>
<polygon points="1093,767.5 1116,805.5 1122,805.5 1099,767.5" fill="#000"/>
<polygon points="1096.0,795.4 1140.0,795.4 1118.0,757.4" fill="#000"/><polygon points="1107.4,787.0 1128.6,787.0 1118.0,769.8" fill="#fff"/>
<text transform="translate(628.0,1596.5) scale(1,1.035)" class="t">Chromaticity coordinate <tspan class="i">x</tspan></text>
<text class="t" transform="translate(160.5,1196) rotate(-90) scale(1,1.035)">Chromaticity coordinate <tspan class="i">y</tspan></text>
<rect x="0" y="1605" width="2012" height="35" fill="#fff"/>
</svg>
</body></html>
